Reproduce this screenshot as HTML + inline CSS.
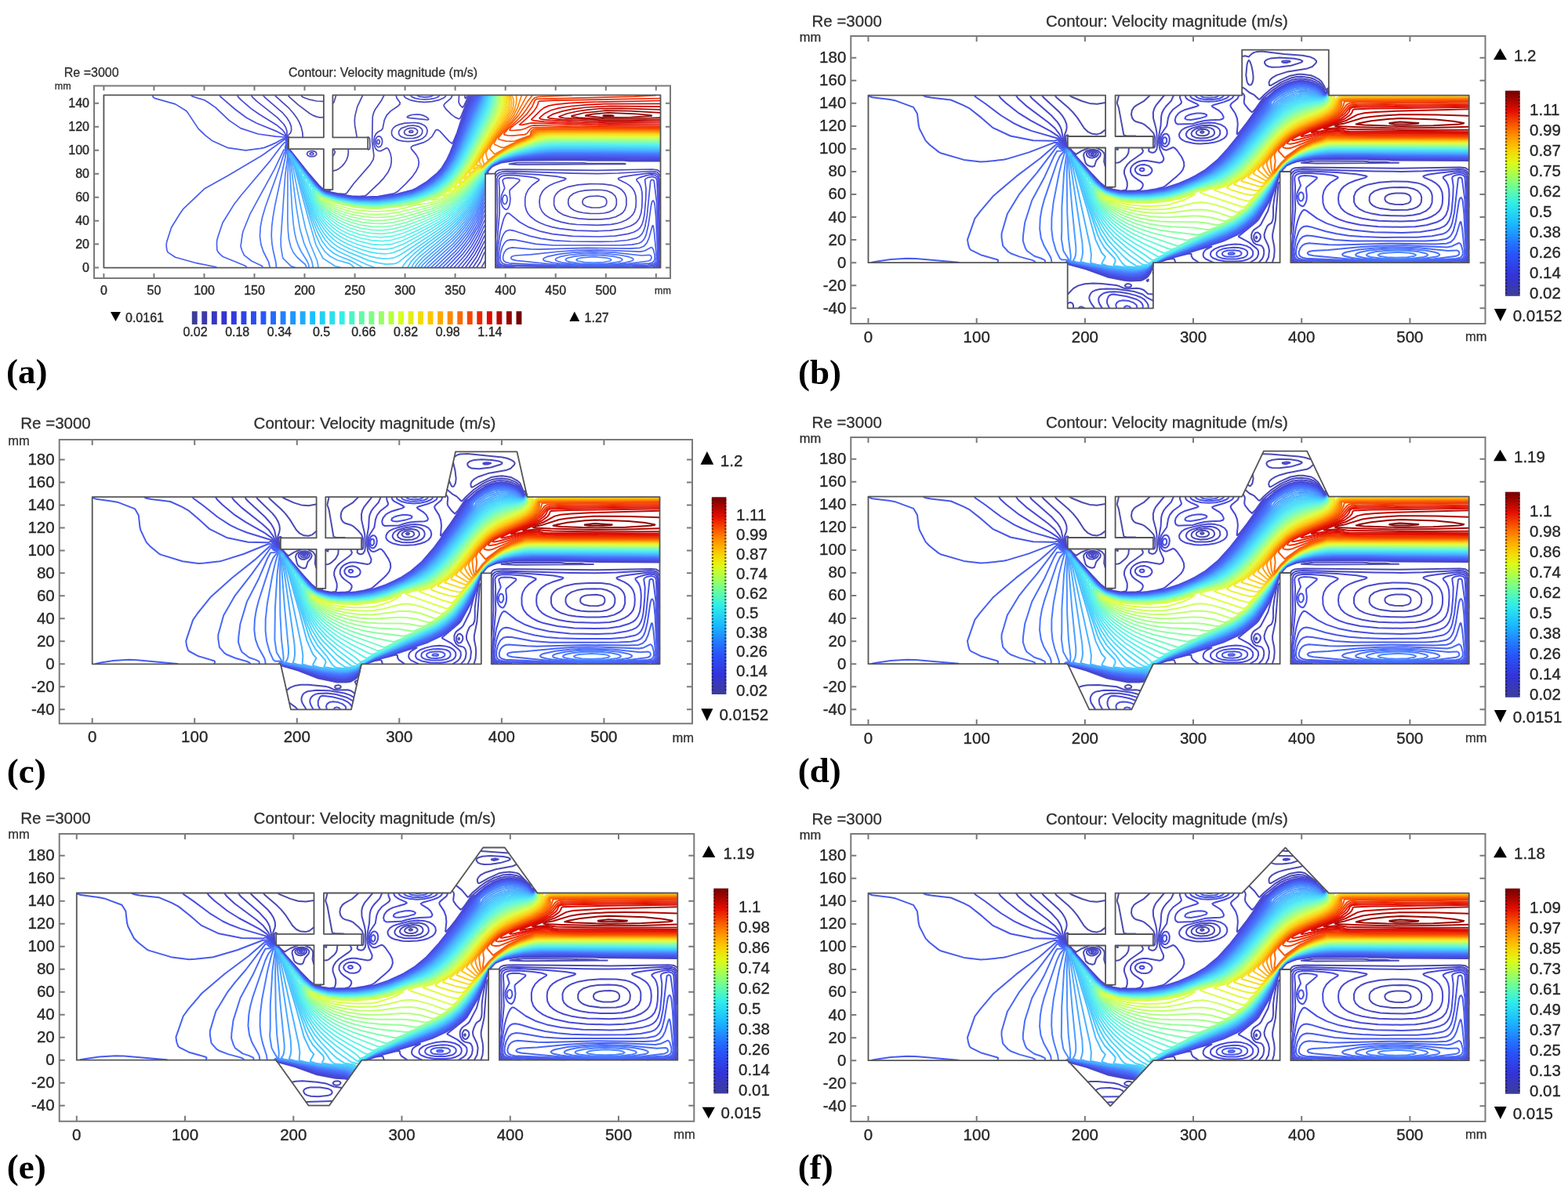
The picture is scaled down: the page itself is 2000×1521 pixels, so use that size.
<!DOCTYPE html>
<html><head><meta charset="utf-8"><title>Contour: Velocity magnitude</title><style>
html,body{margin:0;padding:0;background:#fff;}
svg{display:block;}
text{font-family:'Liberation Sans', Arial, sans-serif;}
.tl{fill:#262626;stroke:#262626;stroke-width:0.35px;}
.tt{fill:#303030;stroke:#303030;stroke-width:0.3px;}
.pl{font-family:'Liberation Serif', 'Times New Roman', serif;font-weight:bold;font-size:45px;fill:#000;}
.frm{fill:none;stroke:#7a7a7a;stroke-width:2;}
.geo polygon{fill:none;stroke:#555;stroke-width:1.8;stroke-linejoin:round;}
.ct path{fill:none;stroke-linecap:round;stroke-linejoin:round;}
</style></head>
<body><svg xmlns="http://www.w3.org/2000/svg" width="2000" height="1521" viewBox="0 0 2000 1521">
<defs><linearGradient id="cb" x1="0" y1="0" x2="0" y2="1"><stop offset="0.00" stop-color="#730000"/><stop offset="0.05" stop-color="#ac0600"/><stop offset="0.10" stop-color="#e60d00"/><stop offset="0.15" stop-color="#f44500"/><stop offset="0.20" stop-color="#ff7d00"/><stop offset="0.25" stop-color="#ffae00"/><stop offset="0.30" stop-color="#f5d906"/><stop offset="0.35" stop-color="#def916"/><stop offset="0.40" stop-color="#b1ff47"/><stop offset="0.45" stop-color="#80ff80"/><stop offset="0.50" stop-color="#55f8b8"/><stop offset="0.55" stop-color="#30ede8"/><stop offset="0.60" stop-color="#24d4f5"/><stop offset="0.65" stop-color="#1ab8ff"/><stop offset="0.70" stop-color="#1f94ff"/><stop offset="0.75" stop-color="#246fff"/><stop offset="0.80" stop-color="#2853f9"/><stop offset="0.85" stop-color="#2e43e9"/><stop offset="0.90" stop-color="#3333d9"/><stop offset="0.95" stop-color="#3838b9"/><stop offset="1.00" stop-color="#3d3d99"/></linearGradient></defs>
<rect width="2000" height="1521" fill="#fff"/>
<g id="pa">
<g class="ct" stroke-width="1.7">
<path d="M425.5 190.6l1.9 3 -0.1 0.8 -1.3 3 -1.3 1.1M522.7 169.2l-0.9 -1.1 1.2 -1.5 2.3 -0.1 1.4 0.9 0.1 0.7 -0.9 1.1 -3.2 0M412.6 129.4l-8.4 -0.4 -10.2 -2.2 -7.1 -2.5 -1.6 -1.1 -1 -1.5M428.6 121.7l-2.5 8.2 -1.4 1.9" stroke="#4b4baa"/>
<path d="M614.2 341.2l4.5 -8.1M754.5 264.8l-6.4 -1.3 -4 -2.4 -0.8 -1.5 -0.3 -2.3 0.6 -2.2 1.1 -1.5 2.8 -1.7 3.8 -1.2 11.5 -0.7 6.9 1.3 2.1 1.3 1.3 1.7 0.7 2.3 -0.1 3 -1.2 2.2 -1.8 1.5 -6 1.7 -10.2 -0.2M421.2 242.3l-0.1 0.8 -1.5 0.2 -3.4 -0.2 -2.1 -0.8M412.6 241.6l-5.8 -5.3 -14.7 -17.1 -22.7 -28.6M662.3 210.1l-13 -0.8 9.8 -1.6 24.3 -0.1 61.5 0.2 4.5 0.7 47.4 0.1 1 0.7 -135.5 0.8M394.9 199.6l3.6 0.4 3.2 -0.9 1.9 -1.7 0 -2.3 -1.4 -1.5 -2.5 -1 -3.2 -0.1 -2.5 0.7 -1.9 1.5 -0.6 1.9 1.2 1.9 2.2 1.1M444.2 190.6l0.1 4.5 -0.7 4.5 -1.6 4.5 -2.6 4.3 -3.2 3.7 -3.8 3.1 -3.8 2 -3.9 0.9M367.7 187.9l0 -4.1M367.7 180.3l0 -4.6M469.1 175.1l1.1 -0.1 1.3 1.8 0.5 9.3 -0.5 3.8 -1.3 1.1 -1.2 -0.5M519.5 172.7l-3 -1.6 -1 -2.2 0.8 -2.3 3.1 -2.2 3.9 -1 4.5 0 3.2 1.3 1.6 1.9 -0.2 3 -2.7 2.4 -4.4 1.1 -5.8 -0.4M412.6 149.6l-4.5 0.2 -3.9 -0.7 -4.5 -1.7 -4.4 -2.4 -14.8 -11.1 -11.3 -10 -1.5 -2.2M462.6 121.7l-6.7 14.2 -3.1 12 -0.5 6 0.3 6 2.7 15M595.9 121.7l-0.8 2.7 -1.3 1.1 -0.7 -0.8 -0.3 -3" stroke="#4a4ab4"/>
<path d="M607.9 341.2l5.1 -7.4 4.3 -10.6 1.4 -1.6M751.9 272.3l-8.1 -0.8 -6.6 -1.3 -5.1 -1.9 -4.2 -2.8 -2.3 -3 -0.9 -3.7 0.3 -4.5 1.9 -3.7 4.5 -3.6 6.5 -2.5 8.9 -1.6 10.9 -0.6 10.2 0.2 7.1 1.2 5.5 2.4 4 3.7 1.8 4.5 0 6.8 -1.5 3.7 -3.4 3.5 -5.1 2.4 -5.8 1.3 -7 0.5 -11.6 -0.2M622.9 221.3l-0.6 -2.2 1.6 -2.3 3.4 -3.7 4.1 -2.3 7.8 -3.2 19.9 -2.8 81.3 -0.6 11.5 0.7 43.6 0.1 7 0.6 39.7 0.1M842.2 219.6l-3.8 -2.8 -6.4 -0.8 -69.8 1.4 -114 -1.3 -7.7 0.3 -4.5 0.7 -3.2 1.9 -1.4 2.3M395.8 197.4l2.7 0.3 1.2 -0.8 0.3 -1 -1.5 -1.2 -2 0.1 -1.4 1.1 0.7 1.5M367.7 189l-0.8 -1.4 0.6 -6 -0.7 -6 0.9 -1.4 1.2 0.7M517.6 176.5l-5.8 -2 -1.9 -1.7 -1.1 -1.7 -0.2 -2.2 0.6 -2.3 2.8 -3 8.1 -2.9 7.1 -0.7 7 1.4 3.7 3 0.9 2.2 -0.3 3 -1.2 2.3 -2.7 2.2 -3.6 1.5 -3.8 0.8 -9.6 0.1M386.3 174.9l-0.5 -6 -1.6 -6.8 -2.4 -6 -3.4 -5.9 -4.4 -6 -5.3 -6 -16.7 -15 -0.9 -1.5M489.9 121.7l-3.1 6 -8.3 12 -2 4.5 -1.2 4.5 -0.7 31.4 2.3 18 -0.7 5.3 -4.1 6.7 -21.3 24.7 -8.8 12 -2.6 0.8 -9.2 -0.8 -14.6 -3 -4.2 -2.2 -6 -6 -14 -16.4 -22.5 -28.6M598 121.7l-6.1 13.2 -2 2.2 -2.9 -2.7 -1.9 -3.7 0.4 -9" stroke="#4848bd"/>
<path d="M603.2 341.2l6.6 -9.7 7 -14.5 1.9 -2.5M841.5 341.2l0.7 -1M632.2 340.3l0.9 0.9M750.7 279.8l-12.8 -1 -10.3 -1.8 -8.3 -2.6 -6.5 -3.6 -4.3 -4.5 -1.9 -5.2 0.1 -7.5 0.8 -3 1.8 -3 2.9 -3 3.2 -2.3 9.6 -4 12.2 -2.5 15.4 -1.1 16.6 0.1 11.1 1.5 4.9 1.5 4.5 2.2 3.3 2.3 2.8 3 1.8 3 1.2 3.8 0.2 9.7 -2 6 -2.2 3 -2.5 2.2 -7.1 3.8 -8.3 2.1 -10.2 1 -16 -0.1M842.2 225.4l-1.9 -3.8 -1.9 -1.8 -3.2 -1 -4.5 -0.3 -42.3 2.5 -25.6 0.6 -32 -0.4 -66.6 -2.3 -18.6 -0.2 -5.1 0.5 -3.8 1 -2.6 1.9 -1.9 3.1M621.9 221.3l-0.3 -1.5 0.3 -1.1 4.8 -5.6 10.1 -5.3 2.4 -0.8 20.5 -2.9 35.9 -0.7 42.9 -0.1 14.1 0.6 42.9 0.2 8.3 0.6 38.4 0M367.7 189.6l-1.2 -2 0.7 -6 -0.8 -6.7 0.7 -1.9 3.5 -3.4 1.1 -3.7 -0.3 -4.5 -1.9 -5.3 -3.6 -5.9 -5.2 -6 -22.5 -19.5 -2.4 -3M514.4 180.2l-5.2 -1.1 -3.8 -1.5 -3.2 -2.2 -2.1 -2.8 -0.7 -3 0.6 -3.7 2 -3 2.8 -2.1 4.4 -1.9 7.1 -1.8 12.8 -0.6 5.1 0.6 4 1.3 3.7 2.2 2.1 2.3 1.1 3.7 -0.6 3.8 -1.7 3 -3.5 3 -4.4 2 -5.8 1.4 -8.3 0.8 -6.4 -0.4M505.3 121.7l0.7 3.2 4.1 5.8 0 2.2 -2.2 2.3 -9.8 6.7 -4.9 5.2 -2.9 6.1 -2.2 10.9 -1.6 1.8 -4.1 2.3 -2.6 2.3 -1.9 3.5 -1 4.6 0 4.5 0.9 3.8 1.3 2.8 2 2 1.9 0.9 2.6 0.1 7.6 -4 1.3 0.6 1.3 1.5 2.2 5.1 1.2 6 0 5.2 -1 5.2 -3.3 7.5 -5.5 7.5 -5.6 6 -16.7 15.8 -1.8 0.7 -6.6 0.8 -10.3 -0.5 -18.3 -2.5 -13.1 -2.9 -4.1 -1.6 -6.7 -6 -6.5 -7.4 -31.2 -39.1M599.7 121.7l-5.6 12 -6.1 15.1 -1.3 2.1 -1.3 0.9 -4.4 -1.9 -5.2 -3.8 -7.3 -7.2 -2.3 -3.7 0.1 -1.5 1.1 -1.5 7.8 -6.8 1.8 -3.7" stroke="#4848c6"/>
<path d="M598.4 341.2l9.5 -13.5 9.6 -18.9 1.2 -1.4M839.7 341.2l2.5 -3.5M632.2 337.6l3.5 3.6M842.2 268l-1.1 -39.2 -1.8 -5.2 -1.6 -1.4 -2.5 -1.1 -7.1 -0.2 -21.4 2.7 -12.5 2 -5.1 1.7 -0.6 0.8 1.3 1.5 8.2 3.8 5.5 3.7 3.5 3.6 2.3 3.9 1.6 5.2 0.5 6.8 -0.4 7.4 -1.7 6 -2.3 3.9 -3.5 3.6 -4.8 3.2 -5.8 2.6 -6.4 1.9 -7 1.2 -17.3 1 -26.3 -0.9 -10.2 -1.2 -9.6 -1.9 -8.3 -2.5 -7.1 -3.1 -5.1 -3.4 -4.1 -4.4 -2.8 -6 -0.7 -6.7 0.8 -6.7 2.9 -6 3.3 -3.8 5.2 -3.7 7.6 -3.6 12.2 -3.9 1.9 -1.5 -0.9 -0.8 -11.1 -2.2 -23.5 -2.3 -30.5 -1.7 -14.1 0.4 -3.2 0.8 -2.6 1.7 -1.3 1.8 -0.8 3 0.5 42 -0.9 18.7 -1.3 14.3M621.4 221.3l-0.1 -2.2 2.9 -3.8 2.9 -3 4.1 -2.2 8 -3.4 19.9 -3 33.9 -1 39.1 -0.2 21.8 0.6 40.3 0.1 10.9 0.6 37.1 0.1M482.1 187.6l1.5 0.1 2 -1.1 1.2 -2 0.8 -3 -0.1 -3 -0.8 -2.2 -1.1 -1.6 -2 -0.9 -1.9 0.4 -1.3 1.1 -1.3 2.5 -0.4 2.2 0.7 4.5 1 1.8 1.7 1.2M540.5 152.4l4.6 0.6 1.6 -0.6 -0.7 -1.5 -3 -2.2 -3.7 -1.6 -4.4 -0.9 -4.5 -0.2 -5.1 0.5 -4.5 1.4 -1.5 1.5 1.1 0.8 2.9 0.5 17.2 1.7M515.1 121.7l0.6 1.5 1.9 1.8 6.4 2.9 8.3 1.8 9 0.6 9.6 -0.7 8.9 -1.9 6.4 -2.9 1.9 -1.6 0.7 -1.5M601.3 121.7l-7.4 15.7 -5.5 15 -5.5 17.2 -4.5 10.7 -1.9 2.9 -3.8 -3.1 -11.6 -12.7 -2.5 -1.7 -2 -0.2 -1.2 1.3 -4.3 7.3 -4.7 4.4 -6.4 3.4 -13.6 4.2 -2.1 1.5 0.3 2.3 6.2 7.5 2.5 4.5 1 5.2 -0.7 5.2 -2.7 6 -4.7 6.8 -8.3 9 -10.9 10.5 -4.3 2.2 -20.3 3.9 -26.9 0.8 -16.1 -2 -15.3 -2.8 -9 -2.2 -4.7 -2.9 -5.3 -5.3 -8.6 -10 -24.3 -30.9 -5.6 -6.3 -0.4 -2.2 0.7 -5.3 -1 -6 0.1 -8.2 -1.4 -4.5 -2.6 -4.4 -8.4 -8.6 -26.2 -20.7 -5.5 -5.3 -1.2 -2.2" stroke="#4848d0"/>
<path d="M593.7 341.2l12.2 -16.8 5.8 -10.4 5.8 -12.2 1.2 -1.5M837.4 341.2l3 -3 1.8 -6.3M842.2 322.8l-2.5 -92.5 -1.3 -4.5 -2.6 -2.1 -4.5 -0.8 -5.7 0.7 -10.1 3 -3.5 2.2 0.1 1.5 3.6 4.5 2 4.5 1.2 6 0.3 6.8 -0.4 11.9 -1.2 8.3 -2.3 6.5 -3.5 4.7 -2.9 2.3 -4.5 2.4 -12.1 4 -14.1 2 -17.3 0.6 -26.3 -0.7 -21.1 -2.4 -9.6 -2.1 -8 -2.3 -7.4 -3 -5.5 -3 -6.6 -5.3 -2.5 -3 -2.2 -3.7 -1.9 -6.8 -0.1 -8.9 1.2 -6 3.1 -6 4.9 -5.4 8.3 -5.9 0.5 -0.7 -0.2 -0.8 -6 -2.2 -9.8 -1.5 -15.8 -1.4 -10.3 0 -4.1 0.6 -2.9 1.4 -1.9 2.4 -0.4 2.2 0.8 12 -0.4 12.8 0.6 14.9 -5 59.2 0.7 5.3 1.2 3 1.8 1.9 3.7 1.8M621.1 221.3l0.2 -2.6 3.9 -4.9 2.6 -2.2 4.3 -2.3 7.1 -3 20.5 -3.1 32.7 -1.2 33.3 -0.3 80.7 1.3 35.8 0.1M482.1 183.9l1.5 -0.5 0.8 -2.5 -0.8 -2.2 -1.2 -0.5 -1.3 1 -0.5 1.7 0.5 2.1 1 0.9M523.5 121.7l2.3 2.2 3.9 1.5 5.8 1.1 6.4 0.3 7 -0.4 5.8 -1.1 3.9 -1.5 2.2 -2.1M603 121.7l-5.1 9.7 -3.6 8.3 -10.5 30.7 -9.9 24.7 -3.8 8 -7.1 11.8 -5.2 5.7 -14.5 12 -12.3 7.5 -4.8 2.2 -22.9 6 -20.9 3.3 -25 0.5 -9 -0.8 -18.6 -2.9 -13.1 -3.1 -3.5 -1.3 -2.4 -1.7 -5.4 -5.2 -6.3 -7.3 -26.9 -34.2 -6 -6.5 -0.3 -2.2 0.7 -5.3 -1.4 -8.1 -2 -3.9 -2.5 -3.4 -8.3 -7 -21.8 -13.4 -10.3 -7.2 -12.7 -10.9 -3.7 -3.8 -1.2 -2.2" stroke="#4848d9"/>
<path d="M588.9 341.2l9.4 -11.5 5.7 -8.3 7.1 -12.4 6.4 -13.8 1.2 -1.5M833 341.2l4.1 -1.5 2.4 -2.2 1.2 -3.8 0.4 -6 -1.6 -64.4 -1.6 -33 -0.7 -2.2 -1.3 -1.5 -3.9 -1.2 -5.9 1.2 -2.4 1.5 -1.1 1.5 1.4 11.2 -0.3 13.5 -1.7 19.5 -1.3 6.7 -1.6 5.3 -2.5 4.5 -3.2 3.2 -5.1 2.7 -7.1 2.2 -16.6 2.8 -21.1 0.8 -33.3 -0.7 -25.6 -2.7 -16.7 -3.8 -13.4 -4.9 -11.4 -6.4 -13 -10.6 -1.9 -0.8 -1.3 0.1 -1.9 2 -2.6 5.2 -4.4 16 -3.2 21.6 -0.8 10 0.3 6 1.7 4.3 3.2 2 7.7 1.4 9.9 0.5M644.5 267l1.8 0.4 1.3 -1 1.7 -3.1 1.1 -3.7 0.5 -6 -1 -9 0.5 -2.3 12.2 -11.2 0.3 -1.5 -1 -0.8 -6 -1.5 -7.7 -0.4 -4.5 0.7 -2.5 2 0 1.6 2.5 8.9 -4.1 9 -0.7 7.5 0.8 3.7 1.3 3 1.4 2.1 2.1 1.6M620.9 221.3l-0.2 -1.5 0.5 -1.5 3.1 -3.7 3.1 -3 4.2 -2.3 7.6 -3.2 21.2 -3.4 30.7 -1.4 29.5 -0.4 121.6 1.3M532.1 121.7l3.4 1.7 6.4 0.7 7 -0.7 3.5 -1.7M604.7 121.7l-5.4 9.7 -4 9 -11.9 33.7 -10.1 24.6 -3.9 7.6 -5.7 9.3 -5.8 6.2 -14 11.5 -11.1 6.8 -6.2 3 -23.8 5.9 -20 3.1 -23.5 0.4 -6.4 -0.2 -23.1 -3.6 -13.4 -3.2 -5.1 -2.4 -10.9 -11.3 -10.3 -12.4 -17.9 -23.5 -6.4 -6.8 -0.2 -1.5 0.8 -6 -1.3 -6 -1.2 -2.1 -10.3 -5.6 -26.2 -10.7 -13 -7 -14.5 -10.7 -18.1 -15.6 -1.6 -2.2" stroke="#484ce0"/>
<path d="M584 341.2l11.1 -12.7 7.6 -10.8 7.1 -12.2 7.7 -16.8 1.2 -1.6M806.2 341.2l27.1 -1.5 4.4 -2.1 1.9 -3.9 0.4 -7.5 -2.3 -67.3 -3.3 -27.1 -0.5 -1.5 -1.3 -0.9 -1.9 0.2 -1 1.5 -4.4 44.2 -2.6 14.2 -1.9 5.3 -2.3 4 -3.2 3.1 -3.8 1.9 -11.5 2.7 -16 1.5 -18 0.4 -37.8 -0.4 -21.1 -1.2 -17.3 -2.5 -14.1 -3.2 -19.2 -6.4 -5.1 -1.1 -2.6 0.1 -2.5 0.8 -1.9 1.5 -2 2.5 -1.9 4 -1.9 5.9 -2.7 15.6 0.2 9 1.2 2.8 1.9 1.7 3.9 1.2 6.4 0.7 37.1 0.8 23.3 1M643.3 260.3l1.1 0.1 1.2 -0.8 1.6 -3.8 -0.5 -4.5 -1.1 -1.7 -1.2 -0.8 -1.3 0.2 -0.9 0.8 -1.4 3.8 0.4 4 1 2 1.1 0.7M620.6 221.3l0.1 -2.2 3.3 -4.5 3.1 -3 4.5 -2.5 7.6 -3.3 21.2 -3.5 30.1 -1.7 26.9 -0.5 124.8 1.3M606.3 121.7l-5.5 9.5 -4.3 9.2 -12.7 35.2 -10.1 24 -3.6 7.1 -5.9 9.4 -5.6 6.1 -10.4 8.9 -4.2 3 -11.3 6.7 -6.5 3 -22.7 5.6 -16 2.5 -7.1 0.8 -19.2 0.2 -7.7 -0.2 -23 -3.5 -13.5 -3.2 -4.4 -1.8 -6.5 -5.6 -4.4 -4.9 -11.6 -14 -18 -23.8 -6.3 -6.2 -0.6 -2.1 0.9 -6 -1.6 -6 -0.6 -0.6 -12.2 -0.9 -22.4 -3.1 -22.4 -7.4 -14.7 -10 -17 -16.2 -9.5 -6.7 -4.9 -3 -14.7 -4.4 -2.2 -1.6" stroke="#4852e5"/>
<path d="M579.2 341.2l13.3 -14.7 9 -12.3 8.1 -14.2 7.9 -17.7 1.2 -1.7M776.6 341.2l52.8 -2.2 5.1 -1 2.7 -2 1.3 -3 0.4 -5.3 -2.2 -50.2 -1.5 -16.5 -0.7 -2.8 -1.2 -2.3 -1.3 0.8 -1.3 4 -3.7 26.6 -2.8 12 -1.8 4.3 -1.9 2.9 -2.6 2.4 -3.2 1.6 -8.3 1.6 -15.4 0.9 -85.2 0 -22.4 -1.7 -26.2 -5.1 -5.8 -0.4 -4.5 1.1 -3.2 2.7 -3.2 5.8 -1.9 6.8 -0.7 6.3 0.7 4.6 2.4 2.9 4.4 1.5 7.9 0.7 32.7 0.7 52.1 2.3M620.5 221.3l0.3 -3 3.6 -4.5 2.7 -2.4 5.1 -2.8 7 -3 22.4 -3.9 28.9 -1.8 26.2 -0.6 125.5 1.3M608 121.7l-5.5 9 -4.7 9.7 -13.9 37.5 -9.7 22.5 -9.2 15.7 -6.1 6.7 -13.8 11.3 -11.2 6.7 -6.7 3.2 -20.5 5.2 -14.1 2.4 -10.9 1.5 -17.3 0.2 -10.9 -0.2 -23 -3.6 -13.5 -3.2 -5.7 -2.6 -10.3 -10.4 -11.5 -14.1 -17.6 -23.3 -4.2 -4.5 -2.3 -1.5 -0.5 -2.3 1 -6 -2 -5.2 -2.8 0.7 -8 4.5 -6.7 3 -9.1 3.8 -4.8 1 -19.2 2.4 -22.4 -3.1 -20.5 -9.3 -9 -7.1 -8.3 -7.9 -14.1 -21.3 -1.8 -1.9 -13.5 -8.3 -26.4 -7.5 -2.1 -1.5 -0.3 -2.2" stroke="#4858e9"/>
<path d="M574.3 341.2l15.5 -16.5 10.4 -13.8 9.3 -16.1 8 -18.8 1.2 -2M727.7 339.7l24.9 0.7 23.7 -0.3 49.9 -2.1 7.2 -1.3 1.8 -1.1 1.3 -1.9 0.9 -6 -2.9 -31.1 -1.2 -8.3 -0.7 -0.6 -0.6 0.8 -4.2 15.3 -2.9 6.4 -3.8 4.1 -5.1 2 -12.8 0.8 -55.1 -0.8 -59.6 1.9 -12.1 -0.4 -23.1 -1.9 -4.5 0.9 -3.2 2 -2.5 3.5 -1.5 4.7 0 3.7 1.2 2.3 2.2 1.6 4.5 1.2 78.2 3.9M620.3 221.3l0.4 -3 4.9 -6 2.8 -1.9 7 -3.6 3.2 -1.3 7 -1.5 16.7 -2.8 28.2 -2 24.9 -0.7 126.8 1.3M609.4 121.7l-5.6 9 -4.9 10.2 -13.1 34.7 -8.6 20.3 -4.8 9.7 -5.6 9 -5.7 7.1 -12.2 10.4 -12.8 8.1 -8.3 4.1 -24.3 6.1 -20.5 2.9 -8.3 0.4 -18.6 -0.1 -7.7 -0.8 -18.6 -3.1 -15.3 -4 -4.3 -2.6 -7.6 -7.5 -13.1 -16 -17.7 -23.7 -4.1 -4.2 -2.9 -1.8 -0.4 -2.3 1.2 -5.2 -1.3 -3.8 -1.1 -0.8 -28.8 20.4 -43.5 25.8 -29.5 16.4 -27.4 25.9 -4.7 6.7 -10.7 17.3 -5.8 18 -0.6 3 0.1 3.7 0.7 4.5 1 2.4 9.6 6.3 26.9 7.5 24.3 4.8 1.4 0.7" stroke="#495eee"/>
<path d="M569.5 341.2l17.4 -18 12.2 -15.7 10.4 -18 4.1 -9.1 3.9 -10.7 1.2 -2.1M731.3 339l22.6 0.5 22.4 -0.3 51.8 -3.1 3.9 -1.1 2.3 -2 0.9 -3 0 -4.5 -1.9 -7.2 -1.3 -2 -1.3 -0.7 -8.3 4.4 -5.8 1.2 -49.9 -2.2 -30.8 0.4 -23 1.6 -36.5 3.9 -18.6 1.1 -4.3 1 -1.1 0.7 -0.8 1.5 1.7 1.9 5.1 1.2 48.7 5.2 24.2 1.5M620.2 221.3l-0.2 -1.5 0.7 -1.8 4.7 -5.7 3 -2.1 7.4 -3.8 9.8 -2.8 18 -3 27.5 -2.2 23.7 -0.6 127.4 1.2M610.6 121.7l-5.8 9.7 -4.7 9.8 -14.2 36.7 -8.5 19.5 -5.5 10.4 -6.9 10.5 -3.9 4.3 -7 6.2 -11.6 8.3 -13.9 7.5 -15.5 4.1 -10.3 2.3 -20.4 2.8 -25.7 0.2 -8.9 -0.9 -18 -3.1 -16 -4.3 -4 -2.6 -7.5 -7.5 -12.8 -15.7 -17.9 -24 -3.9 -4 -2.5 -1 -1.3 -1 -0.2 -1.5 1.2 -6 -0.4 -0.7 -1.3 -0.2 -4.1 4.6 -14.4 19 -37.2 44.2 -9.2 11.8 -14.3 23.2 -5.9 17.5 -1.4 5 -0.2 4.5 0.3 7.5 1.4 2.9 3.7 3.9 2.9 2.1 25.8 10.5 3.1 1.5 0.9 1.5" stroke="#4963f2"/>
<path d="M564.6 341.2l19.6 -19.5 7 -8.3 6.4 -8.6 6 -9.3 5.3 -9.7 4.3 -9.8 4.3 -11.7 1.2 -1.9M735.6 338.2l33.6 0.4 31.2 -1.9 26.8 -3.7 2.9 -1.5 1 -3 -1 -2.3 -2 -0.9 -10.2 0.7 -34.6 -3.9 -16 -0.8 -15.4 -0.1 -20.5 1 -19.2 2.2 -14.9 3.3 -3.3 1.5 -1.3 1.5 1.1 1.5 1.5 0.8 8.9 2.2 13.2 1.7 18.2 1.3M620 221.3l0 -2.2 0.7 -1.4 4.5 -5.4 3.2 -2.4 7 -3.6 3.8 -1.5 7.1 -1.6 19.2 -3.3 26.2 -2.2 23.1 -0.7 127.4 1.1M611.5 121.7l-0.4 1.6 -6.2 10.4 -4.2 9 -13.6 34.4 -7.8 18 -5.7 11.3 -5.6 8.9 -6.9 8.2 -12.2 10.2 -14.3 8.6 -9.3 3.9 -22.5 5.2 -19.8 2.8 -9 0.3 -21.7 -0.5 -22.5 -3.7 -13.4 -3.4 -5.8 -2.9 -8.7 -8.4 -12.4 -15.4 -17.9 -24.2 -3.2 -3.4 -1.3 -0.9 -5.1 -0.5 -11.6 24.1 -31.3 57.5 -8.9 22 -1.1 4.5 -2.1 15 1.8 5.7 2.6 5.7 9.4 7.3 12.7 6 1 0.7 0.5 1.5" stroke="#4969f7"/>
<path d="M559.8 341.2l22.4 -21.9 7.7 -8.8 6.4 -8.5 6.4 -9.8 5.3 -9.4 4.3 -9.6 5.2 -13.8 1.2 -1.9M742.3 337.5l24.4 0.2 21.7 -1.3 8.8 -1.2 6.7 -1.5 3.4 -1.5 0.6 -1.5 -1.9 -1.5 -4.1 -1.5 -11.2 -2.2 -16.3 -1.7 -17.3 -0.6 -17.3 0.6 -15.1 1.7 -10.5 2.2 -3.9 1.5 -1.8 1.5 0.5 1.5 1.1 0.8 8.1 2.2 12.1 1.5 12 0.8M619.9 221.3l-0.1 -2.2 0.7 -1.5 4.6 -5.4 3.3 -2.5 7.6 -3.9 3.9 -1.4 12.1 -2.8 16.7 -2.6 24.3 -2.1 23.1 -0.7 126.1 1.1M612.5 121.7l-0.8 2.2 -5.5 9.8 -4.7 10 -13.4 33.4 -7.1 16.5 -6.1 12 -6.1 9.7 -7 8.5 -12.2 10.3 -14.1 8.3 -10.2 4.3 -22.5 5.2 -19.8 2.7 -9.6 0.4 -16.7 -0.3 -7.6 -0.7 -19.3 -3.4 -13.4 -3.4 -3.2 -1.3 -3.2 -2.1 -8.4 -8.2 -12.1 -15.1 -17.9 -24.3 -3.2 -3.4 -2 -0.9 -2.4 1 -1.4 2.2 -5.8 17.9 -18.3 51 -4 13.5 -2.3 12 -0.7 12 1.4 10.5 3 9 6.9 13.7 1.4 6.5" stroke="#496ffb"/>
<path d="M554.9 341.2l25.4 -24.3 8.3 -9.3 7.1 -9.1 6.4 -9.7 5.8 -10.4 4.4 -9.9 5.2 -13.8 1.2 -2.1M739.3 336l17.8 0.6 18.3 -0.6 13.7 -1.9 3.3 -1.1 1.6 -1.5 -1.1 -1.4 -1.7 -0.9 -9.2 -2.1 -12.1 -1.3 -12.8 -0.5 -12.8 0.5 -11.6 1.3 -8.7 2.1 -2.2 1.3 -0.5 1 1.5 1.5 3.5 1.1 13 1.9M619.7 221.3l0 -2.2 0.6 -1.5 4.8 -5.7 3.9 -2.7 7.7 -4 19.8 -4.9 16.7 -2.3 21.7 -2 22.5 -0.6 124.8 1.1M613.4 121.7l-0.7 2.2 -10.6 21.2 -19.5 47 -6.4 12.8 -6.5 10.4 -7.5 9 -12 10.1 -14.7 8.7 -10.2 4.1 -23.1 5.3 -19.2 2.5 -9.6 0.4 -16.7 -0.3 -7.6 -0.8 -19.3 -3.3 -13.4 -3.5 -5.9 -2.9 -7.9 -7.5 -13.1 -16.2 -18.4 -25 -3.4 -3.4 -1.3 -0.3 -1.2 0.7 -0.7 1.5 -0.8 7.5 -12.9 59.9 -2.6 15 -1.5 12 -0.5 11.2 0.6 9.8 1.4 8.9 3.6 15.8 0.7 6.7" stroke="#4974ff"/>
<path d="M550 341.2l28.4 -26.6 8.3 -9 7.7 -9.6 7.1 -10.4 6.1 -11.1 4.7 -10.3 5.2 -14.1 1.2 -2.4M745 334.5l12.1 0.5 12.6 -0.5 8.3 -1.5 1.8 -1.5 -2.2 -1.5 -5.2 -1.2 -15.3 -1.1 -15.4 1.2 -4.6 1.1 -2.1 1.5 1.8 1.5 8.2 1.5M619.6 221.3l-0.2 -1.5 0.8 -2.2 4.9 -5.9 3.9 -2.7 7.7 -4 8.3 -2.5 12.2 -2.8 21.1 -2.9 19.2 -1.7 22.4 -0.6 122.3 1.2M614.3 121.7l-1 3 -10.6 21.8 -19.2 45.6 -6.8 13.5 -6.7 10.5 -7.6 9.1 -11.6 9.6 -14.7 8.6 -10.8 4.3 -23.7 5.3 -18 2.4 -10.2 0.4 -16.7 -0.3 -7.6 -0.8 -19.3 -3.4 -13.4 -3.5 -6.3 -3.2 -7.8 -7.5 -12.8 -15.9 -17.9 -24.6 -3.9 -3.9 -1.8 0.2 -0.4 1.5 1.1 3 -0.1 5.2 -2.7 21 -5.6 80.9 0.1 9.8 2.1 13.4 0.9 2.2 9.6 9.5 5.3 1.8" stroke="#4a7fff"/>
<path d="M545.2 341.2l31.9 -29.4 9 -9.6 7.7 -9.5 7.3 -10.7 6.4 -11.2 5.4 -12 5.8 -15.7M619.5 221.3l-0.2 -1.5 0.7 -2.2 5 -6 4.6 -3.2 7.7 -3.9 21.1 -5.5 23.1 -3.2 17.9 -1.6 22.4 -0.5 120.4 1.1M615.2 121.7l-0.9 3.1 -10.3 21.6 -18.8 44.2 -7.2 14.3 -7.1 11.2 -7.9 9.4 -11.5 9.6 -14.1 8.3 -11.5 4.7 -24.3 5.4 -18 2.3 -10.2 0.4 -16 -0.3 -8.3 -0.9 -19.3 -3.4 -13.4 -3.6 -6.4 -3.2 -8.8 -8.5 -12.3 -15.6 -17.5 -24.1 -3.7 -3.7 -1.2 0 -0.3 1.5 1 1.5 0.4 2.2 0.2 5.3 -0.8 21.7 -0.1 56.2 0.6 14.2 1 9.8 2.4 9.7 3.5 7.5 4.8 6 9.7 8.5 1.3 2 0.6 2.2" stroke="#4a8aff"/>
<path d="M541.1 341.2l4.6 -5.2 31.4 -28.3 8.3 -8.8 7.7 -9.3 7.7 -11 6.4 -11.2 5.8 -12.6 4.5 -13 1.2 -1.7M619.4 221.4l-0.3 -1.6 0.7 -2.2 5 -6 4.8 -3.4 7.7 -4 21.1 -5.6 25 -3.7 16.7 -1.5 22.4 -0.5 119.7 1.1M616.1 121.7l-1.4 4.5 -10 21.5 -18.2 42.2 -7.6 15 -7.1 11.2 -8.1 9.8 -11.6 9.6 -14.3 8.3 -11.9 4.8 -24.3 5.4 -18 2.3 -10.2 0.3 -16 -0.3 -8.3 -0.9 -19.3 -3.5 -14 -3.8 -6.4 -3.5 -8.5 -8.3 -12 -15.2 -17.7 -24.5 -4.1 -3.5 -0.5 0.5 1.3 3 1.3 11.2 3.4 60 1.5 17.2 1.7 12 2.1 9 2.6 7.5 3.7 7.5 7.9 12.7 1.5 3.8 0.5 3.7" stroke="#4b94ff"/>
<path d="M537.1 341.2l2 -3 5.4 -5.4 32.6 -29 8.3 -8.7 7.1 -8.4 7.7 -10.8 6.4 -10.9 5.4 -11.4 5.4 -14.3 1.3 -1.8M619.3 221.5l-0.4 -1.7 0.7 -2.2 5 -6 5 -3.7 7.7 -3.9 21.1 -5.8 26.3 -4.1 16 -1.5 21.8 -0.5 119.7 1.1M617 121.7l-2.1 6.4 -27.1 61 -7.6 15 -7.4 12 -8.8 10.5 -11.2 9.3 -13.6 7.9 -13.3 5.4 -25 5.3 -17.3 2.2 -10.2 0.4 -16 -0.5 -8.3 -0.8 -19.3 -3.5 -13.4 -3.7 -3.8 -1.6 -3.2 -2.1 -8.9 -8.6 -11.6 -14.9 -17.8 -24.8 -3.5 -3 3.3 15 7.1 56 4.5 27.2 5.1 18 9.8 22.4 1.2 4.5 0.5 4.5" stroke="#4b9eff"/>
<path d="M533 341.2l2.5 -3.7 5.6 -6 33.5 -29.1 8.9 -8.9 8.4 -9.6 7.6 -10.5 6.4 -10.6 5.3 -10.7 6.3 -15.5 1.2 -1.6M619.2 221.6l-0.4 -1.8 0.6 -2.2 5 -6 4.6 -3.5 8.3 -4.4 21.1 -6 26.9 -4.4 16.1 -1.5 21.1 -0.5 119.7 1.1M617.9 121.7l-2.7 8.2 -26 58.5 -8.4 16.5 -7.7 11.9 -8.8 10.4 -10.9 9.1 -13.4 7.8 -13.5 5.4 -24.9 5.4 -17.3 2.2 -10.3 0.4 -16 -0.4 -8.3 -0.9 -19.9 -3.6 -13.4 -3.7 -6.9 -3.6 -9.1 -8.7 -11.5 -14.8 -18 -25.1 -1.9 -1.6 -0.5 0.8 0.2 1.5 0.9 3.7 2.9 6.7 10.8 54.7 6.3 28.5 5.6 18.8 9.4 23.2 1.5 8.2" stroke="#4ca9ff"/>
<path d="M529 341.2l3.4 -5.2 6.2 -6.8 35.3 -30 9 -8.7 8.3 -9.3 7.7 -10.2 6.4 -10.3 5.6 -10.9 6.6 -15.5 1.2 -1.8M619 221.7l-0.4 -1.9 0.6 -2.2 4.7 -5.7 5.1 -4 8.3 -4.4 9 -3 12.1 -3.2 28.2 -4.9 15.4 -1.4 21.1 -0.5 119.1 1.1M618.8 121.7l-0.8 3.7 -2.5 6.3 -24.6 55.2 -8.8 17.2 -8 12.7 -8.8 10.5 -11.2 9.4 -12.8 7.4 -14.1 5.8 -25 5.4 -17.9 2.2 -10.3 0.4 -16 -0.5 -8.3 -0.8 -19.2 -3.5 -14.1 -3.9 -3.8 -1.6 -3.2 -2.1 -9 -8.5 -26.5 -35.1 -3 -4.8 -1.9 -1.2 1 4.5 2.9 3.9 2.5 8.2 17.7 65.8 9.8 34 9 17.2 15.4 10 6.8 1.7" stroke="#4bb2ff"/>
<path d="M525 341.2l3.3 -6 7.2 -7.9 37.1 -30.5 9.6 -9.1 8.4 -9.1 7.7 -9.9 6.4 -10 5.7 -10.8 7.1 -15.8 1.2 -1.6M618.9 221.9l-0.5 -2.1 0.6 -2.2 4.2 -5.3 4.5 -3.8 9 -5 9.6 -3.4 12.1 -3.3 28.9 -5.2 14.7 -1.4 21.1 -0.5 119.1 1M619.9 121.7l-1.1 4.5 -2.9 7.5 -23.7 52.4 -9.1 18 -8.1 12.7 -9.4 11.2 -10.8 9.1 -12.9 7.4 -14.1 5.7 -25 5.5 -17.9 2.2 -10.2 0.5 -16.7 -0.6 -8.3 -0.8 -19.2 -3.6 -13.5 -3.7 -4.4 -1.8 -3.2 -2.1 -9.3 -8.7 -26.2 -34.5 -3 -5 -1.3 -1 1 3.8 3 3.7 3.1 8.7 18.5 64 7.7 23 5.4 12.2 6.2 9.2 6.5 5.8 8.8 4.7 16.1 4.7 2.6 1.8 2.9 3" stroke="#4abbff"/>
<path d="M519.9 341.2l4.5 -7.5 7.7 -8.2 8.8 -7.5 30.5 -23.7 9.6 -8.7 8.3 -8.7 7.7 -9.5 6.4 -9.4 5.7 -10.3 8 -16.6 1.6 -1.7M618.8 222l-0.6 -1.4 0.3 -2.3 4.4 -6 4.8 -4 9 -5.1 8.9 -3.2 12.8 -3.7 29.5 -5.5 14.7 -1.4 20.5 -0.5 119.1 1M620.9 121.7l-1.3 5.2 -3.4 8.8 -21.9 48.2 -9.4 18.7 -8.4 13.5 -9.2 11.2 -10.7 9.3 -11.5 7 -14.7 6.4 -10.3 2.7 -15.3 3.2 -18 2.3 -10.2 0.6 -25 -1.2 -18.6 -3.3 -12.1 -3.1 -6.4 -2.1 -3.9 -2 -9.4 -8.5 -24.5 -32.1 -1.9 -1.8 9.1 27.1 7.4 27 5.2 16.2 8.1 20.5 6.7 12.8 6.4 8.4 7.7 6.3 7 3.8 15.4 6.1 12.1 6.8 1.7 1.5" stroke="#48c4ff"/>
<path d="M513.4 341.2l1.4 -3 3.5 -4.5 9.6 -9.7 10.2 -8.3 31.3 -23.2 9.6 -8.3 8.4 -8.3 7.7 -8.9 6.4 -8.8 6.4 -10.6 8.8 -17.3 2 -1.7M618.7 222.1l-0.7 -1.5 0.3 -2.3 3.7 -5.2 5.7 -5 9 -5.1 9.6 -3.6 11.5 -3.3 30.1 -6 14.1 -1.4 20.5 -0.6 119.7 1M376.6 207.8l0.1 0.6 0 -0.8 -0.1 0.2M622 121.7l-1.6 6 -3.8 9.7 -20.2 44.2 -10.1 20.3 -8.8 14.2 -9.1 11.2 -10.5 9.3 -10.9 6.8 -14.7 6.5 -9.6 2.8 -16 3.3 -15.4 2.1 -12.2 1.1 -25.6 -1 -26.9 -5.1 -12.8 -4 -3.2 -1.7 -3.6 -2.8 -7.6 -7.5 -20.1 -26.7 -2 -2.1 -0.5 0.3 8.6 23.2 7.5 27 4.9 14.4 8.3 18.7 8.4 13.8 7.7 8.5 8.9 6.3 35.9 16.8 10.2 3.9" stroke="#48cdff"/>
<path d="M618.7 222.4l-0.9 -1.8 0.3 -2.3 3.7 -5.2 5.3 -4.8 9.6 -5.6 9.6 -3.6 12.1 -3.7 30.1 -6.1 14.1 -1.5 19.9 -0.5 119.7 1M623.1 121.7l-1.9 6.7 -3.7 9.8 -19 41.2 -10.9 21.7 -9.1 15 -9.1 11.2 -10.2 9.3 -10.9 6.9 -14.2 6.3 -9.8 3 -16.3 3.5 -27.6 3.3 -26.2 -0.9 -25 -4.6 -14.1 -4.2 -3.8 -1.8 -3.2 -2.3 -9 -8.6 -17.9 -23.5 -1.3 -1.4 -0.6 0 8.2 21 6.6 24.8 5 13.5 9.6 19.1 4.5 7 5.1 6.4 5.1 5.1 5.2 4.1 5.7 3.5 7.7 3.8 28.2 11.8 11.5 3 10.3 1.8 10.2 -0.5 3.2 -0.8 3.2 -1.6 20.3 -16.3 33.5 -23.6 14.1 -11.1 10.9 -10.3 9.6 -11.3 8.3 -12.2 11 -19.9 2.4 -1.7" stroke="#4bd3fb"/>
<path d="M618.7 222.7l-1.1 -1.4 0 -2.2 3.3 -5.3 5.5 -5.2 9.6 -5.9 9.6 -3.8 12.2 -3.8 30.7 -6.6 14.1 -1.4 19.9 -0.6 119.7 0.9M624.1 121.7l-4.5 14.2 -10.1 22.5 -17.7 36.7 -11.3 19.5 -9.1 11.7 -10.3 9.7 -10.2 6.9 -13.3 6.2 -10.4 3.5 -15.4 3.4 -11.5 2 -17.3 1.9 -9.6 0.2 -17.3 -0.9 -18.6 -3 -18.5 -4.7 -5.2 -1.8 -3.8 -2.1 -10.7 -9.8 -13 -16.7 -2.6 -2.9 -0.4 0.1 6.5 17.3 5.4 21 4.5 12.2 4.5 9.1 5.2 8.7 5.1 7.3 5.1 6 5.8 5.5 6.4 4.7 7 4 9 4.1 12.8 5.2 10.2 3.4 10.3 2.3 8.9 1 5.8 -0.1 5.1 -0.8 4.5 -1.4 5.1 -2.5 46.8 -30.8 16 -11.6 11.5 -10.2 10.3 -11.2 8.9 -12.4 11.5 -19.5 1.3 -1.6 1.9 -0.8" stroke="#4edaf8"/>
<path d="M618.7 223.1l-1.2 -1.3 -0.3 -2 0.8 -2.2 2 -3 6.4 -6.2 9.6 -5.9 9.6 -3.9 12.2 -3.9 31.4 -7 13.4 -1.4 19.9 -0.6 119.7 0.9M625.2 121.7l-3.9 12.8 -7.4 17.2 -19.9 41.2 -11.5 20.2 -9 12 -9.2 9.2 -9.7 7.3 -11.8 6 -9.2 3.6 -7.7 2.3 -15.4 3.3 -10.9 1.7 -22.4 2 -26.2 -1.5 -22.4 -4.4 -10.9 -3.2 -5.8 -2.3 -4.5 -3.2 -7.9 -7.3 -8.1 -10.2 -3.9 -4.1 4.9 14.3 4.1 17.8 3.9 9.9 4.5 8.6 5.1 8.1 5.8 7.6 5.7 6.2 5.8 5 7 4.9 7.7 4.1 9 3.9 11.5 4.2 9.6 2.7 9 1.6 8.3 0.6 6.4 -0.3 5.8 -1.1 11.5 -4.7 37.8 -22.6 19.8 -13.3 12.2 -10.1 10.2 -10.5 9.6 -12.5 12.5 -19.9 1.6 -1.6 1.9 -0.6" stroke="#51e0f5"/>
<path d="M618.7 223.5l-1.6 -1.4 -0.1 -2.3 0.7 -2.2 2.1 -3 6 -5.9 9.6 -6.2 9.6 -4.1 12.2 -4 32 -7.5 13.4 -1.4 19.2 -0.6 120.4 0.9M626.3 121.7l-3.8 12.7 -6.6 15.8 -20.1 41.2 -10.9 19.4 -8.5 12 -8.9 9.7 -9.6 7.8 -10.2 5.8 -9.6 4 -9 3.1 -25 5.2 -24.3 2.5 -25 -1 -24.3 -4.5 -17.3 -5.4 -6.4 -4.3 -7.8 -7.1 -5.7 -6.8 -1.5 -0.7 2.6 8.2 2.9 15 4.4 11.1 4.4 7.9 5.2 7.3 5.7 7 6.4 6.3 6.4 5.1 7.1 4.5 7.7 3.8 8.9 3.7 9.6 3.1 9.6 2.4 8.4 1.2 8.3 0.4 6.4 -0.5 6.4 -1.3 13.4 -5.2 33.3 -18.4 21.2 -13.5 11.5 -9.1 10.3 -10 9.6 -11.9 13.3 -20.1 2 -1.9 1.9 -0.3" stroke="#55e7f2"/>
<path d="M627.3 121.7l-3.3 12 -5.5 13.5 -18.6 38.2 -10.4 19.5 -7.6 11.9 -7.3 9.5 -8.4 8.4 -8.3 6.5 -6.4 3.8 -8.3 3.8 -9.6 3.6 -8.3 2.3 -24.4 4.6 -17.3 1.9 -9.6 0.2 -23.7 -1.7 -19.2 -3.8 -11.5 -3.3 -6.4 -2.3 -3.2 -1.7 -13.5 -11.6 -0.6 0 1.4 11.3 1.8 7.3 3.2 7.7 4.5 7.5 8.3 10.7 9 8.7 9.6 6.9 10.9 5.7 14.7 5.4 14.7 3.5 12.8 1 12.2 -1.1 13.4 -4.1 18.6 -8.8 27.6 -15 17.9 -12 8.9 -7.6 8.4 -8.5 8.3 -10.4 12.2 -17.7 1.9 -2.1 2.4 -1.1 -1.8 -1.3 -0.2 -3.2 1.8 -3.7 3.2 -3.8 4.8 -4.4 6.4 -4.2 5.8 -3 8.3 -3.3 13.5 -4.4 22.4 -5.5 9.6 -1.8 9.6 -1 29.4 -0.6 110.8 0.9" stroke="#58edee"/>
<path d="M628.3 121.7l-3.2 12 -5.4 13.5 -18.7 38.2 -10.4 19.5 -7.7 11.9 -7.7 10 -8.8 8.8 -8.7 6.7 -6.2 3.5 -8.3 3.7 -9.6 3.5 -7.7 2.1 -24.3 4.6 -17.3 1.9 -9 0.2 -22.4 -1.4 -25.6 -5.2 -15.4 -5.2 -3.8 -2.5 -6.4 -5.7 -2.6 -1.4 -0.7 0.4 -0.2 3 1.2 8.3 2.3 6.7 3.8 7 7.7 10 9.6 9.3 10.2 7.4 11.6 5.9 14.1 5.1 14.7 3.2 13.4 1 12.2 -1.2 14.1 -4 18.6 -8.1 26.2 -13.5 17.3 -10.9 12.8 -10.8 10.9 -11.9 16.7 -23 0.7 -4.5 0.9 -2.2 5.4 -6.5 5.1 -4.3 7.1 -4.4 15.3 -6.6 12.2 -3.8 22.4 -5.7 9 -1.6 9.6 -0.9 28.8 -0.5 110.1 0.9" stroke="#5bf3eb"/>
<path d="M629.3 121.7l-3 12 -5.6 14.2 -19.4 39 -10.1 18.7 -7.8 12 -7.6 9.7 -8.9 8.9 -9 6.9 -5.8 3.2 -8.1 3.5 -17.5 5.7 -24.9 4.7 -17.3 1.8 -8.4 0.3 -22.4 -1.4 -25.6 -5.2 -16 -5.3 -3.8 -2.5 -5.8 -5.1 -1.9 -0.9 -0.7 0.4 -0.2 1.5 1 7.5 1.8 5.7 2.9 5.5 7.4 9.4 9.6 9 10.8 7.6 11.6 5.8 14.1 4.8 14 2.9 13.5 0.9 12.8 -1.2 14.7 -4 18.6 -7.6 25 -11.9 16.6 -9.9 12.8 -10.2 10.9 -11.3 16.4 -21.7 3 -7.5 6.2 -7.4 5.2 -4.1 7 -4.4 17.3 -7.2 10.9 -3.4 22.4 -5.8 8.3 -1.5 9 -0.8 28.8 -0.5 110.1 0.8" stroke="#64f6df"/>
<path d="M630.2 121.7l-2.7 12 -5.6 14.2 -19.5 39 -10.2 18.7 -7.7 12 -8.3 10.5 -9.1 9 -9.2 6.9 -5.8 3.1 -8.2 3.5 -17.4 5.5 -24.9 4.6 -17.3 1.8 -8.4 0.2 -22.4 -1.4 -24.9 -5 -16.7 -5.6 -10.2 -7.4 -0.7 0.2 -0.2 1.1 0.7 6 1.6 5.2 2.4 4.6 7.1 8.7 10.2 9 10.9 7 12.2 5.7 13.4 4.2 14.1 2.6 13.4 0.7 12.8 -1.4 15.4 -4 19.9 -7.6 23 -10.4 16 -9.1 12.2 -9.4 10.2 -10.2 16.7 -21.1 4.7 -9 6.2 -6.7 5.7 -4.4 7.1 -4.2 19.2 -7.8 30.7 -8.6 7.7 -1.4 9.6 -0.8 28.2 -0.5 110.1 0.8" stroke="#6ff8d1"/>
<path d="M631.2 121.7l-2.5 12 -5.5 14.2 -19.8 39 -10.6 19.5 -7.8 11.9 -8.3 10.5 -9.3 9 -9.5 7.2 -14.2 6.3 -17.2 5.3 -24.9 4.6 -17.3 1.7 -7.7 0.3 -23.1 -1.5 -23.7 -4.8 -17.9 -5.9 -8.3 -5.9 -1.3 -0.3 -0.2 2 0.7 4.5 2.7 6.8 6.4 7.8 10.3 8.6 11.5 7 12.8 5.6 13.4 4 14.1 2.3 13.5 0.4 12.8 -1.4 16 -4 22.4 -8.2 20.5 -8.7 14.1 -7.8 11.5 -8.4 10.3 -9.6 17.2 -21.1 5.7 -9.3 6.5 -6.7 7.1 -5.1 6.4 -3.6 10.2 -4.5 10.2 -3.7 28.9 -8.2 7.6 -1.3 9.7 -0.9 28.1 -0.4 109.5 0.8" stroke="#7afac3"/>
<path d="M632.2 121.7l-2.3 12 -5.4 14.2 -19.6 38.2 -11 20.3 -8.4 12.7 -8.4 10.5 -9.3 9 -9.2 6.9 -12.2 5.5 -17.9 5.8 -21.2 4.1 -23.7 2.5 -10.2 0.1 -18.6 -1.2 -17.9 -3.4 -9.6 -2.3 -12.8 -4.2 -3.9 -1.7 -5.7 -4 -1.3 -0.4 -0.3 1.3 0.6 3.7 2.2 5.5 2.6 3.5 3.9 3.9 10.2 7.8 12.2 6.7 12.8 5.1 13.4 3.5 13.5 1.9 13.4 0.3 12.8 -1.5 16.7 -4.1 26.2 -9 16.7 -6.7 12.1 -6.4 11.6 -8.1 10.2 -9.3 16.7 -19.5 7.3 -10.3 6.7 -6.7 7.1 -5.1 7 -3.9 10.9 -4.7 11.5 -4 26.3 -7.6 7.7 -1.3 9 -0.8 27.5 -0.4 110.1 0.8" stroke="#84fcb4"/>
<path d="M633.1 121.7l-2 12 -5.3 14.2 -8.2 16.5 -22.7 42 -8.3 12.7 -8.8 11 -9.6 9.2 -9.6 7.2 -13.1 5.6 -17.7 5.4 -20.5 3.9 -23.7 2.5 -10.2 0.1 -18.6 -1.3 -15.4 -2.9 -10.2 -2.3 -11.5 -3.6 -6.4 -2.5 -6.4 -3.7 -0.4 1.4 0.4 2.2 1.9 4.5 5.8 6.2 10.8 7.6 12.2 6.1 12.8 4.7 13.5 3.2 13.4 1.6 12.8 0.1 13.5 -1.5 16 -3.8 29.4 -9.4 14.1 -5.3 10.9 -5.4 11.5 -7.7 9.6 -8.3 10.9 -11.9 14.7 -18.2 7.7 -7.2 7.7 -5.2 7.1 -3.7 11.5 -4.9 12.2 -4.2 23.6 -6.9 7.7 -1.3 9 -0.7 27.5 -0.4 109.5 0.8" stroke="#8ffda6"/>
<path d="M634.1 121.7l-0.4 5.2 -1.3 6.8 -5.2 14.2 -7.6 15 -23.6 43.5 -8.4 12.7 -8.9 11.2 -9.9 9.5 -9.6 7.3 -10.3 4.5 -18.5 5.9 -23.1 4.4 -24.3 2.5 -10.3 0 -23 -2.1 -23.1 -5.2 -14 -4.7 -6.5 -3.4 -0.4 1.6 1.3 3.7 2.4 3 3.2 2.8 10.8 6.9 12.8 5.8 13.5 4.4 13.4 2.8 13.5 1.3 12.8 -0.1 13.4 -1.6 14.1 -3.2 32.7 -9.5 11.5 -4 9.6 -4.6 10.9 -6.7 9.6 -7.8 9 -9.1 20.4 -23.1 4.5 -4.2 6.5 -4.7 8.3 -4.7 12.1 -5.4 32.7 -10.7 12.2 -2.4 17.9 -0.9 127.4 0.6" stroke="#9aff98"/>
<path d="M635.2 121.7l-0.3 5.2 -1.3 6.8 -5.1 14.2 -6.8 13.5 -25.1 45.7 -8.4 12.7 -9 11.3 -9.4 9 -10 7.6 -10.9 4.6 -17.9 5.7 -23.7 4.4 -24.3 2.5 -10.3 0 -23 -2.2 -22.4 -5 -15.4 -5.2 -4.5 -2.2 -0.5 1 0.7 2.3 1.8 2.2 3.2 2.5 12.1 6.8 12.8 5.1 13.5 3.9 13.4 2.3 13.5 1.1 12.8 -0.4 13.4 -1.6 10.3 -2.3 38.4 -10 9.6 -3.2 8.3 -3.8 10.3 -6.1 8.9 -6.9 8.4 -8 23.6 -25.2 10.9 -8.4 9 -4.9 11.5 -5.1 32.7 -10.9 12.1 -2.2 18 -0.8 126.1 0.7" stroke="#a6ff8a"/>
<path d="M636.3 121.7l-0.3 6 -1.3 6.7 -4.8 13.5 -6.5 12.7 -26.1 47.2 -8.6 12.8 -9 11.2 -9.6 9.1 -10.3 7.9 -10.9 4.3 -17.2 5.4 -24.4 4.5 -24.3 2.5 -10.3 -0.1 -19.2 -1.5 -25.6 -5.5 -19.2 -6.7 -0.6 0.4 0.5 1.5 1.4 1.5 3.8 2.3 12.8 6.1 14.8 4.8 11.5 2.8 14.7 2 11.5 0.6 12.9 -0.6 13.4 -1.7 50 -11.5 7.6 -2.4 7.7 -3.4 10.3 -5.9 8.3 -6.2 33.3 -32.8 10.9 -8.2 9.6 -5.2 10.9 -4.9 32.6 -11.2 11.5 -2 18 -0.8 126.1 0.7" stroke="#b3ff7b"/>
<path d="M637.6 121.7l-0.5 6.7 -1.1 6 -4.7 13.5 -5.7 11.2 -27.3 48.7 -7.9 12 -9.5 12 -9.5 9.1 -10.9 8.6 -5.8 2.5 -23.7 7.9 -23 3.8 -24.4 2.5 -10.9 0 -19.2 -1.6 -24.3 -5.2 -15.6 -5.1 -2.4 0 7.8 3.8 8.9 3.4 16.7 4.5 8.9 1.9 18 1.8 9.6 0.3 12.8 -0.8 12.8 -1.6 24.3 -6 14.1 -2.1 12.8 -2.7 6.4 -1.9 6.4 -2.9 10.3 -5.7 7.6 -5.5 7.7 -6.9 13.4 -13.3 6.5 -5.1 6.8 -6.9 10.5 -7.9 9.6 -5.3 10.9 -4.9 33.3 -11.8 10.8 -1.8 18 -0.8 126.1 0.7" stroke="#bfff6d"/>
<path d="M638.8 121.7l-0.4 6.7 -1.2 6.8 -2 6.7 -2.8 6.8 -29.9 53.9 -6.8 11.2 -11.5 15.5 -8.1 8.5 -15 12.6 -10.9 4.7 3.2 0.2 10.3 -2.3 10.9 -4.9 8.9 -5.2 9.6 -7.6 16.2 -15.5 6.9 -4.6 8.3 -8.2 12.2 -8.5 18.5 -9 32.7 -11.8 10.9 -1.7 17.9 -0.7 125.5 0.7" stroke="#cbff5d"/>
<path d="M640 121.7l-0.4 7.5 -1 6 -4.4 12.7 -5.5 10.5 -27.9 49 -7.7 11.7 -10.9 13.9 -17.9 16.9 1.9 0 5.8 -2.5 13.4 -7.4 8.4 -6.8 14.7 -13.7 7 -4.1 9.6 -9.1 10.9 -7.8 10.3 -5.5 8.9 -4 32.7 -12.1 10.9 -1.8 17.3 -0.6 126.1 0.6" stroke="#d8ff4d"/>
<path d="M641.3 121.7l-0.5 9 -1.7 8.2 -3.1 8.3 -5 9.7 -33.6 57.7 -14.5 19.1 -10.9 11 1.3 0 2.5 -0.9 9.6 -5.4 7.7 -6.2 14.8 -13.3 3.2 -2 4.4 -1.8 9.6 -9.1 11.6 -8.1 9.6 -5.3 8.9 -4.1 33.3 -12.7 10.3 -1.5 17.9 -0.6 125.5 0.6" stroke="#e2fc40"/>
<path d="M642.5 121.7l-0.2 8.2 -1.3 7.5 -2.5 7.5 -3.9 8.3 -34.6 59.1 -12 16.5 -8.3 9.8 -0.5 0.7 0.5 0.5 6.5 -3.5 22 -18.7 2.2 -1.3 5.1 -1.5 9.6 -9 11.6 -8.2 9.6 -5.4 8.9 -4.1 33.3 -13.2 10.3 -1.5 17.3 -0.5 126.1 0.6" stroke="#e7f438"/>
<path d="M643.8 121.7l0 8.2 -1 6.8 -2.1 6.7 -3.4 7.5 -21.8 36.4 -13.8 24.3 -14.7 20.2 -1 1.5 0.1 0.9 4.8 -3.1 16.3 -13.9 3.2 -1.8 5.1 -0.9 11.6 -10.5 5.7 -4.3 6.4 -4 17.3 -8.7 18.6 -7.1 9.6 -4.6 4.5 -1.4 10.2 -1.4 17.3 -0.4 125.5 0.6" stroke="#edeb30"/>
<path d="M645.1 121.7l0.2 8.2 -0.7 6 -2 6.8 -2.9 6.7 -24.2 39.8 -12.8 22.5 -10.3 14.9 -0.5 1.5 3.8 -2.4 12.2 -10.1 2.5 -1.1 3.9 0.2 1.2 -0.6 6.4 -6.1 8.4 -6.7 12.8 -8.1 14.7 -7.3 17.3 -6.7 9.6 -4.9 4.5 -1.4 10.2 -1.2 17.3 -0.5 125.5 0.7" stroke="#f4e228"/>
<path d="M646.4 121.7l0.5 7.5 -0.5 6 -1.5 6 -2.8 6.7 -5 9 -21.6 34.2 -11.1 19.7 -6.1 9.8 0 0.9 1.9 -0.9 8.3 -6.6 1.9 -0.6 3.9 0.9 1.2 -0.5 6.4 -6.1 10.3 -8.2 14.1 -8.5 12.8 -6.1 16.6 -6.6 8.4 -4.6 5.1 -1.7 9.6 -1.1 17.3 -0.5 126.1 0.7" stroke="#fad820"/>
<path d="M647.7 121.7l0.9 6.7 -0.1 5.3 -1.3 6 -2.6 6.7 -5.4 9.7 -12.1 18.2 -11.6 18.7 -12 22.3 0.5 0.2 5.8 -3.3 1.3 0 2.9 1.6 0.9 0 17.3 -14.6 13.4 -8.3 13.5 -6.6 16.6 -6.6 8.4 -5 5.7 -1.8 9.6 -0.9 17.3 -0.4 125.5 0.6" stroke="#ffcd18"/>
<path d="M649 121.7l1.4 6.7 0.1 4.5 -1.1 6 -2.5 6.8 -5.5 9.7 -13 18.9 -12.9 20.6 -7.1 12.9 -0.8 2.3 0.3 0.7 3.2 -0.3 1.2 0.7 1.6 1.9 1.4 0 16.3 -13.8 14 -8.8 14.1 -7 16 -6.5 8.4 -5.4 5.7 -1.6 9.6 -0.9 17.3 -0.3 125.5 0.6" stroke="#ffbe14"/>
<path d="M650.3 121.7l1.9 5.2 0.6 3.8 -0.5 5.2 -1.8 6 -5.4 10.5 -16.7 23.9 -12.2 19.4 -3.9 7.1 -1.2 3.6 2.4 2.9 1.4 3.1 17.3 -13.9 13.4 -8.4 14.1 -7.2 15.4 -6.2 7.7 -5.5 5.7 -2 9.6 -0.9 16.7 -0.3 127.4 0.6" stroke="#ffae10"/>
<path d="M652.4 121.7l2.4 4.5 0.6 3.7 -0.7 6 -1.9 6 -5.7 10.5 -16.5 22.5 -13.7 21.7 -1.4 3 -0.3 2.3 1.8 7.4 1.7 -0.6 13.5 -10.7 13.4 -8.4 14.1 -7.2 15.4 -6.3 2.6 -1.6 5.1 -4.5 5.1 -1.7 9 -0.8 16.6 -0.3 128.7 0.6" stroke="#ff9e0c"/>
<path d="M658.5 121.7l0.4 6 -0.7 5.2 -1.6 6 -2.7 6 -6.2 9.7 -16.3 21 -11.1 18 -0.6 2.3 2.2 8.2 3.2 -1.4 6.5 -4.9 14.7 -9.1 13.4 -6.9 16 -6.7 2.4 -1.7 3.4 -3.9 2.6 -1.3 3.2 -0.8 8.9 -0.8 16.7 -0.3 129.3 0.7" stroke="#ff8d08"/>
<path d="M665.3 121.7l-5.1 15.7 -4.5 9 -5.8 8.2 -16.7 20.3 -7.5 12 -0.8 2.2 0.2 1.3 5.2 5.7 2.5 -0.3 13.5 -7.8 13.4 -6.9 16 -6.6 2 -1.5 3.2 -4.6 2.5 -1.3 3.9 -0.8 25.6 -0.8 129.3 0.7" stroke="#ff7c05"/>
<path d="M672.2 121.7l-13.5 24.7 -5.1 6.8 -19.6 22.4 -3.7 6.8 0 1.1 0.6 0.7 7.1 3.4 3.2 0.7 1.9 -0.1 16.6 -7.8 15.5 -6.3 2 -1.5 1.4 -3.7 1.6 -1.8 2.6 -1.2 4.5 -0.7 24.9 -0.5 130 0.6" stroke="#fd6b03"/>
<path d="M679.1 121.7l-5.9 7.4 -12.2 18.8 -23.3 25.5 -2 3 0.3 1.3 9.6 2.4 5.8 0.3 5.1 -0.4 18.6 -6.6 1.6 -1.5 0.4 -3.8 1.8 -2.2 2.6 -1.4 4.5 -0.4 156.2 0.4" stroke="#f85802"/>
<path d="M729.1 121.7l-42.5 1.8 -4.5 1.2 -3 3 -7.3 11.2 -5.6 7.5 -6.2 6.8 -12.8 11.9 -4.2 5.3 0 1.5 4.6 0.9 6.4 0.3 15.3 -1.5 2.6 -1.1 4.9 -6.1 2.1 -1.3 2.6 -0.6 160.7 1.1" stroke="#f44500"/>
<path d="M836 121.7l-26.8 1.5 -124.5 3.1 -2.2 1.4 -3.6 8.3 -7.2 9.7 -8.3 8.2 -11.6 9 -1.8 3 1.4 0.6 3.2 0 9.6 -0.8 5.1 -1.5 7.7 -3.5 4.5 -0.8 55.1 1.7 105.6 0.9" stroke="#ef3300"/>
<path d="M842.2 125.5l-135.7 2.7 -18.7 1 -1.1 0.7 -0.6 3 -1.7 3.8 -4.2 6 -5.7 6 -11.9 10.4 3.5 0.3 10.3 -2.2 3.8 -0.3 58.9 2.8 36.5 0.8 66.6 0.3" stroke="#eb2100"/>
<path d="M842.2 128.5l-92.8 1.8 -24.4 1.3 -17.2 1.7 -8.4 1.8 -5.7 2.5 -4.5 3.6 -11.3 11.2 0.9 0.8 2.7 0.7 12.8 1.4 41.6 2.4 39.7 1.1 66.6 -0.1" stroke="#e60f00"/>
<path d="M842.2 132.3l-71.7 0.3 -23.7 1.2 -18.6 1.7 -15.3 2.4 -10.3 2.8 -7.7 4 -5.1 4.1 -1.7 2.1 1.1 0.9 5.7 1 43.6 3.1 37.8 1.2 65.9 -0.6" stroke="#d60b00"/>
<path d="M842.2 136.1l-64 -0.7 -30.7 1.6 -16.7 2.2 -13.3 2.7 -12.9 4 -5.9 3.5 0.3 0.8 2.2 0.7 16.8 1.7 49.9 2.6 31.4 0 42.9 -0.8" stroke="#c40900"/>
<path d="M842.2 139.9l-49.3 -1.5 -28.2 0.3 -17.2 1.6 -10.9 1.7 -13.5 3 -10.1 3.7 0.4 0.7 6.5 1.2 51.2 3 32.1 -0.2 39 -1.1" stroke="#b20700"/>
<path d="M842.2 143.8l-38.4 -2.1 -31.4 -0.5 -27.5 2.8 -15.8 3.9 0 0.8 1.7 0.4 7.1 1 34.5 1.9 32 -0.5 37.8 -1.4" stroke="#a00500"/>
<path d="M769.1 150.2l36 -0.5 26.2 -1.8 -0.3 -0.7 -0.9 -0.2 -18.6 -1.7 -35.9 -1.4 -19.6 1.8 -8.8 1.5 -0.4 0.7 22.3 2.3" stroke="#8e0300"/>
<path d="M769.2 147.9l3.9 0.4 9.8 -0.4 -1.5 -0.7 -7.7 -0.4 -3.9 0.4 -0.6 0.7" stroke="#7c0100"/>
</g>
<g class="geo"><polygon points="842.5,121.3 842.5,341.6 631.9,341.6 631.9,221.7 619.1,221.7 619.1,341.6 132.4,341.6 132.4,121.3 412.9,121.3 412.9,175.3 368.0,175.3 368.0,190.2 412.9,190.2 412.9,241.9 424.4,241.9 424.4,190.2 469.2,190.2 469.2,175.3 424.4,175.3 424.4,121.3 842.5,121.3"/></g>
<rect class="frm" x="120.0" y="109.5" width="735.0" height="245.5"/>
<path class="frm" d="M132.4 355.0v-6M132.4 109.5v6M196.4 355.0v-6M196.4 109.5v6M260.5 355.0v-6M260.5 109.5v6M324.5 355.0v-6M324.5 109.5v6M388.5 355.0v-6M388.5 109.5v6M452.6 355.0v-6M452.6 109.5v6M516.6 355.0v-6M516.6 109.5v6M580.6 355.0v-6M580.6 109.5v6M644.7 355.0v-6M644.7 109.5v6M708.7 355.0v-6M708.7 109.5v6M772.8 355.0v-6M772.8 109.5v6M836.8 355.0v-6M836.8 109.5v6M120.0 341.6h6M855.0 341.6h-6M120.0 311.6h6M855.0 311.6h-6M120.0 281.7h6M855.0 281.7h-6M120.0 251.7h6M855.0 251.7h-6M120.0 221.7h6M855.0 221.7h-6M120.0 191.7h6M855.0 191.7h-6M120.0 161.8h6M855.0 161.8h-6M120.0 131.8h6M855.0 131.8h-6"/>
<g class="tl" font-size="16"><text x="132.4" y="375.6" text-anchor="middle">0</text><text x="196.4" y="375.6" text-anchor="middle">50</text><text x="260.5" y="375.6" text-anchor="middle">100</text><text x="324.5" y="375.6" text-anchor="middle">150</text><text x="388.5" y="375.6" text-anchor="middle">200</text><text x="452.6" y="375.6" text-anchor="middle">250</text><text x="516.6" y="375.6" text-anchor="middle">300</text><text x="580.6" y="375.6" text-anchor="middle">350</text><text x="644.7" y="375.6" text-anchor="middle">400</text><text x="708.7" y="375.6" text-anchor="middle">450</text><text x="772.8" y="375.6" text-anchor="middle">500</text><text x="114.0" y="346.6" text-anchor="end">0</text><text x="114.0" y="316.6" text-anchor="end">20</text><text x="114.0" y="286.6" text-anchor="end">40</text><text x="114.0" y="256.6" text-anchor="end">60</text><text x="114.0" y="226.7" text-anchor="end">80</text><text x="114.0" y="196.7" text-anchor="end">100</text><text x="114.0" y="166.7" text-anchor="end">120</text><text x="114.0" y="136.8" text-anchor="end">140</text></g>
<text class="tt" x="81.8" y="98.2" font-size="16">Re =3000</text>
<text class="tt" x="368.0" y="98.2" font-size="16">Contour: Velocity magnitude (m/s)</text>
<text class="tt" x="69.8" y="113.5" font-size="12.5">mm</text>
<text class="tt" x="835.0" y="374.8" font-size="12.5">mm</text>
<text class="pl" x="7.9" y="489.0">(a)</text>
<rect x="244.8" y="397.2" width="6.9" height="16.8" fill="#3d3d99"/>
<rect x="257.3" y="397.2" width="6.9" height="16.8" fill="#3a3aac"/>
<rect x="269.9" y="397.2" width="6.9" height="16.8" fill="#3737c0"/>
<rect x="282.4" y="397.2" width="6.9" height="16.8" fill="#3434d3"/>
<rect x="294.9" y="397.2" width="6.9" height="16.8" fill="#313ae0"/>
<rect x="307.5" y="397.2" width="6.9" height="16.8" fill="#2e43e9"/>
<rect x="320.0" y="397.2" width="6.9" height="16.8" fill="#2a4df3"/>
<rect x="332.5" y="397.2" width="6.9" height="16.8" fill="#2757fc"/>
<rect x="345.1" y="397.2" width="6.9" height="16.8" fill="#246aff"/>
<rect x="357.6" y="397.2" width="6.9" height="16.8" fill="#2180ff"/>
<rect x="370.2" y="397.2" width="6.9" height="16.8" fill="#1f96ff"/>
<rect x="382.7" y="397.2" width="6.9" height="16.8" fill="#1cacff"/>
<rect x="395.2" y="397.2" width="6.9" height="16.8" fill="#1ac1fe"/>
<rect x="407.8" y="397.2" width="6.9" height="16.8" fill="#22d1f6"/>
<rect x="420.3" y="397.2" width="6.9" height="16.8" fill="#2ae0ef"/>
<rect x="432.8" y="397.2" width="6.9" height="16.8" fill="#32efe7"/>
<rect x="445.4" y="397.2" width="6.9" height="16.8" fill="#48f6c9"/>
<rect x="457.9" y="397.2" width="6.9" height="16.8" fill="#62faa7"/>
<rect x="470.4" y="397.2" width="6.9" height="16.8" fill="#7cfe85"/>
<rect x="483.0" y="397.2" width="6.9" height="16.8" fill="#99ff62"/>
<rect x="495.5" y="397.2" width="6.9" height="16.8" fill="#b7ff40"/>
<rect x="508.0" y="397.2" width="6.9" height="16.8" fill="#d5ff1e"/>
<rect x="520.6" y="397.2" width="6.9" height="16.8" fill="#e5ee11"/>
<rect x="533.1" y="397.2" width="6.9" height="16.8" fill="#f4db07"/>
<rect x="545.6" y="397.2" width="6.9" height="16.8" fill="#ffc500"/>
<rect x="558.2" y="397.2" width="6.9" height="16.8" fill="#ffa700"/>
<rect x="570.7" y="397.2" width="6.9" height="16.8" fill="#ff8900"/>
<rect x="583.3" y="397.2" width="6.9" height="16.8" fill="#fd6900"/>
<rect x="595.8" y="397.2" width="6.9" height="16.8" fill="#f44700"/>
<rect x="608.3" y="397.2" width="6.9" height="16.8" fill="#ec2500"/>
<rect x="620.9" y="397.2" width="6.9" height="16.8" fill="#db0c00"/>
<rect x="633.4" y="397.2" width="6.9" height="16.8" fill="#b80800"/>
<rect x="645.9" y="397.2" width="6.9" height="16.8" fill="#960400"/>
<rect x="658.5" y="397.2" width="6.9" height="16.8" fill="#730000"/>
<g class="tl" font-size="16"><text x="249.0" y="429.2" text-anchor="middle">0.02</text><text x="302.7" y="429.2" text-anchor="middle">0.18</text><text x="356.4" y="429.2" text-anchor="middle">0.34</text><text x="410.1" y="429.2" text-anchor="middle">0.5</text><text x="463.8" y="429.2" text-anchor="middle">0.66</text><text x="517.5" y="429.2" text-anchor="middle">0.82</text><text x="571.2" y="429.2" text-anchor="middle">0.98</text><text x="624.9" y="429.2" text-anchor="middle">1.14</text></g>
<polygon points="141,398 154,398 147.5,410" fill="#000"/>
<text class="tl" font-size="16" x="160" y="410.5">0.0161</text>
<polygon points="726.4,410 739.2,410 732.8,397.5" fill="#000"/>
<text class="tl" font-size="16" x="745.6" y="410.8">1.27</text>
</g>
<g id="pb">
<g class="ct" stroke-width="2">
<path d="M1409.8 212.2l-1.6 -5.9 0.7 -8 -0.6 -2.9 -3.1 -3.6 -6.2 -2.9M1389 188.9l-8.9 3.3 -7.6 4.7 -3.5 -2.8 -3.5 -3.8 -0.7 -1.4M1426 188.9l-0.3 2.2 -2.8 -1.2M1532.1 169.6l-1 -1.1 1.6 -1.2 2.1 0.3 0.9 0.9 -1.6 1.2 -2 -0.1M1409.8 131l-10.4 1.7 -9.7 -0.8 -9.6 -2.9 -13.4 -5.5 -2.2 -1.5M1427 122l-2.2 9.5 2.2 6.4 6.3 34 0.7 0.8 2.7 0.6 11.6 0.3" stroke="#4b4bab"/>
<path d="M1438.8 366.8l-3.5 -1.2 -0.4 -1 0.4 -1 1.4 -1 2.8 -0.5 2.1 0.5 1.3 1.1 0.2 0.9 -1.2 1.5 -3.1 0.7M1463.7 359.1l-1 -1 0.2 -0.7 1.9 -0.8 -0.1 1.5 -1 1M1470.6 348.8l0 -1.6M1622.9 334.8l2.1 -6.5 0.7 -8.7 -0.5 -5.8 -2 -9.5 -0.1 -5 3.8 -18.2 3.6 -45.8 0.6 -2.1 1.1 -1M1602.5 304.4l-0.7 -0.5 -0.2 -1 0.9 -1.3 0.9 1.3 -0.9 1.5M1778.7 260.8l-6.9 -1.3 -4.1 -2.3 -1.4 -3 0.3 -2.2 0.8 -1.4 3 -2.1 4.2 -1.2 5.5 -0.8 7.6 -0.1 4.1 0.4 3.5 1 2.3 1.3 1.6 2.2 0.4 2.9 -0.5 2.2 -1 1.6 -2.1 1.4 -6.2 1.5 -11.1 -0.1M1418.5 239l-0.1 0.7 -2.4 0.3 -4.7 -1M1409.9 238.3l-6.4 -5.1 -11.7 -12.2 -28.6 -32.1M1390 212.1l3.2 0.7 2.8 -1.1 2.3 -6.9 5 -5.8 0.6 -2.2 -0.2 -1.4 -2.8 -2.9 -4.9 -1.5 -5.6 0.1 -4.8 1.6 -2.9 2.7 -0.6 2.9 2.4 9.4 1.8 2.4 3.7 2M1679.2 208.5l-19.2 -0.8 16.4 -2.1 15.9 -0.1 47.7 0.2 6.2 0.7 22.1 0.3 4.9 0.9 10.8 0.1 -104.8 0.8M1439.9 188.9l-0.5 5.8 -1.3 2.9 -2.1 2.9 -6.9 5.8 -2.7 1.2 -3.5 0.3M1361.4 186.7l-0.8 -0.7 -0.6 -2.4 -0.7 -8.5 0.3 -1.5 1.1 -1.1 1.4 0.1 0.8 1M1530 172.9l-2.8 -0.9 -1.6 -2 0.6 -2.2 2.4 -1.8 3.5 -1 4.8 -0.1 3.4 1.1 1.8 1.8 0 2.2 -2.4 2.2 -4.2 1 -5.5 -0.3M1409.8 165.6l-5.6 4.3 -4.8 1.5 -6.2 -0.6 -5.5 -2.6 -4.9 -4.7 -8.5 -13.1 -5.9 -7.3 -5.9 -5.8 -15.1 -13.1 -1.5 -2.2M1466.5 122l-7.7 7.2 -9.6 5.4 -2.8 2.2 -2.6 4.1 -0.8 5.1 1 4.4 2.4 3.3 2.8 1.6 6.9 1.9 3.4 1.6 6.9 5.8 4.9 5.3 1.8 5.2 0.3 8.7 -0.4 3.6 -1.1 1.1 -0.8 -0.2M1694.4 112.2l-3.4 2.7 -1.9 -5.2 -3.7 -6 -2.7 -2.3 -6.9 -3.8 -3.5 -1.3 -11 -1.6 -5.6 0.1 -10.3 1.9 -13.2 6 -11 6.2 -1.4 0.2 -0.7 -0.4 -0.6 -3.4 1.6 -3.6 3.2 -2.9 5.2 -2.9 14.1 -4.5 24.9 -4 6.4 -2.4 4.4 -4.4 0.8 -1.4 -0.1 -1.5 -2.5 -2.6 -4.9 -2.3 -10.3 -2.1 -23.5 -1.8 -28.4 -3.3 -5.5 0.3 -4.2 1 -3.4 2 -3.4 3.5 -4.9 -1.1 -3.4 0.6M1593.5 108.5l-1.7 -1.7 -1.3 -2.9 -1.2 -8 1.2 -13.1 1 -3.8 1.4 -2.1 1.3 1.3 2.1 5.8 1.7 8.3 0.6 5.8 -0.3 4.3 -1.1 3.7 -1.6 2.2 -2.1 0.2" stroke="#4a4ab5"/>
<path d="M1376.2 392.9l1.1 -1.1 2.1 -0.5 3.5 1.6M1470.6 375.6l-6.3 -0.5 -5.5 -5.1 -4.8 -1.8 -4.2 -0.4 -12.4 0.7 -4.5 -1 -5.9 -2.6 -3.4 -0.9 -18 -2 -11 -0.6 -11.1 0.8 -8.6 2.4 -5.9 3.5 -6.9 7.1M1362.1 337l23.5 6.6 26.9 9.8 21.5 4.3 6.9 0.8 13.8 -0.4 3.4 -1.3 4.2 -2.4 2 -1.8 2.6 -4 2.5 -5 1.2 -4.7M1477.6 334.8l10.7 -3.6 7.8 -1.2 1.7 0.5 1.5 4.3M1614.6 334.8l3.4 -6.5 1 -8.7 -1.2 -5.8 -4.8 -10.2 -0.5 -4.3 1.4 -5.1 2.4 -5.4 1.4 -1.7 4.2 -2.8 1.6 -3.9 0.6 -5.1 -0.1 -11.6 1.3 -10.2 3.5 -19.5 3.4 -12.7M1601.8 308.2l-1.3 -1.1 -1.1 -2 -0.2 -4.4 1.9 -3.5 2.8 -0.8 2.9 2.1 1 2.2 0.1 2.2 -0.8 2.2 -1.5 2.1 -1.7 1.1 -2.1 -0.1M1775.9 268.1l-15.2 -2 -5.5 -1.7 -4.2 -2.2 -3 -2.9 -1.3 -2.9 0 -5.1 1.6 -3.6 4.8 -3.8 8.3 -2.9 10.4 -1.6 13.8 -0.5 9.7 0.4 7.6 1.6 5.5 2.8 3.6 4 1.3 4.3 -0.5 5.9 -1.9 3.6 -3.6 2.9 -5.3 2.2 -6.7 1.2 -19.4 0.3M1635.5 218.6l0.6 -2.1 4.8 -5.1 6.3 -2.9 7.1 -2.5 21.5 -2.7 63.5 -0.2 7.6 0.6 22.1 0.1 6.3 0.6 98.1 0.7M1873.4 217l-4.2 -2.7 -6.9 -0.8 -75.3 1.3 -123 -1.2 -8.3 0.3 -4.8 0.7 -2.8 1.3 -2.1 2.7M1390.1 201.2l3.8 0.3 4.6 -1.7 2.1 -2.2 0.2 -1.5 -0.6 -1.4 -2.2 -1.6 -3.4 -0.8 -4.2 0.4 -2.9 1.2 -1.3 1.5 -0.3 2.2 1.6 2.2 2.6 1.4M1456.3 188.9l1.7 3.6 -0.7 2.2 -2.3 2.1 -13.5 9.5 -3.6 3.6 -2.8 4.4 -1.1 3.6 0 3.6 3.7 10.9 0.1 5.1 -1.2 4.4 -1 0.7 -5.8 0.8 -14.5 -2.4 -4.1 -1.2 -2.8 -1.6 -6.5 -5.8 -13.5 -14.3 -25.8 -29.2M1361.4 187.5l-1.2 -0.8 -0.9 -2.2 -1.6 -8.7 0.2 -3.6 2.2 -5.9 0.6 -3.6 -0.4 -4.3 -1.9 -5.1 -3 -5.1 -4.8 -5.8 -19.7 -18.2 -1.6 -2.2M1531.4 176.5l-6.3 -0.8 -4.1 -2.1 -1.1 -1.4 -0.3 -1.5 0.2 -1.4 1.4 -2.2 2.6 -1.9 3.4 -1.4 9.7 -1.5 4.1 0.3 3.4 0.8 2.6 1.5 1.3 1.4 0.8 2.2 -0.2 2.2 -1 1.5 -2 1.7 -6.2 2.2 -8.3 0.4M1484.7 122l-10.2 12.4 -2.3 4.3 -1.4 5.1 0.3 7.3 3.3 12.3 1 5.9 0.6 16.7 -0.5 4.3 -2.2 3.4 -2 1 -2.1 0.1 -2.5 -0.9 -1.6 -1.4 0.5 -3.6M1694.4 115l-1.4 0.6 -2 2.8 -0.7 -0.1 -2.8 -7.5 -2.8 -4 -2.7 -2.5 -4.9 -2.8 -4.8 -2 -11.7 -1.7 -6.9 0.3 -7 1.4 -13.1 5.6 -11.7 7.7 -9.7 8.4 -5.5 5.7 -1.4 -0.4 -5.5 -5.3 -6.3 -3.2 -6.2 -5.2 -2.7 -1.4M1622.5 85.7l9.7 -0.1 14.5 -1.9 12.5 -3.8 2.1 -1.4 -0.1 -0.8 -2.7 -1.4 -7.6 -1.6 -18.7 -1.2 -11.7 1.1 -4.2 1.3 -2.6 1.8 -0.7 1.5 0.1 1.4 1.9 2.8 3.3 1.6 4.2 0.7" stroke="#4848be"/>
<path d="M1369.1 392.9l-0.1 -3.6 -1.4 -2.6 -2.7 -0.9 -2.8 1.2M1470.6 383.7l-6.9 -3.5 -6.3 -4.7 -10.3 -3.4 -23.5 -3.3 -12.4 -0.2 -8.3 0.5 -5.6 1.2 -3.6 1.6 -2.3 2.2 -1.8 3.6 -0.3 2.9 0.7 2.9 1.9 3.6 4.1 5.8M1362.1 336.6l23.3 6.2 27.8 9.7 21.4 4.2 7.6 0.7 11.8 -0.5 3.4 -1.1 4.2 -2.3 2.2 -2 2.6 -3.8 2.3 -4.1 1.9 -5.8M1476.7 334.8l11.7 -4.3 25.7 -6.4 4.1 -0.6 1.2 0.4 0.3 2.9 1.7 3 7.3 5M1605.7 334.8l4 -4.3 1.6 -2.9 1 -5.1 -0.4 -4.4 -1.4 -2.9 -1.8 -1.8 -6.9 -1.6 -3 -2.4 -2.5 -5.1 -0.1 -5 1 -3 2 -2.9 6.8 -4.7 2.3 -2.5 9.1 -17.5 4.5 -16.5 4.4 -12.5 5.9 -19.6M1872.6 334.8l0.8 -0.9M1646.7 333.9l1.1 0.9M1774.6 275.3l-13.9 -0.9 -11 -1.8 -9 -2.5 -7 -3.5 -4.6 -4.4 -2 -4.3 -0.1 -7.3 1.9 -5.1 2.4 -2.9 3.9 -2.9 4.3 -2.2 6 -2.1 13.9 -2.7 17.2 -1.2 18.7 0.2 12.4 1.7 5.6 1.7 4.8 2.4 3.9 2.9 2.4 2.9 1.5 2.9 0.9 3.7 -0.2 8.7 -2.5 5.8 -5.3 4.8 -6.9 3.2 -9.7 2.2 -10.4 0.8 -17.2 -0.1M1873.4 222.6l-2.1 -3.7 -2.1 -1.7 -3.4 -1 -4.9 -0.3 -45.6 2.4 -27.6 0.6 -34.6 -0.3 -91.8 -2.5 -5.6 0.5 -4.1 0.9 -2.7 1.9 -2.2 3M1634.7 218.6l0.9 -2.1 5.5 -5.9 6.7 -2.9 6.5 -2.2 22 -2.8 61.6 -0.4 38 1.3 97.5 0.7M1392.2 199l2.4 0 2 -0.7 1.5 -1.5 -0.1 -1.4 -1.4 -1.2 -2 -0.6 -2.8 0.1 -2.1 0.9 -1 1.5 0.3 1.2 1.4 1.2 1.8 0.5M1361.4 188l-1.8 -1.3 -1.4 -2.9 -2.2 -7.3 -2.3 -11.6 -2 -4.5 -2.6 -4.2 -8.4 -9.2 -22.7 -19.9 -2.9 -2.9 -1.1 -2.2M1525.1 179.5l-7.7 -2.3 -3 -2.1 -1.4 -2.2 -0.1 -2.2 1.4 -2.9 2.3 -2.2 3.7 -2 12.4 -3.3 10.4 -0.6 4.8 0.8 3.9 1.5 2.8 2.2 1.4 2.1 0.4 3.7 -1.2 2.9 -2.1 2.2 -3.9 2.1 -4.7 1.5 -5.5 0.9 -13.9 -0.1M1496.8 122l-2.9 6.6 -6.8 7.2 -2.7 3.7 -2.1 4.3 -1.1 4.4 -0.6 11.6 -2.4 13.1 -0.4 8 1.7 9.8 4.7 10.5 0.1 2.2 -0.6 1.6 -2 2 -2.8 0.7 -15.9 -2.6 -4.9 0 -4.1 0.7 -4.2 1.5 -3.4 2.1 -2.7 2.7 -1.5 2.9 -0.2 4.4 2.3 4.3 3.5 3.2 8.2 5.5 1.7 2.2 0.1 2.2 -0.8 2.2 -1.4 2.2 -2.1 1.4 -3.8 0.7 -20.6 0.8 -15.2 -2.9 -4.8 -2 -6.3 -5.3 -11 -11.5 -29.6 -33.5M1694.4 116.3l-1.4 0.6 -2 2.4 -1.2 -0.2 -3 -6.4 -4.1 -5 -4.2 -2.7 -6.2 -2.7 -7.6 -1.4 -4.8 -0.3 -5.6 0.2 -6.9 1.3 -12.4 5.1 -11.7 7.9 -12.5 10.5 -9 12.7 -2.7 3.2 -2.1 1.5 -1.4 -0.7 -3.4 -3.5 -4.7 -5.9 -0.8 -2.9 0.7 -7.2 -0.9 -2.2 -1.9 -1.8M1637 79.9l4.9 0 3.9 -1.4 -1.5 -0.8 -3.8 -0.2 -3.5 0.2 -1.8 0.8 0.1 0.7 1.7 0.7" stroke="#4848c9"/>
<path d="M1464.6 392.9l0 -3.6 -1.5 -2.9 -3.6 -4.2 -4.1 -2.7 -6.9 -2.6 -9.7 -2.5 -9.7 -1.7 -7.6 -0.4 -6.9 0.3 -4.8 0.9 -3.5 1.4 -3.4 2.8 -1.6 2.9 0 3.6 1.2 3.7 3.1 5M1362.1 336.2l25.1 6.6 26 8.8 21.4 4.1 8.3 0.7 11.1 -0.7 6.9 -3 2.8 -2.4 2 -2.7 2.4 -4 1.8 -5.5 0.7 -0.7M1476.2 334.8l11.6 -4.5 18.7 -5 33.4 -10.1 5.3 -0.9 0.3 0.2 -6.7 3.6 -2.5 2.2 -1.5 2.9 -0.2 2.9 1 2.2 2.4 2.2 9.6 4.3M1594.8 334.8l6 -3.6 2.9 -2.9 1.5 -4.4 -0.4 -4.3 -1.7 -2.2 -10.2 -8.3 -11.6 -6.2 -1.2 -0.7 -0.2 -0.8 21.9 -17.6 3.3 -3.4 13.1 -22.5 7.4 -18.2 6.6 -20M1870.6 334.8l2.8 -3.4M1646.7 331.3l3.8 3.5M1873.4 263.9l-1.3 -38 -0.7 -2.9 -1.2 -2.2 -1.7 -1.4 -2.7 -1 -7.6 -0.2 -23.2 2.6 -13.5 2 -5.5 1.6 -0.6 0.8 1.4 1.4 8.9 3.7 5.9 3.6 3.8 3.5 2.4 3.8 1.8 5 0.6 6.6 -0.5 7.2 -1.8 5.8 -2.5 3.8 -3.9 3.5 -5.1 3.1 -6.2 2.5 -6.9 1.8 -7.6 1.2 -18.7 0.9 -28.3 -0.8 -11.1 -1.2 -10.3 -1.8 -9 -2.4 -7.6 -3.1 -5.6 -3.3 -4.4 -4.2 -3 -5.8 -0.7 -6.5 0.8 -6.5 3.1 -5.8 3.7 -3.7 5.6 -3.6 8.1 -3.4 13.2 -3.9 2 -1.4 -1 -0.8 -12.1 -2.1 -25.6 -2.2 -33.2 -1.7 -14.5 0.4 -3.4 0.8 -2.8 1.6 -1.4 1.8 -0.9 2.9 0.5 40.7 -1 18.1 -1.4 13.9M1455.6 223.7l6 0.3 2.7 -0.6 2.8 -1.5 2.3 -3.3 0 -2.1 -1.1 -2.2 -3.3 -2.7 -4.8 -1.5 -5.5 0.2 -4.2 1.8 -2.4 2.9 -0.3 1.5 0.4 2.1 2.4 2.9 5 2.2M1634.1 218.6l1.6 -2.7 5 -5.3 8.1 -3.6 5.5 -1.9 22.2 -2.9 60.1 -0.5 40 1.2 96.8 0.8M1392 196.8l1.9 0.4 1.6 -1.1 -0.3 -0.7 -2 -0.5 -1.3 0.5 -0.4 0.7 0.5 0.7M1523.1 183.1l-10.4 -2.3 -4.5 -2.1 -2.6 -2.2 -1.3 -2.2 -0.3 -2.9 0.9 -2.1 2.1 -3 3.6 -2.5 4.9 -1.9 17.2 -4.3 9.7 -1 7.6 0.5 6.9 1.8 5.3 3.1 2.6 3.6 0.6 4.4 -1.3 3.6 -2.9 2.9 -5.2 2.9 -6.7 2.2 -7.6 1.2 -10.3 0.6 -8.3 -0.3M1505 122l0.1 3 1.9 5 -0.3 1.5 -1.6 1.8 -9 6.5 -4.1 5.3 -2 5.3 -1.7 10.1 -7 10.2 -1.4 4.4 -0.3 5 1.4 6.6 1.3 2.2 2.1 1.9 2.1 0.7 2 -0.1 7.6 -3.4 2.1 0.7 3 3.1 6.1 8.7 2.6 5.8 0.5 5.1 -1.7 5.1 -2.6 3.6 -4.5 4.3 -14.6 12.4 -3.7 2.2 -8.8 2.2 -10.8 1.7 -11.8 1.3 -19.3 0.5 -6.9 -0.7 -13.3 -2.8 -4 -2.1 -5.3 -4.5 -16.8 -17.8 -20.1 -23.3 -4.8 -5 -2.5 -1.8 -7.2 -15.1 -6.2 -8.1 -8.3 -7.3 -28.2 -21.1 -10.3 -9.4 -2.6 -3.7M1694.4 117.1l-3.4 2.7 -1.4 0.1 -3.5 -5.9 -5.5 -5.6 -7.6 -3.5 -4.8 -1.3 -9 -0.8 -8.3 0.8 -5.5 1.5 -8.3 3.5 -11.1 7.2 -9.5 8.4 -2.9 1.3 -2.1 1.6 -20.7 29.1 -9.7 12.3 -2.8 2.7 -0.6 -0.5 1.1 -12.3 -0.8 -7.3 -2.4 -6.3 -5.6 -8.2 -0.7 -2.2 1.2 -2.2 8.1 -6.5 1.6 -3.7" stroke="#4848d3"/>
<path d="M1457.6 392.9l0.2 -2.9 -1.2 -2.9 -2.6 -2.6 -4.3 -2.5 -12.3 -3.8 -17.3 -2.7 -2.7 0.3 -2.3 1.2 -1.3 1.4 -1.3 2.9 -0.5 2.9 0.2 2.9 2.7 5.8M1362.1 335.9l24.3 6.2 27.5 8.8 20.1 3.7 8.9 0.8 10.4 -0.7 6.9 -2.8 2.8 -2.1 2.7 -3.4 2.2 -3.6 1.9 -5.1 0.8 -0.6M1475.8 334.8l2.6 -1.4 9.9 -3.6 17.5 -4.9 54.6 -17.3 17.3 -8 6.2 -3.6 18.6 -15 6.5 -9.3 9.7 -16.8 6.2 -14.5 6.6 -20.1 0.9 -1.1M1868.1 334.8l3.3 -2.9 2 -6.1M1563.6 333.4l14.7 0.2 7 -0.9 5.5 -1.5 4.1 -2 2.4 -2.4 1 -2.9 -0.3 -3.6 -2.9 -3.6 -5 -2.8 -6.9 -1.8 -7.6 -0.5 -9.7 0.9 -9.7 2.3 -6.9 2.8 -4.3 3.4 -0.9 2.2 -0.1 2.2 1.1 2.2 1.6 1.4 6.8 2.7 10.1 1.7M1873.4 316.9l-2.7 -89.5 -1.5 -4.4 -2.7 -2.1 -4.9 -0.7 -6.2 0.7 -10.8 2.8 -3.8 2.2 0.1 1.5 3.8 4.3 2.2 4.4 1.3 5.8 0.3 6.5 -0.5 11.6 -1.3 8 -2.4 6.3 -3.7 4.6 -3.2 2.3 -4.8 2.3 -13.1 3.8 -14.5 1.9 -18.7 0.6 -28.3 -0.6 -22.8 -2.3 -18.7 -4 -7.6 -2.6 -6.9 -3.3 -7.6 -5.3 -4.7 -5.9 -2.2 -6.5 -0.3 -9.4 1.3 -5.8 3.3 -5.9 5.4 -5.2 8.9 -5.6 0.6 -0.8 -0.3 -0.7 -6.5 -2.1 -10.8 -1.5 -17.5 -1.4 -11 0.1 -4.2 0.7 -2.7 1.2 -2 2.3 -0.5 2.2 0.9 11.6 -0.5 12.3 0.7 14.5 -5.4 57.4 0.7 5.1 1.3 2.9 2 1.9 3.9 1.7M1454.6 217.9l1.5 0.5 2 -0.3 1.3 -0.9 0 -1.5 -2 -1.3 -2.7 0.3 -1.2 1.8 1.1 1.4M1633.5 218.6l2 -2.9 5 -5.2 7.6 -3.5 6.2 -2.2 22.2 -3.1 22.1 -0.6 36.6 0 42.1 1.2 96.1 0.7M1484.3 186.7l2.2 0.4 2 -0.9 2 -2.4 1 -2.9 0.3 -3.7 -0.6 -2.9 -1.3 -2.2 -2.1 -1.4 -2 0.1 -2.1 1.4 -2.2 4.3 -0.3 2.9 0.4 3.3 1.2 2.5 1.5 1.5M1511.8 122l0.9 3 2.3 2.1 12.2 5.8 1.6 1.5 -2.6 1.4 -15.6 4.5 -4.1 2 -3.5 2.5 -3.2 4.1 -1.1 4.4 1 3.6 2.6 1.7 19.4 -0.7 6.9 -2.2 7.6 -1.6 7.6 -0.9 12.4 -0.5 3.2 -0.9 1.2 -1.4 0 -1.5 -2.2 -4.3 -3.5 -3.4 -8 -4.6 -1.2 -1.5 2.8 -1.4 11.9 -3.3 6.9 -2.6 4.6 -2.8 1.7 -3M1694.4 117.8l-3.4 2.4 -1.4 0.2 -4.2 -5.9 -5.5 -5.1 -8.3 -3.6 -4.1 -1 -8.3 -0.8 -8.3 0.9 -5.5 1.6 -8.3 3.5 -11.1 7.3 -9 8 -5 3.3 -29.5 40.9 -16.6 20.4 -13 14.2 -15.2 12.4 -13.1 7.9 -9 4.4 -11.6 5.1 -19.8 6.5 -20.5 3.3 -11.8 1.1 -14.5 0.3 -8.3 -0.1 -7.6 -1.4 -9.7 -2.3 -4.1 -2.3 -6.6 -5.8 -11.4 -12.2 -23.9 -27.8 -4.4 -4.3 -3.3 -2.2 -2.1 -2.9 -3.6 -6.7 -2.7 -3.2 -9.7 -6.6 -25.6 -13.6 -14.5 -9 -16.8 -13.2 -7 -6.5 -1.9 -3" stroke="#4848dd"/>
<path d="M1450.1 392.9l0.1 -2.1 -0.6 -1.5 -3.4 -2.9 -6 -2.3 -7.6 -0.9 -4.9 0.8 -3.4 2.4 -1.1 2.9 1 3.6M1362.1 335.7l24.2 5.9 28.3 8.6 18.7 3.3 9.6 0.9 10.4 -0.8 6.9 -2.8 2.8 -2.2 2.7 -3.1 2.1 -3.3 1.7 -4.5 1.1 -0.8M1475.4 334.8l2.5 -1.4 9.4 -3.6 19.2 -5.6 53.2 -17.4 18.6 -8.6 7 -4.4 16.5 -13.4 8.2 -11.7 8.4 -14.5 6.6 -15.2 6.5 -18.9 1.4 -1.5M1863.4 334.8l4.4 -1.5 2.6 -2.1 1.3 -3.6 0.4 -5.8 -1.7 -62.5 -1.8 -31.9 -0.7 -2.2 -1.4 -1.5 -4.2 -1.1 -6.3 1.1 -2.7 1.5 -1.1 1.4 1.5 10.9 -0.4 13.1 -1.7 18.9 -1.4 6.5 -1.8 5.1 -2.7 4.3 -3.4 3.2 -5.6 2.6 -7.6 2.1 -17.9 2.7 -22.8 0.9 -35.9 -0.7 -27.7 -2.7 -17.9 -3.6 -14.6 -4.8 -12.2 -6.2 -14 -10.3 -2.1 -0.8 -1.4 0.2 -2 1.9 -2.8 5 -2.8 7.7 -2 7.8 -3.5 20.9 -0.7 9.7 0.2 5.8 1.9 4.2 3.4 2 8.3 1.4 10.7 0.4M1565.4 330.5l12.3 -0.1 8.2 -1.6 2.8 -1.4 2 -2 0.6 -2.2 -0.3 -2.2 -2 -2.1 -3.7 -1.7 -5.6 -1.1 -6.2 -0.3 -7.6 0.6 -6.2 1.2 -5.1 2 -2.3 2.2 -0.7 2.1 0.2 1.5 1.8 2.2 4.7 1.8 7.1 1.1M1660.1 262.9l1.8 0.3 1.4 -0.9 1.9 -3 1.2 -3.6 0.5 -5.8 -1 -8.7 0.5 -2.2 13.1 -10.9 0.4 -1.5 -1.1 -0.7 -6.6 -1.5 -8.2 -0.4 -4.8 0.7 -2.7 1.9 -0.1 1.6 2.7 8.6 -4.3 8.7 -0.8 3.6 0 3.7 0.8 3.6 1.4 2.9 1.6 2.1 2.3 1.5M1632.9 218.6l8.1 -8.7 8.3 -3.6 5 -1.7 22.8 -3.4 21.5 -0.7 35.2 0 44.2 1.2 95.4 0.7M1484.1 183.1l1 0.5 1.4 -0.2 1.7 -2.5 -0.1 -3.7 -1.6 -2 -2.1 0.4 -1.4 2.2 -0.1 3.1 1.2 2.2M1513.3 152.5l5.6 0.5 11.1 -1.9 7.6 -2.2 1.2 -0.7 0.4 -1.5 -2.3 -1.4 -4.8 -0.9 -5.6 0.1 -6.9 1.2 -4.1 1.3 -3.2 1.9 -0.9 2.2 1.9 1.4M1518.2 122l0.4 1.5 1.4 1.5 5.1 2.5 7.6 1.7 9 0.6 9 -0.6 8.3 -1.8 5.9 -2.4 1.7 -1.5 0.7 -1.5M1694.4 118.3l-3.6 2.3 -1.9 0 -4.1 -5.8 -4.9 -4.4 -6.9 -3.2 -6.2 -1.6 -7.6 -0.7 -7.6 0.8 -5.5 1.5 -8.3 3.5 -11.1 7.1 -13.7 11.5 -29.4 40.7 -17.1 21 -12.7 13.8 -15.4 12.4 -14.5 8.7 -12.6 5.8 -10.8 4.4 -16.1 4.9 -20.1 3.2 -12.4 1 -13.1 0.3 -8.3 -0.1 -4.8 -0.6 -11.8 -2.6 -5.5 -2.4 -6.2 -5.2 -6.9 -7.2 -29.7 -34.2 -4.2 -4 -5.1 -3.2 -4.7 -7.3 -1.9 -1.9 -33.5 -9.7 -12.1 -4.6 -10.4 -4.8 -16.6 -10.2 -20.3 -15.3 -12.7 -8.7 -1 -1.5" stroke="#484fe2"/>
<path d="M1442.1 392.9l-1.2 -1.8 -3.5 -0.8 -2.8 0.9 -0.8 1.7M1362 335.4l25.3 6 27.3 7.9 18.7 3.3 9.6 0.8 9.7 -0.7 4.1 -1.2 3.5 -1.8 5.5 -5.1 2.1 -3.2 1.5 -3.7 1.3 -1M1475.2 334.8l2.3 -1.4 10.3 -4.1 18.7 -5.6 53.9 -18 17.3 -8.1 7.6 -4.8 16.1 -13.2 8.8 -12.3 6.1 -10.2 4.8 -10.1 3.8 -8.8 6.8 -18.8 9 -9.5 11.7 -5.1 23.4 -3.9 24.8 -1 35.3 0 42.1 1.1 95.4 0.8M1834.5 334.8l29.2 -1.5 4.8 -1.9 2 -3.8 0.5 -7.3 -2.5 -65.2 -3.6 -26.3 -0.5 -1.5 -1.4 -0.9 -2.1 0.3 -1 1.4 -4.8 42.8 -2.8 13.8 -2 5.1 -2.5 3.9 -3.5 3 -4.1 1.9 -13.8 2.7 -19.4 1.5 -42.1 0.1 -27.6 -0.8 -16.9 -1.4 -15.6 -2.4 -13.8 -3.1 -19.4 -5.8 -4.8 -0.8 -3.5 0.4 -2.7 1.4 -2.1 2.1 -2.1 3.3 -3.4 9.8 -2.4 14.7 0.6 7.3 1.2 2.2 1.9 1.4 4.2 1.2 6.9 0.7 65.2 1.7M1564.6 327.6l8.2 0.2 6.2 -0.7 3.6 -1.7 0.9 -1.5 0 -1.4 -2.5 -2.2 -6.8 -1.1 -9 0.5 -3.4 1 -2 1.1 -0.9 1.4 0.4 2.2 2.3 1.4 3 0.8M1658.7 256.4l1.2 0.1 1.4 -0.8 1.6 -3.7 -0.5 -4.3 -1.1 -1.7 -1.4 -0.7 -2.4 0.9 -1.5 3.7 0.4 3.9 1.2 1.9 1.1 0.7M1524.6 122l1.8 2.2 3.6 1.5 5.5 1.1 6.9 0.4 6.9 -0.4 5.7 -1.1 3.8 -1.5 2.1 -2.2M1694.4 118.7l-3.4 2.1 -2.1 0.2 -4.8 -6.2 -4.9 -4.1 -6.9 -2.9 -6.2 -1.5 -7.6 -0.6 -6.9 0.8 -5.5 1.5 -8.3 3.5 -11.1 7.1 -12.1 10.7 -24.7 34.1 -22 27.6 -13.5 14.6 -14.7 11.7 -14.4 8.6 -9.1 4.4 -13.8 5.8 -16.4 5.1 -21.7 3.5 -12.4 1 -11.7 0.2 -9.7 -0.1 -5.5 -0.8 -12.5 -2.9 -4.7 -2.4 -6 -5.1 -7.2 -7.5 -26.3 -29.9 -2.7 -3.8 -4.2 -3.9 -4.1 -1.7 -2.1 -1.5 -5.7 -7.6 -1.2 -0.2 -2.4 0.9 -3.1 0.3 -24.9 -0.4 -29 -5.8 -22.8 -10.7 -14.2 -12.4 -14.7 -11.7 -8.3 -4.3 -16 -6.9 -25.6 -3 -6.9 -1.2 -2.3 -1.3" stroke="#4855e7"/>
<path d="M1361.8 335.2l1.7 -0.1 23.5 5.7 28.3 7.9 18 3 9.6 0.7 9.7 -0.7 6.9 -2.5 5.5 -4.6 2.1 -2.7 2.1 -4.3 1.4 -1M1112.1 334.8l6.8 -1.4 17.3 -2.4 20.7 -1.3 11.1 0.4 54.6 4.7M1475 334.8l2 -1.4 10.8 -4.4 18.7 -5.7 53.9 -18.5 17.3 -8.1 7.6 -4.8 15.7 -13 9.1 -12.7 6.2 -10.3 7.3 -15.5 7.9 -21.1 9 -9.4 12.5 -5.5 23.5 -4 24.8 -1.1 33.9 0 43.5 1.1 94.7 0.7M1802.6 334.8l56.9 -2.1 5.6 -1 2.9 -1.9 1.3 -3 0.5 -5 -2.4 -48.7 -1.6 -16.1 -0.7 -2.7 -1.4 -2.2 -1.4 0.8 -1.4 3.9 -4 25.7 -3 11.7 -2 4.1 -2 2.9 -2.8 2.3 -3.4 1.6 -9 1.5 -16.6 0.9 -91.9 0 -23.5 -1.6 -29 -5 -6.9 -0.4 -4.9 1.5 -3.4 3 -3.5 6.6 -1.8 7.3 -0.3 5 1.1 3.7 2.4 2.2 4.9 1.4 99.7 3.6M1567.8 324.7l5 0.1 1.9 -0.9 0.1 -0.7 -2 -0.9 -4.1 0.1 -1.9 0.8 -0.1 0.7 1.1 0.8M1531.4 122l1.8 1.5 2.3 0.7 6.9 0.8 7.6 -0.8 2.2 -0.7 2 -1.5M1694.4 119.1l-4.1 2.3 -1.4 0 -4.8 -6 -5.6 -4.3 -7.6 -3 -6.9 -1.2 -6.2 -0.3 -6.9 0.9 -5.5 1.6 -7.6 3.3 -11.1 7.1 -10.2 9.1 -23.5 32.7 -23.7 29.7 -13.8 14.7 -15.4 12.2 -19.2 10.9 -15.8 6.9 -15.2 4.9 -9.7 2.3 -15.2 2.2 -23.4 1.2 -10.4 -0.2 -5.5 -0.7 -12.5 -2.8 -5.5 -2.7 -6.3 -5.3 -6.1 -6.3 -27 -30.9 -2.7 -3.8 -4.2 -3.9 -6.7 -2.3 -5.7 -5.7 -4.2 0.2 -32.4 12.5 -29.1 8.7 -3.4 0.7 -21.4 2.3 -7.6 0.5 -21.5 -2.7 -29.7 -8.7 -2.4 -1.3 -11.8 -9.4 -4.9 -5.1 -7.8 -15.2 -1.1 -4.4 -1.7 -14.8 -4.8 -8.1 -22.4 -8.3 -7.5 -1.5 -22.6 -2.9 -4.9 -1.9" stroke="#485bec"/>
<path d="M1361.5 335l1.3 -0.3 24.2 5.6 29 7.7 16.6 2.6 10.3 0.9 9.7 -0.8 6.9 -2.5 5.5 -4.3 2.1 -2.7 2.1 -3.9 1.4 -0.9M1474.7 334.8l2.1 -1.5 11 -4.6 18.7 -5.9 53.9 -18.9 16.6 -7.7 8.9 -5.8 14.6 -12 9.6 -13.3 5.8 -9.4 7 -14.5 8.6 -22.1 9 -9.4 12.5 -5.5 23.5 -4.2 24.8 -1.2 33.2 -0.1 44.9 1.1 94 0.7M1749.8 333.4l26.8 0.6 25.6 -0.2 53.9 -2.1 7.7 -1.2 2 -1.2 1.4 -1.7 1 -5.8 -3.1 -30.2 -1.4 -8 -0.7 -0.7 -0.7 0.8 -4.5 14.8 -3.1 6.3 -4.1 4 -5.6 1.9 -13.8 0.7 -59.4 -0.7 -64.3 1.8 -13.1 -0.3 -24.9 -1.9 -4.8 0.9 -3.4 1.9 -2.9 3.6 -1.7 5.1 0.2 2.9 1.6 2.5 2.8 1.5 4.8 1 83.7 3.7M1540.4 122l4.7 0M1694.4 119.4l-4.1 2.3 -1.4 0 -5.5 -6.3 -5.6 -3.9 -7.6 -2.8 -7.6 -1.2 -6.2 -0.1 -6.9 1.2 -7.6 2.7 -6.2 3.1 -9 5.9 -8.7 7.6 -13.2 19.6 -22.6 29.7 -14.7 17.5 -9 9.4 -5.6 5.1 -13.6 10.2 -17.1 9.4 -19.9 8.4 -13.1 4.1 -8.3 1.9 -17.2 2.5 -13.2 0.8 -15.9 0.1 -9.6 -1 -14.4 -3.7 -4.5 -2.9 -8.1 -7.3 -29.7 -34.1 -2.5 -3.7 -3.7 -3.4 -2.1 -1.1 -5.5 -0.6 -4.8 -4.4 -2.1 -0.4 -20.7 18 -30.4 22.9 -29.4 25 -16.9 19.9 -6.8 9.1 -9.4 26.9 1 6.1 1.8 5.5 1.5 1.5 12.6 6.3 21.1 6 1 0.7 0.1 0.8 -0.7 2.1" stroke="#4961f0"/>
<path d="M1361.2 334.8l1.6 -0.5 53.9 13 16.6 2.5 9.6 0.7 9.7 -0.7 6.9 -2.4 5.5 -4.2 4.2 -6.2 1.4 -0.7M1474.6 334.8l2.2 -1.6 11 -4.7 18.7 -6.2 53.9 -19.2 16.6 -7.8 8.9 -5.8 8.9 -7 5.5 -5 9.8 -13.5 5.6 -9.1 6.9 -14 8.9 -22 9 -9.3 12.5 -5.7 23.5 -4.4 24.8 -1.3 32.5 -0.1 45.6 1.1 94 0.6M1753.6 332.7l24.4 0.5 23.5 -0.3 56 -3 4.3 -0.9 2.6 -1.7 1.3 -2.6 0.1 -4.4 -2.1 -7.7 -1.4 -2 -1.4 -0.6 -9 4.2 -6.2 1.2 -53.9 -2.1 -33.1 0.4 -24.9 1.6 -39.4 3.7 -20 1 -4.6 1 -1.3 0.8 -0.8 1.4 1.8 1.8 5.6 1.2 52.5 5 26 1.5M1694.4 119.7l-4.1 2.2 -1.4 0.1 -1.4 -0.9 -4.8 -5.7 -4.9 -3.2 -7.6 -2.7 -7.6 -1.2 -6.9 0 -6.2 1 -7.6 2.8 -6.2 3.1 -8.3 5.4 -8.6 7.3 -5.2 9.1 -5.1 7.6 -23.8 31.2 -15.8 18.9 -14.5 14.5 -13.7 10.2 -17.1 9.4 -19.9 8.5 -20 5.9 -20 2.9 -12.5 0.8 -13.1 0.1 -11.1 -0.7 -15.8 -3.9 -4.7 -2.7 -8.5 -7.6 -29.9 -34.5 -2.5 -3.7 -3.5 -3.2 -2.1 -1 -6.2 0.5 -1.4 -0.6 -2.7 -3 -1.4 0 -25.6 33.7 -13.3 15.8 -9.7 12.3 -14.9 24.7 -7.2 24.7 -0.1 5.1 1.7 10.7 6.6 7.4 3.3 2.2 11.5 4.4 15.7 4.3 3.4 1.5 0.9 1.4" stroke="#4967f5"/>
<path d="M1360.6 334.8l0.8 -0.8 1.4 -0.2 2.8 1.2 22.8 4.7 29.7 7 15.9 2.3 8.9 0.6 9 -0.6 6.9 -2.1 5.5 -3.7 2.1 -2.1 2.6 -4.1 1.6 -0.8M1474.4 334.8l3.1 -2.1 10.3 -4.5 72.6 -25.9 15.9 -7.5 9.6 -6.2 8.6 -6.8 5.3 -4.9 10.3 -14 5.6 -9 6.9 -13.8 8.9 -21.4 9 -9.3 12.5 -5.7 23.5 -4.6 24.8 -1.5 32.5 -0.1 46.3 1.1 93.3 0.6M1758.3 331.9l36.3 0.3 33.7 -1.7 28.9 -3.7 3.1 -1.4 0.9 -1.5 0.2 -1.4 -1.1 -2.2 -2.1 -0.9 -11.1 0.7 -37.3 -3.8 -33.9 -0.9 -22.1 1 -20.7 2.1 -16.1 3.3 -3.6 1.4 -1.4 1.5 1.2 1.4 1.6 0.7 9.7 2.2 14.1 1.7 19.7 1.2M1694.4 120l-4.1 2.2 -1.4 0.1 -1.7 -1 -4.5 -5.2 -5.6 -3.5 -7.6 -2.5 -7.6 -1.1 -6.2 0 -6.2 1.1 -8.3 3.1 -6.9 3.7 -7.6 5 -7.6 6.5 -3 6.7 -4 6.6 -23 30.5 -18.8 22.5 -14.8 14.7 -14.5 10.6 -16.5 9.1 -20.1 8.5 -20 5.9 -20.1 3 -24.1 0.9 -12.5 -0.6 -15.9 -3.8 -5.5 -3.2 -8.3 -7.4 -30.1 -34.8 -2.3 -3.5 -3.5 -3.3 -2.1 -0.8 -6.2 2.5 -5.5 0.3 -4.2 7.3 -11.8 25.8 -16.1 29.8 -9 28.3 -2.2 16.7 -0.2 6.5 2.7 8.6 2.1 4 9.6 7 8.4 2.7 4.8 2.3 0.6 0.9 0 2.1" stroke="#496dfa"/>
<path d="M1359.5 334.8l1 -1.4 1.6 -0.4 3.7 1.8 22.6 4.4 26.9 6.2 17.3 2.5 10.3 0.8 9 -0.6 6.9 -2 5.5 -3.5 4.9 -6 1.4 -0.6M1474.2 334.8l2.6 -2 11 -4.9 73.3 -26.7 15.2 -7.3 9.6 -6.2 8.3 -6.6 5.4 -5.1 10.5 -14.1 4.9 -7.9 6.9 -13.3 9.5 -22.1 9.1 -9.4 12.5 -5.7 9.6 -2.4 13.9 -2.5 24.8 -1.6 31.8 -0.1 47 1 93.3 0.7M1765.6 331.2l26.2 0.2 23.5 -1.3 16.8 -2.5 3.5 -1.5 0.7 -1.4 -2 -1.5 -4.4 -1.4 -12.2 -2.2 -17.6 -1.7 -18.6 -0.5 -18.7 0.6 -16.2 1.6 -11.4 2.2 -4.2 1.4 -1.9 1.5 0.5 1.4 1.2 0.7 8.7 2.2 13.1 1.5 13 0.7M1694.4 120.2l-4.1 2.2 -2.1 0 -6.1 -6.2 -5 -2.9 -8.2 -2.6 -7.6 -1 -6.3 0.1 -6.2 1.3 -9.2 3.7 -6.5 3.6 -6.4 4.3 -7 5.9 -2 6.1 -3.1 5.5 -17.8 24 -23.1 28.3 -9.5 10.2 -7.8 7.2 -14 10.2 -17.5 9.4 -20.5 8.7 -20 5.8 -20.1 2.9 -24.8 0.9 -12.5 -0.8 -15.8 -4 -4.9 -2.8 -7.6 -6.6 -31 -36 -2.1 -3.3 -4.2 -3.8 -2.1 0 -7.3 8.5 -4 8.7 -16.1 47.2 -3.1 11.7 -2 11.6 -0.6 13.8 1.6 11.6 3.6 9.4 8.6 14.9 1 3.3 0.3 3.6" stroke="#4973fe"/>
<path d="M1474.1 334.8l2.7 -2.1 11 -5 74 -27.7 14.5 -7 9.6 -6.2 7.6 -6 5.6 -5.2 10.3 -13.7 5.6 -8.9 6.9 -13.1 9.4 -21.3 9.2 -9.5 12.5 -5.9 9.6 -2.4 13.9 -2.6 24.8 -1.8 31.1 -0.1 48.4 1 92.6 0.6M1762.3 329.8l19.2 0.6 19.8 -0.6 14.7 -1.9 3.6 -1.1 1.7 -1.4 -1.1 -1.3 -1.9 -0.9 -9.9 -2.1 -13.1 -1.3 -13.8 -0.4 -13.8 0.5 -12.5 1.2 -9.4 2.1 -2.3 1.3 -0.6 0.9 1.6 1.4 3.8 1.2 14 1.8M1694.4 120.4l-4.1 2.3 -2.1 0 -1.4 -0.8 -4.8 -5 -4.9 -2.8 -8.2 -2.6 -7.6 -1 -6.3 0.2 -6.1 1.2 -9 3.6 -6.5 3.6 -6.5 4.4 -6.4 5.3 -0.7 1.2 -0.5 4.4 -2.2 4.3 -13.7 18.9 -26.9 33.4 -10.1 10.9 -8.8 8.2 -14.8 10.7 -17.7 9.3 -20.7 8.7 -20 5.7 -20.7 2.9 -24.2 0.8 -12.5 -0.9 -15.8 -4 -5 -2.9 -7.6 -6.5 -31.1 -36.3 -1.9 -3.1 -4.2 -3.8 -1.4 -0.2 -0.8 0.5 -4.9 16 -3.5 14.5 -7.1 36.4 -2.3 20.3 -0.1 14.5 1.6 13.1 4 13.8 4.8 9.9 2.8 2.1 4.8 -0.2 2.8 0.5 2.6 2.2 1.5 0.5 22.8 4.3 28.4 6.1 22.1 2.7 10.3 -0.2 8.3 -1.9 6.2 -3.5 4.9 -5.7 1.4 -0.5" stroke="#4a7dff"/>
<path d="M1473.9 334.8l2.9 -2.3 11.7 -5.4 74 -28.2 13.8 -6.7 9.6 -6.3 12.5 -10.6 4.8 -5.7 6.2 -8.8 4.9 -7.6 6.9 -12.7 10 -21.9 9.3 -9.7 12.5 -5.9 10.3 -2.8 13.2 -2.5 24.8 -1.8 30.4 -0.2 49.1 1 92.6 0.6M1768.4 328.3l13.1 0.5 13.6 -0.5 8.9 -1.5 2 -1.4 -2.4 -1.5 -5.5 -1.1 -16.6 -1 -16.6 1.1 -4.9 1 -2.3 1.5 1.9 1.4 8.8 1.5M1694.4 120.6l-4.1 2.4 -2.1 0 -2 -1 -4.6 -4.3 -5.3 -2.9 -8.1 -2.4 -8.3 -0.8 -9.7 1.1 -10.7 4.3 -6.3 3.6 -5.3 3.6 -6.1 5.1 -1 5.1 -2.1 4.3 -13.8 18.9 -27.6 34.2 -9.5 10.1 -9.3 8.7 -14.2 10.2 -18.1 9.5 -21.8 9 -19.3 5.6 -20.8 2.9 -24.1 0.8 -13.2 -0.9 -15.8 -4.1 -5.4 -3.2 -7.8 -6.7 -30.7 -36.1 -1.7 -2.9 -4.2 -3.8 -1.7 0.1 -0.4 1.5 0.9 2.2 0.1 2.1 -3.2 24 -2.7 43.6 -0.1 31.2 -0.5 8.7 2.6 16 8.2 13.1 1.6 0.8 51.2 9.9 15.9 2.2 8.9 0.6 9 -0.4 7.6 -1.9 5.5 -3 4.8 -5.3 1.5 -0.5" stroke="#4a88ff"/>
<path d="M1473.7 334.8l1 -1.2 2.1 -1.2 11.7 -5.6 74.6 -29 13.2 -6.5 9.6 -6.3 7 -5.5 5.5 -5.2 11 -14.5 11.8 -20.1 9.8 -21.1 9.5 -9.8 12.5 -6.1 10.3 -2.8 13.2 -2.6 11.7 -1.3 13.1 -0.7 29.7 -0.2 49.8 1 92.6 0.6M1694.4 120.7l-3.4 2.3 -2.8 0.4 -2.1 -0.8 -5.5 -4.2 -5.5 -2.5 -6.9 -1.7 -8.3 -0.7 -4.2 0.3 -6.2 1.4 -7.6 3 -6.9 3.8 -5.5 3.8 -4.2 3.8 -4.9 9.1 -4.5 6.6 -25.6 32.7 -16.8 19.6 -14.4 13.8 -14.4 10.1 -17.5 9 -22.1 9.2 -20 5.7 -20.8 2.9 -24.8 0.7 -13.1 -1.1 -9.7 -2.3 -6.2 -2.1 -5.2 -3.1 -8 -7 -30.3 -35.8 -1.6 -2.9 -4 -3.5 -1 -0.2 -0.6 0.8 1.3 2.9 0.4 6.5 -0.8 20.3 0.6 50.2 1.6 31.9 2.8 22.5 -0.2 7.3 53.3 10.2 24.1 2.4 8.3 -0.3 7.6 -1.8 5.5 -2.8 4.6 -4.8 1.7 -0.6" stroke="#4b93ff"/>
<path d="M1473.6 334.8l1.8 -1.8 13.1 -6.5 75.3 -29.8 12.5 -6.2 9.6 -6.4 11.9 -10.3 10.9 -14 5.6 -8.5 6.9 -12.3 9.7 -20.4 9.6 -10 13.2 -6.4 11 -3 11.8 -2.4 12.4 -1.4 13.1 -0.7 28.3 -0.2 51.2 1 91.9 0.5M1694.4 120.9l-3.4 2.3 -2.8 0.6 -2.9 -1 -6.1 -3.6 -4.8 -1.8 -6.9 -1.4 -7.6 -0.3 -5.6 0.7 -5.5 1.5 -6.2 2.5 -5.5 3 -6.2 4.3 -4 3.8 -11.5 16.7 -28.9 36.3 -14.4 16.1 -13.1 12.1 -13.9 9.6 -17.5 8.7 -22.5 9.2 -20 5.7 -20.8 2.8 -24.8 0.7 -13.1 -1.2 -9.7 -2.2 -6.2 -2.2 -5.6 -3.4 -8.2 -7.2 -29.3 -34.9 -2.2 -3.6 -4.5 -3.2 -0.3 0.3 1 1.4 1.6 10.9 0.8 16.7 3.6 45 4.9 49.4 0.1 5.8 -0.6 5.1 -1.3 3.7 -1.9 2.9 3.2 1.5 47 8.6 23.4 2.4 9 -0.3 7.6 -1.7 5.5 -2.6 4.4 -4.3 1.9 -0.7" stroke="#4b9eff"/>
<path d="M1473.4 334.8l2 -2 13.1 -6.6 76 -30.6 11.4 -5.8 9.4 -6.1 6.9 -5.4 5.4 -5.2 10.5 -13.3 12.4 -20.3 10.4 -21 9.6 -10 6.2 -3.5 7 -3 11 -3.2 11.8 -2.4 12.4 -1.6 13.1 -0.7 27.7 -0.2 51.8 0.9 91.9 0.6M1694.4 121.1l-4.1 2.8 -2.8 0.2 -13.8 -5.2 -6.9 -1.1 -6.9 0 -5.6 0.8 -5.5 1.6 -11 5.3 -5.6 3.9 -4.1 3.9 -13.8 18.5 -29.4 36.3 -12.5 13.8 -12 11 -13.7 9.4 -15.9 8 -25 10.3 -19.3 5.5 -21.5 3 -23.4 0.7 -14.6 -1.1 -15.8 -4.3 -5.8 -3.2 -8.4 -7.3 -30.1 -35.8 -1.9 -3.4 -2.2 -1.6 -0.7 0.1 0.5 4.4 2.2 8 15.7 104.5 0.6 12.4 -0.9 5.8 -1.7 5.1 0.4 0.7 6.7 1.9 33.8 6.1 15.9 1.8 9.7 0.5 6.9 -0.4 7.6 -1.7 4.8 -2.1 4.9 -4.4 1.5 -0.4" stroke="#4ca9ff"/>
<path d="M1473.2 334.8l1.5 -1.8 13.8 -7.1 76.7 -31.4 11.1 -5.7 9 -6 11.7 -10 11.1 -13.9 11.7 -18.9 11.5 -22.1 9.2 -9.6 6.9 -3.9 6.9 -2.9 11.1 -3.2 11.7 -2.5 12.5 -1.6 12.4 -0.7 171.4 1.3M1694.4 121.2l-3.4 2.7 -3.5 0.7 -14.5 -4.3 -6.2 -0.7 -6.9 0.2 -10.4 2.4 -10.4 4.9 -5.5 3.8 -4.8 4.6 -44.9 55.5 -12.2 13.1 -11.3 10.1 -13.2 8.8 -16.5 8 -24.9 10.2 -19.3 5.4 -21.5 3 -24.1 0.6 -14.5 -1.3 -9.7 -2.3 -6.2 -2.2 -6.3 -3.8 -7.6 -6.7 -26.9 -32.6 -3.1 -3 -1.7 -3.5 -2.1 -1.2 -0.4 1.1 0.7 2.9 2.2 3.6 1.2 3.6 24 109.7 1.4 10.2 -0.7 10.1 0.4 0.8 7.7 2.1 20.1 3.7 15.9 1.7 11.8 0.4 6.9 -0.5 6.9 -1.7 4.1 -1.9 4.2 -3.8 1.6 -0.3" stroke="#4bb3ff"/>
<path d="M1473 334.8l1.7 -1.9 13.8 -7.3 76.7 -31.9 11.1 -5.8 9 -5.9 11.7 -10.2 10.4 -12.9 12.4 -19.6 11.3 -21.4 9.4 -9.7 7.6 -4.3 6.9 -3 11.1 -3.2 11 -2.4 12.5 -1.6 12.4 -0.8 171.4 1.2M1694.5 121.4l-3.5 2.8 -3.5 0.8 -15.2 -3.3 -6.2 -0.4 -6.2 0.4 -10.4 2.7 -9.7 4.6 -5.5 3.9 -4.8 4.5 -46 55.8 -11.7 12.4 -10.7 9.3 -12.2 8.1 -14.8 7.3 -27.6 11.2 -19.2 5.5 -21.6 3 -23.5 0.6 -15.2 -1.2 -15.8 -4.4 -6.3 -3.5 -8.3 -7.1 -26.9 -32.7 -3.4 -2.7 -1.4 -3.8 -1.4 -1 -0.7 0.4 1.4 3.8 2 1.4 3.5 10.3 17.3 57.6 10.4 38.1 7.8 16.7 4.7 5.1 -4.3 8 -0.1 1.4 6.9 2.2 7.7 1.4 15.2 1.6 13.9 0.5 8.2 -1.1 5.6 -1.5 2.7 -1.6 3.5 -3.1 1.7 -0.2" stroke="#49bcff"/>
<path d="M1472.8 334.8l0.9 -1.4 1.7 -1.1 16.6 -8.6 73.9 -31.1 9.7 -5.1 9 -5.9 11.6 -9.9 10.5 -12.8 13.1 -20.3 11.2 -20.7 9.5 -9.9 7.6 -4.3 6.9 -3 11.1 -3.4 11 -2.5 12.5 -1.7 12.4 -0.8 171.4 1.2M1364.5 197.6l0.8 0 -0.3 -1.5 -1.5 -1.3 1 2.8M1694.5 121.4l-3.5 3.2 -3.5 0.9 -16.6 -2.5 -11.7 0.7 -9.7 2.7 -9 4.5 -5.5 3.9 -5.5 5.2 -45.7 54.7 -11 11.4 -10.2 8.9 -11.2 7.6 -13.1 6.6 -29.7 12.1 -18 5.4 -9.7 1.9 -12.4 1.6 -23.5 0.9 -16.6 -1.1 -15.9 -4.1 -6.4 -3.3 -9 -7.3 -27.4 -33.2 -1.4 -1.2 -0.6 0.3 9.6 27.6 8.6 28.3 14.2 42.5 3.5 7.7 5.2 8.7 13 13.8 0.8 2.1 -0.1 2.2 -2.1 4.4 1 0.7 12.6 1.9 15.8 0.8 9 -1.2 4.2 -1.1 2.7 -1.4 3.5 -3 1.9 -0.2" stroke="#48c6ff"/>
<path d="M1472.5 334.8l2.2 -2.3 12.4 -6.8 42.9 -18.8 33.1 -13.8 11.8 -6 9.7 -6.3 11 -9.5 9.7 -11.5 13.8 -20.7 11.2 -20.5 5.4 -6.2 3.4 -3.4 3.5 -2.5 7.6 -4.1 6.2 -2.5 10.4 -3.2 11 -2.5 11.8 -1.6 12.4 -0.9 171.4 1.2M1694.6 121.5l-3.6 3.5 -3.5 1 -17.3 -1.5 -11.7 1.2 -9 2.8 -8.3 4.2 -6.2 4.4 -6.2 6 -44.8 53 -10.5 10.9 -10.2 8.7 -11.2 7.5 -12.7 6.3 -30.8 12.4 -16.6 5 -9.7 2 -12.4 1.6 -24.2 1 -17.3 -1.2 -15.9 -4.1 -6.9 -3.6 -8.9 -7.3 -27.7 -33.1 0 1.2 10.1 26.1 8.4 27.6 9.1 25.1 7.6 17.2 7.6 12.2 11.9 13.1 7.5 10.8 3.7 3.7 2.5 0.7 10.4 1.1 6.9 -0.3 8.3 -1.5 2.7 -1.4 3.5 -2.7 2 -0.2" stroke="#49cffe"/>
<path d="M1472 334.8l2.7 -2.6 13.1 -7.2 42.2 -18.8 33.8 -14.2 11.1 -5.7 9.7 -6.4 10.5 -9 10.2 -12.1 13.8 -20.4 11.1 -19.8 5.5 -6.3 3.9 -3.8 3.7 -2.6 6.9 -3.7 6.9 -2.9 10.4 -3.2 11 -2.5 12.5 -1.7 11.7 -0.8 170.7 1.1M1370.9 205.6l0.2 0.5 0.1 -0.5 -0.3 0M1694.7 121.6l-3 3.3 -3.5 1.6 -4.1 0.2 -13.2 -0.7 -9.6 0.9 -10.4 3 -9.7 4.9 -6.3 4.7 -6.8 6.6 -43.5 51.1 -10.3 10.5 -9.8 8.4 -10.3 7 -11.8 6 -32.5 12.9 -14.5 4.6 -10.3 2.4 -11.1 1.5 -11 1 -13.8 0.4 -19.4 -1 -15.2 -3.7 -7.6 -3.3 -10 -7.8 -23.2 -28.1 -2 -2 -0.6 0.3 9.8 24 7.6 25.4 6.7 17.2 9.6 20.2 8.8 13.4 5.7 6.6 15.9 16.3 5.6 4.5 8.2 5.3 4.9 0.5 9 -1 6.9 -4.1 2 0.2" stroke="#4cd6fa"/>
<path d="M1694.8 121.7l-3.1 3.7 -3.5 1.6 -4.1 0.5 -13.9 -0.1 -8.9 1.2 -9.7 2.9 -9.7 4.9 -6.9 5.2 -6.9 6.6 -12.4 13.9 -30.5 36.2 -10 10.2 -9.4 8 -10.3 6.9 -10.5 5.4 -34.4 13.6 -12.4 4 -17.3 3.8 -22.1 1.9 -13.8 0.2 -11.7 -0.6 -6.9 -1 -9.7 -2.5 -9 -3.6 -10.4 -7.8 -23.5 -27.6 9.9 24 5.1 18.1 3 8.6 4.8 11.2 5.6 10.9 6.2 10.3 6.2 8.6 6.9 7.7 9.7 9.2 10.4 8.7 14.9 10.5 2.3 0.9 4.9 -0.1 5.5 -3.3 2.7 -0.3 2.1 -1.9 18.7 -10 38 -17.1 35.2 -15 9 -4.7 8.3 -5.4 11 -9.2 9.7 -11.2 14.5 -20.8 11.7 -20.3 6.2 -7.2 3.5 -3.3 5.6 -3.6 6.2 -3.2 6.9 -2.8 10.4 -3.2 11 -2.4 11.8 -1.7 11 -0.7 170.7 1.1" stroke="#50dcf7"/>
<path d="M1694.9 121.8l-3.2 4.1 -3.5 1.7 -4.1 0.7 -14.6 0.6 -8.2 1.3 -9.7 3.1 -9.7 5.2 -6.9 5.2 -7.6 7.3 -11.7 13 -29.6 35 -9.3 9.5 -9.5 8.1 -9.7 6.7 -10.6 5.5 -44.7 17 -17.9 4.3 -20.7 2.3 -22.8 0.2 -10.4 -0.9 -6.9 -1.3 -13.1 -4.1 -7.6 -4.7 -6.9 -5.7 -15.2 -18.1 -2.1 -2.2 -0.6 0.1 7.3 17.5 5.4 19.6 5.2 12.6 5.5 10.4 6.2 9.9 6.2 8.3 6.9 7.7 16.6 14.6 27.6 19.9 4.9 -2.4 2 -0.3 10.4 -6.3 11.1 -5.6 37.3 -17 34.5 -14.8 9 -4.7 8.3 -5.4 11 -9 9.7 -11 14.5 -20.4 12.3 -20.7 6.4 -7.4 4.1 -3.8 4.9 -3.1 6.9 -3.6 6.9 -2.8 10.3 -3.2 10.4 -2.3 11.8 -1.8 11 -0.7 170.7 1" stroke="#53e3f3"/>
<path d="M1695 121.9l-2.7 3.9 -4.1 2.4 -4.8 1 -14.5 1.2 -7.6 1.4 -9.7 3.4 -9 4.8 -7.6 5.7 -8.3 8 -11.7 13 -28 33.1 -9.3 9.4 -9.4 8 -9.5 6.5 -9.7 5.1 -43.3 16.5 -19.3 5 -18.7 2.3 -22.8 0.5 -17.3 -1.4 -14.5 -4 -7.6 -3.7 -9.6 -7.6 -13.2 -14.6 5.1 13.5 3.7 15.3 3.7 9.5 5.5 10.4 6.9 10.4 7.6 9.4 7.6 7.8 9 7.7 10.3 7.6 18.7 12.2 7.6 5.8 3.4 0.6 20.8 -10.5 29.7 -13.8 42.8 -18.7 9 -4.7 8.3 -5.4 10.6 -8.7 10.1 -11.5 15.2 -21.1 11.5 -19 6.5 -7.6 4.1 -3.8 5.6 -3.5 6.9 -3.6 7.6 -3 10.3 -3.2 10.4 -2.3 11 -1.6 10.4 -0.7 170.7 1" stroke="#56eaf0"/>
<path d="M1695 122l-2.7 4.3 -4.1 2.6 -4.8 1.2 -15.2 1.8 -9 2.1 -10.4 4.3 -9.7 6 -7.6 6.5 -8.9 9.2 -30.4 35.7 -12.1 12.8 -7.3 6.5 -7.6 5.8 -6.9 4.4 -7.6 3.9 -42.1 15.9 -15.9 4.4 -9.7 2 -12.4 1.4 -23.5 0.7 -18.7 -1.3 -9 -2.2 -8.9 -3 -4.9 -2.7 -9 -6.8 -9.2 -9.4 2.7 8.7 2.8 13.1 3 8 4.9 9 7.6 10.7 8.3 9.4 9 8.3 10.3 7.9 11.8 7.7 27.6 15.8 1.7 0.9 1.7 0 51.2 -24.1 34.5 -14.9 9.7 -5.1 8.3 -5.4 10.4 -8.5 9.6 -10.9 15.9 -21.7 11.4 -18.4 6.7 -8 4 -3.5 6.2 -4.1 7 -3.5 8.2 -3.3 10.4 -3.1 10.4 -2.3 10.3 -1.5 10.4 -0.6 170 1" stroke="#5af1ed"/>
<path d="M1695.1 122l-2.8 5 -4.1 2.6 -4.8 1.4 -15.9 2.4 -9 2.5 -10.4 4.5 -9 5.9 -7.6 6.4 -8.9 9.2 -29.7 34.9 -11.8 12.4 -7.4 6.5 -7.1 5.4 -7.5 4.8 -7.1 3.6 -42.1 15.6 -8.9 2.8 -17.3 3.9 -21.4 2.1 -25.6 -0.4 -8.3 -1 -7.6 -1.8 -8.3 -2.6 -4.8 -2.1 -15.9 -11.9 1.6 12.1 3 9.5 5.1 9 8.3 10.7 9 9.2 10.3 8.5 12.5 8.3 15.1 8.4 22.2 10.7 5.5 2.2 2.1 0 16.4 -6.7 27.1 -13.1 33.8 -14.8 10.4 -5.4 8.3 -5.4 10.3 -8.6 9.7 -10.9 15.9 -21.4 11.8 -18.5 6.2 -7.3 4.1 -3.7 6.9 -4.5 6.9 -3.5 8.3 -3.3 9.7 -3 10.4 -2.3 10.3 -1.6 10.4 -0.6 170 0.9" stroke="#60f6e5"/>
<path d="M1695.3 122l-2.3 4.9 -4.1 3.2 -4.8 1.6 -15.9 3 -9.7 2.8 -10.4 4.7 -9 5.9 -7.6 6.5 -8.9 9.1 -28.9 33.9 -11.7 12.3 -7.4 6.6 -7.3 5.5 -6.9 4.4 -6.9 3.5 -51.8 18.4 -17.3 3.9 -20.7 2.1 -20.8 0 -11 -0.9 -6.2 -1.1 -9.7 -2.7 -6.9 -2.6 -11.8 -8 -2.7 -1.2 -0.6 1.9 0.5 5.1 2.8 9.4 4.9 8.5 8.3 10 10.3 9.6 11.1 8.1 13.1 7.7 15.2 7.3 30.4 12.1 4.1 0.7 8.4 -3 26.9 -13 34.5 -15.2 9.7 -5 9 -6.1 9.5 -7.9 9.8 -11.1 16.6 -22.1 11 -16.9 6.8 -8 5 -4.2 6.9 -4.3 6.9 -3.4 8.3 -3.3 10.4 -3.1 9.7 -2.1 9.6 -1.4 9.7 -0.6 170 0.9" stroke="#6cf7d5"/>
<path d="M1695.4 122l-1 3.3 -1.4 2.4 -4.1 3.2 -4.8 1.8 -16.6 3.6 -9 2.8 -9.7 4.5 -9.7 6.4 -7.6 6.5 -8.9 9.1 -27.9 32.7 -11.8 12.3 -14.1 11.7 -7 4.5 -6.9 3.5 -53.2 18.5 -17.3 3.9 -20.1 2 -20.7 0 -16.6 -1.7 -17.2 -5.3 -11.1 -7.2 -2.7 -1.1 -0.6 1.8 0.5 4.3 2.5 8 5.2 8.3 8.9 9.7 10.4 8.6 11.7 7.6 12.5 6.4 13.8 5.8 40.5 13.9 1.6 0 62.9 -28.2 9 -4.8 9 -6.2 9 -7.6 9.6 -11 16.6 -21.7 10.8 -16.4 6.8 -8 5.2 -4.4 6.9 -4.4 8.3 -4.1 8.3 -3.2 9.7 -2.8 9.6 -2.2 9 -1.3 9.7 -0.6 170 0.9" stroke="#77f9c6"/>
<path d="M1695.5 122l-1.8 5.6 -2 2.3 -2.8 1.8 -5.5 2.1 -15.9 3.9 -9.7 3.2 -9.7 4.8 -9 6 -7.6 6.6 -8.9 9.1 -27 31.6 -11.7 12.4 -6.9 6.1 -7.3 5.5 -7.2 4.6 -6.7 3.4 -9.7 3.6 -18.9 5.7 -20.7 7.8 -13.1 3.4 -10.4 2 -21.4 1.8 -18 -0.2 -13.8 -1.2 -9 -2.1 -10.3 -3.5 -3.5 -1.7 -8.3 -5.5 -1.4 -0.4 -0.5 1.2 0.2 2.9 2.1 7.2 5.1 8.2 9.7 9.5 12.5 9.1 13.8 7.5 14.5 6 16.6 5.3 17.9 4.3 25.6 4.9 10.3 -3.9 40.1 -17.7 9 -4.8 10.4 -7.1 8.3 -7.1 10.3 -11.9 15.9 -20.5 10.7 -15.9 6.8 -8 5.3 -4.5 7.6 -4.9 8.3 -4.1 9 -3.5 9.7 -2.8 9.6 -2.1 8.3 -1.2 9 -0.5 170 0.8" stroke="#82fbb7"/>
<path d="M1695.7 122l-1.5 5.9 -1.9 2.2 -3.4 2.5 -5.5 2.2 -16.6 4.5 -9.7 3.5 -9.7 5 -8.9 6.2 -7.6 6.7 -8.3 8.4 -26 30.7 -11.7 12.3 -6.6 5.8 -7.6 5.7 -7.6 4.9 -6.2 3.1 -10.3 3.7 -18.7 5.4 -21.4 8 -13.1 3.3 -10.4 2 -20.7 1.8 -18.7 -0.2 -13.8 -1.3 -9 -2.2 -10.3 -3.5 -11.8 -6.6 -0.6 0.6 0.1 2.2 1.9 6.5 2.1 3.9 3.4 4.3 11.1 9.5 13.8 8.5 15.9 7.1 15.9 5.1 16.6 3.8 13.8 2.1 35.2 4 4.3 -1.1 11.1 -4.3 22.6 -10.1 8.4 -4.5 11.6 -8.1 7.6 -6.9 12.5 -14.5 13.8 -17.8 9.9 -14.4 7.4 -8.6 6.2 -5.1 7.6 -4.7 8.3 -4.1 9 -3.3 18.6 -4.8 8.3 -1.2 8.3 -0.4 170 0.8" stroke="#8efda8"/>
<path d="M1695.8 122l-0.5 4.4 -0.9 2.2 -2.1 2.5 -2.7 2 -5.5 2.5 -17.3 5.1 -9.7 3.7 -9.7 5 -8.9 6.4 -7.6 6.6 -8.1 8.3 -25.2 29.8 -11.7 12.3 -13.8 11.2 -7.6 4.9 -6.2 3.3 -10.4 3.6 -20 5.5 -21.4 8 -15.9 3.9 -8.3 1.4 -20 1.6 -18.7 -0.2 -13.8 -1.3 -9 -2.2 -9.6 -3.3 -11.1 -5.9 -0.7 0.6 0 0.9 1.6 5.8 2.5 4.3 3.5 3.8 11.8 9 14.5 7.7 17.2 6.3 14.5 3.7 15.2 2.6 13.9 1.2 27.9 1.3 17 2.6 2.7 0 13.3 -4.7 16.4 -7.9 15.9 -10.9 6.3 -5.9 13.1 -15.2 13.1 -16.6 9.8 -14 7.4 -8.7 6.3 -5.2 8.3 -5.2 8.3 -4.1 9.6 -3.5 18.7 -4.7 15.2 -1.4 170 0.8" stroke="#99ff99"/>
<path d="M1696 122l-0.2 4.4 -0.7 2.2 -2.1 2.8 -3.4 2.7 -6.2 2.9 -17.3 5.4 -9.7 3.8 -9.7 5.3 -8.9 6.5 -6.9 6.1 -7.9 8.1 -24.4 29 -12 12.6 -6.3 5.6 -7.5 5.6 -7.6 4.8 -6.2 3.2 -10.4 3.6 -20.7 5.3 -20.7 7.8 -16.6 4 -8.3 1.4 -20 1.6 -18.7 -0.3 -13.8 -1.3 -8.3 -2.1 -10.3 -3.4 -9.7 -5 -0.7 0.2 -0.1 0.7 1.1 4.4 2.4 4 3.5 3.5 6.2 4.7 6.9 4.1 14.5 6.6 18 5.4 12.4 2.5 13.2 1.7 13.8 0.7 33.1 0.1 11.1 1.1 14.5 2.7 3.5 -0.1 9.3 -3.6 8.6 -4.3 11.8 -8.1 5.5 -4.5 18.6 -21.2 11.1 -13.8 11.1 -15.2 4.8 -5.9 4.1 -3.9 6.3 -4.6 8.9 -5.1 6.9 -3.2 9.7 -3.5 18 -4.3 14.5 -1.3 169.3 0.8" stroke="#a6ff8a"/>
<path d="M1696.1 122l0.2 4.4 -0.8 2.9 -2.2 2.9 -3 2.5 -6.2 3.1 -18.1 6 -9.6 4 -9.7 5.3 -8.9 6.6 -6.9 6.1 -7.6 7.9 -23.5 28 -11.9 12.6 -13 10.6 -8.3 5.4 -6.2 3.3 -10.4 3.5 -22.1 5.4 -20.7 7.8 -24.2 5.3 -20 1.6 -20.1 -0.4 -16.5 -2 -15.9 -5.1 -7.6 -3.8 -0.7 0.1 -0.2 1 0.9 2.9 2 3.2 3.5 3.1 6.2 4.1 6.9 3.8 14.5 5.6 17.3 4.4 14.5 2.2 14.5 1 12.4 -0.2 25.6 -1.6 11.8 0.2 13.8 2 15.2 4.3 2 0.1 9.6 -3.9 11.9 -8.1 6.2 -5.2 19.3 -22 24.2 -31.2 5.5 -5.4 6.3 -4.7 9.6 -5.6 7.6 -3.5 9.7 -3.4 17.3 -4.1 13.8 -1.2 169.3 0.8" stroke="#b3ff7b"/>
<path d="M1696.3 122l0.6 4.4 -0.6 2.9 -2.5 3.6 -3.5 2.9 -6.9 3.4 -17.3 6 -9.7 4.1 -9.7 5.4 -8.9 6.6 -14.2 13.8 -23.1 27.7 -12.3 12.9 -12.6 10.2 -14.5 8.7 -10.4 3.3 -22.8 5.3 -20.7 7.8 -24.2 5.2 -20 1.6 -20.1 -0.5 -15.9 -1.9 -14.5 -4.5 -8.9 -3.7 0.3 2.7 1.7 2.4 4.2 3.2 13.1 6.7 13.1 4.4 15.2 3.1 15.9 2 16.6 0.4 13.1 -1 24.9 -3.4 11.7 -0.3 8.3 1 9.7 2.2 19.3 6.7 3.5 -1.3 6.9 -4.3 6.2 -4.4 4.2 -3.9 26.9 -31.2 15.9 -20.7 5.5 -5.4 6.9 -5.2 9.7 -5.6 7.6 -3.5 10.4 -3.6 16.6 -4 12.4 -1 170 0.8" stroke="#c1ff6c"/>
<path d="M1696.5 122l1.1 4.4 -0.3 2.2 -1.5 3.2 -3 3.3 -8.1 4.7 -18.9 6.9 -9.4 4.1 -8.3 4.6 -7.6 5.3 -7.6 6.5 -8.3 8.4 -23.1 27.8 -12.8 13.6 -12.1 9.6 -14.8 8.9 -11.1 3.3 -20.8 4.5 -22.7 8.4 -24.2 5.1 -20 1.5 -20.8 -0.6 -14.5 -1.6 -12.4 -3.8 -9.7 -3.7 -0.7 -0.1 0 1.4 1.4 1.7 3.5 2.3 14.5 6.5 12.4 3.3 13.8 2.2 16.6 1.5 18.7 -0.5 14.5 -2.3 23.5 -5.8 8.9 -0.6 7.6 0.9 9.7 2.3 12.5 3.9 14.5 5.4 2 0.3 7 -3.7 5.5 -4.9 26.9 -30.6 16.6 -21.3 4.8 -4.6 6.9 -5.2 10.4 -6.2 8.3 -3.7 10.4 -3.6 15.9 -3.7 11.7 -0.9 170 0.7" stroke="#cdff5b"/>
<path d="M1459.4 262.9l17.4 -0.1 9 -0.7 6.2 -1.2 17.9 -5.6 8.3 -4 5.8 -3.6 -4.3 0.7 -11.8 4.2 -19.4 4.1 -25.5 2.4 -5.6 -0.6 -15.2 0 -13.8 -1.5 -20 -6.4 -1.4 0 10.4 5.1 10.3 3.4 13.9 2.4 17.8 1.4M1696.8 122l1.5 4.4 -0.1 2.2 -1.6 3.6 -2.9 3.3 -3.4 2.6 -4.9 2.6 -20 7.6 -9.7 4.4 -8.3 4.7 -7.6 5.4 -7.6 6.7 -8.1 8.5 -19.5 23.7 -9 10.1 -7.6 7.6 -6.2 5 -11.1 7.4 -8.9 5.1 -24.9 6 -4.2 1.2 -1.6 0.7 -0.4 0.7 5.1 2.2 48.8 16.3 2.7 0.2 3.5 -2.4 13.1 -13.9 20 -23.2 11.1 -14.4 8.3 -7.4 11 -7.2 9 -4.5 13.2 -4.7 14.5 -3.5 6.9 -0.8 12.4 -0.3 163.1 0.8" stroke="#daff49"/>
<path d="M1697.1 122l1.9 3.7 -0.1 3.6 -2.2 4.4 -3.7 3.7 -8.3 4.8 -26.9 10.9 -7.6 4.1 -6.9 4.6 -8.3 6.7 -8.3 8.3 -24.2 29.2 -15 15.5 -9.8 7.3 -13.9 8.6 -10.2 3 -4.1 1.5 -0.4 0.7 30.6 10.9 11.1 2.9 2.1 0.3 1.3 -0.4 9.7 -9.3 13.8 -15.3 17.5 -21.8 8.8 -7.8 11 -7.1 9 -4.5 13.1 -4.7 14.6 -3.6 6.2 -0.7 12.4 -0.2 163.1 0.8" stroke="#e3fa3e"/>
<path d="M1697.7 122l2.6 3.7 -0.1 2.9 -1.8 4.3 -4 4.7 -4.1 3 -4.9 2.6 -20 7.9 -9 4.2 -8.3 4.7 -7.6 5.4 -6.9 6 -7.8 8 -20.6 25.4 -13.7 14.9 -7.6 6.3 -16.4 10.8 -2.7 2.9 5.9 2.7 15.2 4.6 9 1.9 4.9 -0.2 3.4 -2.2 4.9 -4.8 16.5 -18.4 10.4 -13.4 9.7 -8.6 11.7 -7.5 8.3 -4 11.8 -4.3 15.2 -3.9 5.5 -0.7 11.7 -0.2 164.5 0.7" stroke="#e9f135"/>
<path d="M1700.9 122l1 1.5 0.1 1.5 -1 5 -2.3 4.4 -3.6 4 -4.1 3.1 -4.9 2.6 -20.7 8.4 -9.7 4.6 -8.3 4.8 -6.9 5 -6.9 6.1 -7.6 7.9 -19.3 24.2 -12.5 13.6 -6 5.7 -13.3 9.5 -0.7 1.6 16.6 5.2 11.7 2.6 2.1 -0.1 2.8 -1.8 10.3 -10.7 7.6 -8.5 9.7 -12.5 9.7 -8.6 11.7 -7.7 8.3 -4.1 11.8 -4.4 15.8 -4.1 16.6 -0.7 164.5 0.7" stroke="#f0e72d"/>
<path d="M1764.1 122l-51 1 -4.9 0.6 -2.7 1 -1.7 1.8 -2.5 5.8 -2.2 3.6 -6.3 5.9 -8.1 4.3 -18.6 7.6 -9.7 4.5 -9.7 5.7 -8.2 6.3 -13.5 13.7 -22.2 27.6 -11.3 12 -7.3 6.1 -0.8 1.5 21.9 6.8 3.4 0.3 2.1 -1.3 6.2 -5.8 6.9 -7.5 11.4 -14.3 7.3 -6.7 4.8 -3.6 10.4 -6.7 9 -4.2 10.3 -3.8 15.9 -4.2 15.2 -0.5 165.2 0.6" stroke="#f7dd24"/>
<path d="M1853.7 122l-137.9 1.9 -7.6 0.9 -3 2.3 -3.3 6.6 -2.5 3.6 -6.4 5.6 -7.6 4.1 -19.3 8 -9.7 4.6 -9.7 5.7 -8.2 6.3 -13.3 13.6 -16.2 21.1 -16.2 18.1 -0.7 2.2 16.6 6.4 2.8 0.6 1.4 -0.4 4.1 -2.9 7.6 -7.9 10.5 -13.2 8.2 -7.6 6.9 -4.9 8.3 -5.3 9 -4.1 9.6 -3.7 15.9 -4.3 14.5 -0.4 165.9 0.6" stroke="#fed31b"/>
<path d="M1873.4 123.3l-156.2 1.3 -7.6 0.7 -3.4 2.6 -3.3 6.5 -2.5 3.6 -6.7 5.9 -8.3 4.5 -19.3 7.9 -9.7 4.7 -9 5.2 -7.8 6 -7.4 7 -6.8 7.5 -14.6 19.4 -10.4 11.8 -2 3.6 15.6 8.8 1.7 0 8.9 -8.2 10.4 -13.1 9 -8.2 9 -6.3 6.2 -3.9 13.8 -6.1 20 -5.9 180.4 0.3" stroke="#ffc416"/>
<path d="M1873.4 124.2l-155.5 1.1 -7.6 0.6 -2.7 2 -3.5 7.1 -2.6 3.7 -6.5 5.9 -8.9 4.8 -29 12.6 -9.7 5.6 -6.9 5.2 -7 6.6 -7.3 8 -14 19.1 -6 7.1 -1.7 2.9 0.8 1.3 10.3 8.8 2.1 0.8 6.9 -5.7 10 -12.5 6.6 -6.3 14.5 -10.7 8.3 -4.4 10.4 -4.4 18.6 -5.6 180.4 0.4" stroke="#ffb412"/>
<path d="M1873.4 125l-155.5 0.9 -7.6 0.7 -2.1 2 -2.2 5.8 -2.6 4.2 -3.5 3.7 -3.7 3 -9.2 5.1 -19.5 8.1 -10.4 4.9 -9 5.1 -6.8 5.1 -7.7 7.3 -7.1 8 -14.5 20.3 -1.5 2.9 1.7 3.6 4.1 5.8 2.7 2.9 1.5 0.1 4.1 -3.2 9.7 -12.1 7.6 -7.2 14.5 -10.7 8.3 -4.3 9.7 -4.1 18.6 -5.9 180.4 0.6" stroke="#ffa30e"/>
<path d="M1873.4 125.7l-154.8 0.9 -7.6 0.4 -1.9 1.6 -1.5 5.8 -2.4 4.3 -3.2 3.7 -4.5 3.6 -9.3 5.2 -20.7 8.6 -10.4 4.9 -9 5.1 -6 4.5 -8.5 8.2 -6.9 7.8 -9.1 13.1 -1.5 2.9 -0.4 2.2 1.3 5.1 2.1 5 2.1 3.3 1.4 0.3 2 -1.4 2.8 -3.1 6.9 -8.9 7.6 -7.2 15.9 -11.6 16.6 -7.7 18.6 -6.1 51.9 0.6 128.5 0.2" stroke="#ff9109"/>
<path d="M1873.4 126.4l-154.1 0.9 -8.3 0.4 -1 0.9 -0.5 5.1 -1.9 4.3 -3.5 4.4 -4.8 4.1 -9.7 5.4 -22.8 9.6 -12.5 6 -8.2 5 -7.6 6.6 -9.9 10.5 -7.3 10.9 -0.8 2.9 1.3 11.6 1.5 5 1.3 0 4.2 -4.3 5.5 -7.2 8.3 -7.9 14.5 -10.8 16.6 -7.9 13.8 -4.3 5.5 -2.3 50.5 0.9 129.9 0.1" stroke="#ff7f05"/>
<path d="M1873.4 127.1l-147.9 0.9 -13.8 0.4 -0.8 0.9 0.5 4.4 -1.8 4.3 -3.2 4.4 -5 4.3 -10.4 6 -24.2 10.1 -15.2 7.5 -7.1 4.8 -9.1 8.7 -6 6.5 -3.9 6.5 1.2 8.8 -1.5 11.6 0.8 0.5 1.4 -1.1 6.3 -8.1 8.9 -8.5 14.5 -10.9 16.6 -7.9 13.8 -4.4 4.8 -2.4 51.2 1.1 129.9 0.1" stroke="#fd6d03"/>
<path d="M1873.4 127.9l-142.4 1 -15.2 0.7 -1 0.4 -1.4 5.1 -2.9 5.1 -3.1 3.6 -4 3.4 -10.5 6.1 -26.8 11.1 -17.3 8.8 -4.8 3.6 -8.5 8.4 -3.8 4.4 -1.1 2.9 7.9 8.7 19.3 -13.6 15.2 -7.2 13.8 -4.4 4.2 -2.4 2.7 -0.5 49.1 1.6 130.6 0.1" stroke="#f85902"/>
<path d="M1873.4 129l-137.5 1.3 -13.8 1 -4.2 2.1 -7.1 9.7 -7 5.8 -10.8 5.8 -24.8 10.1 -18.7 9.1 -3.7 2.6 -5.2 5.1 -3.8 4.4 -0.6 1.4 0.9 1 3.4 0.9 3.5 0 3.4 -0.7 24.2 -9.6 13.1 -4.1 5.6 -2.4 3.4 -0.7 49.8 1.8 129.9 0.1" stroke="#f44500"/>
<path d="M1873.4 130.6l-136.8 1.8 -12.5 0.8 -4.1 2 -7.6 9.4 -6.9 5.3 -10.9 5.6 -24.4 9.7 -19.3 9.1 -5.1 3.7 -3.2 3.6 -0.6 1.5 3.4 0.6 6.2 -1 38 -11.5 5.5 -0.9 11.8 0.1 13.1 1.3 22.8 0.5 130.6 0.2" stroke="#ef3300"/>
<path d="M1873.4 132.7l-136.1 1.7 -12.5 0.8 -3.4 1.6 -6.4 8.5 -7.5 5.5 -12.8 6.1 -21.7 8.5 -11.9 5.3 -11.6 5.8 -1.6 2.2 2.3 0.2 6.9 -1.1 33.2 -8.2 8.3 -0.9 9.6 0.1 10.4 1.6 18.7 0.3 136.1 0.4" stroke="#ea2000"/>
<path d="M1873.4 134.7l-136.1 1.8 -12.5 0.6 -2.7 1.5 -1.4 3.9 -2.7 3.5 -6.9 5.1 -16.3 7.3 -22.8 8.7 -9.2 4.3 -3.4 2.2 1.2 0.4 3.4 -0.4 28.3 -5.9 11.1 -0.8 6.2 0.2 6.9 1.8 4.9 0.2 152 0.7" stroke="#e50d00"/>
<path d="M1873.4 136.7l-124.4 1.9 -22.1 0.9 -1.2 0.7 -1.4 3.6 -2.3 2.9 -7.2 5.1 -41.9 16.7 0.1 0.7 0.7 0 20.7 -3.4 11.1 -0.8 5.5 0.4 5.5 1.8 4.2 0.3 152.7 0.8" stroke="#d20b00"/>
<path d="M1873.4 139.3l-93.3 2.4 -25.6 1.2 -14.5 1.3 -8.3 1.9 -15.1 7.9 -13.9 4.3 -14.2 5.9 1.8 0.4 17.2 -1.5 11.1 1.6 9 0.3 59.4 0.9 86.4 -0.1" stroke="#bf0800"/>
<path d="M1873.4 147.8l-40.1 -1.3 -26.3 -0.3 -22.8 0.1 -20 1.2 -15.9 1.4 -10.4 1.6 -22.8 6.9 -8.9 1.7 -3.6 1.4 1.5 0.6 22.1 1 58.7 1.4 42.9 -0.4 45.6 -1.3" stroke="#ac0600"/>
<path d="M1769 160.5l18 0.6 40.8 -0.8 33.7 -1.9 5.1 -0.8 0.6 -0.7 -13.2 -2.2 -22.8 -2.3 -44.2 -1.4 -14.5 0.8 -23.5 2.4 -14.5 2.7 -4.8 1.5 10.3 1 29 1.1" stroke="#990400"/>
<path d="M1778.6 158.4l17.7 0 12.6 -0.8 0.4 -0.7 -23.7 -1.4 -13.3 1.4 0 0.7 6.3 0.8" stroke="#860200"/>
</g>
<g class="geo"><polygon points="1470.9,393.3 1470.9,393.3 1470.9,393.3 1470.9,393.3 1470.9,393.3 1470.9,393.3 1470.9,393.3 1470.9,393.3 1470.9,393.3 1470.9,393.3 1470.9,393.3 1470.9,393.3 1470.9,393.3 1470.9,393.3 1470.9,393.3 1470.9,393.3 1361.8,393.3 1361.8,393.3 1361.8,393.3 1361.8,393.3 1361.8,393.3 1361.8,393.3 1361.8,393.3 1361.8,393.3 1361.8,393.3 1361.8,393.3 1361.8,393.3 1361.7,393.3 1361.7,393.3 1361.7,393.3 1361.7,393.3 1361.7,393.3 1361.7,393.3 1361.7,335.2 1107.5,335.2 1107.5,121.7 1410.1,121.7 1410.1,174.0 1361.8,174.0 1361.8,188.5 1410.1,188.5 1410.1,238.6 1422.6,238.6 1422.6,188.5 1470.9,188.5 1470.9,174.0 1422.6,174.0 1422.6,121.7 1584.2,121.7 1584.2,63.6 1584.2,63.6 1584.2,63.6 1584.2,63.6 1584.2,63.6 1584.2,63.6 1584.2,63.6 1584.2,63.6 1584.2,63.6 1584.2,63.6 1584.2,63.6 1584.2,63.6 1584.2,63.6 1584.2,63.6 1584.2,63.6 1584.2,63.6 1584.2,63.6 1694.8,63.6 1694.8,63.6 1694.8,63.6 1694.8,63.6 1694.8,63.6 1694.8,63.6 1694.8,63.6 1694.8,63.6 1694.8,63.6 1694.8,63.6 1694.8,63.6 1694.8,63.6 1694.8,63.6 1694.8,63.6 1694.8,63.6 1694.8,63.6 1694.8,63.6 1694.8,121.7 1873.7,121.7 1873.7,335.2 1646.4,335.2 1646.4,219.0 1632.6,219.0 1632.6,335.2 1470.9,335.2 1470.9,393.3 1470.9,393.3"/></g>
<rect class="frm" x="1085.3" y="46.0" width="809.2" height="367.0"/>
<path class="frm" d="M1107.5 413.0v-7M1107.5 46.0v7M1245.7 413.0v-7M1245.7 46.0v7M1383.9 413.0v-7M1383.9 46.0v7M1522.0 413.0v-7M1522.0 46.0v7M1660.2 413.0v-7M1660.2 46.0v7M1798.4 413.0v-7M1798.4 46.0v7M1085.3 393.3h7M1894.5 393.3h-7M1085.3 364.2h7M1894.5 364.2h-7M1085.3 335.2h7M1894.5 335.2h-7M1085.3 306.1h7M1894.5 306.1h-7M1085.3 277.1h7M1894.5 277.1h-7M1085.3 248.1h7M1894.5 248.1h-7M1085.3 219.0h7M1894.5 219.0h-7M1085.3 189.9h7M1894.5 189.9h-7M1085.3 160.9h7M1894.5 160.9h-7M1085.3 131.8h7M1894.5 131.8h-7M1085.3 102.8h7M1894.5 102.8h-7M1085.3 73.8h7M1894.5 73.8h-7"/>
<g class="tl" font-size="20.5"><text x="1107.5" y="436.8" text-anchor="middle">0</text><text x="1245.7" y="436.8" text-anchor="middle">100</text><text x="1383.9" y="436.8" text-anchor="middle">200</text><text x="1522.0" y="436.8" text-anchor="middle">300</text><text x="1660.2" y="436.8" text-anchor="middle">400</text><text x="1798.4" y="436.8" text-anchor="middle">500</text><text x="1079.3" y="399.7" text-anchor="end">-40</text><text x="1079.3" y="370.6" text-anchor="end">-20</text><text x="1079.3" y="341.6" text-anchor="end">0</text><text x="1079.3" y="312.5" text-anchor="end">20</text><text x="1079.3" y="283.5" text-anchor="end">40</text><text x="1079.3" y="254.4" text-anchor="end">60</text><text x="1079.3" y="225.4" text-anchor="end">80</text><text x="1079.3" y="196.3" text-anchor="end">100</text><text x="1079.3" y="167.3" text-anchor="end">120</text><text x="1079.3" y="138.2" text-anchor="end">140</text><text x="1079.3" y="109.2" text-anchor="end">160</text><text x="1079.3" y="80.1" text-anchor="end">180</text></g>
<text class="tt" x="1035.5" y="33.5" font-size="20.5">Re =3000</text>
<text class="tt" x="1334.0" y="33.5" font-size="20.5">Contour: Velocity magnitude (m/s)</text>
<text class="tt" x="1019.7" y="53.3" font-size="16.5">mm</text>
<text class="tt" x="1869.0" y="435.4" font-size="16.5">mm</text>
<text class="pl" x="1018.0" y="490.0">(b)</text>
<rect x="1920.0" y="115.7" width="18.7" height="262.1" fill="url(#cb)"/>
<path d="M1921.1 118.7V374.8M1937.6 118.7V374.8" stroke="#1a1a1a" stroke-width="2.2" stroke-dasharray="1.6 2.5" opacity="0.75" fill="none"/>
<g class="tl" font-size="20.5"><text x="1951.0" y="380.7">0.02</text><text x="1951.0" y="354.7">0.14</text><text x="1951.0" y="328.8">0.26</text><text x="1951.0" y="302.8">0.38</text><text x="1951.0" y="276.9">0.5</text><text x="1951.0" y="250.9">0.62</text><text x="1951.0" y="225.0">0.75</text><text x="1951.0" y="199.0">0.87</text><text x="1951.0" y="173.1">0.99</text><text x="1951.0" y="147.1">1.11</text></g>
<polygon points="1905.0,76.2 1922.0,76.2 1913.5,61.7" fill="#000"/>
<text class="tl" font-size="20.5" x="1931.0" y="78.0">1.2</text>
<polygon points="1905.8,394.0 1921.7,394.0 1913.8,410.0" fill="#000"/>
<text class="tl" font-size="20.5" x="1929.7" y="410.0">0.0152</text>
</g>
<g id="pc">
<g class="ct" stroke-width="2">
<path d="M403.3 724.4l-1.5 -5.7 0.6 -8 -0.5 -2.9 -2.9 -3.6 -5.9 -2.9M383.6 701.3l-8.4 3.3 -7.2 4.6 -3.3 -2.7 -3.3 -3.8 -0.6 -1.4M418.6 701.3l-0.3 2.3 -2.6 -1.3M518.8 682l-0.9 -1 1.5 -1.2 2 0.2 0.8 1 -1.5 1.2 -1.9 -0.2M403.3 643.6l-9.8 1.6 -9.2 -0.8 -9.1 -2.8 -12.6 -5.6 -2.1 -1.4M419.6 634.6l-2.2 9.4 2.2 6.4 5.8 34 0.7 0.7 2.6 0.6 10.9 0.4" stroke="#4b4bab"/>
<path d="M430 878.8l-2.8 -1.4 0 -1.5 0.9 -0.9 3.2 -0.9 2 0.5 1.3 1.1 0.3 1 -1.2 1.4 -3.7 0.7M454.8 874.2l-2.1 -4.1 1.5 -1.4 1.9 -0.2M604.6 846.9l2 -6.5 0.6 -8.7 -0.4 -5.8 -1.9 -9.4 -0.1 -5.1 3.6 -18.1 3.4 -45.6 0.5 -2.2 1.1 -1M585.4 816.5l-0.9 -1.4 0.9 -1.3 0.7 1.3 -0.7 1.4M751.8 773.1l-6.5 -1.3 -4.1 -2.4 -0.8 -1.5 -0.3 -2.1 0.5 -2.2 1.2 -1.5 2.8 -1.6 3.9 -1.1 11.8 -0.7 7 1.3 2.1 1.2 1.4 1.7 0.7 2.1 -0.2 2.9 -1.1 2.2 -1.9 1.5 -6.1 1.6 -10.4 -0.1M411.5 751.3l-0.1 0.7 -2.3 0.3 -4.4 -1M403.3 750.6l-6 -5.1 -10.4 -11.4 -27.7 -32.8M387.5 725.2l2 -0.5 1 -1 2 -6.5 4.2 -5.1 1 -2.9 -0.5 -2.1 -1.8 -1.9 -2.6 -1.2 -3.3 -0.7 -4.5 0.2 -4.2 1.4 -2.7 2.2 -1.1 2.9 1.8 8.7 1.4 2.9 3.5 2.5 3.8 1.1M657.8 720.8l-18.1 -0.7 15.4 -2.2 15.1 0 45 0.2 5.9 0.7 20.9 0.2 4.6 0.9 10.2 0.2 -99 0.7M431.7 701.3l-0.4 5.8 -3.3 5.8 -6.5 5.8 -2.6 1.2 -3.2 0.3M357.6 699.1l-0.7 -0.7 -0.6 -2.3 -0.7 -8.6 0.3 -1.4 1 -1.2 1.3 0.2 0.8 1M516.8 685.4l-2.6 -1 -1.6 -2 0.6 -2.1 2.3 -1.9 3.3 -0.9 4.6 -0.1 3.2 1.1 1.6 1.8 0.1 2.1 -2.3 2.2 -4 1 -5.2 -0.2M403.3 678l-5.3 4.4 -4.5 1.4 -5.9 -0.5 -5.2 -2.6 -4.6 -4.7 -8.1 -13.1 -5.5 -7.3 -5.6 -5.8 -14.3 -13 -1.4 -2.2M456.8 634.6l-7.2 7.1 -9.1 5.4 -2.7 2.2 -2.4 4.1 -0.8 5.1 1 4.4 2.2 3.3 2.7 1.6 6.5 1.9 3.3 1.6 6.5 5.7 4.5 5.4 1.8 5.1 0.2 8.7 -0.3 3.6 -1 1.1 -0.8 -0.2M670.2 626.1l-1.9 2 -5 -11.6 -3.5 -3.2 -7.9 -4.2 -11.1 -1.8 -4.5 0.1 -9.8 1.7 -13.1 6.2 -10.4 6.2 -1.3 0.2 -0.9 -0.9 -0.4 -3.6 1.4 -2.9 3 -2.9 4.9 -2.9 12.9 -4.4 22.8 -4 5.9 -2.4 4.5 -4.4 0.9 -2.2 -1.3 -2.2 -3.5 -2.1 -5.2 -2 -5.9 -1.3 -44.3 -4.5 -9.8 0.5 -3.3 1 -3.3 2.1M578.2 590.4l2.3 10.1 1.2 10.2 -0.7 5.8 -2.2 4.1 -1.3 0.5 -1.6 -1 -2.9 -6.5" stroke="#4a4ab5"/>
<path d="M369.3 896.8l7.8 5.8 2.3 2.3M452.2 884.8l-3.9 -3.1 -4.6 -1.4 -14.3 0.3 -4 -0.9 -5.8 -2.7 -3.3 -0.9 -22.8 -2.4 -9.8 0.1 -7.9 1.3 -5.7 2.3 -4.2 3.4M358.9 849.3l21.5 6.3 25.5 9.9 24.1 5 11.8 0 5.2 -0.7 6.9 -4 3.5 -4.2M467.3 846.9l10.1 -3.6 7.4 -1.2 1.7 0.5 1.4 4.3M596.8 846.9l3.2 -6.5 1 -8.7 -1.2 -5.8 -4.6 -10.1 -0.4 -4.4 1.3 -5 2.3 -5.4 1.3 -1.7 3.9 -2.8 1.6 -3.9 0.6 -5.1 -0.1 -11.6 1.2 -10.1 3.3 -19.5 3.2 -12.7M584.7 820.4l-1.3 -1.1 -1 -2.1 -0.2 -4.3 1.9 -3.5 2.6 -0.8 2.7 2.1 0.9 2.2 0.1 2.2 -0.7 2.1 -1.4 2.2 -1.6 1.1 -2 -0.1M749.2 780.3l-8.3 -0.8 -6.7 -1.3 -5.2 -1.8 -4.3 -2.7 -2.3 -2.9 -1 -3.6 0.3 -4.3 2 -3.7 5 -3.6 7.4 -2.5 9.8 -1.5 12.4 -0.4 9.2 0.4 6.5 1.4 5.4 2.6 3.5 3.6 1.5 4.4 -0.2 5.8 -1.7 4 -3.7 3.2 -5 2.2 -6.3 1.3 -18.3 0.2M616.5 731l0.6 -2.2 4.5 -5.1 6 -2.9 6.7 -2.4 20.2 -2.7 60.1 -0.3 7.2 0.7 20.9 0.1 5.8 0.6 92.7 0.7M841.2 729.3l-3.9 -2.7 -6.5 -0.7 -71.2 1.3 -116.2 -1.3 -7.8 0.3 -4.6 0.8 -2.6 1.2 -2 2.8M384.7 713.6l3.5 0.3 4.4 -1.8 2 -2.1 0.2 -1.5 -0.6 -1.4 -2 -1.6 -3.3 -0.8 -3.9 0.4 -2.8 1.2 -1.3 1.5 -0.2 2.2 1.5 2.1 2.5 1.5M447.2 701.3l1.7 3.6 -0.7 2.2 -2.2 2.1 -12.7 9.5 -3.4 3.6 -2.7 4.3 -1 3.7 0 3.6 3.5 10.9 0 5 -1.1 4.4 -0.9 0.7 -5.5 0.8 -13.7 -2.4 -3.9 -1.2 -2.6 -1.5 -6.2 -5.8 -12.8 -14.3 -24.3 -29.2M357.6 699.9l-1.1 -0.8 -0.9 -2.2 -1.6 -8.7 0.3 -3.6 2 -5.8 0.6 -3.6 -0.4 -4.4 -1.7 -5 -2.9 -5.1 -4.6 -5.8 -18.6 -18.1 -1.4 -2.2M518.1 689l-6.5 -1.1 -3.9 -2.6 -0.7 -2.9 2.3 -3.6 2.3 -1.5 3.9 -1.4 8.5 -1.1 6.4 1.1 2.5 1.5 1.3 1.4 0.7 2.2 -0.2 2.2 -2.9 3.2 -5.8 2.1 -7.9 0.5M474.1 634.6l-9.7 12.3 -2.2 4.4 -1.2 5 0.2 7.3 4.1 18.1 0.5 16.7 -0.5 4.3 -2 3.4 -2 1 -1.9 0.1 -2.4 -0.9 -1.4 -1.4 0.4 -3.6M670.9 628.3l-2 2.5 -0.8 0.2 -5.7 -11.7 -2 -2.2 -3.2 -2.3 -7.2 -3 -9.8 -1.4 -5.9 0.3 -6.5 1.2 -5.9 2.2 -7.2 3.6 -11.1 7.7 -9.3 8.5 -5 5.5 -1.3 -0.4 -5.3 -5.4 -5.8 -3.3 -6.6 -5.5M601.7 597.6l9.1 0.7 15 -1.8 12.4 -3.7 1.8 -1 0.6 -1.4 -4.3 -2 -9.2 -1.5 -13 -0.7 -9.2 0.7 -5.8 1.8 -2.7 2.4 -0.1 2.2 1.3 2.2 4.1 2.1" stroke="#4848be"/>
<path d="M451 889.6l-4.7 -2.7 -7.1 -2.4 -19.6 -3.2 -15.7 -0.6 -10.4 1.2 -3.6 1.3 -2.9 2.1 -1.7 2.9 -0.8 2.9 0.1 2.9 1 2.9 4.9 8M358.6 848.8l21.7 6.1 25.6 9.5 24.1 4.9 11.1 0.1 5.9 -0.9 6.1 -3.4 5 -5.4M466.5 846.9l11.1 -4.3 24.2 -6.4 3.9 -0.6 1.1 0.5 0.3 2.9 1.6 2.9 6.9 5M588.3 846.9l3.8 -4.3 1.5 -2.9 1 -5.1 -0.4 -4.3 -1.3 -2.9 -1.7 -1.8 -6.5 -1.6 -2.9 -2.4 -2.3 -5.1 -0.1 -5.1 0.9 -2.9 1.9 -2.9 6.4 -4.7 2.2 -2.5 8.6 -17.4 4.2 -16.6 4.2 -12.4 5.6 -19.6M840.5 846.9l0.7 -0.9M627.1 846l1 0.9M747.9 787.5l-13.1 -0.9 -10.4 -1.7 -8.5 -2.6 -6.6 -3.5 -4.4 -4.3 -1.8 -4.4 -0.2 -7.2 0.7 -2.9 1.6 -2.9 2.6 -2.9 3.5 -2.6 9.4 -3.9 12.8 -2.7 16.3 -1.1 17 0.1 11.8 1.6 9.3 3.5 3.7 2.6 2.9 3.2 1.6 2.9 1 3.6 0.1 8.7 -2 5.8 -2.3 2.9 -2.6 2.2 -7.2 3.6 -8.5 2.1 -10.4 0.9 -16.3 -0.1M841.2 734.9l-1.9 -3.7 -2 -1.7 -3.3 -1 -4.5 -0.2 -43.1 2.3 -26.1 0.6 -32.7 -0.3 -86.8 -2.4 -5.2 0.4 -3.9 1 -2.6 1.8 -2 3.1M615.7 731l0.9 -2.2 5.2 -5.8 6.4 -2.9 6.1 -2.2 20.8 -2.9 58.2 -0.3 35.9 1.3 92 0.7M386.6 711.4l2.3 0 2 -0.7 1.3 -1.5 -0.1 -1.4 -1.2 -1.2 -2 -0.6 -2.6 0.1 -2 0.9 -0.9 1.5 0.3 1.2 1.3 1.2 1.6 0.5M357.6 700.4l-1.8 -1.3 -1.3 -2.9 -2 -7.2 -2.2 -11.6 -1.9 -4.5 -2.5 -4.2 -7.9 -9.2 -21.4 -19.8 -2.8 -3 -1 -2.1M512.3 691.9l-7.4 -2.2 -2.8 -2.2 -1.3 -2.2 -0.1 -2.1 1.3 -2.9 2.2 -2.2 2.8 -1.8 11.1 -3.3 9.8 -0.9 4.6 0.5 3.5 1.1 3 1.9 2.1 2.5 0.7 3.6 -0.7 2.9 -2.1 2.6 -3.2 2.1 -4.6 1.7 -5.2 0.9 -7.2 0.4 -6.5 -0.4M485.5 634.6l-2.7 6.5 -6.5 7.3 -2.6 3.6 -2 4.3 -0.9 4.4 -0.6 11.6 -2.3 13 -0.3 8 1.6 9.8 4.4 10.5 -0.5 3.8 -1.9 2 -2.7 0.7 -15 -2.6 -4.6 -0.1 -3.9 0.7 -3.9 1.6 -3.3 2.1 -2.5 2.7 -1.4 2.9 -0.2 4.3 2.2 4.3 3.3 3.3 7.7 5.5 1.6 2.1 0.2 2.2 -0.8 2.2 -1.3 2.2 -2 1.4 -3.6 0.7 -19.5 0.8 -14.3 -2.9 -4.6 -2 -5.9 -5.3 -10.4 -11.5 -28 -33.4M670.9 629.4l-2 2.4 -1.3 -0.1 -2.6 -5.6 -3.9 -5.5 -3.9 -3 -5.3 -2.4 -4.5 -1.2 -7.2 -0.8 -5.2 0.1 -7.2 1.4 -11.8 5.1 -11.1 7.9 -11.7 10.4 -9.1 13.5 -4 3.9 -4.5 -4.3 -4.2 -5.7 -0.8 -2.9 0.7 -7.3 -0.8 -2.1 -1.5 -1.6M618.1 592.6l4.2 0 3.9 -1.5 -1.5 -0.7 -3.4 -0.2 -3.1 0.2 -1.8 0.7 0.1 0.7 1.6 0.8" stroke="#4848c9"/>
<path d="M450.3 894.3l-8.7 -4.6 -12.9 -3.7 -11.7 -1.6 -11.8 0.7 -3.4 1 -2.5 1.4 -2.3 2.2 -1.5 2.9 -0.2 2.9 0.7 2.9 3.4 6.5M358.3 848.5l21.3 5.7 26.9 9.5 23.5 4.5 9.8 0.2 6.5 -0.9 5.9 -3 5.9 -5.4M466 846.9l11 -4.5 17.6 -5 31.6 -10 5 -1 0.3 0.2 -6.4 3.7 -2.3 2.1 -1.4 2.9 -0.2 2.9 0.9 2.2 2.3 2.2 9 4.3M578.1 846.9l5.6 -3.6 2.8 -2.9 1.4 -4.3 -0.4 -4.4 -1.6 -2.2 -9.7 -8.3 -10.9 -6.1 -1.2 -0.8 -0.2 -0.7 20.8 -17.6 3.1 -3.4 12.4 -22.5 7 -18.1 6.2 -20M838.6 846.9l2.6 -3.4M627.1 843.4l3.6 3.5M841.2 776.2l-1.2 -38 -1.8 -5 -1.6 -1.4 -2.6 -1 -7.1 -0.3 -21.9 2.7 -12.7 1.9 -5.2 1.7 -0.7 0.7 1.4 1.5 8.4 3.6 5.5 3.6 3.6 3.6 2.3 3.7 1.7 5 0.5 6.5 -0.4 7.3 -1.7 5.8 -2.4 3.7 -3.6 3.5 -4.9 3.1 -5.8 2.5 -6.6 1.8 -7.1 1.2 -17.7 0.9 -26.7 -0.8 -10.5 -1.2 -9.8 -1.8 -8.4 -2.4 -7.2 -3 -5.3 -3.3 -4.2 -4.2 -2.8 -5.8 -0.6 -6.5 0.7 -6.6 2.9 -5.7 3.5 -3.7 5.3 -3.6 7.7 -3.4 12.5 -3.8 1.8 -1.5 -0.9 -0.7 -11.5 -2.2 -24.1 -2.2 -31.4 -1.6 -13.7 0.4 -3.2 0.8 -2.7 1.6 -1.3 1.7 -0.8 2.9 0.4 40.6 -0.9 18.1 -1.3 13.9M446.5 736.1l6.4 0.2 2.8 -1 2.2 -1.4 1.2 -1.5 0.6 -2.1 -0.3 -2.2 -1.4 -2.2 -3.8 -2.5 -4.6 -1.1 -4.6 0.6 -3.9 2.1 -1.8 3.1 0.5 3.4 2.6 2.8 4.1 1.8M615.2 731l1.5 -2.8 4.7 -5.2 7.7 -3.6 5.2 -1.9 20.9 -2.9 56.8 -0.6 37.8 1.3 91.4 0.7M386.5 709.2l1.7 0.4 1.6 -1.1 -0.3 -0.7 -1.9 -0.5 -1.3 0.5 -0.3 0.7 0.5 0.7M510.3 695.5l-9.8 -2.3 -4.2 -2.1 -2.5 -2.1 -1.5 -2.9 0.2 -2.9 1.5 -2.9 2.8 -2.9 5.7 -2.8 14.3 -3.9 6.6 -1.2 5.8 -0.5 7.2 0.7 5.9 1.7 4.1 2.3 3 3.7 0.9 4.3 -0.9 3.6 -3.1 3.7 -4.7 2.8 -5.8 2 -7.2 1.4 -9.8 0.6 -8.5 -0.3M493.2 634.6l0.1 2.9 1.8 5.1 -0.3 1.4 -1.5 1.8 -8.5 6.5 -3.9 5.2 -1.9 5.4 -1.6 10.1 -6.5 10.2 -1.3 4.3 -0.4 5.1 1.3 6.5 1.3 2.3 1.9 1.8 2 0.7 2 -0.1 7.1 -3.4 2 0.7 2.9 3.1 5.6 8.7 2.6 5.8 0.4 5 -1.6 5.1 -2.5 3.6 -4.2 4.4 -13.8 12.3 -3.5 2.2 -8.3 2.2 -10.2 1.7 -11.1 1.3 -18.3 0.5 -6.5 -0.7 -12.5 -2.8 -3.8 -2.1 -5.1 -4.5 -15.8 -17.8 -19 -23.2 -4.5 -5 -2.4 -1.8 -6.8 -15.1 -5.8 -8.1 -7.9 -7.2 -26.7 -21.1 -9.7 -9.4 -2.4 -3.6M671.2 629.9l-2.3 2.4 -1.3 0.2 -3.3 -5.7 -5.2 -5.8 -7.2 -3.5 -4.5 -1.3 -8.5 -0.9 -7.9 0.9 -5.2 1.5 -7.8 3.5 -10.4 7.2 -9 8.4 -2.8 1.3 -2 1.6 -19.5 28.9 -9.2 12.4 -2.6 2.6 -0.5 -0.4 1 -12.4 -0.8 -7.2 -2.3 -6.5 -5.1 -8 -0.7 -2.2 1.1 -2.2 7.7 -6.5 1.4 -3.6" stroke="#4848d3"/>
<path d="M448.5 901.1l-1.9 -2.7 -2.4 -2.2 -7 -3.6 -13.1 -3.4 -12.4 -1.5 -2.2 0.5 -1.7 1.5 -2.1 5.1 0.1 5 2.3 5.1M358.2 848.2l2 0.1 21 5.9 25.3 8.6 23.5 4.4 9.8 0.2 6.5 -1.1 5.3 -2.4 6.5 -5.3M465.6 846.9l2.5 -1.4 9.3 -3.6 16.6 -4.9 51.5 -17.3 16.4 -7.9 5.8 -3.6 17.7 -15 6.1 -9.3 9.1 -16.7 5.8 -14.5 6.4 -20 0.8 -1.1M836.3 846.9l3.1 -2.9 1.8 -6.1M548.6 845.5l13.9 0.2 6.5 -0.9 5.3 -1.5 3.9 -2 2.2 -2.3 1 -2.9 -0.3 -3.7 -2.8 -3.6 -4 -2.5 -6.6 -1.9 -7.1 -0.7 -8.5 0.7 -9.2 2.2 -7.1 2.7 -4.2 3.1 -1.2 2.2 -0.3 2.9 1 2.2 1.4 1.3 6.5 2.8 9.6 1.7M841.2 829.1l-2.5 -89.4 -1.4 -4.4 -2.6 -2 -4.6 -0.8 -5.9 0.7 -10.2 2.9 -3.6 2.1 0.2 1.5 3.6 4.3 2 4.4 1.2 5.8 0.4 6.5 -0.5 11.6 -1.2 8 -2.3 6.2 -3.5 4.6 -3 2.3 -4.6 2.3 -12.4 3.8 -13.7 1.9 -17.6 0.6 -26.8 -0.6 -21.5 -2.3 -17.6 -4 -7.2 -2.6 -6.6 -3.3 -7.1 -5.3 -4.4 -5.8 -2.2 -6.5 -0.2 -9.5 1.2 -5.7 3.1 -5.8 5.1 -5.3 8.4 -5.6 0.5 -0.7 -0.2 -0.8 -6.1 -2.1 -10.2 -1.5 -16.6 -1.3 -10.4 0 -3.9 0.7 -2.6 1.2 -1.9 2.3 -0.4 2.2 0.8 11.6 -0.5 12.3 0.7 14.5 -5.1 57.2 0.7 5.1 1.2 2.9 1.8 1.9 3.8 1.7M445.6 730.3l1.4 0.4 1.9 -0.2 1.2 -1 0 -1.4 -1.8 -1.3 -2.6 0.2 -1.1 1.8 1 1.5M614.6 731l1.9 -2.9 4.8 -5.2 7.1 -3.5 5.9 -2.2 20.9 -3.1 20.9 -0.6 34.6 -0.1 39.8 1.3 90.7 0.7M473.7 699.1l2 0.4 2 -0.9 1.8 -2.4 1 -2.9 0.3 -3.6 -0.6 -2.9 -1.2 -2.3 -2 -1.3 -1.9 0.1 -2 1.3 -2.1 4.4 -0.3 2.9 0.4 3.2 1.2 2.5 1.4 1.5M499.6 634.6l0.9 2.9 2.2 2.2 11.4 5.8 1.5 1.4 -2.5 1.5 -14.5 4.4 -4 2 -3.2 2.5 -3.1 4.1 -1.1 4.4 1 3.6 2.5 1.7 18.3 -0.7 6.5 -2.2 7.2 -1.6 7.2 -0.9 11.7 -0.5 3.2 -0.9 1 -1.4 0.1 -1.5 -2.1 -4.3 -3.5 -3.4 -7.3 -4.6 -1.1 -1.5 2.6 -1.4 11 -3.2 6.6 -2.6 4.4 -2.9 1.6 -2.9M671.5 630.4l-2.6 2.3 -1.3 0.3 -3.9 -5.9 -5.2 -5.2 -7.9 -3.6 -3.9 -0.9 -7.8 -0.8 -7.9 0.8 -5.2 1.6 -7.8 3.6 -10.4 7.2 -8.5 8.1 -4.8 3.2 -22.1 32.6 -18.2 24.6 -15.5 18.2 -14.4 12.3 -12.3 8 -8.6 4.3 -10.9 5.1 -18.7 6.5 -19.4 3.3 -11.1 1.1 -13.7 0.3 -7.9 -0.1 -7.1 -1.4 -9.2 -2.3 -3.9 -2.3 -6.2 -5.8 -10.8 -12.2 -22.6 -27.7 -4.1 -4.3 -3.2 -2.2 -5.3 -9.6 -2.6 -3.1 -9.2 -6.6 -24.1 -13.6 -13.7 -9 -15.9 -13.2 -6.6 -6.5 -1.8 -2.9" stroke="#4848dd"/>
<path d="M441.1 904.9l0.1 -2.2 -0.6 -1.4 -3.3 -2.9 -6 -2.3 -6.5 -0.8 -4.6 0.8 -3.1 2.3 -1.1 2.9 0.9 3.6M460 851.2l0 -1.3M358.2 847.8l22.2 5.7 26.8 8.6 22.8 4.1 9.2 0.2 6.5 -1 5.2 -2.2 5.9 -4.6 1.3 -0.4M465.3 846.9l2.3 -1.4 8.9 -3.6 18.1 -5.6 50.3 -17.3 17.6 -8.6 6.5 -4.4 15.7 -13.4 7.7 -11.6 7.9 -14.5 6.3 -15.2 6.1 -18.9 1.4 -1.4M831.8 846.9l4.2 -1.5 2.5 -2.1 1.2 -3.6 0.3 -5.8 -1.6 -62.3 -1.6 -31.9 -0.7 -2.2 -1.4 -1.4 -3.9 -1.2 -6 1.2 -2.5 1.4 -1.1 1.5 1.5 10.8 -0.4 13.1 -1.7 18.8 -1.3 6.5 -1.7 5.1 -2.5 4.3 -3.3 3.2 -5.2 2.6 -7.2 2.1 -16.9 2.7 -21.6 0.8 -33.9 -0.6 -26.1 -2.7 -17 -3.6 -13.7 -4.8 -11.6 -6.2 -13.2 -10.3 -2 -0.8 -1.3 0.2 -1.9 1.9 -2.6 5.1 -4.6 15.4 -3.3 20.9 -0.7 9.7 0.3 5.8 1.7 4.1 3.3 2 7.8 1.4 10.1 0.4M550.3 842.6l11.6 -0.1 7.8 -1.6 2.6 -1.4 1.9 -2 0.5 -2.2 -0.3 -2.1 -1.8 -2.2 -2.9 -1.5 -4.6 -1.1 -5.8 -0.5 -7.2 0.4 -5.9 1.1 -4.8 1.6 -3 2.2 -0.8 1.4 -0.3 2.2 0.5 1.4 1.4 1.5 4.4 1.9 6.7 1M639.7 775.2l1.8 0.3 1.3 -1 1.7 -2.9 1.2 -3.7 0.5 -5.8 -1 -8.6 0.5 -2.2 12.4 -10.9 0.3 -1.4 -1 -0.8 -6.2 -1.4 -7.8 -0.4 -4.5 0.7 -2.6 1.9 0 1.5 2.5 8.6 -4.1 8.7 -0.7 3.6 0 3.6 0.8 3.7 1.3 2.9 1.5 2 2.1 1.6M614.1 731l7.6 -8.7 7.8 -3.6 4.8 -1.8 21.6 -3.3 20.2 -0.7 33.3 -0.1 41.7 1.3 90.1 0.7M473.4 695.5l1 0.6 1.3 -0.3 1.6 -2.5 -0.1 -3.6 -1.5 -2 -2 0.3 -1.3 2.2 -0.1 3.1 1.1 2.2M501.1 665l5.3 0.5 10.5 -1.9 7.2 -2.2 1.1 -0.7 0.4 -1.5 -2.2 -1.5 -4.6 -0.8 -5.2 0.1 -6.6 1.2 -3.9 1.3 -3 1.9 -0.8 2.2 1.8 1.4M505.7 634.6l0.4 1.4 1.3 1.5 4.9 2.5 7.1 1.8 8.5 0.6 8.5 -0.7 7.8 -1.7 5.6 -2.5 1.7 -1.5 0.6 -1.4M671.5 630.9l-2.8 2.3 -1.8 0 -3.8 -5.8 -4.6 -4.5 -5.3 -2.6 -6.5 -2 -7.8 -0.8 -7.2 0.8 -5.2 1.4 -7.9 3.5 -10.4 7.1 -12.9 11.5 -27.9 40.6 -16 21 -12.1 13.8 -14.5 12.3 -13.7 8.7 -11.9 5.8 -10.2 4.4 -15.3 4.9 -18.9 3.2 -11.7 1 -12.4 0.3 -7.9 -0.1 -4.5 -0.6 -11.1 -2.6 -5.2 -2.4 -5.9 -5.2 -6.6 -7.1 -28 -34.2 -3.9 -4 -4.8 -3.2 -4.5 -7.3 -1.8 -1.8 -31.7 -9.8 -11.4 -4.6 -9.8 -4.8 -15.7 -10.1 -19.1 -15.3 -12 -8.7 -1 -1.4" stroke="#484fe2"/>
<path d="M433.7 904.9l-1.1 -1.7 -3.2 -0.8 -2.6 0.8 -0.8 1.7M459.9 851.5l0.1 -2M358.1 847.6l1.4 -0.1 22.5 6 25.2 7.8 22.2 3.9 8.4 0.3 7.2 -0.9 5.3 -2 5.8 -4.1 2 -0.7M465.1 846.9l2.1 -1.4 9.8 -4.1 17.6 -5.6 50.9 -18 16.4 -8 7.1 -4.8 15.3 -13.1 8.3 -12.4 5.8 -10.1 4.5 -10.2 3.6 -8.6 6.4 -18.9 8.6 -9.4 11 -5.1 22 -3.9 23.5 -1 33.3 0 39.8 1.1 90.1 0.7M804.5 846.9l27.6 -1.5 4.5 -1.9 2 -3.8 0.4 -7.3 -2.4 -65.1 -3.4 -26.2 -0.5 -1.5 -1.3 -0.8 -1.9 0.2 -1 1.4 -4.5 42.8 -2.7 13.7 -1.9 5.1 -2.3 3.9 -3.3 3 -3.9 1.9 -13.1 2.7 -18.2 1.5 -39.9 0.1 -26.1 -0.8 -15.9 -1.4 -14.7 -2.4 -13.1 -3.1 -18.3 -5.8 -4.5 -0.8 -2.7 0.3 -2.6 1.1 -1.9 1.7 -2 2.8 -1.9 4.4 -2 6.6 -2.2 14 -0.1 4.4 0.6 3.6 1.2 2.2 1.8 1.4 3.9 1.2 6.6 0.7 61.6 1.7M549.6 839.7l7.7 0.3 5.9 -0.8 3.4 -1.7 0.8 -1.4 0 -1.5 -2.3 -2.1 -3.9 -1 -7.2 -0.1 -5.8 0.9 -3.2 1.6 -0.9 1.4 0.1 1.5 2 1.9 3.4 1M638.5 768.7l1 0.1 1.3 -0.8 1.6 -3.7 -0.5 -4.3 -1.1 -1.7 -1.3 -0.7 -2.2 0.9 -1.4 3.6 0.4 3.9 1.1 1.9 1.1 0.8M511.7 634.6l1.8 2.2 3.3 1.5 5.2 1.1 6.6 0.4 6.5 -0.5 5.4 -1.1 3.6 -1.4 2 -2.2M671.5 631.3l-2.6 2 -2 0.2 -4.5 -6.1 -4.6 -4.1 -6.5 -2.9 -5.9 -1.5 -7.2 -0.6 -6.5 0.8 -5.2 1.5 -7.9 3.5 -10.4 7.1 -11.5 10.6 -22.2 32.7 -19.2 25.6 -15 17.4 -14.3 12.2 -13.6 8.5 -8.6 4.4 -13.1 5.8 -15.4 5.1 -20.5 3.5 -11.7 1 -11.1 0.2 -9.2 -0.1 -5.2 -0.8 -11.7 -2.9 -4.5 -2.4 -5.7 -5.1 -6.8 -7.5 -24.8 -29.8 -2.6 -3.8 -3.9 -3.9 -3.9 -1.7 -2 -1.5 -5.4 -7.6 -1.1 -0.2 -2.3 1 -3 0.3 -23.5 -0.5 -27.4 -5.8 -21.5 -10.7 -13.4 -12.3 -13.8 -11.6 -7.9 -4.4 -15.2 -6.9 -24.1 -2.9 -6.5 -1.3 -2.2 -1.2" stroke="#4855e7"/>
<path d="M459.7 851.7l-0.3 -1.1 0.6 -1.5M357.9 847.3l1.6 0 22.2 5.6 26.1 7.7 21.6 3.6 8.4 0.3 7.2 -0.9 5.3 -1.9 6.5 -4.2 1.7 -0.2M122.1 846.9l6.4 -1.4 16.3 -2.4 19.6 -1.3 10.4 0.4 51.6 4.7M464.8 846.9l2 -1.4 10.2 -4.4 17.6 -5.7 50.9 -18.4 16.4 -8.1 7.1 -4.8 14.9 -13 8.6 -12.6 5.9 -10.3 6.9 -15.5 7.5 -21.1 8.5 -9.3 11.7 -5.5 22.2 -4 23.5 -1.1 32 0 41.1 1.1 89.4 0.7M774.3 846.9l53.9 -2.1 5.2 -1 2.7 -1.9 1.3 -2.9 0.4 -5.1 -2.2 -48.6 -1.6 -16 -0.6 -2.7 -1.3 -2.2 -1.3 0.8 -1.3 3.9 -3.8 25.7 -2.9 11.6 -1.8 4.1 -2 2.9 -2.6 2.3 -3.2 1.5 -8.5 1.6 -15.7 0.8 -86.8 0.1 -22.9 -1.7 -26.7 -4.9 -5.9 -0.4 -4.6 1.1 -3.9 3.4 -3 5.8 -1.9 7.3 -0.3 5.8 1 3.6 2.3 2.2 4.3 1.4 8.1 0.7 33.3 0.7 53.1 2.2M552.6 836.8l4.7 0.2 1.8 -0.9 0 -0.8 -1.8 -0.9 -3.9 0.1 -1.8 0.8 -0.1 0.8 1.1 0.7M518.1 634.6l1.8 1.4 2.1 0.8 6.6 0.7 7.2 -0.8 2 -0.7 1.9 -1.4M671.5 631.7l-3.2 2.2 -1.4 0 -4.5 -5.9 -5.2 -4.3 -7.2 -3 -6.6 -1.3 -5.8 -0.2 -6.6 0.8 -5.2 1.7 -7.2 3.3 -10.4 7.1 -9.7 9 -20.6 30.5 -22.2 29.7 -14.7 16.7 -14.6 12.3 -18.2 10.8 -14.9 6.9 -14.3 4.9 -9.2 2.3 -14.3 2.2 -22.2 1.2 -9.8 -0.2 -5.2 -0.7 -11.8 -2.8 -5.2 -2.7 -6 -5.3 -5.8 -6.3 -25.4 -30.8 -2.6 -3.8 -3.9 -3.9 -6.3 -2.3 -5.5 -5.7 -3.9 0.2 -30.7 12.5 -27.4 8.6 -3.3 0.8 -20.2 2.3 -7.2 0.5 -20.2 -2.7 -28.1 -8.7 -2.2 -1.3 -11.3 -9.4 -4.6 -5 -7.3 -15.3 -1 -4.3 -1.6 -14.8 -4.6 -8.1 -21.2 -8.3 -7.1 -1.4 -21.3 -2.9 -4.6 -2" stroke="#485bec"/>
<path d="M459.5 851.9l-0.2 -2.1 0.9 -0.9M357.7 847.1l1.2 -0.3 23.5 5.8 25.4 7.1 21.6 3.6 8.4 0.2 6.6 -0.7 5.2 -1.7 7.2 -4.1 1.9 -0.2M464.6 846.9l2 -1.5 10.4 -4.5 17.6 -6 50.9 -18.8 15.7 -7.8 8.5 -5.7 13.7 -12 9.1 -13.3 5.5 -9.4 6.6 -14.4 8.2 -22.1 8.5 -9.3 11.7 -5.5 22.2 -4.2 23.5 -1.3 31.3 0 42.5 1.1 88.7 0.7M724.5 845.5l25.3 0.6 24.2 -0.2 50.9 -2.1 7.3 -1.2 1.8 -1.1 1.4 -1.8 0.9 -5.8 -2.9 -30.1 -1.3 -8 -0.7 -0.7 -0.6 0.8 -4.3 14.8 -2.9 6.3 -3.9 3.9 -5.2 2 -13.1 0.7 -56.1 -0.7 -60.7 1.8 -12.4 -0.4 -23.5 -1.9 -4.6 0.9 -3.3 2 -2.6 3.3 -1.5 4.6 0.1 3.6 1.1 2.2 2.3 1.5 4.6 1.2 79.7 3.8M526.7 634.6l4.4 0M671.5 632l-2.6 1.9 -2 0.3 -5.2 -6.2 -5.2 -3.9 -7.2 -2.8 -7.2 -1.2 -5.8 -0.1 -6.6 1.2 -7.1 2.7 -5.9 3.1 -8.5 5.9 -8.2 7.5 -13 20.3 -20.9 29 -13.9 17.4 -13.7 14.5 -12.9 10.1 -16.1 9.4 -18.8 8.4 -12.4 4.1 -7.8 1.9 -16.3 2.4 -12.4 0.9 -15 0.1 -9.2 -1 -13.6 -3.7 -4.3 -2.9 -7.5 -7.3 -28.2 -34 -2.3 -3.7 -3.5 -3.4 -1.9 -1.1 -5.3 -0.6 -4.5 -4.4 -2 -0.4 -19.6 18 -28.7 22.8 -27.7 24.9 -16 19.9 -6.4 9.1 -8.9 26.8 0.9 6.2 1.8 5.4 1.4 1.5 11.8 6.3 20 6 1 0.7 0 0.8 -0.7 2.1" stroke="#4961f0"/>
<path d="M459.4 852.3l-0.2 -2.5 1.2 -1.1M357.4 846.9l1.5 -0.5 49.6 12.7 20.9 3.2 8.4 0.3 6.6 -0.7 4.5 -1.4 7.2 -3.8 2.6 -0.6M464.5 846.9l2.1 -1.6 10.4 -4.7 17.6 -6.1 50.9 -19.2 15.7 -7.9 8.5 -5.7 13.5 -12 9.3 -13.5 5.3 -9 6.5 -14 8.5 -22 8.5 -9.3 11.7 -5.6 22.2 -4.4 23.5 -1.3 30.7 -0.1 43.1 1.1 88.7 0.6M728.1 844.8l23 0.5 22.9 -0.3 52.9 -3.1 3.9 -1 2.3 -1.9 1 -2.9 -0.1 -4.2 -1.9 -7.1 -1.3 -2 -1.3 -0.6 -8.5 4.2 -5.9 1.1 -50.9 -2.1 -31.3 0.4 -23.5 1.6 -37.2 3.7 -19 1.1 -4.3 1 -1.2 0.7 -0.8 1.4 1.8 1.8 5.2 1.2 49.6 5 24.6 1.5M671.5 632.3l-2.6 1.8 -2 0.4 -1.3 -0.8 -4.5 -5.7 -4.6 -3.2 -7.2 -2.7 -7.8 -1.3 -5.9 0.1 -5.9 1 -7.8 3.1 -5.9 3.2 -7.1 5 -8.2 7.2 -9.8 16.7 -22.3 31.1 -15 18.9 -13.8 14.5 -12.9 10.1 -16.1 9.4 -18.8 8.5 -18.9 5.9 -18.9 2.9 -11.8 0.8 -12.4 0.1 -10.4 -0.7 -15 -3.9 -4.4 -2.7 -8 -7.6 -28.3 -34.4 -2.4 -3.7 -3.3 -3.2 -1.9 -1 -5.9 0.5 -1.4 -0.6 -2.5 -3 -1.3 0 -24.2 33.6 -21.7 28.1 -14.1 24.6 -6.9 24.7 0 5.1 1.6 10.7 6.2 7.4 3.2 2.1 10.8 4.4 14.9 4.3 3.1 1.5 1 1.4" stroke="#4967f5"/>
<path d="M459.4 853l-0.6 -2.4 0.6 -1.5 1.2 -0.6M356.8 846.9l0.8 -0.8 1.3 -0.2 2.6 1.2 21.5 4.7 24.8 6.3 22.2 3.4 8.5 0.2 6.5 -0.9 4.6 -1.4 9.1 -4.3M464.3 846.9l2.9 -2.1 9.8 -4.5 68.5 -25.9 15.1 -7.5 9.1 -6.1 13 -11.7 9.8 -13.9 5.3 -9.1 6.5 -13.7 8.5 -21.4 8.5 -9.2 11.7 -5.7 22.2 -4.6 23.5 -1.5 30.7 -0.1 43.7 1 88.1 0.7M732.5 844l34.3 0.4 31.8 -1.8 27.3 -3.6 3 -1.5 0.9 -1.4 0.1 -1.5 -1 -2.2 -2 -0.8 -10.5 0.7 -35.2 -3.8 -32 -1 -20.9 1 -19.6 2.2 -15.2 3.2 -3.4 1.4 -1.3 1.5 1.1 1.4 1.6 0.8 9 2.1 13.4 1.7 18.6 1.2M671.6 632.5l-3.3 2.2 -1.9 -0.1 -5.3 -6 -4.6 -3.1 -7.8 -2.8 -7.2 -1.2 -5.9 0.1 -5.9 1.1 -7.8 3.1 -6.5 3.6 -7.2 5.1 -7.2 6.4 -2.8 6.7 -3.9 6.6 -21.7 30.4 -17 21.7 -14.6 15.4 -13.7 10.7 -15.7 9 -18.9 8.5 -19 5.9 -18.9 3 -22.8 0.9 -11.8 -0.6 -15 -3.8 -5.2 -3.1 -7.9 -7.4 -28.4 -34.8 -2.2 -3.5 -3.3 -3.2 -1.9 -0.9 -5.9 2.5 -5.2 0.3 -4 7.3 -11.1 25.7 -15.2 29.7 -8.5 28.3 -2.1 16.7 -0.3 6.5 2.7 8.6 1.9 4 9.1 7 7.9 2.6 4.6 2.3 0.5 0.9 0 2.1" stroke="#496dfa"/>
<path d="M355.7 846.9l1 -1.4 1.5 -0.4 3.5 1.8 21.3 4.4 25.5 6.1 16.9 2.7 9.8 0.7 9.2 -0.7 7.8 -2.7 5.8 -3.2 0.8 -4.4 0.6 -0.9 1.3 -0.6M464.2 846.9l2.4 -1.9 10.4 -4.9 69.2 -26.8 14.4 -7.2 9.1 -6.2 7.8 -6.6 5.1 -5.1 9.9 -14.1 4.6 -7.8 6.5 -13.3 9.1 -22 8.6 -9.4 11.7 -5.8 9.1 -2.3 13.1 -2.5 23.5 -1.6 30 -0.1 44.4 1 88.1 0.7M739.4 843.3l24.8 0.2 22.2 -1.3 15.8 -2.5 3.4 -1.5 0.6 -1.4 -1.9 -1.5 -4.2 -1.4 -11.5 -2.2 -16.6 -1.6 -17.6 -0.6 -17.6 0.6 -15.4 1.6 -10.7 2.2 -3.9 1.4 -1.8 1.5 0.4 1.4 1.1 0.8 8.3 2.1 12.3 1.5 12.3 0.7M671.7 632.6l-3.4 2.3 -2 0 -5.8 -6.1 -4.6 -2.9 -7.9 -2.6 -7.2 -1 -5.8 0.1 -5.9 1.3 -8.8 3.7 -6.1 3.6 -6 4.3 -6.6 5.8 -1.9 6.1 -3 5.5 -17.3 24.7 -21.2 27.5 -8.4 9.4 -8.1 8 -13.1 10.1 -16.6 9.5 -19.3 8.6 -19 5.8 -18.9 2.9 -23.5 0.9 -11.7 -0.8 -15 -4 -4.6 -2.8 -7.2 -6.6 -29.3 -35.9 -2 -3.3 -3.9 -3.8 -2 0 -6.9 8.5 -3.8 8.7 -15.2 47.1 -2.9 11.6 -1.9 11.6 -0.6 13.8 1.6 11.6 3.3 9.4 8.1 14.9 1 3.2 0.3 3.6" stroke="#4973fe"/>
<path d="M464 846.9l2.6 -2.1 10.4 -5 69.9 -27.6 13.7 -7 9.1 -6.2 7.2 -6 5.2 -5.2 9.8 -13.7 5.2 -8.8 6.5 -13.1 8.9 -21.2 8.8 -9.6 11.7 -5.8 9.1 -2.5 13.1 -2.5 23.5 -1.8 29.4 -0.1 45.7 1 87.4 0.6M736.3 841.9l18.1 0.6 18.7 -0.6 13.9 -1.9 3.4 -1 1.6 -1.5 -1 -1.3 -1.8 -0.9 -9.3 -2 -12.4 -1.3 -13.1 -0.4 -13 0.4 -11.8 1.3 -8.9 2 -2.2 1.3 -0.6 0.9 1.5 1.5 3.7 1.1 13.2 1.8M671.8 632.7l-3.5 2.5 -2 0 -1.3 -0.7 -4.6 -5 -4.6 -2.9 -7.8 -2.5 -7.8 -1 -5.2 0.1 -5.8 1.3 -8.5 3.6 -6.2 3.6 -6.1 4.3 -6.1 5.3 -0.7 1.3 -0.4 4.3 -2.1 4.4 -14.5 21 -24.5 31.9 -8.9 10.1 -8.9 8.7 -13.4 10.2 -17 9.4 -19.2 8.5 -19 5.7 -19.5 2.9 -22.9 0.8 -11.7 -0.9 -15 -4 -4.7 -2.9 -7.2 -6.5 -29.4 -36.2 -1.8 -3.1 -3.9 -3.8 -1.3 -0.2 -0.8 0.5 -4.7 16 -3.3 14.5 -6.6 36.2 -2.2 20.3 -0.1 14.5 1.5 13 3.8 13.8 4.5 9.9 2.6 2.1 4.6 -0.2 2.6 0.5 2.5 2.2 1.4 0.5 48.3 10.3 20.9 2.8 10.5 -0.2 8.5 -2.1 6.6 -3.3 1 -1.5 1.1 -3.6 1.7 -0.9" stroke="#4a7dff"/>
<path d="M463.8 846.9l2.8 -2.3 11.1 -5.4 69.8 -28.1 13.1 -6.8 9.1 -6.2 11.7 -10.6 4.6 -5.7 5.9 -8.7 4.6 -7.6 6.5 -12.7 9.4 -21.8 8.9 -9.7 11.7 -5.9 9.8 -2.8 12.4 -2.5 23.5 -1.9 28.7 -0.1 46.4 1 87.4 0.6M742.1 840.4l12.3 0.5 12.9 -0.5 8.4 -1.4 1.9 -1.5 -2.3 -1.4 -5.2 -1.2 -15.7 -1 -15.7 1.1 -4.6 1.1 -2.2 1.4 1.8 1.5 8.4 1.4M671.9 632.9l-3 2.3 -2.6 0.4 -1.8 -1 -4.4 -4.3 -5 -2.9 -7.7 -2.4 -8.5 -0.8 -8.5 1 -10.1 4.3 -5.9 3.7 -5.1 3.6 -5.7 5 -1 5.1 -2 4.4 -13.5 19.5 -25.6 33.4 -8.9 10.1 -8.9 8.7 -13.4 10.2 -17.1 9.4 -20.5 9 -18.3 5.6 -19.6 2.9 -22.8 0.8 -12.4 -0.9 -15 -4.1 -5.1 -3.2 -7.3 -6.7 -29.1 -36 -1.6 -2.9 -3.9 -3.8 -1.6 0.1 -0.4 1.5 0.8 2.2 0.1 2.1 -3 24 -2.6 43.4 -0.5 39.9 2.4 15.9 7.8 13.1 1.5 0.9 49 9.9 15 2.1 8.5 0.6 9.1 -0.5 8.5 -2.5 4.6 -2.5 2 -4.4 1.9 -1" stroke="#4a88ff"/>
<path d="M463.7 846.9l0.9 -1.2 2 -1.2 11.1 -5.6 70.5 -28.9 12.4 -6.5 9.1 -6.3 6.5 -5.5 5.2 -5.2 10.5 -14.4 11.1 -20.1 9.3 -21 9 -9.9 11.7 -6 9.8 -2.8 12.4 -2.6 11.1 -1.3 12.4 -0.7 28.1 -0.2 47 1 87.4 0.6M672 633l-3.1 2.4 -2.6 0.5 -2 -0.8 -5.2 -4.1 -5.2 -2.5 -7.2 -1.9 -7.8 -0.5 -5.9 0.8 -3.9 1.1 -7.2 3.1 -5.9 3.5 -5.2 3.8 -3.9 3.7 -4.7 9.2 -4.2 6.5 -24.2 32.6 -15.8 19.6 -13.8 13.8 -13.5 10.1 -16.5 8.9 -20.9 9.2 -18.9 5.7 -19.6 2.8 -23.5 0.8 -12.4 -1.1 -9.1 -2.3 -5.9 -2.1 -4.8 -3.1 -7.6 -6.9 -28.6 -35.8 -1.6 -2.9 -3.7 -3.5 -1 -0.2 -0.5 0.8 1.2 2.9 0.4 6.5 -0.8 20.3 0.5 50 1.6 31.9 2.6 22.4 -0.2 7.3 50.3 10.2 22.9 2.4 9.1 -0.4 8.5 -2.3 3.9 -2.1 2.6 -4.3 2 -1.1" stroke="#4b93ff"/>
<path d="M463.5 846.9l1.8 -1.8 12.4 -6.5 71.1 -29.7 11.8 -6.2 9.1 -6.4 11.2 -10.2 10.3 -14 11.8 -20.8 9.2 -20.3 9.1 -10 12.4 -6.4 10.4 -3 11.1 -2.4 11.7 -1.4 12.4 -0.7 26.8 -0.2 48.3 1 86.8 0.5M672.1 633.1l-3.2 2.6 -2.6 0.6 -2.7 -1 -5.8 -3.5 -4.6 -1.8 -6.5 -1.4 -7.2 -0.3 -5.2 0.7 -5.2 1.5 -5.9 2.5 -5.4 3 -5.7 4.2 -3.8 3.8 -11.3 17.4 -27.4 36.2 -13 15.4 -12.4 12.1 -13.1 9.5 -16.5 8.7 -21.3 9.2 -18.2 5.5 -20.3 3 -22.8 0.7 -13.1 -1.2 -9.1 -2.2 -5.9 -2.2 -5.3 -3.4 -7.7 -7.2 -27.7 -34.8 -2.1 -3.6 -4.2 -3.2 -0.3 0.3 1 1.4 1.5 10.9 0.7 16.7 3.5 44.9 4.6 49.3 0.1 5.8 -0.6 5 -1.2 3.7 -1.9 2.9 3.1 1.5 44.3 8.6 22.9 2.4 9.1 -0.4 8.5 -2.1 3.9 -2.1 3 -4.3 1.6 -0.6" stroke="#4b9eff"/>
<path d="M463.4 846.9l1.9 -2 12.4 -6.5 71.8 -30.6 10.7 -5.8 8.8 -6.1 6.6 -5.4 5.1 -5.2 9.9 -13.2 11.7 -20.3 9.8 -20.9 9.2 -10.1 12.4 -6.4 10.4 -3.2 11.1 -2.5 11.7 -1.5 12.4 -0.7 26.2 -0.2 48.9 0.9 86.8 0.6M672.2 633.3l-3.3 2.7 -2.6 0.7 -14.4 -5.4 -5.8 -0.9 -6.6 0 -5.2 0.8 -5.2 1.6 -10.5 5.3 -5.2 3.8 -4.2 4.3 -15.5 21.7 -29.2 37.7 -9.8 11 -9.8 9.2 -13.1 9.3 -15.8 8.2 -22 9.6 -18.3 5.5 -20.2 3 -22.2 0.7 -13.7 -1.1 -15 -4.3 -5.5 -3.2 -7.9 -7.3 -28.4 -35.7 -1.8 -3.4 -2.1 -1.6 -0.7 0.1 0.5 4.4 2.1 7.9 14.8 104.4 0.5 12.3 -0.7 5.8 -1.7 5.1 0.4 0.7 6.3 1.9 32 6.1 15 1.8 9.1 0.5 8.5 -0.6 7.9 -2 3.2 -1.8 2.8 -3.7 1.8 -0.7" stroke="#4ca9ff"/>
<path d="M463.2 846.9l1.4 -1.8 13.1 -7 72.4 -31.4 10.5 -5.7 8.4 -5.9 11.1 -10.1 10.5 -13.9 11.1 -18.8 10.8 -22 8.8 -9.6 6.5 -3.9 6.5 -3 10.5 -3.2 11.1 -2.4 11.7 -1.6 11.7 -0.7 161.9 1.3M672.2 633.5l-3.3 2.8 -3.3 0.8 -13.7 -4.3 -5.8 -0.6 -6.6 0.2 -9.8 2.4 -9.7 4.9 -5.3 3.8 -4.5 4.5 -42.4 55.4 -11.5 13.1 -10.8 10 -11.7 8.4 -14.7 7.7 -24.5 10.6 -18.2 5.6 -20.3 3 -22.2 0.7 -14.3 -1.2 -15 -4.3 -5.9 -3.5 -7.8 -7.2 -25.5 -32.6 -2.9 -3 -1.7 -3.5 -1.9 -1.2 -0.4 1.1 0.7 2.9 2 3.6 1.1 3.6 22.8 109.4 1.3 10.2 -0.7 10.1 0.4 0.8 7.2 2.1 19.1 3.6 15 1.7 11.8 0.6 7.1 -0.8 7.2 -1.8 2.6 -1.5 3.3 -3.8 1.4 -0.3" stroke="#4bb3ff"/>
<path d="M463 846.9l1.6 -1.9 13.1 -7.2 72.4 -31.9 10.5 -5.8 8.4 -5.9 11.1 -10.2 9.8 -12.9 11.8 -19.5 10.7 -21.3 8.9 -9.8 7.1 -4.2 6.6 -3 10.4 -3.2 10.5 -2.4 11.7 -1.6 11.7 -0.8 161.9 1.2M672.2 633.7l-3.3 3 -3.3 0.8 -15 -3.4 -5.8 -0.2 -5.9 0.5 -9.2 2.5 -9.1 4.7 -5.2 3.8 -4.6 4.5 -43.4 55.7 -11.1 12.3 -10.1 9.3 -11.5 8.1 -14 7.3 -25.4 11 -18.3 5.5 -8.5 1.6 -12.4 1.5 -22.2 0.7 -14.3 -1.2 -15 -4.4 -5.9 -3.5 -7.8 -7.1 -25.5 -32.7 -3.2 -2.6 -1.4 -3.8 -1.3 -1 -0.6 0.4 1.3 3.8 1.9 1.4 3.3 10.2 16.3 57.6 9.9 37.9 7.4 16.7 4.4 5.1 -4.1 8 -0.1 1.4 6.5 2.2 7.3 1.4 14.4 1.6 13.1 0.5 7.8 -0.9 5.2 -1.3 2.6 -1.5 3.3 -3.5 1.6 -0.2" stroke="#49bcff"/>
<path d="M462.8 846.9l0.9 -1.4 1.6 -1.1 15.6 -8.5 69.9 -31.1 9.1 -5.1 8.5 -5.9 11 -9.9 9.9 -12.8 12.4 -20.2 10.6 -20.6 9 -9.9 7.1 -4.4 6.6 -2.9 10.4 -3.4 10.5 -2.5 11.7 -1.7 11.7 -0.8 161.9 1.2M360.5 710l0.8 0 -0.3 -1.5 -1.5 -1.3 1 2.8M672.2 633.9l-3.3 3.2 -3.3 0.9 -15.6 -2.4 -11.1 0.6 -9.2 2.8 -8.4 4.4 -5.3 3.9 -5.2 5.2 -43.2 54.6 -10.3 11.4 -9.8 8.9 -11.1 7.9 -12.4 6.6 -27.4 11.7 -17 5.4 -9.1 1.9 -11.8 1.6 -22.2 0.8 -15.6 -1 -15 -4.1 -6.1 -3.3 -8.5 -7.2 -25.9 -33.2 -1.3 -1.2 -0.5 0.3 9 27.5 8.1 28.3 13.4 42.4 3.3 7.7 4.9 8.6 12.3 13.8 0.8 2.1 -0.1 2.2 -2 4.4 1 0.7 11.8 1.9 15 0.8 12.4 -2 2.6 -1.3 3.3 -3.3 1.7 -0.2" stroke="#48c6ff"/>
<path d="M462.5 846.9l2.1 -2.3 11.8 -6.8 40.4 -18.8 31.4 -13.7 11.1 -6 9.1 -6.3 10.4 -9.4 9.2 -11.6 13 -20.6 10.6 -20.4 5.1 -6.2 3.3 -3.5 3.2 -2.4 7.2 -4.1 5.9 -2.5 9.8 -3.2 10.4 -2.5 11.1 -1.6 11.7 -0.9 161.9 1.2M672.3 634l-3.4 3.4 -3.3 1.1 -16.3 -1.5 -11.1 1.2 -8.5 2.8 -7.8 4.2 -5.9 4.4 -5.8 6 -42.3 52.9 -10 10.9 -9.6 8.7 -10.6 7.5 -12 6.3 -29.1 12.3 -15.7 5 -9.1 2 -11.8 1.6 -22.8 1 -16.3 -1.2 -15 -4.1 -6.6 -3.6 -8.4 -7.2 -26.2 -33.1 0 1.2 9.6 26.1 7.9 27.5 8.7 25 7.1 17.2 7.2 12.1 11.2 13.1 7.1 10.8 3.5 3.7 2.4 0.7 9.8 1.1 6.5 -0.3 8.5 -1.5 5.2 -4.1 1.8 -0.1" stroke="#49cffe"/>
<path d="M462.1 846.9l2.5 -2.6 12.4 -7.2 39.8 -18.7 32 -14.2 10.5 -5.7 9.1 -6.4 10 -8.9 9.6 -12.1 13 -20.4 10.5 -19.7 5.2 -6.4 3.6 -3.8 3.6 -2.5 6.5 -3.8 6.5 -2.8 9.8 -3.2 10.5 -2.5 11.7 -1.7 11.1 -0.8 161.2 1.1M366.6 717.9l0.1 0.6 0.2 -0.6 -0.3 0M672.3 634.1l-2.7 3.3 -2.7 1.4 -3.9 0.5 -13.7 -0.8 -8.5 0.9 -9.8 3 -9.1 4.9 -6 4.7 -6.4 6.5 -41.1 51.1 -9.7 10.5 -9.2 8.3 -9.8 7 -11.1 6 -30.7 12.9 -13.7 4.6 -9.8 2.3 -10.4 1.6 -10.5 1 -13 0.4 -18.3 -1 -14.4 -3.7 -7.2 -3.3 -9.4 -7.8 -21.9 -28 -1.9 -2 -0.6 0.3 9.3 23.9 7.2 25.3 6.2 17.2 8.5 18.9 8.5 14 5.9 7.2 15 16.3 5.2 4.5 7.8 5.3 4.6 0.5 8.5 -0.9 2.6 -1.2 3.3 -2.7 2.2 -0.1" stroke="#4cd6fa"/>
<path d="M672.4 634.2l-2.8 3.6 -3.3 1.7 -3.9 0.5 -13.1 -0.1 -8.5 1.2 -9.1 2.9 -9.1 5 -6.6 5.1 -6.5 6.6 -11.7 13.9 -28.8 36.1 -9.5 10.1 -8.9 8 -9.6 6.9 -10 5.4 -32.4 13.6 -11.8 4 -16.3 3.7 -20.9 2 -13.1 0.2 -11.1 -0.7 -6.5 -0.9 -9.1 -2.5 -8.5 -3.6 -9.8 -7.8 -22.2 -27.5 9.1 23.2 5.5 20.2 3.7 10.6 7.2 16 7.8 14 5.2 7.4 5.2 6.3 17 16.6 18.3 13.7 2 0.5 3.9 -0.1 5.2 -3.3 2.6 -0.3 2 -2 17.6 -9.9 35.9 -17.1 33.3 -15 8.5 -4.7 7.8 -5.4 10.4 -9.1 9.2 -11.2 13.7 -20.8 11 -20.2 5.9 -7.3 3.3 -3.3 5.2 -3.5 5.9 -3.3 6.5 -2.7 9.8 -3.2 10.5 -2.4 11.1 -1.7 10.4 -0.7 161.2 1.1" stroke="#50dcf7"/>
<path d="M672.5 634.3l-2.9 4 -3.3 1.8 -3.9 0.7 -13.7 0.6 -7.9 1.3 -9.1 3.2 -9.1 5.1 -6.6 5.2 -7.1 7.2 -11.1 13.1 -28 34.9 -8.7 9.4 -9 8.2 -9.2 6.6 -10 5.5 -42.2 17 -17 4.3 -19.5 2.3 -21.6 0.1 -9.8 -0.8 -6.5 -1.3 -12.4 -4.1 -7.2 -4.7 -6.5 -5.6 -14.4 -18.2 -1.9 -2.2 -0.6 0.2 7.2 18.1 4.2 16.7 2.4 7.2 3.8 9 5.2 10.1 9.8 15.3 11.1 12.7 13.7 12.3 24.8 18.8 4.5 -2.3 2 -0.4 9.8 -6.3 9.8 -5.2 35.9 -17.4 33.3 -15.1 8.5 -4.7 7.1 -4.9 10.5 -9.1 9.1 -11 13.7 -20.3 11.6 -20.6 6 -7.5 4 -3.7 4.5 -3.1 6.6 -3.6 6.5 -2.8 9.8 -3.2 9.8 -2.3 11.1 -1.8 10.4 -0.7 161.2 1.1" stroke="#53e3f3"/>
<path d="M672.6 634.3l-2.4 3.9 -3.9 2.5 -4.6 1 -13.7 1.2 -7.2 1.4 -9.1 3.4 -8.5 4.8 -7.2 5.7 -7.8 8 -10.4 12.2 -27.1 33.7 -8.8 9.5 -8.9 7.9 -8.9 6.6 -9.2 5 -40.9 16.5 -18.3 4.9 -17.6 2.4 -21.6 0.5 -16.3 -1.5 -13.7 -3.9 -7.2 -3.7 -9.1 -7.5 -12.4 -14.7 5 14.3 4.2 17.4 5.2 12.1 5.2 9.2 6.5 9.6 6.5 8.1 7.2 7.4 12.4 10.5 22.2 15.5 6.5 5.5 3.3 0.5 19.6 -10.6 28 -13.8 40.5 -18.6 8.5 -4.7 7.8 -5.4 10.1 -8.7 9.5 -11.4 14.4 -21.1 10.8 -18.9 6.1 -7.7 4 -3.7 5.2 -3.6 6.5 -3.5 7.2 -3 9.8 -3.2 9.8 -2.3 10.4 -1.6 9.8 -0.7 161.2 1" stroke="#56eaf0"/>
<path d="M672.7 634.4l-2.5 4.4 -3.9 2.6 -4.6 1.2 -14.3 1.8 -8.5 2.1 -9.8 4.3 -9.1 6 -7.2 6.5 -8.5 9.2 -28.4 35.3 -11.4 12.8 -13.4 11.8 -6.9 4.7 -6.5 3.7 -40.5 16.2 -15 4.6 -9.1 1.9 -11.8 1.5 -22.1 0.8 -18.3 -1.4 -8.5 -2.1 -8.5 -3 -4.6 -2.7 -8.5 -6.8 -8.7 -9.4 2.6 8.7 2.8 13.8 4 10.2 5.2 9.2 7.2 10 7.2 8.3 8.5 8 9.1 7.3 11.1 7.6 25.5 15.4 1.6 0.8 1.6 0 48.3 -24 32.7 -14.9 9.1 -5.1 7.8 -5.4 9.8 -8.5 9.2 -10.8 15 -21.7 10.7 -18.3 6.4 -8 3.8 -3.6 5.8 -4 6.6 -3.5 7.8 -3.3 9.8 -3.1 9.8 -2.3 9.8 -1.5 9.8 -0.6 160.5 1" stroke="#5af1ed"/>
<path d="M672.8 634.5l-2.6 4.9 -3.9 2.7 -4.6 1.3 -15 2.5 -8.5 2.5 -9.8 4.5 -8.4 5.8 -7.2 6.5 -8.5 9.1 -28.1 34.9 -11.1 12.3 -13.3 11.7 -6.9 4.7 -6.5 3.6 -40.5 15.9 -8.5 2.8 -16.3 3.9 -20.2 2 -24.2 -0.3 -7.8 -1 -7.2 -1.8 -7.8 -2.6 -4.6 -2.2 -15 -11.8 1.8 13.6 3.5 10.1 5.1 8.8 7.9 10.3 8.4 8.9 9.2 7.7 11.7 8.2 14.4 8.3 20.2 10.3 5.2 2.2 2 0 15.6 -6.7 25.5 -13.1 32 -14.7 9.8 -5.3 7.8 -5.5 9.8 -8.5 9.2 -10.9 15 -21.4 11.1 -18.4 5.8 -7.3 4 -3.7 6.5 -4.5 6.5 -3.5 7.8 -3.3 9.2 -3 9.8 -2.3 9.8 -1.5 9.8 -0.7 160.5 1" stroke="#60f6e5"/>
<path d="M672.9 634.6l-2 4.7 -2 2 -2.6 1.6 -5.2 1.6 -15 3 -7.9 2.5 -9.8 4.7 -8.4 5.9 -7.2 6.5 -8.5 9.1 -27.3 33.8 -11 12.3 -7 6.5 -6.9 5.5 -6.6 4.4 -6.5 3.5 -48.9 18.4 -16.4 3.9 -19.5 2.1 -19.6 -0.1 -10.5 -0.8 -5.8 -1.1 -9.2 -2.7 -6.5 -2.6 -11.1 -7.9 -2.6 -1.3 -0.6 1.9 0.8 6.5 3.3 10.2 5.6 9 7.9 9.3 9.1 8.6 10.4 7.9 12.4 7.5 14.4 7.2 28.1 11.7 3.2 0.4 7.9 -2.9 25.4 -13 32.7 -15.2 9.1 -5 8.5 -6 9 -7.9 9.3 -11.1 15.6 -22.1 10.4 -16.8 6.4 -8 4.8 -4.2 6.5 -4.3 6.5 -3.4 7.8 -3.3 9.8 -3.1 9.2 -2.1 9.1 -1.4 9.2 -0.6 160.5 0.9" stroke="#6cf7d5"/>
<path d="M673 634.6l-2.1 5.5 -4 3.2 -4.5 1.8 -15.7 3.7 -9.1 3.1 -9.2 4.6 -8.4 5.9 -7.2 6.5 -8.5 9.1 -26.4 32.7 -11 12.3 -13.4 11.6 -6.6 4.5 -6.4 3.5 -50.4 18.5 -16.4 3.9 -18.9 2 -19.6 0 -15.6 -1.7 -16.3 -5.3 -10.5 -7.2 -2.6 -1.1 -0.5 1.8 0.6 5 2.9 8.7 5.5 8.6 7.8 8.6 9.8 8.4 11.1 7.5 11.8 6.3 13 5.8 37.6 13.5 1.6 0 59.4 -28.1 8.5 -4.8 8.4 -6.2 8.5 -7.5 9.2 -11 15.6 -21.7 10.3 -16.3 6.4 -8 4.9 -4.4 6.5 -4.4 7.8 -4.1 7.9 -3.2 9.1 -2.8 9.1 -2.2 8.5 -1.3 9.2 -0.6 160.5 0.9" stroke="#77f9c6"/>
<path d="M673.1 634.6l-1.6 5.4 -1.9 2.3 -2.7 1.9 -5.2 2.1 -15 3.9 -9.1 3.2 -9.2 4.8 -8.4 6 -7.2 6.5 -8.5 9.1 -25.4 31.6 -11.1 12.3 -13.1 11.4 -6.8 4.6 -6.3 3.4 -9.5 3.8 -17.2 5.5 -17 6.8 -7.2 2.3 -17 4 -18.9 2 -19.6 -0.1 -15 -1.6 -16.9 -5.5 -9.8 -6.5 -2 -0.8 -0.5 1.2 0.3 3.6 2.5 8 5.5 8.3 9.8 9.6 11.1 8.1 13.1 7.3 14.3 6.2 15.1 4.9 18.2 4.5 21.6 4.3 9.8 -3.9 37.8 -17.7 8.5 -4.7 9.8 -7.2 7.8 -7.1 9.8 -11.8 15 -20.5 10.1 -15.8 6.4 -8 5.1 -4.6 7.1 -4.8 7.9 -4.1 8.5 -3.4 9.1 -2.9 9.1 -2.1 7.9 -1.2 8.5 -0.5 160.5 0.8" stroke="#82fbb7"/>
<path d="M673.3 634.6l-0.6 3.6 -1.2 2.7 -1.9 2.3 -2.7 1.8 -5.2 2.3 -15.6 4.5 -9.2 3.5 -9.1 5 -8.5 6.2 -7.2 6.6 -7.8 8.5 -24.5 30.5 -11.1 12.4 -13.4 11.5 -7.1 4.8 -5.9 3.1 -9.7 3.8 -17.7 5.3 -20.3 8 -12.4 3.3 -9.8 2 -19.5 1.7 -17.7 -0.2 -13 -1.2 -8.5 -2.2 -9.8 -3.5 -11.1 -6.6 -0.6 0.6 0.3 2.9 1.9 6.5 2.3 4.1 3.3 4.1 11.1 9.8 12.4 7.8 15 7 14.4 4.8 15.6 3.8 13.1 2.1 33.3 3.9 4 -1 10.5 -4.3 21.4 -10.1 7.8 -4.4 11.1 -8.2 7.2 -6.9 11.7 -14.4 13.1 -17.8 9.3 -14.3 7 -8.7 5.9 -5.1 7.1 -4.6 7.9 -4.1 8.5 -3.3 17.6 -4.7 7.8 -1.2 7.9 -0.5 160.5 0.8" stroke="#8efda8"/>
<path d="M673.4 634.6l-0.3 3.6 -0.9 2.7 -2 2.6 -2.6 2.1 -5.2 2.5 -16.3 5.1 -9.2 3.7 -9.1 5 -8.5 6.3 -7.2 6.7 -7.6 8.3 -23.8 29.7 -11.1 12.3 -13 11.2 -7.1 4.9 -5.9 3.2 -9.8 3.7 -18.9 5.4 -20.3 8 -22.2 5.2 -19.5 1.7 -17.7 -0.3 -13 -1.2 -8.5 -2.3 -9.1 -3.2 -10.5 -5.9 -0.6 0.6 0.1 1.6 1.7 5.8 2.1 3.6 3.9 4.5 5.2 4.5 6.5 4.6 13.8 7.4 15.6 5.9 13.7 3.7 14.4 2.5 12.4 1.1 26.1 1.3 16.3 2.6 2.6 0 12.5 -4.7 15.6 -7.9 15 -10.9 5.9 -5.9 12.4 -15.1 12.4 -16.6 9.2 -13.9 7 -8.7 6 -5.3 7.8 -5.1 7.8 -4.1 9.2 -3.5 17.6 -4.7 14.4 -1.4 160.5 0.8" stroke="#99ff99"/>
<path d="M673.6 634.6l-0.2 4.3 -0.7 2.2 -1.8 2.8 -3.3 2.7 -5.9 2.8 -16.3 5.5 -9.1 3.8 -9.2 5.3 -8.5 6.5 -6.5 6.1 -7.4 8 -23.1 29 -11.3 12.6 -13 11.1 -7.2 4.9 -5.9 3.1 -9.8 3.6 -19.5 5.3 -19.6 7.8 -22.9 5.3 -19.5 1.7 -17.7 -0.3 -13 -1.3 -7.8 -2.1 -9.8 -3.4 -9.2 -5 -0.6 0.2 -0.1 1.4 1.3 4.4 2 3.3 4 4.1 5.8 4.5 6.6 4.1 14.3 6.6 16.3 5.1 11.8 2.5 12.4 1.5 12.4 0.7 31.3 0.1 10.5 1.1 13.7 2.7 3.2 -0.1 8.9 -3.6 8.1 -4.3 11.1 -8 5.2 -4.6 17.6 -21.1 10.5 -13.8 10.4 -15.2 4.6 -5.8 3.9 -3.9 5.9 -4.6 8.5 -5.1 6.5 -3.2 9.1 -3.5 17 -4.3 13.7 -1.2 159.9 0.7" stroke="#a6ff8a"/>
<path d="M673.7 634.6l0.2 4.3 -0.5 2.2 -1.9 3.1 -3.2 3 -5.9 3.1 -17.2 6 -8.9 4 -9.2 5.3 -8.5 6.6 -13.7 13.9 -22.2 28 -11.1 12.5 -12.3 10.7 -7.9 5.3 -5.9 3.3 -9.7 3.5 -20.9 5.4 -19.6 7.8 -22.9 5.3 -19.5 1.6 -18.3 -0.4 -12.4 -1.3 -15 -4.6 -5.2 -2.1 -4.6 -2.7 -1.3 -0.1 -0.1 1.7 1.1 2.9 2.2 3.2 3.3 2.9 6.5 4.4 6.6 3.6 13 5.2 16.3 4.2 13.7 2.2 13.7 0.9 11.8 -0.2 22.8 -1.6 11.1 0.2 13.7 2 14.4 4.3 2 0.1 9 -3.9 11.2 -8 5.9 -5.3 18.2 -21.9 22.9 -31.1 5.2 -5.4 5.9 -4.7 9.1 -5.6 7.2 -3.5 9.1 -3.4 16.4 -4.1 13 -1.2 159.9 0.8" stroke="#b3ff7b"/>
<path d="M673.9 634.6l0.6 4.3 -0.7 2.9 -2.3 3.6 -3.2 2.9 -6.6 3.4 -16.6 6.1 -8.8 4 -9.2 5.4 -8.5 6.6 -13.4 13.7 -21.8 27.6 -11.6 13 -11.9 10.1 -13.7 8.7 -9.8 3.3 -21.5 5.2 -19.6 7.9 -22.9 5.1 -18.9 1.6 -18.9 -0.5 -15 -1.8 -13.7 -4.6 -8.5 -3.6 0.3 2.6 1.6 2.5 4 3.1 12.4 6.8 12.4 4.3 14.3 3.2 15 2 15.7 0.4 12.4 -1.1 23.5 -3.4 11.1 -0.2 7.8 1 9.2 2.1 18.2 6.7 3.3 -1.3 6.5 -4.3 5.8 -4.4 4 -3.9 25.5 -31 15 -20.7 5.2 -5.4 6.5 -5.2 9.2 -5.6 7.1 -3.5 9.8 -3.6 15.7 -3.9 11.8 -1.1 160.5 0.8" stroke="#c1ff6c"/>
<path d="M674.1 634.6l1 4.3 -0.3 2.2 -1.7 3.6 -2.6 2.9 -7.5 4.7 -18.2 7.1 -8.5 3.9 -7.9 4.6 -7.1 5.3 -7.2 6.5 -7.9 8.4 -21.8 27.7 -12.1 13.5 -11.5 9.7 -13.9 8.9 -10.5 3.2 -19.7 4.5 -21.4 8.4 -22.9 5 -18.9 1.6 -19.6 -0.6 -13.7 -1.6 -11.7 -3.8 -9.2 -3.8 -0.6 0 0 1.3 1.3 1.8 3.3 2.3 13.7 6.5 11.7 3.3 13.1 2.1 15.6 1.5 17.7 -0.4 13.7 -2.3 22.2 -5.8 8.4 -0.7 7.2 1 9.2 2.3 11.7 3.9 13.7 5.3 2 0.3 6.5 -3.7 5.2 -4.8 25.5 -30.6 15.6 -21.2 4.6 -4.6 6.5 -5.3 9.8 -6.1 7.9 -3.7 9.7 -3.5 15.1 -3.8 11.1 -0.9 160.5 0.7" stroke="#cdff5b"/>
<path d="M450.1 775.2l16.5 -0.2 8.5 -0.7 5.8 -1.1 17 -5.6 7.8 -4 5.5 -3.6 -4.1 0.7 -11.2 4.2 -18.2 4.1 -24.2 2.4 -5.2 -0.6 -14.4 -0.1 -13 -1.4 -18.9 -6.4 -1.4 0 9.9 5 9.7 3.5 13.1 2.4 16.8 1.4M674.3 634.6l1.5 4.3 -0.2 2.2 -1.5 3.6 -2.6 3.3 -3.2 2.6 -4.6 2.6 -18.9 7.6 -9.2 4.3 -7.8 4.8 -7.2 5.4 -7.2 6.7 -7.7 8.4 -18.4 23.7 -8.5 10 -7.1 7.6 -5.9 5 -10.5 7.4 -8.4 5.1 -23.5 6 -4 1.2 -1.5 0.7 -0.4 0.7 4.8 2.2 46.1 16.3 2.6 0.2 3.3 -2.5 12.4 -13.9 18.9 -23.1 10.4 -14.3 7.9 -7.5 10.4 -7.1 8.5 -4.4 12.4 -4.8 13.7 -3.5 6.5 -0.8 11.8 -0.2 154 0.7" stroke="#daff49"/>
<path d="M674.7 634.6l1.8 3.6 -0.1 3.6 -2.1 4.4 -3.4 3.7 -7.9 4.8 -25.4 10.9 -7.2 4.1 -6.5 4.5 -7.9 6.8 -7.8 8.2 -22.8 29.2 -14.2 15.5 -9.3 7.2 -13.1 8.6 -9.7 3 -3.8 1.5 -0.4 0.7 28.9 10.9 10.5 2.9 1.9 0.3 1.3 -0.4 9.2 -9.3 13 -15.3 16.5 -21.7 8.3 -7.8 10.5 -7.1 8.4 -4.5 12.5 -4.7 13.7 -3.5 5.8 -0.7 11.8 -0.2 154 0.7" stroke="#e3fa3e"/>
<path d="M675.2 634.6l2.4 3.6 0 2.9 -1.7 4.4 -3.7 4.6 -3.9 3 -4.6 2.5 -18.9 8 -8.5 4.1 -7.9 4.8 -7.1 5.3 -6.6 6.1 -7.3 8 -19.5 25.3 -12.3 14.1 -7.7 6.9 -16.6 11.6 -1.4 1.5 -0.2 0.7 0.4 0.5 10.5 4 11.1 3.3 8.4 1.5 3.3 -0.6 2.6 -1.9 3.9 -4 9.8 -11.3 7.2 -8.7 9.1 -12.5 9.2 -8.6 11.1 -7.5 7.8 -4 11.1 -4.3 14.4 -3.9 5.2 -0.6 11.1 -0.3 155.3 0.7" stroke="#e9f135"/>
<path d="M678.2 634.6l1 1.4 0.1 1.5 -1 5.1 -2.1 4.3 -3.4 4 -3.9 3.1 -4.6 2.6 -19.5 8.4 -9.2 4.5 -7.8 4.9 -6.5 5 -6.6 6.1 -7.1 7.8 -18.3 24.1 -11.8 13.7 -5.7 5.7 -12.6 9.4 -0.6 1.6 15.7 5.2 11.1 2.6 1.9 -0.1 2.6 -1.8 9.8 -10.6 7.2 -8.6 9.1 -12.4 9.2 -8.6 11.1 -7.7 7.8 -4 11.1 -4.5 15 -4.1 15.7 -0.7 155.3 0.7" stroke="#f0e72d"/>
<path d="M738 634.6l-48.2 1 -4.6 0.6 -2.6 0.9 -1.6 1.8 -2.4 5.8 -2.1 3.7 -3 3.4 -3.3 2.6 -7.2 4.1 -17.6 7.6 -9.1 4.5 -9.2 5.7 -7.8 6.3 -12.7 13.6 -21 27.5 -10.7 12.1 -6.9 6.1 -0.8 1.4 20.8 6.8 3.2 0.3 2 -1.3 5.9 -5.8 6.5 -7.5 10.7 -14.2 6.9 -6.7 4.6 -3.6 9.8 -6.7 8.5 -4.2 9.8 -3.8 15 -4.2 14.3 -0.5 156 0.7" stroke="#f7dd24"/>
<path d="M822.6 634.6l-130.2 1.8 -7.2 1 -2.9 2.3 -3.1 6.5 -2.4 3.6 -5.9 5.6 -7.2 4.1 -18.3 7.9 -9.8 5 -9.1 5.8 -7.2 5.9 -12.5 13.5 -15.4 21.1 -15.2 18.1 -0.7 2.2 15.7 6.3 2.6 0.7 1.4 -0.4 3.9 -2.9 7.1 -7.9 9.9 -13.2 7.8 -7.6 6.5 -4.9 7.8 -5.3 8.5 -4.1 9.2 -3.7 15 -4.3 13.7 -0.4 156.6 0.6" stroke="#fed31b"/>
<path d="M841.2 635.9l-147.5 1.2 -7.2 0.7 -3.2 2.6 -3.1 6.5 -2.4 3.6 -6.3 5.9 -7.8 4.4 -18.3 8 -9.1 4.6 -8.5 5.3 -7.4 5.9 -7 7 -6.4 7.5 -13.8 19.3 -9.8 11.9 -2 3.6 14.8 8.7 1.6 0.1 8.4 -8.3 9.8 -13 8.5 -8.2 8.5 -6.3 5.9 -3.9 13 -6.1 19 -5.9 170.3 0.3" stroke="#ffc416"/>
<path d="M841.2 636.8l-146.8 1 -7.2 0.6 -2.6 2 -3.4 7.2 -2.4 3.7 -6.2 5.8 -8.3 4.8 -18.2 8 -9.8 4.9 -8.5 5.2 -6.5 5.2 -6.7 6.7 -6.8 7.9 -13.3 19 -5.6 7.1 -1.7 2.9 0.8 1.3 9.7 8.9 2 0.8 6.5 -5.7 9.4 -12.5 6.3 -6.3 13.7 -10.7 7.8 -4.4 9.8 -4.3 17.7 -5.6 170.3 0.4" stroke="#ffb412"/>
<path d="M841.2 637.5l-146.8 1 -7.2 0.6 -2 2 -2.1 5.8 -2.4 4.2 -3.3 3.7 -3.6 3 -8.7 5.1 -28.2 12.9 -8.5 5.1 -6.4 5.2 -7.3 7.2 -6.7 8 -13.7 20.3 -1.4 2.9 1.6 3.6 3.9 5.8 2.5 2.9 1.4 0.1 3.9 -3.2 9.2 -12.1 7.2 -7.2 13.7 -10.6 7.8 -4.3 9.1 -4.2 17.7 -5.8 170.3 0.5" stroke="#ffa30e"/>
<path d="M841.2 638.2l-146.2 0.9 -7.2 0.5 -1.8 1.5 -1.4 5.8 -2.3 4.4 -3.1 3.6 -4.2 3.6 -8.7 5.1 -29.4 13.6 -8.5 5.1 -5.7 4.5 -8 8.1 -6.5 7.8 -8.6 13.1 -1.4 2.9 -0.4 2.1 1.2 5.1 2 5.1 2 3.3 1.3 0.3 1.9 -1.4 2.7 -3.1 6.5 -8.9 7.2 -7.2 15 -11.6 15.6 -7.7 17.7 -6.1 48.9 0.7 121.4 0.1" stroke="#ff9109"/>
<path d="M841.2 639l-145.5 0.8 -7.9 0.5 -0.9 0.8 -0.5 5.1 -1.8 4.3 -3.3 4.4 -4.6 4 -9.1 5.5 -21.5 9.5 -12.4 6.4 -7.9 5.2 -6.8 6.4 -9 10.1 -6.9 10.9 -0.8 2.9 1.4 12.3 1.2 4.3 1.3 -0.1 4 -4.2 5.1 -7.3 7.9 -7.8 14.4 -11.2 15 -7.4 13 -4.4 5.3 -2.3 47.6 1 122.7 0" stroke="#ff7f05"/>
<path d="M841.2 639.7l-139.7 0.8 -13 0.5 -0.8 0.8 0.5 4.4 -1.7 4.3 -3.1 4.4 -4.7 4.3 -9.8 6 -22.8 10.1 -14.4 7.5 -6.7 4.7 -8.6 8.7 -5.7 6.5 -3.6 6.5 1.1 8.7 -1.4 11.6 0.8 0.5 1.3 -1 5.9 -8.2 8.4 -8.5 13.7 -10.8 15.7 -7.9 13 -4.3 4.6 -2.5 48.3 1.2 122.7 0.1" stroke="#fd6d03"/>
<path d="M841.2 640.5l-134.4 0.9 -14.4 0.7 -1 0.5 -1.3 5 -2.7 5.1 -3 3.6 -3.7 3.4 -10 6.1 -25.3 11.1 -16.3 8.7 -4.6 3.7 -8 8.3 -3.6 4.4 -1 2.9 7.4 8.7 18.3 -13.6 14.3 -7.1 13.1 -4.5 3.9 -2.4 2.6 -0.5 46.4 1.7 123.3 0" stroke="#f85902"/>
<path d="M841.2 641.5l-129.9 1.4 -13 0.9 -3.9 2.1 -6.8 9.7 -6.6 5.8 -10.1 5.7 -23.5 10.2 -17.7 9.1 -3.4 2.6 -5 5 -3.5 4.4 -0.6 1.4 0.8 1 3.3 0.9 3.2 0.1 3.3 -0.7 22.8 -9.7 12.4 -4.1 5.3 -2.4 3.2 -0.7 47 1.8 122.7 0.2" stroke="#f44500"/>
<path d="M841.2 643.2l-129.2 1.7 -11.8 0.9 -3.9 1.9 -7.2 9.4 -6.5 5.2 -10.3 5.6 -23 9.8 -18.3 9.1 -4.8 3.6 -3 3.6 -0.6 1.5 3.2 0.6 5.9 -1 35.9 -11.4 5.2 -0.9 11.1 0.1 12.4 1.3 21.6 0.4 123.3 0.3" stroke="#ef3300"/>
<path d="M841.2 645.2l-128.6 1.8 -11.7 0.7 -3.3 1.6 -6.1 8.5 -6.9 5.4 -12.2 6.2 -20.5 8.4 -11.2 5.4 -11 5.8 -1.5 2.1 2.2 0.3 6.5 -1.1 31.4 -8.3 7.8 -0.9 9.1 0.1 9.8 1.6 17.6 0.3 128.6 0.4" stroke="#ea2000"/>
<path d="M841.2 647.2l-128.6 1.8 -11.7 0.6 -2.6 1.5 -1.3 3.9 -2.5 3.5 -6.6 5.1 -15.4 7.2 -21.5 8.7 -8.7 4.4 -3.2 2.2 1.1 0.3 3.2 -0.4 26.8 -5.9 10.5 -0.8 5.8 0.3 6.6 1.7 4.5 0.3 143.6 0.6" stroke="#e50d00"/>
<path d="M841.2 649.3l-117.5 1.8 -20.9 0.9 -1 0.7 -1.4 3.6 -2.2 2.9 -6.8 5.1 -39.6 16.7 0.1 0.6 0.7 0.1 19.6 -3.4 10.4 -0.8 5.2 0.4 5.3 1.8 3.9 0.3 144.2 0.8" stroke="#d20b00"/>
<path d="M841.2 651.8l-88.1 2.4 -24.1 1.3 -13.8 1.2 -7.8 1.9 -14.3 7.9 -13.1 4.3 -13.4 5.8 1.7 0.5 16.3 -1.5 10.4 1.5 8.5 0.4 56.1 0.9 81.6 -0.1" stroke="#bf0800"/>
<path d="M841.2 660.3l-37.8 -1.3 -24.8 -0.3 -21.6 0.1 -18.9 1.2 -15 1.4 -9.8 1.6 -21.6 6.9 -8.4 1.7 -3.4 1.4 1.4 0.6 20.9 1 55.5 1.4 40.4 -0.4 43.1 -1.3" stroke="#ac0600"/>
<path d="M742.6 673l17 0.6 38.5 -0.8 31.9 -2 4.8 -0.7 0.6 -0.7 -12.5 -2.3 -21.5 -2.2 -41.8 -1.4 -13.7 0.7 -22.2 2.5 -13.7 2.7 -4.5 1.4 9.7 1.1 27.4 1.1" stroke="#990400"/>
<path d="M751.7 670.8l16.7 0 11.9 -0.7 0.4 -0.7 -22.4 -1.4 -12.5 1.4 0 0.7 5.9 0.7" stroke="#860200"/>
</g>
<g class="geo"><polygon points="448.0,905.3 448.0,905.3 448.0,905.3 448.0,905.3 448.0,905.3 448.0,905.3 448.0,905.3 448.0,905.3 448.0,905.3 448.0,905.3 448.0,905.3 448.0,905.3 448.0,905.3 448.0,905.3 370.9,905.3 370.9,905.3 370.9,905.3 370.9,905.3 370.9,905.3 370.9,905.3 370.9,905.3 370.9,905.3 370.9,905.3 370.9,905.3 370.9,905.3 370.9,905.3 370.9,905.3 370.9,905.3 370.9,905.3 357.9,847.3 117.7,847.3 117.7,634.2 403.6,634.2 403.6,686.4 357.9,686.4 357.9,700.9 403.6,700.9 403.6,750.9 415.3,750.9 415.3,700.9 461.0,700.9 461.0,686.4 415.3,686.4 415.3,634.2 568.1,634.2 581.1,576.3 581.1,576.3 581.1,576.3 581.1,576.3 581.1,576.3 581.1,576.3 581.1,576.3 581.1,576.3 581.1,576.3 581.1,576.3 581.1,576.3 581.1,576.3 581.1,576.3 581.1,576.3 581.1,576.3 659.4,576.3 659.4,576.3 659.4,576.3 659.4,576.3 659.4,576.3 659.4,576.3 659.4,576.3 659.4,576.3 659.4,576.3 659.4,576.3 659.4,576.3 659.4,576.3 659.4,576.3 659.4,576.3 659.4,576.3 672.5,634.2 841.5,634.2 841.5,847.3 626.8,847.3 626.8,731.3 613.8,731.3 613.8,847.3 461.0,847.3 448.0,905.3 448.0,905.3"/></g>
<rect class="frm" x="75.7" y="561.0" width="807.3" height="362.3"/>
<path class="frm" d="M117.7 923.3v-7M117.7 561.0v7M248.2 923.3v-7M248.2 561.0v7M378.8 923.3v-7M378.8 561.0v7M509.3 923.3v-7M509.3 561.0v7M639.9 923.3v-7M639.9 561.0v7M770.4 923.3v-7M770.4 561.0v7M75.7 905.3h7M883.0 905.3h-7M75.7 876.3h7M883.0 876.3h-7M75.7 847.3h7M883.0 847.3h-7M75.7 818.3h7M883.0 818.3h-7M75.7 789.3h7M883.0 789.3h-7M75.7 760.3h7M883.0 760.3h-7M75.7 731.3h7M883.0 731.3h-7M75.7 702.4h7M883.0 702.4h-7M75.7 673.4h7M883.0 673.4h-7M75.7 644.4h7M883.0 644.4h-7M75.7 615.4h7M883.0 615.4h-7M75.7 586.4h7M883.0 586.4h-7"/>
<g class="tl" font-size="20.5"><text x="117.7" y="947.1" text-anchor="middle">0</text><text x="248.2" y="947.1" text-anchor="middle">100</text><text x="378.8" y="947.1" text-anchor="middle">200</text><text x="509.3" y="947.1" text-anchor="middle">300</text><text x="639.9" y="947.1" text-anchor="middle">400</text><text x="770.4" y="947.1" text-anchor="middle">500</text><text x="69.7" y="911.6" text-anchor="end">-40</text><text x="69.7" y="882.6" text-anchor="end">-20</text><text x="69.7" y="853.7" text-anchor="end">0</text><text x="69.7" y="824.7" text-anchor="end">20</text><text x="69.7" y="795.7" text-anchor="end">40</text><text x="69.7" y="766.7" text-anchor="end">60</text><text x="69.7" y="737.7" text-anchor="end">80</text><text x="69.7" y="708.7" text-anchor="end">100</text><text x="69.7" y="679.7" text-anchor="end">120</text><text x="69.7" y="650.7" text-anchor="end">140</text><text x="69.7" y="621.8" text-anchor="end">160</text><text x="69.7" y="592.8" text-anchor="end">180</text></g>
<text class="tt" x="26.3" y="547.0" font-size="20.5">Re =3000</text>
<text class="tt" x="323.6" y="547.0" font-size="20.5">Contour: Velocity magnitude (m/s)</text>
<text class="tt" x="10.3" y="568.0" font-size="16.5">mm</text>
<text class="tt" x="857.4" y="946.8" font-size="16.5">mm</text>
<text class="pl" x="8.7" y="998.7">(c)</text>
<rect x="907.8" y="634.3" width="18.6" height="251.7" fill="url(#cb)"/>
<path d="M908.9 637.3V883.0M925.3 637.3V883.0" stroke="#1a1a1a" stroke-width="2.2" stroke-dasharray="1.6 2.5" opacity="0.75" fill="none"/>
<g class="tl" font-size="20.5"><text x="939.0" y="888.2">0.02</text><text x="939.0" y="863.3">0.14</text><text x="939.0" y="838.4">0.26</text><text x="939.0" y="813.5">0.38</text><text x="939.0" y="788.6">0.5</text><text x="939.0" y="763.7">0.62</text><text x="939.0" y="738.8">0.74</text><text x="939.0" y="713.9">0.87</text><text x="939.0" y="689.0">0.99</text><text x="939.0" y="664.1">1.11</text></g>
<polygon points="893.5,592.8 910.2,592.8 901.9,576.0" fill="#000"/>
<text class="tl" font-size="20.5" x="918.8" y="594.7">1.2</text>
<polygon points="894.3,904.2 909.4,904.2 901.8,920.0" fill="#000"/>
<text class="tl" font-size="20.5" x="917.4" y="919.3">0.0152</text>
</g>
<g id="pd">
<g class="ct" stroke-width="2">
<path d="M1409.8 724.2l-1.6 -5.9 0.7 -8 -0.6 -2.9 -3.1 -3.6 -6.2 -2.9M1389 700.9l-8.9 3.3 -7.6 4.7 -3.5 -2.8 -3.5 -3.8 -0.7 -1.4M1426 700.9l-0.3 2.2 -2.8 -1.2M1532.1 681.6l-1 -1.1 1.6 -1.2 2.1 0.3 0.9 0.9 -1.6 1.2 -2 -0.1M1409.8 643l-10.4 1.7 -9.7 -0.8 -9.6 -2.9 -13.4 -5.5 -2.2 -1.5M1427 634l-2.2 9.5 2.2 6.4 6.3 34 0.7 0.8 2.7 0.6 11.5 0.3" stroke="#4b4bab"/>
<path d="M1438.1 878.8l-3.1 -1.5 0 -1.4 1 -1 2.1 -0.8 2.1 0 2 0.7 1 1.1 -0.2 1.4 -0.9 0.8 -4 0.7M1622.9 846.8l2.1 -6.5 0.7 -8.7 -0.5 -5.8 -2 -9.5 -0.1 -5 3.8 -18.2 3.6 -45.8 0.6 -2.1 1.1 -1M1602.5 816.4l-0.7 -0.5 -0.2 -1 0.9 -1.3 0.9 1.3 -0.9 1.5M1778.7 772.8l-6.9 -1.3 -4.1 -2.3 -1.4 -3 0.3 -2.2 0.8 -1.4 3 -2.1 4.2 -1.2 5.5 -0.8 7.6 -0.1 4.1 0.4 3.5 1 2.3 1.3 1.6 2.2 0.4 2.9 -0.5 2.2 -1 1.6 -2.1 1.4 -6.2 1.5 -11.1 -0.1M1418.5 751l-0.1 0.7 -2.4 0.3 -4.7 -1M1409.9 750.3l-6.4 -5.1 -11 -11.5 -29.3 -32.8M1390 724.1l3.2 0.7 2.8 -1.1 2.3 -6.9 5 -5.8 0.6 -2.2 -0.2 -1.4 -2.8 -2.9 -4.9 -1.5 -5.6 0.1 -4.8 1.6 -2.9 2.7 -0.6 2.9 2.4 9.4 1.8 2.4 3.7 2M1679.2 720.5l-19.2 -0.8 16.4 -2.1 15.9 -0.1 47.7 0.2 6.2 0.7 22.1 0.3 4.9 0.9 10.8 0.1 -104.8 0.8M1439.9 700.9l-0.5 5.8 -1.3 2.9 -2.1 2.9 -6.9 5.8 -2.7 1.2 -3.5 0.3M1361.4 698.7l-0.8 -0.7 -0.6 -2.4 -0.7 -8.5 0.3 -1.5 1.1 -1.1 1.4 0.1 0.8 1M1530 684.9l-2.8 -0.9 -1.6 -2 0.6 -2.2 2.4 -1.8 3.5 -1 4.8 -0.1 3.4 1.1 1.7 1.8 0.1 2.2 -2.4 2.2 -4.2 1 -5.5 -0.3M1409.8 677.6l-5.6 4.3 -4.8 1.5 -6.2 -0.6 -5.5 -2.6 -4.9 -4.7 -8.5 -13.1 -5.9 -7.3 -5.9 -5.8 -15.1 -13.1 -1.5 -2.2M1466.5 634l-7.7 7.2 -9.6 5.4 -2.8 2.1 -2.6 4.2 -0.8 5.1 1 4.4 2.4 3.3 2.8 1.6 6.9 1.9 3.4 1.6 6.9 5.8 4.9 5.3 1.8 5.2 0.3 8.7 -0.4 3.6 -1.1 1.1 -0.8 -0.2M1691 626.7l-1.4 1.3 -0.7 -0.7 -7.6 -12.1 -4.8 -4.3 -4.2 -2.4 -10.4 -1.8 -5.5 0.1 -10.3 1.7 -13.9 6.2 -11 6.3 -1.4 0.2 -1 -1 -0.6 -2.9 0.9 -2.9 2.6 -2.9 4.7 -2.9 5.8 -2.4 9.7 -2.7 24.9 -4.7 3.7 -1.8 4.6 -3.9M1597.8 605.6l0.8 5.2 -1.3 6.5 -2.4 2.7 -1.4 -0.1 -1.7 -1.4M1671.6 586l-7.6 -2.2 -7.6 -1.3 -35.9 -3.1 -10 -0.2" stroke="#4a4ab5"/>
<path d="M1454.4 881.2l-5.2 -1 -12.5 0.3 -4 -1 -8.4 -3.2 -22.8 -2.4 -14.5 0.3 -6.2 1.1 -4.6 1.6M1363.3 849.6l2.2 0.1 20.1 5.9 26.2 9.6 4.2 1 22.8 4.3 14.5 0.1 6.7 -1M1477.6 846.8l10.7 -3.6 7.8 -1.2 1.7 0.5 1.5 4.3M1614.6 846.8l3.4 -6.5 1 -8.7 -1.2 -5.8 -4.8 -10.2 -0.5 -4.3 1.4 -5.1 2.4 -5.4 1.4 -1.7 4.2 -2.8 1.6 -3.9 0.6 -5.1 -0.1 -11.6 1.3 -10.2 3.5 -19.5 3.4 -12.7M1601.8 820.2l-1.3 -1.1 -1.1 -2 -0.2 -4.4 1.9 -3.5 2.8 -0.8 2.9 2.1 1 2.2 0.1 2.2 -0.8 2.2 -1.5 2.1 -1.7 1.1 -2.1 -0.1M1775.9 780.1l-15.2 -2 -5.5 -1.7 -4.2 -2.2 -3 -2.9 -1.3 -2.9 0 -5.1 1.6 -3.6 4.8 -3.8 8.3 -2.9 10.4 -1.6 13.8 -0.5 9.7 0.4 7.6 1.6 5.5 2.8 3.6 4 1.3 4.3 -0.5 5.9 -1.9 3.6 -3.6 2.9 -5.3 2.2 -6.7 1.2 -19.4 0.3M1635.5 730.6l0.6 -2.1 4.8 -5.1 6.3 -2.9 7.1 -2.5 21.5 -2.7 63.5 -0.2 7.6 0.6 22.1 0.1 6.3 0.6 98.1 0.7M1873.4 729l-4.2 -2.7 -6.9 -0.8 -75.3 1.3 -123 -1.2 -8.3 0.3 -4.8 0.7 -2.8 1.3 -2.1 2.7M1390.1 713.2l3.8 0.3 4.6 -1.7 2.1 -2.2 0.2 -1.5 -0.6 -1.4 -2.2 -1.6 -3.4 -0.8 -4.2 0.4 -2.9 1.2 -1.3 1.5 -0.3 2.2 1.6 2.2 2.6 1.4M1456.3 700.9l1.7 3.6 -0.7 2.2 -2.3 2.1 -13.5 9.5 -3.6 3.6 -2.8 4.4 -1.1 3.6 0 3.6 3.7 10.9 0.1 5.1 -1.2 4.4 -1 0.7 -5.8 0.8 -14.5 -2.4 -4.1 -1.2 -2.8 -1.6 -6.5 -5.8 -13.5 -14.3 -25.8 -29.2M1361.4 699.5l-1.2 -0.8 -0.9 -2.2 -1.6 -8.7 0.2 -3.6 2.2 -5.9 0.6 -3.6 -0.4 -4.3 -1.9 -5.1 -3 -5.1 -4.8 -5.8 -19.7 -18.2 -1.6 -2.2M1531.4 688.5l-6.3 -0.9 -4.1 -2 -1.1 -1.4 -0.3 -1.5 0.2 -1.4 1.4 -2.2 2.6 -1.9 3.4 -1.4 9.7 -1.5 4.1 0.3 3.4 0.8 2.6 1.5 1.3 1.4 0.8 2.2 -0.2 2.2 -1 1.5 -2 1.7 -6.2 2.2 -8.3 0.4M1484.7 634l-10.2 12.4 -2.3 4.3 -1.4 5.1 0.3 7.3 3.3 12.3 1 5.9 0.6 16.7 -0.5 4.3 -2.2 3.4 -2 1 -2.1 0.1 -2.5 -0.9 -1.5 -1.4 0.4 -3.6M1691.8 628.4l-1.5 2.4 -0.7 -0.3 -2.4 -4.4 -5.2 -7.5 -6.2 -5.1 -6.3 -2.5 -8.9 -1.2 -6.9 0.3 -7 1.4 -13.1 5.6 -11.7 7.7 -9.7 8.4 -5.5 5.7 -1.4 -0.5 -5.5 -5.7 -6.3 -3.2 -4.8 -4.2M1622.6 597l9.6 0.3 13.9 -1.7 12.4 -3.6 2.1 -1.4 0 -0.9 -4.9 -2 -9.6 -1.4 -13.9 -0.5 -8.9 0.9 -5.6 1.8 -1.6 1.2 -0.7 1.5 0.6 2.2 1.2 1.4 2.6 1.5 2.8 0.7" stroke="#4848be"/>
<path d="M1452 886l-8.4 -2.3 -20 -2.8 -15.2 -0.1 -10.1 1.6 -3.2 1.5 -1.9 1.6 -2 3.5 -0.6 2.9 1.2 5 5.1 8M1362.9 849.1l2 0 20.5 5.7 25.8 9.1 4.8 1.3 22.8 4.2 13.8 0.2 7.6 -0.7M1476.7 846.8l11.7 -4.3 25.7 -6.4 4.1 -0.6 1.2 0.4 0.3 2.9 1.7 3 7.3 5M1605.7 846.8l4 -4.3 1.6 -2.9 1 -5.1 -0.4 -4.4 -1.4 -2.9 -1.8 -1.8 -6.9 -1.6 -3 -2.4 -2.5 -5.1 -0.1 -5 1 -3 2 -2.9 6.8 -4.7 2.3 -2.5 9.1 -17.5 4.5 -16.5 4.4 -12.5 5.9 -19.6M1872.6 846.8l0.8 -0.9M1646.7 845.9l1.1 0.9M1774.6 787.3l-13.9 -0.9 -11 -1.8 -9 -2.5 -7 -3.5 -4.6 -4.4 -2 -4.3 -0.1 -7.3 1.9 -5.1 2.4 -2.9 3.9 -2.9 4.3 -2.2 6 -2.1 13.9 -2.7 17.2 -1.2 18.7 0.2 12.4 1.7 5.6 1.7 4.8 2.4 3.9 2.9 2.4 2.9 1.5 2.9 0.9 3.7 -0.2 8.7 -2.5 5.8 -5.3 4.8 -6.9 3.2 -9.7 2.2 -10.4 0.8 -17.2 -0.1M1873.4 734.6l-2.1 -3.7 -2.1 -1.7 -3.4 -1 -4.9 -0.3 -45.6 2.4 -27.6 0.6 -34.6 -0.3 -91.8 -2.5 -5.6 0.5 -4.1 0.9 -2.7 1.9 -2.2 3M1634.7 730.6l0.9 -2.1 5.5 -5.9 6.7 -2.9 6.5 -2.2 22 -2.8 61.6 -0.4 38 1.3 97.5 0.7M1392.2 711l2.4 0 2 -0.7 1.5 -1.5 -0.1 -1.4 -1.4 -1.2 -2 -0.6 -2.8 0.1 -2.1 0.9 -1 1.5 0.3 1.2 1.4 1.2 1.8 0.5M1361.4 700l-1.8 -1.3 -1.4 -2.9 -2.2 -7.3 -2.3 -11.6 -2 -4.5 -2.6 -4.2 -8.4 -9.2 -22.7 -19.9 -2.9 -2.9 -1.1 -2.2M1525.1 691.5l-7.7 -2.3 -3 -2.1 -1.3 -2.2 -0.2 -2.2 1.4 -2.9 2.3 -2.2 3.7 -2 12.4 -3.3 10.4 -0.6 4.8 0.8 3.9 1.5 2.8 2.2 1.4 2.1 0.4 3.7 -1.2 2.9 -2.1 2.2 -3.9 2.1 -4.7 1.5 -5.5 0.9 -13.9 -0.1M1496.8 634l-2.9 6.6 -6.9 7.2 -2.7 3.7 -2 4.3 -1.1 4.4 -0.6 11.6 -2.4 13.1 -0.4 8 1.7 9.8 4.7 10.5 -0.5 3.8 -2.1 2 -2.7 0.7 -15.9 -2.6 -4.9 0 -4.1 0.7 -4.2 1.5 -3.4 2.1 -2.7 2.7 -1.5 2.9 -0.2 4.4 2.3 4.3 3.5 3.2 8.2 5.5 1.7 2.2 0.1 2.2 -0.8 2.2 -1.4 2.2 -2.1 1.4 -3.8 0.7 -20.6 0.8 -15.2 -2.9 -4.8 -2 -6.3 -5.3 -11 -11.5 -29.6 -33.5M1692.3 629.2l-1.3 2 -1.4 0.3 -3.5 -5.9 -4.8 -6 -4.2 -2.8 -4.8 -2.3 -4.8 -1.2 -6.9 -0.7 -5.6 0.1 -7.6 1.4 -12.4 5.1 -11.7 7.9 -12.5 10.5 -9.7 13.5 -4.1 3.8 -4.1 -3.7 -4.9 -6.3 -0.8 -2.9 0.7 -7.2 -2 -3.7M1637.8 591.9l3.5 0 4.3 -1.4 -1.8 -0.8 -3.3 -0.1 -4.8 0.9 0.1 0.7 2 0.7" stroke="#4848c9"/>
<path d="M1450.3 889.9l-10.4 -3.1 -12.2 -2.1 -11 -0.2 -7.6 1.4 -4.9 3.1 -1.7 2.1 -0.7 2.2 0.7 5.1 3.6 6.5M1362.8 848.8l3.2 0.2 18.8 5.1 26.4 8.9 5.5 1.4 22.1 3.9 21.6 0.1M1476.2 846.8l11.6 -4.5 18.7 -5 33.4 -10.1 5.3 -0.9 0.3 0.2 -6.7 3.6 -2.5 2.2 -1.5 2.9 -0.2 2.9 1 2.2 2.4 2.2 9.6 4.3M1594.8 846.8l6 -3.6 2.9 -2.9 1.5 -4.4 -0.4 -4.3 -1.7 -2.2 -10.2 -8.3 -11.6 -6.2 -1.2 -0.7 -0.2 -0.8 21.9 -17.6 3.3 -3.4 13.1 -22.5 7.4 -18.2 6.6 -20M1870.6 846.8l2.8 -3.4M1646.7 843.3l3.8 3.5M1873.4 775.9l-1.3 -38 -0.7 -2.9 -1.2 -2.2 -1.7 -1.4 -2.7 -1 -7.6 -0.2 -23.2 2.6 -13.5 2 -5.5 1.6 -0.6 0.8 1.4 1.4 8.9 3.7 5.9 3.6 3.8 3.5 2.4 3.8 1.8 5 0.6 6.6 -0.5 7.2 -1.8 5.8 -2.5 3.8 -3.9 3.5 -5.1 3.1 -6.2 2.5 -6.9 1.8 -7.6 1.2 -18.7 0.9 -28.3 -0.8 -11.1 -1.2 -10.3 -1.8 -9 -2.4 -7.6 -3.1 -5.6 -3.3 -4.4 -4.2 -3 -5.8 -0.7 -6.5 0.8 -6.5 3.1 -5.8 3.7 -3.7 5.6 -3.6 8.1 -3.4 13.2 -3.9 2 -1.4 -1 -0.8 -12.1 -2.1 -25.6 -2.2 -33.2 -1.7 -14.5 0.4 -3.4 0.8 -2.8 1.6 -1.4 1.8 -0.9 2.9 0.5 40.7 -1 18.1 -1.4 13.9M1455.6 735.7l6 0.3 2.7 -0.6 2.8 -1.5 2.3 -3.3 0 -2.1 -1.1 -2.2 -3.3 -2.7 -4.8 -1.5 -5.5 0.2 -4.2 1.8 -2.4 2.9 -0.3 1.5 0.4 2.1 2.4 2.9 5 2.2M1634.1 730.6l1.6 -2.7 5 -5.3 8.1 -3.6 5.5 -1.9 22.2 -2.9 60.1 -0.5 40 1.2 96.8 0.8M1392 708.8l1.9 0.4 1.6 -1.1 -0.3 -0.7 -2 -0.5 -1.3 0.5 -0.4 0.7 0.5 0.7M1523.1 695.1l-10.4 -2.3 -4.4 -2.1 -2.7 -2.2 -1.3 -2.2 -0.2 -2.9 0.8 -2.1 2.2 -3 3.5 -2.5 4.9 -1.9 17.2 -4.2 9.7 -1.1 7.6 0.5 6.9 1.8 5.2 3.1 2.7 3.6 0.6 4.4 -1.3 3.6 -2.9 2.9 -5.2 2.9 -6.7 2.2 -7.6 1.2 -10.3 0.6 -8.3 -0.3M1505 634l0.1 3 1.8 5 -0.2 1.5 -2.1 2.2 -8.1 5.8 -4.5 5.5 -2 5.4 -1.7 10.1 -7 10.2 -1.4 4.4 -0.3 5 1.4 6.6 1.3 2.2 2.1 1.9 2.1 0.7 2 -0.1 7.6 -3.4 2.1 0.7 3 3.1 6 8.7 2.7 5.8 0.5 5.1 -1.7 5.1 -2.6 3.6 -4.5 4.3 -14.6 12.4 -3.7 2.2 -8.9 2.2 -10.7 1.7 -11.8 1.3 -19.3 0.5 -6.9 -0.7 -13.3 -2.8 -4 -2.1 -5.3 -4.5 -16.8 -17.8 -20.1 -23.3 -4.8 -5 -2.5 -1.8 -7.2 -15.1 -6.2 -8.1 -8.3 -7.3 -28.2 -21.1 -10.3 -9.4 -2.6 -3.7M1692.5 629.8l-1.5 2 -1.4 0.3 -4.2 -6.4 -4.8 -5.1 -7.6 -3.6 -4.8 -1.4 -9 -0.8 -8.3 0.8 -5.5 1.5 -8.3 3.5 -11.1 7.2 -9.5 8.4 -2.9 1.3 -2.1 1.6 -20.7 29.1 -9.7 12.3 -2.8 2.7 -0.6 -0.5 1.2 -12.3 -0.8 -7.3 -2.4 -6.5 -5.4 -8 -0.7 -2.2 1.2 -2.2 8 -6.5 1.6 -3.7" stroke="#4848d3"/>
<path d="M1448.5 893.9l-7.6 -2.7 -10.4 -2.2 -9.7 -1.3 -4.1 0.5 -2.8 2.9 -1.5 5.1 0.5 4.4 2.2 4.3M1362.8 848.5l2.1 0 19.3 5 32.5 10 22.1 3.8 20 0.2 2 0.5M1475.8 846.8l2.6 -1.4 9.9 -3.6 17.5 -4.9 54.6 -17.3 17.3 -8 6.2 -3.6 18.6 -15 6.5 -9.3 9.7 -16.8 6.2 -14.5 6.6 -20.1 0.9 -1.1M1868.1 846.8l3.3 -2.9 2 -6.1M1563.6 845.4l14.7 0.2 7 -0.9 5.5 -1.5 4.1 -2 2.4 -2.4 1 -2.9 -0.3 -3.6 -2.9 -3.6 -5 -2.8 -6.9 -1.8 -7.6 -0.5 -9.7 0.9 -9.7 2.3 -6.9 2.8 -4.3 3.4 -0.9 2.2 -0.1 2.2 1.1 2.2 1.6 1.4 6.8 2.7 10.1 1.7M1873.4 828.9l-2.7 -89.5 -1.5 -4.4 -2.7 -2.1 -4.9 -0.7 -6.2 0.7 -10.8 2.8 -3.8 2.2 0.1 1.5 3.8 4.3 2.2 4.4 1.3 5.8 0.3 6.5 -0.5 11.6 -1.3 8 -2.4 6.3 -3.7 4.6 -3.2 2.3 -4.8 2.3 -13.1 3.8 -14.5 1.9 -18.7 0.6 -28.3 -0.6 -22.8 -2.3 -18.7 -4 -7.6 -2.6 -6.9 -3.3 -7.6 -5.3 -4.7 -5.9 -2.2 -6.5 -0.3 -9.4 1.3 -5.8 3.3 -5.9 5.4 -5.2 8.9 -5.6 0.6 -0.8 -0.3 -0.7 -6.5 -2.1 -10.8 -1.5 -17.5 -1.4 -11 0.1 -4.2 0.7 -2.7 1.2 -2 2.3 -0.5 2.2 0.9 11.6 -0.5 12.3 0.7 14.5 -5.4 57.4 0.7 5.1 1.3 2.9 2 1.9 3.9 1.7M1454.6 729.9l1.5 0.5 2 -0.3 1.3 -0.9 0 -1.5 -2 -1.3 -2.7 0.3 -1.2 1.8 1.1 1.4M1633.5 730.6l2 -2.9 5 -5.2 7.6 -3.5 6.2 -2.2 22.2 -3.1 22.1 -0.6 36.6 0 42.1 1.2 96.1 0.7M1484.3 698.7l2.2 0.4 2 -0.9 2 -2.4 1 -2.9 0.3 -3.7 -0.6 -2.9 -1.3 -2.2 -2.1 -1.4 -2 0.1 -2.1 1.4 -2.2 4.3 -0.3 2.9 0.4 3.3 1.2 2.5 1.5 1.5M1511.8 634l0.9 3 2.1 2 4.1 2.4 8.2 3.5 1.5 1.5 -2.7 1.4 -15.3 4.5 -4.1 2 -3.5 2.5 -3.2 4.1 -1.1 4.4 0.9 3.6 2.7 1.8 19.4 -0.8 6.9 -2.2 7.6 -1.6 7.6 -0.9 12.4 -0.4 3.5 -1 1 -1.4 0.1 -1.5 -2.2 -4.3 -3.7 -3.5 -7.7 -4.5 -1.1 -1.5 2.7 -1.4 12.3 -3.5 6.9 -2.6 4.1 -2.6 1.6 -3M1692.8 630.2l-1.8 1.9 -1.4 0.5 -1 -0.7 -3.2 -5.2 -5.5 -5.3 -8.3 -3.6 -4.1 -1 -8.3 -0.8 -8.3 0.9 -5.5 1.6 -8.3 3.5 -11.1 7.3 -9 8 -5 3.3 -23.3 32.7 -19.3 24.6 -16.5 18.2 -15.2 12.4 -13.1 7.9 -9 4.4 -11.6 5.1 -19.8 6.5 -20.5 3.3 -11.8 1.1 -15.2 0.3 -7.6 -0.1 -11 -2.1 -6.6 -1.7 -3.8 -2.2 -6.6 -5.8 -11.4 -12.2 -23.9 -27.8 -4.4 -4.3 -3.3 -2.2 -2.1 -2.9 -3.6 -6.7 -2.7 -3.2 -9.7 -6.6 -25.6 -13.6 -14.5 -9 -16.8 -13.2 -7 -6.5 -1.9 -3" stroke="#4848dd"/>
<path d="M1446.2 898.6l-4.6 -1.9 -4.9 -1 -4.8 -0.3 -3.5 0.6 -3.1 1.7 -1.6 2.2 -0.3 2.1 0.9 2.9M1362.7 848.2l2.7 0.1 20.1 5.1 25 7.7 6.9 1.7 20.7 3.4 20 0.6 2.8 0.6M1475.4 846.8l2.5 -1.4 9.4 -3.6 19.2 -5.6 53.2 -17.4 18.6 -8.6 7 -4.4 16.5 -13.4 8.2 -11.7 8.4 -14.5 6.6 -15.2 6.5 -18.9 1.4 -1.5M1863.4 846.8l4.4 -1.5 2.6 -2.1 1.3 -3.6 0.4 -5.8 -1.7 -62.5 -1.8 -31.9 -0.7 -2.2 -1.4 -1.5 -4.2 -1.1 -6.3 1.1 -2.7 1.5 -1.1 1.4 1.5 10.9 -0.4 13.1 -1.7 18.9 -1.4 6.5 -1.8 5.1 -2.7 4.3 -3.4 3.2 -5.6 2.6 -7.6 2.1 -17.9 2.7 -22.8 0.9 -35.9 -0.7 -27.7 -2.7 -17.9 -3.6 -14.6 -4.8 -12.2 -6.2 -14 -10.3 -2.1 -0.8 -1.4 0.2 -2 1.9 -2.8 5 -2.8 7.7 -2 7.8 -3.5 20.9 -0.7 9.7 0.2 5.8 1.9 4.2 3.4 2 8.3 1.4 10.7 0.4M1565.4 842.5l12.3 -0.1 8.2 -1.6 2.8 -1.4 2 -2 0.6 -2.2 -0.3 -2.2 -2 -2.1 -3.7 -1.7 -5.6 -1.1 -6.2 -0.3 -7.6 0.6 -6.2 1.2 -5.1 2 -2.3 2.2 -0.7 2.1 0.2 1.5 1.8 2.2 4.7 1.8 7.1 1.1M1660.1 774.9l1.8 0.3 1.4 -0.9 1.9 -3 1.2 -3.6 0.5 -5.8 -1 -8.7 0.5 -2.2 13.1 -10.9 0.4 -1.5 -1.1 -0.7 -6.6 -1.5 -8.2 -0.4 -4.8 0.7 -2.7 1.9 -0.1 1.6 2.7 8.6 -4.3 8.7 -0.8 3.6 0 3.7 0.8 3.6 1.4 2.9 1.6 2.1 2.3 1.5M1632.9 730.6l8.1 -8.7 8.3 -3.6 5 -1.7 22.8 -3.4 21.5 -0.7 35.2 0 44.2 1.2 95.4 0.7M1484.1 695.1l1 0.5 1.4 -0.2 1.7 -2.5 -0.1 -3.7 -1.6 -2 -2.1 0.4 -1.4 2.2 -0.1 3.1 1.2 2.2M1513.2 664.5l5.7 0.5 11.2 -1.9 7.7 -2.2 1.2 -0.7 0.4 -1.5 -2.5 -1.5 -4.8 -0.9 -5.6 0.2 -6.2 1 -4.8 1.5 -3.2 1.9 -0.9 2.2 1.8 1.4M1518.2 634l0.4 1.5 1.4 1.5 5.1 2.5 7.6 1.7 9 0.6 9 -0.6 8.3 -1.7 6 -2.5 1.7 -1.5 0.7 -1.5M1693 630.5l-2.2 2.1 -1.9 0 -4.1 -5.8 -4.9 -4.4 -5.5 -2.7 -6.9 -2 -8.3 -0.8 -7.6 0.8 -5.5 1.5 -8.3 3.5 -11.1 7.1 -13.7 11.5 -29.4 40.7 -17 21 -12.8 13.8 -15.4 12.4 -14.5 8.7 -12.6 5.8 -10.8 4.4 -16.1 4.9 -20.1 3.2 -12.4 1 -13.1 0.3 -8.3 -0.1 -4.8 -0.6 -11.8 -2.6 -5.5 -2.4 -6.2 -5.2 -6.9 -7.2 -29.7 -34.2 -4.2 -4 -5.1 -3.2 -4.7 -7.3 -1.9 -1.9 -33.5 -9.7 -12.1 -4.6 -10.4 -4.8 -16.6 -10.2 -20.3 -15.3 -12.7 -8.7 -1 -1.5" stroke="#484fe2"/>
<path d="M1442.1 904.9l-1.2 -1.7 -3.5 -0.8 -2.8 0.9 -0.7 1.6M1362.5 848l2.4 -0.1 19.6 4.7 33.6 9.5 19.3 3.1 20 0.8 3.7 0.9M1475.2 846.8l2.3 -1.4 10.3 -4.1 18.7 -5.6 53.9 -18 17.3 -8.1 7.6 -4.8 16.1 -13.2 8.8 -12.3 6.1 -10.2 4.8 -10.1 3.8 -8.8 6.8 -18.8 9 -9.5 11.7 -5.1 23.4 -3.9 24.8 -1 35.3 0 42.1 1.1 95.4 0.8M1834.5 846.8l29.2 -1.5 4.8 -1.9 2 -3.8 0.5 -7.3 -2.5 -65.2 -3.6 -26.3 -0.5 -1.5 -1.4 -0.9 -2.1 0.3 -1 1.4 -4.8 42.8 -2.8 13.8 -2 5.1 -2.5 3.9 -3.5 3 -4.1 1.9 -13.8 2.7 -19.4 1.5 -42.1 0.1 -27.6 -0.8 -16.9 -1.4 -15.6 -2.4 -13.8 -3.1 -19.4 -5.8 -4.8 -0.8 -3.5 0.4 -2.7 1.4 -2.1 2.1 -2.1 3.3 -3.4 9.8 -2.4 14.7 0.6 7.3 1.2 2.2 1.9 1.4 4.2 1.2 6.9 0.7 65.2 1.7M1564.6 839.6l8.2 0.2 6.2 -0.7 3.6 -1.7 0.9 -1.5 0 -1.4 -2.5 -2.2 -6.8 -1.1 -9 0.5 -3.4 1 -2 1.1 -0.9 1.4 0.4 2.2 2.3 1.4 3 0.8M1658.7 768.4l1.2 0.1 1.4 -0.8 1.6 -3.7 -0.5 -4.3 -1.1 -1.7 -1.4 -0.7 -2.4 0.9 -1.5 3.7 0.4 3.9 1.2 1.9 1.1 0.7M1524.6 634l1.8 2.2 3.6 1.5 5.5 1.1 6.9 0.5 6.9 -0.5 5.8 -1.1 3.8 -1.5 2.1 -2.2M1693 630.9l-2 1.9 -2.1 0.2 -4.8 -6.2 -4.9 -4.1 -6.9 -2.9 -6.2 -1.5 -7.6 -0.6 -6.9 0.8 -5.5 1.5 -8.3 3.5 -11.1 7.1 -12.1 10.7 -23.6 32.7 -20.3 25.7 -15.6 17.1 -15.4 12.5 -14.4 8.6 -9.1 4.4 -13.8 5.8 -16.4 5.1 -21.7 3.5 -12.4 1 -11.7 0.2 -9.7 -0.1 -5.5 -0.8 -12.5 -2.9 -4.7 -2.4 -6 -5.1 -7.2 -7.5 -26.3 -29.9 -2.7 -3.8 -4.2 -3.9 -4.1 -1.7 -2.1 -1.5 -5.7 -7.6 -1.2 -0.2 -2.4 0.9 -3.1 0.3 -24.9 -0.4 -29 -5.8 -22.8 -10.7 -14.2 -12.4 -14.7 -11.7 -8.3 -4.3 -16 -6.9 -25.6 -3 -6.9 -1.2 -2.3 -1.3" stroke="#4855e7"/>
<path d="M1362.3 847.8l1.9 -0.3 13.1 3 40.8 10.7 17.9 2.9 21.4 1.2 4.2 1.1M1112.1 846.8l6.8 -1.4 17.3 -2.4 20.7 -1.3 11.1 0.4 54.6 4.7M1475 846.8l2 -1.4 10.8 -4.4 18.7 -5.7 53.9 -18.5 17.3 -8.1 7.6 -4.8 15.7 -13 9.1 -12.7 6.2 -10.3 7.3 -15.5 7.9 -21.1 9 -9.4 12.5 -5.5 23.5 -4 24.8 -1.1 33.9 0 43.5 1.1 94.7 0.7M1802.6 846.8l56.9 -2.1 5.6 -1 2.9 -1.9 1.3 -3 0.5 -5 -2.4 -48.7 -1.6 -16.1 -0.7 -2.7 -1.4 -2.2 -1.4 0.8 -1.4 3.9 -4 25.7 -3 11.7 -2 4.1 -2 2.9 -2.8 2.3 -3.4 1.6 -9 1.5 -16.6 0.9 -91.9 0 -23.5 -1.6 -29 -5 -6.9 -0.4 -4.9 1.5 -3.4 3 -3.5 6.6 -1.8 7.3 -0.3 5 1.1 3.7 2.4 2.2 4.9 1.4 99.7 3.6M1567.8 836.7l5 0.1 1.9 -0.9 0.1 -0.7 -2 -0.9 -4.1 0.1 -1.9 0.8 -0.1 0.7 1.1 0.8M1531.4 634l1.8 1.5 2.3 0.7 6.9 0.8 7.6 -0.8 2.3 -0.7 1.9 -1.5M1693.1 631.2l-2.1 1.8 -2.1 0.4 -4.8 -6 -4.9 -3.9 -7.6 -3.2 -6.9 -1.4 -6.9 -0.3 -6.9 0.9 -5.5 1.6 -7.6 3.3 -11.1 7.1 -10.2 9.1 -21.8 30.5 -23.5 29.8 -15.5 16.7 -15.4 12.1 -19.4 11.1 -15.8 6.9 -15.2 4.9 -9.7 2.3 -15.2 2.2 -23.4 1.2 -10.4 -0.2 -5.5 -0.7 -12.5 -2.8 -5.5 -2.7 -6.3 -5.3 -6.1 -6.3 -27 -30.9 -2.7 -3.8 -4.2 -3.9 -6.7 -2.3 -5.7 -5.7 -4.2 0.2 -32.4 12.5 -29.1 8.7 -3.4 0.7 -21.4 2.3 -7.6 0.5 -21.5 -2.7 -29.7 -8.7 -2.4 -1.3 -11.8 -9.4 -4.9 -5.1 -7.8 -15.2 -1.1 -4.4 -1.7 -14.8 -4.8 -8.1 -22.4 -8.3 -7.5 -1.5 -22.6 -2.9 -4.9 -1.9" stroke="#485bec"/>
<path d="M1362.1 847.6l2.1 -0.3 12.4 2.6 42.2 10.6 19.3 2.9 19.3 1.1 4.2 1.2M1474.7 846.8l2.1 -1.5 11 -4.6 18.7 -5.9 53.9 -18.9 16.6 -7.7 8.9 -5.8 14.6 -12 9.6 -13.3 5.8 -9.4 7 -14.5 8.6 -22.1 9 -9.4 12.5 -5.5 23.5 -4.2 24.8 -1.2 33.2 -0.1 44.9 1.1 94 0.7M1749.8 845.4l26.8 0.6 25.6 -0.2 53.9 -2.1 7.7 -1.2 2 -1.2 1.4 -1.7 1 -5.8 -3.1 -30.2 -1.4 -8 -0.7 -0.7 -0.7 0.8 -4.5 14.8 -3.1 6.3 -4.1 4 -5.6 1.9 -13.8 0.7 -59.4 -0.7 -64.3 1.8 -13.1 -0.3 -24.9 -1.9 -4.8 0.9 -3.4 1.9 -2.9 3.6 -1.7 5.1 0.2 2.9 1.6 2.5 2.8 1.5 4.8 1 83.7 3.7M1540.4 634l4.8 0M1693.3 631.4l-2.3 1.9 -2.1 0.4 -1.4 -1.1 -4.1 -5.2 -5.6 -3.9 -7.6 -2.8 -7.6 -1.2 -6.2 -0.1 -6.9 1.2 -7.6 2.7 -6.2 3.1 -9 5.9 -8.7 7.6 -13.2 19.6 -23.8 31.2 -14.2 16.7 -13.9 13.8 -13.2 9.9 -17.5 9.7 -19.9 8.4 -13.1 4.1 -8.3 1.9 -17.2 2.5 -13.2 0.8 -15.9 0.1 -9.6 -1 -14.4 -3.7 -4.5 -2.9 -8.1 -7.3 -29.7 -34.1 -2.5 -3.7 -3.7 -3.4 -2.1 -1.1 -5.5 -0.6 -4.8 -4.4 -2.1 -0.4 -20.7 18 -30.4 22.9 -29.4 25 -16.9 19.9 -6.8 9.1 -9.4 26.9 1 6.1 1.8 5.5 1.5 1.5 12.6 6.3 21.1 6 1 0.7 0.1 0.8 -0.7 2.1" stroke="#4961f0"/>
<path d="M1361.8 847.3l1.7 -0.4 12.4 2.5 42.9 10.3 18.6 2.7 19.3 1.2 5.4 1.5M1474.6 846.8l2.2 -1.6 11 -4.7 18.7 -6.2 53.9 -19.2 16.6 -7.8 8.9 -5.8 8.9 -7 5.5 -5 9.8 -13.5 5.6 -9.1 6.9 -14 8.9 -22 9 -9.3 12.5 -5.7 23.5 -4.4 24.8 -1.3 32.5 -0.1 45.6 1.1 94 0.6M1753.6 844.7l24.4 0.5 23.5 -0.3 56 -3 4.3 -0.9 2.6 -1.7 1.3 -2.6 0.1 -4.4 -2.1 -7.7 -1.4 -2 -1.4 -0.6 -9 4.2 -6.2 1.2 -53.9 -2.1 -33.1 0.4 -24.9 1.6 -39.4 3.7 -20 1 -4.6 1 -1.3 0.8 -0.8 1.4 1.8 1.8 5.6 1.2 52.5 5 26 1.5M1693.5 631.6l-2.5 1.9 -2.1 0.4 -1.4 -0.8 -4.8 -5.7 -4.9 -3.2 -7.6 -2.7 -8.3 -1.3 -6.2 0.1 -6.2 1 -8.3 3.1 -6.2 3.2 -7.6 5 -8.6 7.3 -5.2 9.1 -5.1 7.6 -24.3 31.9 -15.3 18.2 -14.5 14.5 -13.7 10.2 -17.1 9.4 -19.9 8.5 -20 5.9 -20 2.9 -12.5 0.8 -13.1 0.1 -11.1 -0.7 -15.8 -3.9 -4.7 -2.7 -8.5 -7.6 -29.9 -34.5 -2.5 -3.7 -3.5 -3.2 -2.1 -1 -6.2 0.5 -1.4 -0.6 -2.7 -3 -1.4 0 -25.6 33.7 -13.3 15.8 -9.7 12.3 -14.9 24.7 -7.2 24.7 -0.1 5.1 1.7 10.7 6.6 7.4 3.3 2.2 11.5 4.4 15.7 4.3 3.4 1.5 0.9 1.4" stroke="#4967f5"/>
<path d="M1361.5 847l2 -0.5 55.3 12.3 18.6 2.6 19.3 1.3 5.6 1.6M1474.4 846.8l3.1 -2.1 10.3 -4.5 72.6 -25.9 15.9 -7.5 9.6 -6.2 8.6 -6.8 5.3 -4.9 10.3 -14 5.6 -9 6.9 -13.8 8.9 -21.4 9 -9.3 12.5 -5.7 23.5 -4.6 24.8 -1.5 32.5 -0.1 46.3 1.1 93.3 0.6M1758.3 843.9l36.3 0.3 33.7 -1.7 28.9 -3.7 3.1 -1.4 0.9 -1.5 0.2 -1.4 -1.1 -2.2 -2.1 -0.9 -11.1 0.7 -37.3 -3.8 -33.9 -0.9 -22.1 1 -20.7 2.1 -16.1 3.3 -3.6 1.4 -1.4 1.5 1.2 1.4 1.6 0.7 9.7 2.2 14.1 1.7 19.7 1.2M1693.6 631.8l-3.3 2.3 -2 -0.1 -5.6 -5.9 -5.6 -3.5 -7.6 -2.5 -8.2 -1.2 -6.3 0.2 -6.2 1.2 -9 3.5 -6.2 3.5 -6.9 4.6 -7.6 6.5 -3 6.7 -4 6.6 -23 30.5 -18.1 21.7 -15.2 15.3 -14.1 10.4 -17.2 9.5 -20.1 8.5 -20 5.9 -20.1 3 -24.1 0.9 -12.5 -0.6 -15.9 -3.8 -5.5 -3.2 -8.3 -7.4 -30.1 -34.8 -2.3 -3.5 -3.5 -3.3 -2.1 -0.8 -6.2 2.5 -5.5 0.3 -4.2 7.3 -11.8 25.8 -16.1 29.8 -9 28.3 -2.2 16.7 -0.2 6.5 2.7 8.6 2.1 4 9.6 7 8.4 2.7 4.8 2.3 0.6 0.9 -0.1 2.1" stroke="#496dfa"/>
<path d="M1360.8 846.8l2 -1 2.8 1 22.8 4.4 31 6.9 18 2.4 19.3 1.3 6.1 1.9M1474.2 846.8l2.6 -2 11 -4.9 73.3 -26.7 15.2 -7.3 9.6 -6.2 8.3 -6.6 5.4 -5.1 10.5 -14.1 4.9 -7.9 6.9 -13.3 9.5 -22.1 9.1 -9.4 12.5 -5.7 9.6 -2.4 13.9 -2.5 24.8 -1.6 31.8 -0.1 47 1 93.3 0.7M1765.6 843.2l26.2 0.2 23.5 -1.3 16.8 -2.5 3.5 -1.5 0.7 -1.4 -2 -1.5 -4.4 -1.4 -12.2 -2.2 -17.6 -1.7 -18.6 -0.5 -18.7 0.6 -16.2 1.6 -11.4 2.2 -4.2 1.4 -1.9 1.5 0.5 1.4 1.2 0.7 8.7 2.2 13.1 1.5 13 0.7M1693.7 631.9l-3.4 2.5 -2.1 -0.1 -6.1 -6.1 -5 -2.9 -8.2 -2.6 -7.6 -1 -6.3 0.1 -6.2 1.3 -9.2 3.7 -6.5 3.6 -6.4 4.3 -7 5.9 -2 6.1 -3.1 5.5 -18.4 24.7 -22.5 27.6 -9.5 10.2 -7.8 7.2 -14 10.2 -17.5 9.4 -20.5 8.7 -20 5.8 -20.1 2.9 -24.8 0.9 -12.5 -0.8 -15.8 -4 -4.9 -2.8 -7.6 -6.6 -31 -36 -2.1 -3.3 -4.2 -3.8 -2.1 0 -7.3 8.5 -4 8.7 -16.1 47.2 -3.1 11.7 -2 11.6 -0.7 13.8 1.7 11.6 3.4 9.4 8.3 14.6 1.2 3.6 0.2 3.6" stroke="#4973fe"/>
<path d="M1358 846.8l0.9 -1.4 2.5 -0.8 4.2 1.9 22.8 4.2 29 6.3 19.3 2.6 20 1.3 6.3 1.9M1474.1 846.8l2.7 -2.1 11 -5 74 -27.7 14.5 -7 9.6 -6.2 7.6 -6 5.6 -5.2 10.3 -13.7 5.6 -8.9 6.9 -13.1 9.4 -21.3 9.2 -9.5 12.5 -5.9 9.6 -2.4 13.9 -2.6 24.8 -1.8 31.1 -0.1 48.4 1 92.6 0.6M1762.3 841.8l19.2 0.6 19.8 -0.6 14.7 -1.9 3.6 -1.1 1.7 -1.4 -1.1 -1.3 -1.9 -0.9 -9.9 -2.1 -13.1 -1.3 -13.8 -0.4 -13.8 0.5 -12.5 1.2 -9.4 2.1 -2.3 1.3 -0.6 0.9 1.6 1.4 3.8 1.2 14 1.8M1693.7 632.2l-3.4 2.4 -2.1 0.1 -1.4 -0.8 -4.8 -5 -4.9 -2.8 -8.2 -2.6 -8.3 -1 -5.6 0.2 -6.1 1.2 -9 3.6 -6.5 3.6 -6.5 4.4 -6.4 5.3 -0.7 1.2 -0.5 4.4 -2.2 4.3 -13.7 18.9 -26.9 33.4 -10.1 10.9 -8.8 8.2 -14.9 10.7 -17.6 9.3 -20.7 8.7 -20 5.7 -20.7 2.9 -24.2 0.8 -12.5 -0.9 -15.8 -4 -5 -2.9 -7.6 -6.5 -31.1 -36.3 -1.9 -3.1 -4.2 -3.8 -2.1 0.2 -0.8 1.6 -3.8 13.1 -3.8 15.2 -7.2 37.1 -2.3 20.3 -0.1 13.8 1.2 12.3 2.7 10.9 5.5 16 0.5 3.6" stroke="#4a7dff"/>
<path d="M1469.5 849.4l0.4 -0.9M1473.9 846.8l2.9 -2.3 11.7 -5.4 74 -28.2 13.8 -6.7 9.6 -6.3 12.5 -10.6 4.8 -5.7 6.2 -8.8 4.9 -7.6 6.9 -12.7 10 -21.9 9.3 -9.7 12.5 -5.9 10.3 -2.8 13.2 -2.5 24.8 -1.8 30.4 -0.2 49.1 1 92.6 0.6M1768.4 840.3l13.1 0.5 13.6 -0.5 8.9 -1.5 2 -1.4 -2.4 -1.5 -5.5 -1.1 -16.6 -1 -16.6 1.1 -4.9 1 -2.3 1.5 1.9 1.4 8.8 1.5M1693.7 632.4l-2.7 2.2 -2.8 0.4 -1.9 -1 -5 -4.6 -5 -2.6 -8.1 -2.4 -9 -0.8 -9 1.1 -10.7 4.3 -6.3 3.6 -5.3 3.6 -6.1 5.1 -1 5.1 -2.1 4.3 -13.8 18.9 -27.6 34.2 -9.4 10.1 -9.4 8.7 -14.2 10.2 -18.1 9.5 -21.8 9 -19.3 5.6 -20.8 2.9 -24.1 0.8 -13.2 -0.9 -15.8 -4.1 -5.4 -3.2 -7.8 -6.7 -30.7 -36.1 -1.7 -2.9 -4.2 -3.8 -1.7 0.1 -0.4 1.5 0.9 2.2 0.1 2.1 -3.2 24 -2.7 43.6 -0.1 31.2 -0.5 7.3 2.3 16.7 4.3 8 3.9 5.8 1.3 0.7 53.2 10.3 17.9 2.3 20 1.3 4.2 0.9 2.8 1.2" stroke="#4a88ff"/>
<path d="M1469.3 849.6l0.6 -1.4M1473.8 846.8l0.9 -1.2 2.1 -1.2 11.7 -5.6 74.6 -29 13.2 -6.5 9.6 -6.3 7 -5.5 5.5 -5.2 11 -14.5 11.8 -20.1 9.8 -21.1 9.5 -9.8 12.5 -6.1 10.3 -2.8 13.2 -2.6 11.7 -1.3 13.1 -0.7 29.7 -0.2 49.8 1 92.6 0.6M1693.8 632.6l-2.8 2.2 -2.8 0.5 -2.1 -0.7 -5.5 -4.2 -5.5 -2.5 -6.9 -1.7 -8.3 -0.7 -4.2 0.3 -6.2 1.4 -7.6 3 -6.9 3.8 -5.5 3.8 -4.2 3.8 -4.9 9.1 -4.5 6.6 -26.1 33.4 -16.3 18.9 -14.4 13.8 -14.4 10.1 -18.2 9.3 -22.1 9.1 -19.3 5.5 -20.8 2.9 -24.8 0.7 -13.1 -1.1 -9.7 -2.3 -6.2 -2.1 -5.2 -3.1 -8 -7 -30.3 -35.8 -1.6 -2.9 -4 -3.5 -1 -0.2 -0.6 0.8 1.3 2.9 0.4 6.5 -0.8 20.3 0.5 49.4 1.7 32.7 2.6 21.8 -0.5 7.3 0.4 0.7 53.4 10.2 17.9 2.2 20 1.3 4.2 0.8 3 1.2" stroke="#4b93ff"/>
<path d="M1469.2 849.8l0 -1.2 0.9 -0.5M1473.6 846.8l1.8 -1.8 13.1 -6.5 75.3 -29.8 12.5 -6.2 9.6 -6.4 11.9 -10.3 10.9 -14 5.6 -8.5 6.9 -12.3 9.7 -20.4 9.6 -10 13.2 -6.4 11 -3 11.8 -2.4 12.4 -1.4 13.1 -0.7 28.3 -0.2 51.2 1 91.9 0.5M1693.9 632.7l-2.9 2.4 -2.8 0.6 -2.9 -0.9 -6.1 -3.6 -4.8 -1.8 -6.9 -1.4 -7.6 -0.3 -5.6 0.7 -5.5 1.5 -6.2 2.5 -5.7 3.1 -6 4.2 -4 3.8 -11.5 16.7 -28.9 36.3 -14.2 16 -12.6 11.7 -14.5 10 -17.6 8.8 -22.5 9.2 -19.3 5.5 -21.5 3 -24.1 0.7 -13.8 -1.2 -9.7 -2.2 -6.2 -2.2 -5.6 -3.4 -8.2 -7.2 -29.3 -34.9 -2.2 -3.6 -4.5 -3.2 -0.3 0.3 1 1.4 1.6 10.9 0.8 16.7 3.6 45 4.9 49.4 0 5.8 -0.6 5.1 -1 2.9 -2.3 3.7 3.4 1.5 47 8.6 17.9 2.1 20.7 1.3 6.9 1.9" stroke="#4b9eff"/>
<path d="M1469.2 850.3l-0.4 -1.3 0.4 -0.8 1 -0.3M1473.4 846.8l2 -2 13.1 -6.6 76 -30.6 11.4 -5.8 9.4 -6.1 6.9 -5.4 5.4 -5.2 10.5 -13.3 12.4 -20.3 10.4 -21 9.6 -10 6.2 -3.5 7 -3 11 -3.2 11.8 -2.4 12.4 -1.6 13.1 -0.7 27.7 -0.2 51.8 0.9 91.9 0.6M1694 632.8l-3 2.6 -3.5 0.6 -13.8 -5.2 -6.9 -1 -6.9 0 -5.6 0.8 -5.5 1.6 -11 5.3 -5.6 3.9 -4.1 3.9 -13.8 18.5 -29.4 36.3 -12.5 13.8 -12 11 -13.7 9.4 -16 8 -24.9 10.3 -19.3 5.5 -21.5 3 -23.4 0.7 -14.6 -1.1 -15.8 -4.3 -5.8 -3.2 -8.4 -7.3 -30.1 -35.8 -1.9 -3.4 -2.2 -1.6 -0.7 0.1 0.5 4.4 2.2 8 15.6 104.5 0.6 12.4 -0.8 5.8 -1.7 5.1 0.4 0.7 6.7 1.9 33.8 6.1 17.3 2 20.7 1.1 4.2 0.7 3.4 1.3" stroke="#4ca9ff"/>
<path d="M1469 850.7l-0.4 -1 0.3 -1.4 1.5 -0.5M1473.3 846.8l1.4 -1.8 13.8 -7.1 76.7 -31.4 11.1 -5.7 9 -6 11.7 -10 11.1 -13.9 11.7 -18.9 11.5 -22.1 9.2 -9.6 6.9 -3.9 6.9 -2.9 11.1 -3.2 11.7 -2.5 12.5 -1.6 12.4 -0.7 171.4 1.3M1694.1 632.9l-3.1 2.8 -3.5 0.8 -14.5 -4.2 -6.2 -0.7 -6.9 0.2 -10.4 2.4 -10.4 4.9 -5.5 3.8 -4.8 4.6 -44.9 55.5 -12.2 13.1 -11.3 10.1 -12.5 8.3 -15.5 7.8 -25.9 10.6 -19.4 5.6 -21.4 3 -23.5 0.7 -15.2 -1.1 -15.8 -4.4 -6.2 -3.5 -8.4 -7.2 -26.9 -32.7 -3.1 -3 -1.7 -3.5 -2.1 -1.2 -0.4 1.1 0.7 2.9 2.2 3.6 1.2 3.6 23.8 109 1.6 10.9 -0.7 10.1 0.4 0.8 7.7 2.1 20.1 3.7 17.3 1.8 21.4 1 4.2 0.7 3.1 1.1" stroke="#4bb3ff"/>
<path d="M1468.7 851l-0.5 -1.3 0.4 -1.4 1.9 -0.7M1473 846.8l1.7 -1.9 13.8 -7.3 76.7 -31.9 11.1 -5.8 9 -5.9 11.7 -10.2 10.4 -12.9 12.4 -19.6 11.3 -21.4 9.4 -9.7 7.6 -4.3 6.9 -3 11.1 -3.2 11 -2.4 12.5 -1.6 12.4 -0.8 171.4 1.2M1694.2 633.1l-3.2 3 -3.5 0.8 -15.9 -3.3 -6.2 -0.3 -6.2 0.5 -9.7 2.5 -9.7 4.7 -6.2 4.5 -5.5 5.5 -35.9 44.1 -11.9 13.7 -10 10.2 -9.2 7.9 -12.2 8.1 -14.8 7.3 -26.9 11 -19.4 5.5 -8.9 1.7 -13.2 1.5 -23.5 0.6 -15.2 -1.2 -15.8 -4.4 -6.3 -3.5 -8.3 -7.1 -26.9 -32.7 -3.4 -2.7 -1.4 -3.8 -1.4 -1 -0.7 0.4 1.4 3.8 2 1.4 3.5 10.3 17.3 57.6 10.4 38.1 7.8 16.7 4.7 5.1 -4.3 8 -0.1 1.4 6.9 2.2 7.7 1.4 16.6 1.7 22.8 1 6.5 1.5" stroke="#49bcff"/>
<path d="M1468.5 851.6l-0.6 -1.9 0.5 -1.4 0.8 -0.8 1.5 0M1472.8 846.8l0.9 -1.4 1.7 -1.1 16.6 -8.6 73.9 -31.1 9.7 -5.1 9 -5.9 11.6 -9.9 10.5 -12.8 13.1 -20.3 11.2 -20.7 9.5 -9.9 7.6 -4.3 6.9 -3 11.1 -3.4 11 -2.5 12.5 -1.7 12.4 -0.8 171.4 1.2M1364.5 709.6l0.8 0 -0.3 -1.5 -1.5 -1.3 1 2.8M1694.3 633.2l-3.3 3.2 -3.5 1 -16.6 -2.4 -11.7 0.7 -9.7 2.7 -9 4.5 -5.5 3.9 -5.5 5.2 -45.7 54.7 -11 11.4 -10.2 8.9 -11.2 7.6 -13.1 6.6 -29.7 12.1 -17.3 5.2 -9.7 2 -12.4 1.6 -23.5 1 -17.3 -1.1 -15.9 -4.1 -6.4 -3.3 -9 -7.3 -27.4 -33.2 -1.4 -1.2 -0.6 0.3 9.6 27.6 8.6 28.3 14.2 42.5 3.5 7.7 5.2 8.7 13 13.8 0.8 2.1 -0.1 2.2 -2.1 4.4 1 0.7 13.2 2 25.6 1.1 6.5 0.9" stroke="#48c6ff"/>
<path d="M1472.6 846.8l2.1 -2.3 12.4 -6.8 42.9 -18.8 33.1 -13.8 11.8 -6 9.7 -6.3 11 -9.5 9.7 -11.5 13.8 -20.7 11.2 -20.5 5.4 -6.2 3.4 -3.4 3.5 -2.5 7.6 -4.1 6.2 -2.5 10.4 -3.2 11 -2.5 11.8 -1.6 12.4 -0.9 171.4 1.2M1694.4 633.3l-3.4 3.5 -3.5 1.2 -17.3 -1.5 -11.7 1.1 -9 2.8 -8.3 4.3 -6.2 4.4 -6.2 6 -44.8 53 -10.5 10.9 -10.2 8.7 -11.2 7.5 -12.7 6.3 -30.8 12.4 -16.6 5 -9.7 2 -12.4 1.6 -24.2 1 -17.3 -1.2 -15.9 -4.1 -6.9 -3.6 -8.9 -7.3 -27.7 -33.1 0 1.2 10.1 26.1 8.4 27.6 9.1 25.1 7.6 17.3 7.6 12.1 11.9 13.1 7.5 10.9 3.7 3.6 2.5 0.7 11.8 1.3 15.1 0 2.2 -0.6 2 -4.8 1.4 -0.7 1 0.2" stroke="#49cffe"/>
<path d="M1472.2 846.8l2.5 -2.6 13.1 -7.2 42.2 -18.8 33.8 -14.2 11.1 -5.7 9.7 -6.4 10.5 -9 10.2 -12.1 13.8 -20.4 11.1 -19.8 5.5 -6.3 3.9 -3.8 3.7 -2.6 6.9 -3.7 6.9 -2.9 10.4 -3.2 11 -2.5 12.5 -1.7 11.7 -0.8 170.7 1.1M1370.9 717.6l0.2 0.5 0.1 -0.5 -0.3 0M1694.5 633.4l-2.8 3.3 -3.5 1.7 -4.1 0.3 -13.2 -0.8 -9.6 0.9 -10.4 3 -9.7 5 -6.3 4.7 -6.8 6.5 -43.5 51.3 -10.3 10.4 -9.8 8.4 -10.3 7 -11.8 5.9 -32.5 13 -14.5 4.6 -10.3 2.4 -11.1 1.5 -11 1 -13.8 0.4 -19.4 -1 -15.2 -3.7 -7.6 -3.3 -10 -7.8 -23.2 -28.1 -2 -2 -0.6 0.3 9.8 24 7.6 25.4 6.7 17.2 8.9 18.9 9 14.1 6.2 7.2 15.9 16.3 5.6 4.5 8.1 5.3 5 0.8 10.3 -0.2 2.1 -1.2 2.1 -3.1 2.5 -0.4" stroke="#4cd6fa"/>
<path d="M1471.5 846.8l2.5 -2.5 13.1 -7.3 42.9 -19.5 33.8 -14.3 11.1 -5.7 9 -5.9 10.3 -8.7 10.4 -12.1 14.5 -21 11 -19.2 6.2 -7.2 3.5 -3.3 5.6 -3.6 6.2 -3.2 6.9 -2.8 10.4 -3.2 11 -2.4 11.8 -1.7 11 -0.7 170.7 1.1M1694.6 633.5l-2.9 3.7 -3.5 1.7 -4.1 0.5 -13.9 0 -8.9 1.1 -9.8 3 -9.6 4.9 -6.9 5.2 -6.9 6.6 -12.4 13.9 -30.5 36.2 -10 10.2 -9.4 8 -10.3 6.9 -10.5 5.4 -34.4 13.6 -12.4 4 -17.3 3.8 -22.1 1.9 -13.8 0.2 -11.7 -0.6 -6.9 -1 -9.7 -2.5 -9 -3.6 -10.4 -7.8 -23.5 -27.6 9.4 22.5 6.3 21.8 5.1 13.1 9 17.8 9.6 14.7 8.3 9.5 13.1 12.3 8.3 6.7 13.6 9.4 3 1.3 4.8 0.2 1.4 -0.5 2.8 -2.9 1.4 -0.5 1.3 0.3" stroke="#50dcf7"/>
<path d="M1694.7 633.6l-3 4.1 -3.5 1.8 -4.1 0.7 -14.6 0.6 -8.2 1.4 -9.7 3.1 -9.7 5.2 -6.9 5.2 -7.6 7.3 -11.7 13 -29.6 35 -9.3 9.5 -9.5 8.1 -9.7 6.7 -10.6 5.5 -44.7 17 -17.9 4.3 -20.7 2.3 -22.8 0.2 -10.4 -0.9 -6.9 -1.3 -13.1 -4.1 -7.6 -4.7 -6.9 -5.7 -15.2 -18.1 -2.1 -2.2 -0.6 0.1 7.3 17.5 5.4 19.6 5.2 12.6 5.5 10.4 6.2 9.9 6.2 8.3 6.9 7.7 7.6 7.2 9.7 8 20 14.2 6.3 5.2 1.3 0.2 3.5 -2.2 2.1 -0.1 3.4 -2.7 18 -9.6 38 -17.3 35.2 -15.2 9 -4.7 7.7 -5.1 10.9 -8.9 9.7 -11 14.5 -20.4 12.3 -20.7 6.4 -7.4 4.1 -3.8 4.9 -3.1 6.9 -3.6 6.9 -2.8 10.3 -3.2 10.4 -2.3 11.8 -1.8 11 -0.7 170.7 1" stroke="#53e3f3"/>
<path d="M1694.8 633.7l-2.5 3.8 -4.1 2.6 -4.8 1 -14.5 1.2 -7.6 1.5 -9.7 3.3 -9 4.9 -7.6 5.7 -8.3 8 -11.7 13 -28 33.1 -9.3 9.4 -9.4 8 -9.5 6.5 -9.7 5.1 -43.3 16.5 -19.3 5 -18.7 2.3 -22.8 0.5 -17.3 -1.4 -14.5 -4 -7.6 -3.7 -9.6 -7.6 -13.2 -14.6 5.1 13.5 3.7 15.3 3.7 9.6 4.8 9.1 6.9 10.6 6.9 8.8 6.9 7.4 14.5 12.4 26.3 17.7 4.4 3.6 2.5 3.1 0.7 0 3.4 -0.9 20.1 -10.5 31.8 -14.8 40 -17.4 9.7 -5 7.6 -4.9 11.1 -8.9 9.6 -10.9 15.2 -21 12.2 -20 6.5 -7.6 4.1 -3.8 5.6 -3.5 6.9 -3.6 7.6 -3 10.3 -3.2 10.4 -2.3 11 -1.6 10.4 -0.7 170.7 1" stroke="#56eaf0"/>
<path d="M1694.9 633.8l-2.6 4.3 -4.1 2.7 -4.8 1.2 -15.2 1.8 -9 2.2 -10.4 4.3 -9.7 6 -7.6 6.5 -8.9 9.2 -30.4 35.8 -12 12.7 -14.3 11.8 -7.5 4.9 -7.1 3.6 -42.7 16.2 -15.2 4.3 -9.7 2 -12.4 1.5 -23.5 0.8 -19.4 -1.4 -9 -2.2 -8.9 -3 -4.9 -2.7 -9 -6.8 -9.2 -9.4 2.7 8.7 2.8 13.1 3 8 4.9 9 7.6 10.7 8.3 9.4 9 8.3 10.3 8 12.5 8 24.8 14.5 3.6 1.8 2 0 51.1 -24.1 34.5 -14.9 9.7 -5.1 8.3 -5.4 10.4 -8.5 9.6 -10.9 15.9 -21.7 11.4 -18.4 6.7 -8 4 -3.5 6.2 -4.1 7 -3.5 8.2 -3.3 10.4 -3.1 10.4 -2.3 10.3 -1.5 10.4 -0.6 170 1" stroke="#5af1ed"/>
<path d="M1694.9 633.9l-2.6 4.8 -4.1 2.8 -4.8 1.4 -15.9 2.5 -9 2.5 -10.4 4.5 -9 5.8 -7.6 6.5 -8.9 9.2 -29.7 34.9 -11.8 12.4 -7.4 6.5 -7.1 5.4 -7.5 4.8 -7.2 3.6 -42 15.6 -8.9 2.8 -17.3 3.9 -21.4 2.1 -25.6 -0.4 -8.3 -1 -7.6 -1.8 -8.3 -2.6 -4.8 -2.1 -15.9 -11.9 1.6 12.1 3 9.5 5.1 9 8.3 10.7 9 9.2 10.3 8.5 13.1 8.8 15.2 8.3 20.8 10 6.2 2.5 2.1 0 16.4 -6.7 27.1 -13.1 33.8 -14.8 10.4 -5.4 8.3 -5.4 10.3 -8.6 9.7 -10.9 15.9 -21.4 11.8 -18.5 6.2 -7.3 4.1 -3.7 6.9 -4.5 6.9 -3.5 8.3 -3.3 9.7 -3 10.4 -2.3 10.3 -1.6 10.4 -0.6 170 0.9" stroke="#60f6e5"/>
<path d="M1695 634l-2.4 5.1 -4.4 3.2 -5.5 1.6 -15.9 3.1 -8.3 2.5 -10.4 4.7 -9 5.9 -7.6 6.5 -8.9 9.1 -28.9 33.9 -11.7 12.3 -7.4 6.6 -7.3 5.5 -6.9 4.4 -6.9 3.5 -51.8 18.4 -17.3 3.9 -20.7 2.1 -20.8 0 -11 -0.9 -6.2 -1.1 -9.7 -2.7 -6.9 -2.6 -11.8 -8 -2.7 -1.2 -0.6 1.9 0.5 5.1 2.8 9.4 4.9 8.5 8.3 10 10.3 9.6 11.1 8.1 13.1 7.7 16.6 8 29 11.4 4.1 0.7 8.4 -3 26.9 -13 34.5 -15.2 9.7 -5 9 -6.1 9.5 -7.9 9.8 -11.1 16.6 -22.1 11 -16.9 6.8 -8 5 -4.2 6.9 -4.3 6.9 -3.4 8.3 -3.3 10.4 -3.1 9.7 -2.1 9.6 -1.4 9.7 -0.6 170 0.9" stroke="#6cf7d5"/>
<path d="M1695.2 634l-2.2 5.4 -2 2 -2.8 1.7 -5.5 1.8 -16.5 3.7 -7.7 2.5 -9.7 4.5 -9.7 6.3 -7.6 6.6 -8.9 9.1 -27.9 32.7 -11.7 12.3 -14.2 11.7 -7 4.5 -6.9 3.5 -53.2 18.5 -17.3 3.9 -20.1 2 -20.7 0 -16.6 -1.7 -17.2 -5.3 -11.1 -7.2 -2.7 -1.1 -0.6 1.8 0.5 4.3 2.5 8 5.2 8.3 8.9 9.7 10.4 8.6 11.7 7.6 12.5 6.4 14.5 6.1 39.8 13.6 1.6 0 62.9 -28.2 9 -4.8 9 -6.2 9 -7.6 9.6 -11 16.6 -21.7 10.8 -16.4 6.8 -8 5.2 -4.4 6.9 -4.4 8.3 -4.1 8.3 -3.2 9.7 -2.8 9.6 -2.2 9 -1.3 9.7 -0.6 170 0.9" stroke="#77f9c6"/>
<path d="M1695.3 634l-0.8 3.7 -1.2 2.2 -4.4 3.7 -5.5 2.1 -15.9 4 -9.7 3.2 -9.7 4.8 -9 6 -7.6 6.6 -8.9 9.1 -26.9 31.6 -11.8 12.4 -6.9 6.1 -7.3 5.5 -7.2 4.6 -6.7 3.4 -9.7 3.6 -18.9 5.7 -20.7 7.8 -13.1 3.4 -10.4 2 -21.4 1.8 -18 -0.2 -13.8 -1.2 -9 -2.1 -10.3 -3.5 -3.5 -1.7 -8.3 -5.5 -1.4 -0.4 -0.5 1.2 0.2 2.9 2.1 7.2 5.1 8.2 9.7 9.6 12.5 9 13.8 7.5 14.5 6 16.6 5.4 17.9 4.3 25.6 4.8 10.3 -3.9 40.1 -17.7 9 -4.8 10.4 -7.1 8.3 -7.1 10.3 -11.9 15.9 -20.5 10.7 -15.9 6.8 -8 5.3 -4.5 7.6 -4.9 8.3 -4.1 9 -3.5 9.7 -2.8 9.6 -2.1 8.3 -1.2 9 -0.5 170 0.8" stroke="#82fbb7"/>
<path d="M1695.5 634l-0.6 3.7 -1.2 2.6 -2 2.3 -2.8 1.8 -5.5 2.3 -16.6 4.6 -9.7 3.5 -9.7 5 -8.9 6.2 -7.6 6.7 -8.3 8.4 -26 30.7 -11.7 12.3 -6.6 5.8 -7.6 5.7 -7.6 4.9 -6.2 3.1 -10.3 3.7 -18.7 5.4 -21.4 8 -13.1 3.3 -10.4 2 -20.7 1.8 -18.7 -0.2 -13.8 -1.3 -9 -2.2 -10.3 -3.5 -11.8 -6.6 -0.6 0.6 0.1 2.2 1.9 6.5 2.1 3.9 3.4 4.3 11.1 9.5 13.8 8.5 15.9 7.1 15.9 5.2 16.6 3.7 13.8 2.1 35.2 4 4.3 -1.1 11.1 -4.3 22.6 -10.1 8.4 -4.5 11.6 -8.1 7.6 -6.9 12.5 -14.5 13.8 -17.8 9.9 -14.4 7.4 -8.6 6.2 -5.1 7.6 -4.7 8.3 -4.1 9 -3.3 18.6 -4.8 8.3 -1.2 8.3 -0.4 170 0.8" stroke="#8efda8"/>
<path d="M1695.6 634l-0.4 4.4 -1 2.2 -1.9 2.3 -3.4 2.5 -5.5 2.4 -16.6 4.9 -9.7 3.7 -9.7 5 -8.9 6.4 -7.6 6.6 -8.1 8.3 -25.2 29.8 -11.7 12.3 -13.8 11.2 -7.6 4.9 -6.2 3.2 -10.4 3.7 -20 5.5 -21.4 8 -15.9 3.9 -8.3 1.4 -20 1.6 -18.7 -0.2 -13.8 -1.3 -9 -2.2 -9.6 -3.3 -11.1 -5.9 -0.7 0.6 0 0.9 1.6 5.8 2.5 4.3 3.5 3.8 11.8 9 14.5 7.7 17.2 6.3 14.5 3.7 15.2 2.6 13.9 1.3 27.8 1.2 17.1 2.6 2.7 0 13.3 -4.7 16.4 -7.9 15.9 -10.9 6.3 -5.9 13.1 -15.2 13.1 -16.6 9.8 -14 7.4 -8.7 6.3 -5.2 8.3 -5.2 8.3 -4.1 9.6 -3.5 18.7 -4.7 15.2 -1.4 170 0.8" stroke="#99ff99"/>
<path d="M1695.8 634l-0.1 4.4 -0.8 2.2 -1.9 2.6 -3.4 2.8 -6.2 2.9 -17.3 5.4 -9.7 3.9 -9.7 5.3 -8.9 6.5 -6.9 6.1 -7.9 8.1 -24.4 29 -12 12.6 -6.3 5.6 -7.5 5.6 -7.6 4.8 -6.2 3.2 -10.4 3.6 -20.7 5.3 -20.7 7.8 -16.6 4 -8.3 1.4 -20 1.6 -18.7 -0.3 -13.8 -1.3 -8.3 -2.1 -10.3 -3.4 -9.7 -5 -0.7 0.2 -0.1 0.7 1.1 4.4 2.4 4 3.5 3.5 6.2 4.7 6.9 4.1 14.5 6.6 18 5.4 12.4 2.5 13.2 1.7 13.8 0.7 33.1 0.1 11.1 1.1 14.5 2.7 3.5 -0.1 9.3 -3.6 8.6 -4.3 11.8 -8.1 5.5 -4.5 18.6 -21.2 11.1 -13.8 11.1 -15.2 4.8 -5.9 4.1 -3.9 6.3 -4.6 8.9 -5.1 6.9 -3.2 9.7 -3.5 18 -4.3 14.5 -1.3 169.3 0.8" stroke="#a6ff8a"/>
<path d="M1696 634l0.2 4.4 -0.6 2.2 -1.9 3 -3.4 3 -6.2 3.1 -18.2 6.1 -9.5 4 -9.7 5.3 -8.9 6.6 -6.9 6.1 -7.6 7.9 -23.5 28 -11.9 12.6 -13 10.6 -8.3 5.4 -6.2 3.3 -10.4 3.5 -22.1 5.4 -20.7 7.8 -24.2 5.3 -20 1.6 -20.1 -0.4 -16.5 -2 -15.9 -5.1 -7.6 -3.8 -0.7 0.1 -0.2 1 0.9 2.9 2 3.2 3.5 3.1 6.2 4.1 6.9 3.8 14.5 5.6 17.3 4.4 14.5 2.2 14.5 1 12.4 -0.2 25.6 -1.6 11.8 0.2 13.8 2 15.2 4.3 2 0.1 9.6 -3.9 11.9 -8.1 6.2 -5.2 19.3 -22 24.2 -31.2 5.5 -5.4 6.3 -4.7 9.6 -5.6 7.6 -3.5 9.7 -3.4 17.3 -4.1 13.8 -1.2 169.3 0.8" stroke="#b3ff7b"/>
<path d="M1696.2 634l0.6 4.4 -0.7 2.9 -2.4 3.5 -3.4 2.9 -6.9 3.4 -17.6 6.2 -9.4 4 -9.7 5.4 -8.9 6.6 -14.2 13.8 -23.1 27.7 -12.3 12.9 -12.6 10.2 -14.5 8.7 -10.4 3.3 -22.8 5.3 -20.7 7.8 -24.2 5.2 -20 1.6 -20.1 -0.5 -15.9 -1.9 -14.5 -4.5 -8.9 -3.7 0.3 2.7 1.7 2.4 4.2 3.2 13.1 6.7 13.8 4.6 15.2 3.1 15.9 1.9 15.9 0.3 13.1 -1 24.9 -3.4 11.7 -0.3 8.3 1 9.7 2.2 19.3 6.7 3.5 -1.3 6.9 -4.3 6.2 -4.4 4.2 -3.9 26.9 -31.2 15.9 -20.7 5.5 -5.4 6.9 -5.2 9.7 -5.6 7.6 -3.5 10.4 -3.6 16.6 -4 12.4 -1 170 0.8" stroke="#c1ff6c"/>
<path d="M1696.4 634l1 4.4 -0.2 2.2 -1.9 3.6 -3 3.1 -7.6 4.4 -19.3 7.1 -9 4 -8.3 4.6 -7.6 5.3 -7.6 6.5 -8.3 8.4 -23.1 27.8 -12.8 13.6 -12.1 9.6 -14.8 8.9 -11.1 3.3 -20.8 4.5 -22.7 8.4 -24.2 5.1 -20 1.5 -20.8 -0.6 -14.5 -1.6 -12.4 -3.8 -9.7 -3.7 -0.7 -0.1 0 1.4 1.4 1.7 3.5 2.3 14.5 6.5 12.4 3.3 13.8 2.2 16.6 1.5 18.7 -0.5 14.5 -2.3 23.5 -5.8 8.9 -0.6 7.6 0.9 9.7 2.3 12.5 3.9 14.5 5.4 2 0.3 7 -3.7 5.5 -4.9 26.9 -30.6 16.6 -21.3 4.8 -4.6 6.9 -5.2 10.4 -6.2 8.3 -3.7 10.4 -3.6 15.9 -3.7 11.7 -0.9 170 0.7" stroke="#cdff5b"/>
<path d="M1459.4 774.9l17.4 -0.1 9 -0.7 6.2 -1.2 17.9 -5.6 8.3 -4 5.8 -3.6 -4.3 0.7 -11.8 4.2 -19.4 4.1 -25.5 2.4 -5.6 -0.6 -15.2 0 -13.8 -1.5 -20 -6.4 -1.4 0 10.4 5.1 10.3 3.4 13.9 2.4 17.8 1.4M1696.7 634l1.5 4.4 -0.2 2.2 -1.6 3.6 -3.2 3.6 -3.6 2.6 -4.9 2.5 -19.3 7.4 -9 4 -9 5.1 -7.6 5.4 -7.6 6.7 -8.1 8.5 -19.5 23.7 -8.6 9.7 -7.3 7.3 -6.2 5.2 -11.8 7.9 -8.9 5.1 -24.9 6 -4.2 1.2 -1.6 0.7 -0.4 0.7 5.1 2.2 48.8 16.3 2.7 0.2 3.5 -2.4 13.1 -13.9 20 -23.2 11.1 -14.4 8.3 -7.4 11 -7.2 9 -4.5 13.2 -4.7 14.5 -3.5 6.9 -0.8 12.4 -0.3 163.1 0.8" stroke="#daff49"/>
<path d="M1697 634l1.9 3.7 -0.1 3.6 -2.3 4.4 -3.5 3.6 -8.3 4.9 -26.9 10.9 -7.6 4.1 -6.9 4.6 -8.3 6.7 -8.3 8.3 -24.2 29.2 -15 15.5 -9.8 7.3 -13.9 8.6 -10.2 3 -4.1 1.5 -0.4 0.7 30.6 10.9 11.1 2.9 2.1 0.3 1.3 -0.4 9.7 -9.3 13.8 -15.3 17.5 -21.8 8.8 -7.8 11 -7.1 9 -4.5 13.1 -4.7 14.6 -3.6 6.2 -0.7 12.4 -0.2 163.1 0.8" stroke="#e3fa3e"/>
<path d="M1697.6 634l2.5 3.7 0 2.9 -1.9 4.3 -3.8 4.6 -4.1 3 -4.9 2.6 -20 8 -9.7 4.5 -8.3 4.8 -6.9 5 -6.9 6 -7.8 8 -20.6 25.4 -13.7 14.9 -7.6 6.3 -16.4 10.8 -2.7 2.9 5.9 2.7 15.2 4.6 9 1.9 4.9 -0.2 3.4 -2.2 4.9 -4.8 16.5 -18.4 10.4 -13.4 9.7 -8.6 11.7 -7.5 8.3 -4 11.8 -4.3 15.2 -3.9 5.5 -0.7 11.7 -0.2 164.5 0.7" stroke="#e9f135"/>
<path d="M1700.8 634l1 1.5 0.1 1.5 -1.1 5 -2.2 4.4 -3.5 3.9 -4.1 3.1 -4.9 2.6 -20.7 8.5 -9.7 4.6 -8.3 4.8 -6.9 5 -6.9 6.1 -7.6 7.9 -19.3 24.2 -12.5 13.6 -6 5.7 -13.3 9.5 -0.7 1.6 16.6 5.2 11.7 2.6 2.1 -0.1 2.8 -1.8 10.3 -10.7 7.6 -8.5 9.7 -12.5 9.7 -8.6 11.7 -7.7 8.3 -4.1 11.8 -4.4 15.8 -4.1 16.6 -0.7 164.5 0.7" stroke="#f0e72d"/>
<path d="M1764.1 634l-51 1 -4.9 0.6 -2.7 1 -1.8 1.8 -2.5 5.8 -2.3 3.6 -3.1 3.4 -3.5 2.7 -7.6 4.1 -18.6 7.6 -9.7 4.5 -9.7 5.7 -8.2 6.3 -13.5 13.7 -15.6 19.9 -6.6 7.7 -11.3 12 -7.3 6.1 -0.8 1.5 21.9 6.8 3.4 0.3 2.1 -1.3 6.2 -5.8 6.9 -7.5 11.4 -14.3 7.3 -6.7 4.8 -3.6 10.4 -6.7 9 -4.2 10.3 -3.8 15.9 -4.2 15.2 -0.5 165.2 0.6" stroke="#f7dd24"/>
<path d="M1853.7 634l-137.9 1.9 -7.6 0.9 -3.1 2.3 -3.3 6.6 -2.5 3.6 -6.3 5.5 -7.6 4.2 -19.3 8 -10.4 4.9 -9.6 5.8 -7.6 5.9 -13.3 13.6 -16.2 21.1 -16.2 18.1 -0.7 2.2 16.6 6.4 2.8 0.6 1.4 -0.4 4.1 -2.9 7.6 -7.9 10.5 -13.2 8.2 -7.6 6.9 -4.9 8.3 -5.3 9 -4.1 9.6 -3.7 15.9 -4.3 14.5 -0.4 165.9 0.6" stroke="#fed31b"/>
<path d="M1873.4 635.3l-156.2 1.3 -7.6 0.7 -3.4 2.6 -3.5 6.7 -2.8 3.8 -6.2 5.4 -8.3 4.5 -19.3 8 -9.7 4.6 -9 5.3 -7.6 5.7 -7.1 6.8 -7.3 8 -14.6 19.4 -10.4 11.8 -2 3.6 15.6 8.8 1.7 0 8.9 -8.2 10.4 -13.1 9 -8.2 9 -6.3 6.2 -3.9 13.8 -6.1 20 -5.9 180.4 0.3" stroke="#ffc416"/>
<path d="M1873.4 636.2l-155.5 1.1 -7.6 0.6 -2.8 2 -3.6 7.2 -2.5 3.6 -6.6 5.9 -8.7 4.7 -19.3 8.1 -10.4 4.9 -9 5.3 -6.9 5.2 -7 6.6 -7.3 8 -14 19.1 -6 7.1 -1.7 2.9 0.8 1.3 10.3 8.8 2.1 0.8 6.9 -5.7 10 -12.5 6.6 -6.3 14.5 -10.7 8.3 -4.4 10.4 -4.4 18.6 -5.6 180.4 0.4" stroke="#ffb412"/>
<path d="M1873.4 637l-155.5 0.9 -7.6 0.7 -2.1 2 -2.3 5.8 -2.7 4.3 -3.4 3.7 -4 3.1 -9 4.9 -29.7 13 -9 5.1 -6.8 5.1 -7.7 7.3 -7.1 8 -14.5 20.3 -1.5 2.9 1.7 3.6 4.1 5.8 2.7 2.9 1.5 0.1 4.1 -3.2 9.7 -12.1 7.6 -7.2 14.5 -10.7 8.3 -4.3 9.7 -4.1 18.6 -5.9 180.4 0.6" stroke="#ffa30e"/>
<path d="M1873.4 637.7l-154.8 0.9 -7.6 0.4 -1.9 1.6 -1.6 5.8 -2.4 4.3 -3.2 3.7 -4.5 3.6 -9.2 5.1 -31.1 13.6 -9 5.1 -6 4.5 -8.5 8.2 -6.9 7.8 -9.1 13.1 -1.5 2.9 -0.4 2.2 1.3 5.1 2.1 5 2.1 3.3 1.4 0.3 2 -1.4 2.8 -3.1 6.9 -8.9 7.6 -7.2 15.9 -11.6 16.6 -7.7 18.6 -6.1 51.9 0.6 128.5 0.2" stroke="#ff9109"/>
<path d="M1873.4 638.4l-154.1 0.9 -8.3 0.4 -1 0.9 -0.5 5.1 -2 4.3 -3.5 4.4 -4.7 4 -9.7 5.5 -22.8 9.6 -12.5 6 -8.2 5 -7.6 6.6 -9.9 10.5 -7.3 10.9 -0.8 2.9 1.3 11.6 1.5 5 1.3 0 4.2 -4.3 5.5 -7.2 8.3 -7.9 14.5 -10.8 16.6 -7.9 13.8 -4.3 5.5 -2.3 50.5 0.9 129.9 0.1" stroke="#ff7f05"/>
<path d="M1873.4 639.1l-147.9 0.9 -13.8 0.4 -0.9 0.9 0.6 4.4 -1.8 4.3 -3.3 4.4 -5 4.3 -10.3 6 -24.2 10.1 -15.2 7.5 -7.1 4.8 -9.1 8.7 -6 6.5 -3.9 6.5 1.2 8.8 -1.5 11.6 0.8 0.5 1.4 -1.1 6.3 -8.1 8.9 -8.5 14.5 -10.9 16.6 -7.9 13.8 -4.4 4.8 -2.4 51.2 1.1 129.9 0.1" stroke="#fd6d03"/>
<path d="M1873.4 639.9l-142.4 1 -15.2 0.7 -1 0.4 -1.5 5.1 -2.8 5.1 -3.2 3.6 -3.9 3.3 -10.6 6.2 -26.7 11.1 -17.3 8.8 -4.8 3.6 -8.5 8.4 -3.8 4.4 -1.1 2.9 7.9 8.7 19.3 -13.6 15.2 -7.2 13.8 -4.4 4.2 -2.4 2.7 -0.5 49.1 1.6 130.6 0.1" stroke="#f85902"/>
<path d="M1873.4 641l-137.5 1.3 -13.8 0.9 -4.2 2.1 -7.2 9.8 -7 5.8 -10.7 5.7 -24.8 10.2 -18.7 9.1 -3.7 2.6 -5.3 5.1 -3.7 4.4 -0.6 1.4 0.9 1 3.4 0.9 3.5 0 3.4 -0.7 24.2 -9.6 13.1 -4.1 5.6 -2.4 3.4 -0.7 49.8 1.8 129.9 0.1" stroke="#f44500"/>
<path d="M1873.4 642.6l-136.8 1.8 -12.5 0.8 -4.1 2 -7.7 9.4 -6.8 5.2 -11.1 5.7 -24.2 9.7 -19.3 9.1 -5.1 3.7 -3.2 3.6 -0.6 1.5 3.4 0.6 6.2 -1 38 -11.5 5.5 -0.9 11.8 0.1 13.1 1.3 22.8 0.5 130.6 0.2" stroke="#ef3300"/>
<path d="M1873.4 644.7l-136.1 1.7 -12.5 0.8 -3.4 1.6 -6.5 8.5 -7.4 5.4 -12.8 6.2 -21.7 8.5 -11.9 5.3 -11.6 5.8 -1.6 2.2 2.3 0.2 6.9 -1.1 33.2 -8.2 8.3 -0.9 9.6 0.1 10.4 1.6 18.7 0.3 136.1 0.4" stroke="#ea2000"/>
<path d="M1873.4 646.7l-136.1 1.8 -12.5 0.6 -2.7 1.4 -1.4 3.9 -2.7 3.6 -7 5.1 -16.2 7.3 -22.8 8.7 -9.2 4.3 -3.4 2.2 1.2 0.4 3.4 -0.4 28.3 -5.9 11.1 -0.8 6.2 0.2 6.9 1.8 4.9 0.2 152 0.7" stroke="#e50d00"/>
<path d="M1873.4 648.7l-124.4 1.9 -22.1 0.9 -1.2 0.7 -1.4 3.6 -2.4 2.9 -7.2 5.1 -41.8 16.7 0.1 0.7 0.7 0 20.7 -3.4 11.1 -0.8 5.5 0.4 5.5 1.8 4.2 0.3 152.7 0.8" stroke="#d20b00"/>
<path d="M1873.4 651.3l-93.3 2.4 -25.6 1.2 -14.5 1.3 -8.3 1.9 -15.2 7.9 -13.8 4.3 -14.2 5.9 1.8 0.4 17.2 -1.5 11.1 1.6 9 0.3 59.4 0.9 86.4 -0.1" stroke="#bf0800"/>
<path d="M1873.4 659.8l-40.1 -1.3 -26.3 -0.3 -22.8 0.1 -20 1.2 -15.9 1.4 -10.4 1.6 -22.8 6.9 -8.9 1.7 -3.6 1.4 1.5 0.6 22.1 1 58.7 1.4 42.9 -0.4 45.6 -1.3" stroke="#ac0600"/>
<path d="M1769 672.5l18 0.6 40.8 -0.8 33.7 -1.9 5.1 -0.8 0.6 -0.7 -13.2 -2.2 -22.8 -2.3 -44.2 -1.4 -14.5 0.8 -23.5 2.4 -14.5 2.7 -4.8 1.5 10.3 1 29 1.1" stroke="#990400"/>
<path d="M1778.6 670.4l17.7 0 12.6 -0.8 0.4 -0.7 -23.7 -1.4 -13.3 1.4 0 0.7 6.3 0.8" stroke="#860200"/>
</g>
<g class="geo"><polygon points="1443.3,905.3 1443.3,905.3 1443.3,905.3 1443.3,905.3 1443.3,905.3 1443.3,905.3 1443.3,905.3 1443.3,905.3 1443.3,905.3 1443.3,905.3 1443.3,905.3 1389.4,905.3 1389.4,905.3 1389.4,905.3 1389.4,905.3 1389.4,905.3 1389.4,905.3 1389.4,905.3 1389.4,905.3 1389.4,905.3 1389.4,905.3 1389.4,905.3 1389.4,905.3 1361.8,847.2 1107.5,847.2 1107.5,633.7 1410.1,633.7 1410.1,686.0 1361.8,686.0 1361.8,700.5 1410.1,700.5 1410.1,750.6 1422.6,750.6 1422.6,700.5 1470.9,700.5 1470.9,686.0 1422.6,686.0 1422.6,633.7 1584.2,633.7 1611.9,575.6 1611.9,575.6 1611.9,575.6 1611.9,575.6 1611.9,575.6 1611.9,575.6 1611.9,575.6 1611.9,575.6 1611.9,575.6 1611.9,575.6 1611.9,575.6 1611.9,575.6 1667.1,575.6 1667.1,575.6 1667.1,575.6 1667.1,575.6 1667.1,575.6 1667.1,575.6 1667.1,575.6 1667.1,575.6 1667.1,575.6 1667.1,575.6 1667.1,575.6 1667.1,575.6 1694.8,633.7 1873.7,633.7 1873.7,847.2 1646.4,847.2 1646.4,731.0 1632.6,731.0 1632.6,847.2 1470.9,847.2 1443.3,905.3 1443.3,905.3"/></g>
<rect class="frm" x="1085.3" y="558.0" width="809.2" height="367.0"/>
<path class="frm" d="M1107.5 925.0v-7M1107.5 558.0v7M1245.7 925.0v-7M1245.7 558.0v7M1383.9 925.0v-7M1383.9 558.0v7M1522.0 925.0v-7M1522.0 558.0v7M1660.2 925.0v-7M1660.2 558.0v7M1798.4 925.0v-7M1798.4 558.0v7M1085.3 905.3h7M1894.5 905.3h-7M1085.3 876.2h7M1894.5 876.2h-7M1085.3 847.2h7M1894.5 847.2h-7M1085.3 818.2h7M1894.5 818.2h-7M1085.3 789.1h7M1894.5 789.1h-7M1085.3 760.1h7M1894.5 760.1h-7M1085.3 731.0h7M1894.5 731.0h-7M1085.3 702.0h7M1894.5 702.0h-7M1085.3 672.9h7M1894.5 672.9h-7M1085.3 643.9h7M1894.5 643.9h-7M1085.3 614.8h7M1894.5 614.8h-7M1085.3 585.8h7M1894.5 585.8h-7"/>
<g class="tl" font-size="20.5"><text x="1107.5" y="948.8" text-anchor="middle">0</text><text x="1245.7" y="948.8" text-anchor="middle">100</text><text x="1383.9" y="948.8" text-anchor="middle">200</text><text x="1522.0" y="948.8" text-anchor="middle">300</text><text x="1660.2" y="948.8" text-anchor="middle">400</text><text x="1798.4" y="948.8" text-anchor="middle">500</text><text x="1079.3" y="911.7" text-anchor="end">-40</text><text x="1079.3" y="882.6" text-anchor="end">-20</text><text x="1079.3" y="853.6" text-anchor="end">0</text><text x="1079.3" y="824.5" text-anchor="end">20</text><text x="1079.3" y="795.5" text-anchor="end">40</text><text x="1079.3" y="766.4" text-anchor="end">60</text><text x="1079.3" y="737.4" text-anchor="end">80</text><text x="1079.3" y="708.3" text-anchor="end">100</text><text x="1079.3" y="679.3" text-anchor="end">120</text><text x="1079.3" y="650.2" text-anchor="end">140</text><text x="1079.3" y="621.2" text-anchor="end">160</text><text x="1079.3" y="592.1" text-anchor="end">180</text></g>
<text class="tt" x="1035.5" y="545.5" font-size="20.5">Re =3000</text>
<text class="tt" x="1334.0" y="545.5" font-size="20.5">Contour: Velocity magnitude (m/s)</text>
<text class="tt" x="1019.7" y="565.3" font-size="16.5">mm</text>
<text class="tt" x="1869.0" y="947.4" font-size="16.5">mm</text>
<text class="pl" x="1017.8" y="997.5">(d)</text>
<rect x="1920.0" y="627.7" width="18.7" height="262.1" fill="url(#cb)"/>
<path d="M1921.1 630.7V886.8M1937.6 630.7V886.8" stroke="#1a1a1a" stroke-width="2.2" stroke-dasharray="1.6 2.5" opacity="0.75" fill="none"/>
<g class="tl" font-size="20.5"><text x="1951.0" y="892.7">0.02</text><text x="1951.0" y="866.7">0.14</text><text x="1951.0" y="840.8">0.26</text><text x="1951.0" y="814.8">0.38</text><text x="1951.0" y="788.9">0.5</text><text x="1951.0" y="762.9">0.62</text><text x="1951.0" y="737.0">0.74</text><text x="1951.0" y="711.0">0.86</text><text x="1951.0" y="685.1">0.98</text><text x="1951.0" y="659.1">1.1</text></g>
<polygon points="1905.0,588.2 1922.0,588.2 1913.5,573.7" fill="#000"/>
<text class="tl" font-size="20.5" x="1931.0" y="590.0">1.19</text>
<polygon points="1905.8,906.0 1921.7,906.0 1913.8,922.0" fill="#000"/>
<text class="tl" font-size="20.5" x="1929.7" y="922.0">0.0151</text>
</g>
<g id="pe">
<g class="ct" stroke-width="2">
<path d="M400.2 1229.9l-1.6 -5.9 0.7 -8 -0.6 -2.9 -3.1 -3.6 -6.2 -2.9M379.4 1206.6l-8.9 3.4 -7.6 4.6 -3.5 -2.7 -3.5 -3.8 -0.7 -1.5M416.5 1206.6l-0.4 2.3 -2.8 -1.3M522.5 1187.4l-0.9 -1.1 1.6 -1.2 2.1 0.3 0.9 0.9 -1.6 1.2 -2.1 -0.1M400.2 1148.9l-10.4 1.7 -9.6 -0.9 -9.7 -2.8 -13.4 -5.5 -2.2 -1.5M417.5 1139.9l-2.3 9.4 2.3 6.5 6.2 33.9 0.7 0.7 2.8 0.6 11.5 0.4" stroke="#4b4bab"/>
<path d="M427.2 1384.4l-1.8 -0.9 -0.7 -1.4 0.9 -1.5 1.6 -0.9 4.1 -0.4 2.1 0.9 1.1 1.1 -0.1 1.5 -2 1.4 -2.5 0.5 -2.7 -0.3M613.5 1352.3l2.1 -6.5 0.6 -8.7 -0.5 -5.8 -2 -9.4 -0.1 -5.1 3.9 -18.1 3.5 -45.7 0.6 -2.2 1.2 -0.9M593 1321.9l-0.6 -0.4 -0.3 -1.1 0.9 -1.2 0.9 1.2 -0.9 1.5M769.3 1278.4l-6.9 -1.3 -4.2 -2.2 -1.3 -3 0.3 -2.2 0.8 -1.5 3 -2 4.2 -1.3 5.5 -0.7 7.6 -0.1 4.1 0.3 3.5 1 2.3 1.4 1.6 2.2 0.4 2.9 -0.5 2.1 -1 1.6 -2.1 1.4 -6.2 1.5 -11.1 -0.1M409 1256.6l-0.1 0.8 -2.5 0.2 -4.7 -1M400.3 1256l-6.4 -5.2 -11 -11.4 -29.3 -32.8M380.4 1229.8l3.2 0.7 2.8 -1.1 2.4 -6.8 4.9 -5.8 0.7 -2.2 -0.3 -1.5 -2.8 -2.9 -4.9 -1.5 -5.6 0.2 -4.8 1.6 -2.9 2.6 -0.6 2.9 2.4 9.5 1.8 2.3 3.7 2M669.8 1226.2l-19.3 -0.7 16.4 -2.2 16 0 47.7 0.2 6.2 0.6 22.1 0.3 4.9 0.9 10.8 0.2 -104.8 0.7M430.3 1206.6l-0.5 5.8 -1.2 2.9 -2.2 2.9 -6.8 5.9 -2.8 1.2 -3.5 0.3M351.8 1204.5l-0.7 -0.8 -0.7 -2.3 -0.7 -8.6 0.4 -1.4 1 -1.1 1.4 0.1 0.8 1M520.5 1190.7l-2.8 -0.9 -1.7 -2 0.7 -2.2 2.4 -1.8 3.4 -1 4.9 -0.1 3.4 1.1 1.7 1.8 0.1 2.2 -2.5 2.2 -4.1 0.9 -5.5 -0.2M400.2 1183.4l-5.5 4.3 -4.9 1.4 -6.2 -0.5 -5.5 -2.6 -4.9 -4.7 -8.5 -13.1 -5.9 -7.3 -5.8 -5.8 -15.2 -13 -1.5 -2.2M456.9 1139.9l-7.6 7.1 -9.7 5.4 -2.8 2.2 -2.6 4.2 -0.8 5 1 4.4 2.4 3.3 2.8 1.6 6.9 1.9 3.5 1.6 6.9 5.8 4.8 5.3 1.9 5.1 0.2 8.7 -0.4 3.7 -1 1 -0.8 -0.2M676.3 1127.2l-1 0.6 -1.4 -0.7 -12.4 -12.3 -4.9 -1.4 -6.9 -0.8 -7.6 0.7 -6.2 1.3 -13.1 6 -11.1 6.2 -1.4 0.3 -1 -1 -0.5 -3.6 1.2 -2.9 2.9 -2.9 5.1 -2.9 14.4 -4.5 21.5 -4 4.8 -2.3M648.4 1088.5l-35 -2.6" stroke="#4a4ab5"/>
<path d="M390.6 1406.1l33.1 -1.2M436 1388l-10.2 -1.5 -10.4 -4.1 -11.1 -1.7 -18.6 -1.4 -8.3 0.4 -4.8 1M354.6 1355.2l21.4 5.8 27 9.9 24.8 4.9 12.5 0.7 3.3 0.7M468.1 1352.3l10.7 -3.6 7.8 -1.2 1.7 0.5 1.5 4.3M605.1 1352.3l3.5 -6.5 1 -8.7 -1.3 -5.8 -4.8 -10.1 -0.5 -4.4 1.4 -5.1 2.5 -5.3 1.4 -1.7 4.1 -2.8 1.6 -3.9 0.6 -5.1 0 -11.6 1.3 -10.2 3.4 -19.5 3.5 -12.6M592.4 1325.8l-1.4 -1.2 -1.1 -2 -0.2 -4.3 2 -3.5 2.7 -0.8 2.9 2.1 1 2.2 0.1 2.1 -0.7 2.2 -1.6 2.2 -1.7 1.1 -2 -0.1M766.5 1285.7l-15.2 -2 -5.6 -1.7 -4.1 -2.2 -3 -2.9 -1.3 -2.9 0 -5 1.6 -3.7 4.8 -3.8 8.3 -2.9 10.4 -1.5 13.8 -0.5 9.7 0.4 7.6 1.6 5.5 2.7 3.6 4 1.3 4.4 -0.5 5.8 -1.9 3.6 -3.6 2.9 -5.3 2.2 -6.7 1.3 -19.4 0.2M626 1236.3l0.7 -2.1 4.7 -5.1 6.4 -2.9 7.1 -2.5 21.4 -2.7 63.6 -0.2 7.6 0.6 22.1 0.1 6.2 0.6 98.2 0.8M864 1234.7l-4.2 -2.7 -6.9 -0.8 -75.3 1.3 -123 -1.2 -8.3 0.3 -4.9 0.7 -2.7 1.3 -2.2 2.7M380.6 1218.9l3.7 0.3 4.1 -1.4 2.6 -2.5 0.1 -2.2 -2 -1.9 -3.4 -1.1 -3.5 0 -3.4 1.1 -2.2 1.9 -0.2 2.2 1.6 2.2 2.6 1.4M446.7 1206.6l1.8 3.6 -0.8 2.2 -2.3 2.2 -13.4 9.4 -3.6 3.6 -2.8 4.4 -1.1 3.6 0 3.6 3.7 10.9 0 5.1 -1.2 4.3 -0.9 0.8 -5.9 0.7 -14.5 -2.3 -4.1 -1.2 -2.7 -1.6 -6.6 -5.8 -13.5 -14.3 -25.8 -29.2M351.8 1205.2l-1.1 -0.8 -1 -2.1 -1.6 -8.7 0.2 -3.7 2.2 -5.8 0.6 -3.6 -0.4 -4.3 -1.9 -5.1 -3 -5.1 -4.8 -5.8 -19.7 -18.1 -1.6 -2.2M521.9 1194.3l-6.3 -0.9 -4.1 -2 -1.1 -1.5 -0.4 -1.4 0.3 -1.5 1.4 -2.1 2.5 -1.9 3.5 -1.4 9.7 -1.5 4.1 0.3 3.3 0.8 2.7 1.5 1.3 1.4 0.8 2.2 -0.3 2.2 -0.9 1.5 -2 1.7 -6.3 2.1 -8.2 0.5M475.2 1139.9l-10.3 12.3 -2.3 4.4 -1.3 5.1 0.2 7.2 3.3 12.3 1.1 5.9 0.6 16.6 -0.6 4.4 -2.1 3.4 -2.1 0.9 -2.1 0.1 -2.5 -0.8 -1.5 -1.5 0.5 -3.6M680.1 1135.8l-0.6 -1 0.6 -1.4 0.5 0.7 -0.5 1.7M677.5 1129.1l-1.5 0.4 -1.4 -0.6 -10.4 -9.1 -4.8 -2.6 -9 -1.5 -9.7 0.9 -10.3 3.4 -10.4 5.4 -7.6 5.3 -9.9 8.5 -4.6 5.1 -1.4 0.4 -7.6 -9.1 -7 -5.7M617.7 1102.9l8.5 -0.2 11.8 -1.6 10.8 -3.2 2 -1.5 -0.1 -0.7 -2.8 -1.5 -5.8 -1.2 -16.6 -1 -10.3 0.8 -4.7 1.4 -2.4 1.5 -0.5 2.2 2 2.9 3.2 1.4 4.9 0.7" stroke="#4848be"/>
<path d="M396.5 1398.7l9.2 0.5 11.8 -1.1 2.9 -0.8 2.4 -1.5 0.8 -1.4 0 -1.5 -1.6 -2.1 -3.1 -1.5 -10.4 -1.7 -13.1 0 -4.4 1 -2.7 1.4 -1 1.5 -0.1 1.4 1.5 2.9 3.2 1.8 4.6 1.1M354.2 1354.9l3.5 0.3 18.2 5.1 27.8 9.7 24.1 4.7 12.5 0.9 3.8 1M467.2 1352.3l11.7 -4.3 25.7 -6.4 4.1 -0.6 1.2 0.5 0.3 2.9 1.7 2.9 7.3 5M596.2 1352.3l4 -4.3 1.6 -2.9 1 -5.1 -0.4 -4.3 -1.3 -2.9 -1.8 -1.8 -6.9 -1.6 -3.1 -2.4 -2.5 -5.1 -0.1 -5.1 1 -2.9 2 -2.9 6.8 -4.7 2.3 -2.5 9.1 -17.4 4.5 -16.6 4.4 -12.4 6 -19.6M863.2 1352.3l0.8 -0.9M637.3 1351.4l1 0.9M765.2 1292.9l-13.9 -0.9 -11 -1.8 -9 -2.5 -7 -3.5 -4.7 -4.4 -1.9 -4.3 -0.2 -7.3 1.9 -5 2.5 -2.9 3.9 -2.9 4.3 -2.2 6 -2.1 13.8 -2.7 17.3 -1.2 18.7 0.2 12.4 1.7 5.6 1.7 4.8 2.3 3.9 3 2.4 2.9 1.5 2.9 0.9 3.6 -0.2 8.7 -2.5 5.8 -5.3 4.8 -6.9 3.2 -9.7 2.2 -10.4 0.8 -17.2 -0.1M864 1240.3l-2.1 -3.7 -2.1 -1.7 -3.4 -1 -4.8 -0.3 -45.7 2.4 -27.6 0.6 -34.6 -0.3 -91.9 -2.5 -5.5 0.5 -4.2 0.9 -2.7 1.9 -2.1 3M625.2 1236.3l0.9 -2.1 5.6 -5.8 6.7 -2.9 6.5 -2.3 22 -2.8 61.6 -0.4 38 1.3 97.5 0.8M382.6 1216.8l2.4 -0.1 2.1 -0.7 1.4 -1.4 -0.1 -1.5 -1.3 -1.1 -2.1 -0.7 -2.8 0.2 -2 0.9 -1.1 1.5 0.4 1.1 1.3 1.2 1.8 0.6M351.8 1205.8l-1.8 -1.4 -1.4 -2.9 -2.2 -7.2 -2.3 -11.6 -2 -4.5 -2.6 -4.2 -8.4 -9.2 -22.7 -19.8 -2.9 -3 -1.1 -2.1M515.6 1197.2l-7.7 -2.2 -3.1 -2.2 -1.3 -2.1 -0.1 -2.2 1.4 -2.9 2.3 -2.2 3.7 -2 12.4 -3.3 10.4 -0.6 4.8 0.8 3.9 1.5 2.8 2.2 1.3 2.1 0.5 3.7 -1.2 2.9 -2.2 2.1 -3.9 2.2 -4.6 1.5 -5.5 0.8 -13.9 -0.1M487.2 1139.9l-2.8 6.5 -6.9 7.3 -2.7 3.6 -2.1 4.4 -1 4.3 -0.6 11.6 -2.4 13.1 -0.4 7.9 1.7 9.9 4.7 10.4 -0.5 3.8 -2.1 2 -2.8 0.7 -15.9 -2.6 -4.8 0 -4.2 0.7 -4.1 1.5 -3.5 2.1 -2.7 2.7 -1.5 2.9 -0.1 4.4 2.3 4.3 3.4 3.2 8.2 5.5 1.7 2.2 0.2 2.2 -0.8 2.1 -1.4 2.2 -2.1 1.5 -3.9 0.7 -20.5 0.8 -15.3 -3 -4.8 -2 -6.3 -5.2 -11 -11.5 -29.6 -33.5M681.7 1135l-0.9 1.8 -1 0.2 -3.1 -6.1 -8.3 -6.5 -7.6 -4.2 -6.2 -1.4 -4.9 -0.3 -4.8 0.2 -6.9 1.3 -13.2 5.4 -11 7.6 -12.5 10.4 -9.6 13.6 -2.1 2.3 -2.1 1.4 -5.5 -5.6 -3.4 -5 -0.4 -2.2 0.9 -7.3 -0.8 -2.1 -1.2 -1.5M629.3 1097.9l3.1 -0.3 3.5 -1.2 -4.1 -0.8 -5 0.8 0.1 0.7 2.4 0.8" stroke="#4848c9"/>
<path d="M353.9 1354.5l2.4 0 18.9 5.1 29.1 9.7 23.5 4.4 13.2 1.2 3.4 1.2M466.6 1352.3l11.7 -4.5 18.7 -5 33.4 -10 5.3 -1 0.3 0.2 -6.7 3.7 -2.6 2.1 -1.4 2.9 -0.2 2.9 1 2.2 2.4 2.2 9.6 4.3M585.3 1352.3l6 -3.6 2.9 -2.9 1.5 -4.3 -0.4 -4.4 -1.7 -2.2 -10.2 -8.3 -11.6 -6.2 -1.2 -0.7 -0.2 -0.7 22 -17.6 3.2 -3.4 13.2 -22.5 7.4 -18.1 6.6 -20M861.3 1352.3l2.7 -3.4M637.3 1348.8l3.7 3.5M864 1281.5l-1.3 -37.9 -0.7 -2.9 -1.2 -2.2 -1.6 -1.4 -2.8 -1 -7.6 -0.2 -23.1 2.6 -13.5 2 -5.6 1.6 -0.6 0.8 1.4 1.4 8.9 3.7 5.9 3.6 3.8 3.5 2.4 3.7 1.8 5.1 0.6 6.5 -0.5 7.3 -1.8 5.8 -2.5 3.7 -3.8 3.5 -5.2 3.1 -6.2 2.5 -6.9 1.8 -7.6 1.2 -18.7 0.9 -28.3 -0.8 -11.1 -1.2 -10.4 -1.8 -9 -2.4 -7.6 -3.1 -5.5 -3.3 -4.4 -4.1 -3 -5.8 -0.7 -6.6 0.8 -6.5 3.1 -5.8 3.6 -3.6 5.6 -3.6 8.1 -3.5 13.3 -3.8 2 -1.4 -1 -0.8 -12.1 -2.1 -25.6 -2.2 -33.2 -1.7 -14.6 0.4 -3.4 0.8 -2.8 1.6 -1.4 1.8 -0.8 2.9 0.4 40.6 -0.9 18.1 -1.4 13.9M446 1241.4l6 0.3 2.8 -0.6 2.8 -1.5 2.3 -3.3 0 -2.1 -1.1 -2.2 -3.3 -2.7 -4.8 -1.5 -5.6 0.2 -4.1 1.8 -2.4 2.9 -0.4 1.5 0.4 2.1 2.5 2.9 4.9 2.2M624.6 1236.3l1.6 -2.7 5.1 -5.2 8.1 -3.7 5.5 -1.8 22.1 -3 60.1 -0.5 40.1 1.3 96.8 0.7M382.4 1214.6l1.9 0.4 1.6 -1.1 -0.3 -0.8 -2 -0.5 -1.3 0.5 -0.3 0.8 0.4 0.7M513.6 1200.8l-10.4 -2.2 -4.5 -2.1 -2.6 -2.2 -1.3 -2.2 -0.3 -2.9 0.8 -2.2 2.2 -2.9 3.6 -2.5 4.9 -1.9 17.2 -4.2 9.7 -1.1 7.6 0.5 6.9 1.8 5.2 3.1 2.7 3.6 0.6 4.4 -1.3 3.6 -2.9 2.9 -5.2 2.9 -6.7 2.1 -7.6 1.3 -10.3 0.5 -8.3 -0.3M495.4 1139.9l0.1 2.9 1.9 5.1 -0.3 1.4 -2.1 2.2 -8.1 5.8 -4.4 5.5 -2.1 5.4 -1.7 10.1 -6.9 10.2 -1.4 4.3 -0.4 5.1 1.5 6.5 1.3 2.3 2 1.8 2.1 0.7 2.1 -0.1 7.6 -3.4 2.1 0.7 3 3.1 6 8.7 2.7 5.8 0.5 5.1 -1.7 5.1 -2.6 3.6 -4.5 4.3 -14.6 12.4 -3.7 2.1 -8.9 2.2 -10.8 1.8 -11.7 1.2 -19.4 0.5 -6.9 -0.6 -13.2 -2.9 -4.1 -2 -5.3 -4.5 -16.8 -17.8 -20 -23.3 -4.9 -5 -2.5 -1.8 -7.2 -15 -6.2 -8.1 -8.3 -7.3 -28.3 -21 -10.3 -9.5 -2.5 -3.6M682.2 1135.5l-1.4 2.1 -1 0.1 -3.8 -6.2 -4.8 -4.3 -7.7 -4.2 -4.8 -1.4 -8.3 -0.9 -9 0.8 -4.8 1.3 -9 3.7 -10.4 6.7 -10.1 8.9 -3 1.3 -2.1 1.6 -20.7 29 -7.6 9.8 -4.8 5.2 -0.7 -0.5 1.2 -12.3 -0.7 -7.3 -2.4 -6.5 -5.4 -8 -0.6 -2.2 1.1 -2.1 8.1 -6.6 1.6 -3.6" stroke="#4848d3"/>
<path d="M353.7 1354.3l3.6 0.2 17.3 4.5 30.4 9.5 21.5 4 13.8 1.6 4.2 1.4M466.2 1352.3l2.6 -1.4 9.9 -3.6 17.6 -4.9 54.6 -17.3 17.3 -8 6.2 -3.5 18.6 -15 6.6 -9.3 9.6 -16.7 6.2 -14.5 6.7 -20.1 0.8 -1.1M858.8 1352.3l3.2 -2.9 2 -6.1M554.1 1350.9l14.8 0.2 6.9 -0.9 5.5 -1.5 4.1 -2 2.4 -2.3 1 -2.9 -0.3 -3.7 -2.9 -3.6 -5 -2.7 -6.9 -1.8 -7.6 -0.6 -9.7 0.9 -9.7 2.4 -6.9 2.7 -4.3 3.5 -0.9 2.1 -0.1 2.2 1 2.2 1.7 1.4 6.8 2.7 10.1 1.7M864 1334.5l-2.7 -89.5 -1.4 -4.3 -2.8 -2.1 -4.9 -0.7 -6.2 0.7 -10.8 2.8 -3.8 2.2 0.1 1.4 3.9 4.4 2.1 4.3 1.3 5.8 0.4 6.6 -0.5 11.6 -1.3 7.9 -2.4 6.3 -3.8 4.6 -3.1 2.2 -4.9 2.4 -13.1 3.8 -14.5 1.9 -18.7 0.6 -28.3 -0.6 -22.8 -2.3 -18.7 -4 -7.6 -2.7 -6.9 -3.2 -7.6 -5.3 -4.7 -5.8 -2.3 -6.6 -0.2 -9.4 1.3 -5.8 3.3 -5.8 5.3 -5.2 9 -5.7 0.5 -0.7 -0.2 -0.7 -6.5 -2.1 -10.8 -1.5 -17.5 -1.4 -11.1 0.1 -4.1 0.7 -2.8 1.2 -2 2.3 -0.4 2.1 0.8 11.6 -0.4 12.4 0.6 14.5 -5.4 57.2 0.8 5.1 1.2 2.9 2 1.9 4 1.7M445 1235.6l1.5 0.5 2.1 -0.3 1.2 -0.9 0 -1.5 -1.9 -1.3 -2.8 0.3 -1.2 1.8 1.1 1.4M624.1 1236.3l2 -2.9 5 -5.2 7.5 -3.5 6.3 -2.2 22.1 -3.1 22.1 -0.6 36.7 0 42.1 1.2 96.1 0.8M474.8 1204.4l2.1 0.5 2.1 -0.9 1.9 -2.5 1.1 -2.9 0.3 -3.6 -0.6 -2.9 -1.3 -2.3 -2.1 -1.3 -2.1 0.1 -2 1.4 -2.2 4.3 -0.4 2.9 0.5 3.3 1.2 2.5 1.5 1.4M502.2 1139.9l0.9 2.9 2.2 2 4.1 2.5 8.1 3.5 1.4 1.4 -2.6 1.5 -15.2 4.4 -4.1 2 -3.5 2.5 -3.2 4.1 -1.2 4.4 1 3.6 2.7 1.8 19.4 -0.8 6.9 -2.2 7.6 -1.6 7.6 -0.8 12.4 -0.5 3.5 -0.9 1.1 -1.5 0.1 -1.5 -2.2 -4.3 -3.2 -3 -8.2 -5 -1.1 -1.4 2.7 -1.5 12.2 -3.4 6.9 -2.6 4.1 -2.7 1.7 -2.9M682.5 1135.9l-1.7 2.1 -1.4 0.1 -3.9 -6.2 -5 -4.4 -8.3 -3.8 -4.2 -1 -8.3 -0.8 -8.3 0.9 -5.5 1.6 -8.3 3.5 -11.1 7.2 -8.9 8.1 -5.1 3.2 -27.1 37.7 -15.5 19.5 -16.5 18.2 -15.2 12.4 -13.1 7.9 -9 4.4 -11.6 5.1 -19.8 6.5 -20.6 3.3 -11.7 1 -14.6 0.3 -8.2 -0.1 -7.6 -1.4 -9.7 -2.3 -4.2 -2.3 -6.6 -5.8 -11.3 -12.1 -24 -27.7 -4.4 -4.3 -3.3 -2.3 -2.1 -2.9 -3.6 -6.6 -2.7 -3.2 -9.7 -6.6 -25.6 -13.6 -14.5 -9 -16.9 -13.2 -6.9 -6.5 -1.9 -2.9" stroke="#4848dd"/>
<path d="M353.5 1354.1l2.5 -0.2 19.3 4.8 29.7 9 20.8 3.7 13.8 1.8 5.3 1.9M465.9 1352.3l2.4 -1.4 9.5 -3.6 19.2 -5.6 53.2 -17.3 18.7 -8.7 6.9 -4.3 16.6 -13.4 8.1 -11.6 8.4 -14.5 6.6 -15.3 6.5 -18.8 1.5 -1.5M854 1352.3l4.5 -1.5 2.6 -2.1 1.3 -3.6 0.4 -5.8 -1.7 -62.4 -1.8 -31.9 -0.8 -2.1 -1.4 -1.5 -4.2 -1.1 -6.3 1.1 -2.6 1.5 -1.2 1.4 1.5 10.9 -0.3 13 -1.8 18.9 -1.4 6.5 -1.8 5.1 -2.7 4.3 -3.4 3.1 -5.5 2.7 -7.6 2.1 -18 2.7 -22.8 0.8 -36 -0.7 -27.6 -2.6 -18 -3.7 -14.5 -4.7 -12.2 -6.2 -14.1 -10.3 -2 -0.8 -1.4 0.2 -2.1 1.9 -2.8 5 -2.7 7.6 -2.1 7.9 -3.5 20.9 -0.7 9.7 0.3 5.8 1.8 4.1 3.5 2 8.3 1.4 10.7 0.4M555.9 1348l12.3 -0.1 8.3 -1.6 2.7 -1.4 2 -2 0.6 -2.2 -0.3 -2.1 -2 -2.2 -3.7 -1.7 -5.6 -1.1 -6.2 -0.3 -7.6 0.6 -6.2 1.2 -5.1 2 -2.3 2.2 -0.7 2.2 0.2 1.4 1.8 2.2 4.7 1.8 7.1 1.1M650.6 1280.6l1.9 0.3 1.4 -1 1.8 -3 1.2 -3.6 0.6 -5.8 -1.1 -8.7 0.6 -2.2 13.1 -10.8 0.3 -1.5 -1.1 -0.7 -6.5 -1.5 -8.2 -0.4 -4.9 0.7 -2.7 1.9 0 1.6 2.7 8.6 -4.4 8.7 -0.8 3.6 0.1 3.6 0.8 3.6 1.3 2.9 1.6 2.1 2.3 1.6M623.5 1236.3l8.1 -8.7 8.2 -3.6 5.1 -1.7 22.8 -3.3 21.4 -0.7 35.3 -0.1 44.2 1.2 95.4 0.7M474.5 1200.8l1 0.6 1.4 -0.2 1.7 -2.6 -0.1 -3.6 -1.6 -2 -2.1 0.4 -1.3 2.2 -0.2 3 1.2 2.2M503.7 1170.4l5.7 0.4 11.3 -1.9 7.6 -2.2 1.2 -0.7 0.4 -1.4 -2.5 -1.6 -4.9 -0.9 -5.5 0.2 -6.2 1.1 -4.8 1.4 -3.3 1.9 -0.9 2.2 1.9 1.5M508.6 1139.9l0.5 1.5 1.4 1.4 5.1 2.5 7.6 1.8 9 0.6 9 -0.6 8.3 -1.8 6 -2.5 1.7 -1.4 0.7 -1.5M682.8 1136.2l-2 2.2 -1.4 0.1 -4.1 -5.9 -4.8 -4.3 -5.6 -2.7 -6.9 -2 -8.3 -0.8 -7.6 0.8 -5.5 1.5 -8.3 3.4 -11.1 7.1 -13.6 11.6 -27.3 37.7 -19.2 23.8 -12.8 13.9 -15.4 12.3 -14.5 8.7 -12.6 5.8 -10.8 4.3 -16.2 5 -20 3.2 -12.4 1 -13.2 0.3 -8.3 -0.1 -4.8 -0.7 -11.8 -2.5 -5.5 -2.4 -6.2 -5.2 -6.9 -7.2 -29.7 -34.1 -4.2 -4.1 -5.1 -3.2 -4.7 -7.2 -1.9 -1.9 -33.5 -9.7 -12.2 -4.6 -10.3 -4.8 -16.6 -10.2 -20.3 -15.2 -12.7 -8.7 -1.1 -1.5" stroke="#484fe2"/>
<path d="M353.3 1353.9l2.7 -0.3 11.7 2.7 37.3 10.5 18.7 3.4 15.9 2.1 3.5 1 2.2 1.3M465.7 1352.3l2.2 -1.4 10.4 -4.1 18.7 -5.6 53.9 -18 17.3 -8 7.6 -4.8 16.1 -13.2 8.8 -12.3 6.1 -10.1 4.8 -10.2 3.8 -8.7 6.8 -18.8 9.1 -9.5 11.7 -5 23.3 -4 24.9 -0.9 35.2 -0.1 42.2 1.2 95.4 0.7M825.1 1352.3l29.2 -1.5 4.9 -1.9 2 -3.8 0.4 -7.3 -2.4 -65.1 -3.7 -26.2 -0.5 -1.5 -1.4 -0.9 -2 0.3 -1.1 1.4 -4.8 42.7 -2.8 13.8 -2 5.1 -2.5 3.9 -3.4 3 -4.2 1.9 -13.8 2.7 -19.4 1.4 -42.1 0.2 -27.7 -0.8 -16.8 -1.4 -15.7 -2.4 -13.8 -3.1 -19.3 -5.8 -4.9 -0.8 -3.4 0.4 -2.8 1.4 -2.1 2.1 -2 3.3 -3.5 9.7 -2.4 14.7 0.6 7.3 1.2 2.2 2 1.4 4.1 1.2 6.9 0.7 65.3 1.7M555.1 1345.1l8.2 0.3 6.2 -0.8 3.6 -1.7 0.9 -1.4 0 -1.5 -2.5 -2.2 -6.8 -1.1 -9 0.5 -3.4 1 -2 1.1 -0.9 1.4 0.4 2.2 2.3 1.5 3 0.7M649.3 1274l1.1 0.1 1.4 -0.7 1.7 -3.7 -0.6 -4.4 -1.1 -1.6 -1.4 -0.8 -2.4 1 -1.5 3.6 0.5 3.9 1.1 1.9 1.2 0.7M515.1 1139.9l1.8 2.2 3.6 1.5 5.5 1.1 6.9 0.4 6.9 -0.4 5.8 -1.2 3.8 -1.4 2.1 -2.2M682.9 1136.6l-2.1 2.1 -1.4 0.1 -4.8 -6.1 -4.8 -4 -6.9 -3 -6.3 -1.5 -7.6 -0.6 -6.9 0.8 -5.5 1.5 -8.3 3.5 -11.1 7.1 -12.1 10.7 -24.1 33.3 -19.8 25 -15.8 17.3 -15.3 12.2 -14.3 8.6 -9.2 4.3 -13.8 5.8 -16.3 5.1 -21.7 3.6 -12.4 0.9 -11.8 0.2 -9.7 -0.1 -5.5 -0.8 -12.4 -2.9 -4.8 -2.3 -6 -5.1 -7.2 -7.5 -26.3 -29.9 -2.7 -3.8 -4.2 -3.9 -4.1 -1.7 -2.1 -1.5 -5.7 -7.5 -1.2 -0.3 -2.4 1 -3.1 0.3 -24.9 -0.4 -29.1 -5.8 -22.8 -10.7 -14.1 -12.4 -14.7 -11.6 -8.4 -4.4 -16 -6.9 -25.6 -2.9 -6.9 -1.3 -2.3 -1.2" stroke="#4855e7"/>
<path d="M353.1 1353.6l2.2 -0.3 11.7 2.5 39.4 10.5 33.2 5.2 3.5 1 2.6 1.7M102.4 1352.3l6.8 -1.4 17.3 -2.4 20.7 -1.3 11.1 0.4 54.6 4.7M465.4 1352.3l2.1 -1.4 10.8 -4.4 18.7 -5.7 53.9 -18.4 17.3 -8.1 7.6 -4.9 15.7 -12.9 9.1 -12.7 6.3 -10.3 7.2 -15.4 8 -21.1 9 -9.4 12.4 -5.5 23.5 -4 24.9 -1 33.9 -0.1 43.5 1.1 94.7 0.7M793.2 1352.3l57 -2.1 5.5 -1 2.9 -1.9 1.3 -2.9 0.5 -5.1 -2.4 -48.6 -1.6 -16 -0.7 -2.7 -1.4 -2.2 -1.4 0.8 -1.3 3.9 -4.1 25.6 -3 11.6 -1.9 4.2 -2.1 2.9 -2.8 2.3 -3.4 1.5 -9 1.6 -16.6 0.8 -91.9 0.1 -23.5 -1.6 -29.1 -5 -6.9 -0.4 -4.8 1.4 -3.5 3.1 -3.4 6.5 -1.9 7.3 -0.2 5.1 1 3.6 2.5 2.2 4.8 1.5 99.8 3.5M558.3 1342.2l5 0.1 1.9 -0.8 0.1 -0.8 -2 -0.9 -4.1 0.1 -1.9 0.8 -0.1 0.8 1.1 0.7M521.8 1139.9l1.9 1.5 2.2 0.7 7 0.7 7.6 -0.7 2.3 -0.7 1.9 -1.5M682.9 1137l-2.1 2 -1.4 0.2 -4.8 -5.9 -4.8 -3.9 -7.6 -3.2 -6.9 -1.4 -7 -0.3 -6.9 0.8 -5.5 1.7 -7.6 3.3 -11.1 7.1 -10.2 9 -22.3 31.2 -12.8 16.7 -10.2 12.3 -15.5 16.7 -15.4 12.1 -19.5 11.1 -15.7 6.8 -15.2 4.9 -9.7 2.3 -15.2 2.2 -23.5 1.2 -10.4 -0.1 -5.5 -0.7 -12.4 -2.9 -5.6 -2.6 -6.3 -5.3 -6.1 -6.4 -27 -30.8 -2.7 -3.8 -4.2 -3.8 -6.6 -2.3 -5.8 -5.8 -4.2 0.3 -32.5 12.5 -29 8.6 -3.4 0.8 -21.5 2.2 -7.6 0.5 -21.4 -2.7 -29.7 -8.7 -2.4 -1.2 -11.9 -9.4 -4.9 -5.1 -7.7 -15.2 -1.2 -4.4 -1.6 -14.8 -4.9 -8.1 -22.4 -8.3 -7.5 -1.4 -22.6 -2.9 -4.9 -1.9" stroke="#485bec"/>
<path d="M352.8 1353.4l2.5 -0.4 11 2.3 40.8 10.3 31.8 4.9 4.2 1.2 3.2 1.9M465.2 1352.3l2 -1.5 11.1 -4.5 18.7 -6 53.9 -18.8 16.6 -7.8 9 -5.7 14.5 -12 9.6 -13.3 5.8 -9.4 7 -14.5 8.7 -22 9 -9.4 12.4 -5.5 23.5 -4.2 24.9 -1.2 33.2 -0.1 44.9 1.1 94 0.7M740.3 1350.9l26.9 0.6 25.6 -0.2 53.9 -2.1 7.7 -1.2 2 -1.1 1.4 -1.8 1 -5.8 -3.1 -30.1 -1.4 -8 -0.7 -0.7 -0.7 0.8 -4.5 14.8 -3.1 6.2 -4.1 4 -5.5 2 -13.9 0.7 -59.4 -0.7 -64.3 1.8 -13.1 -0.4 -24.9 -1.9 -4.8 0.9 -3.5 1.9 -2.9 3.6 -1.6 5.1 0.2 2.9 1.5 2.5 2.8 1.5 4.8 1 83.7 3.7M530.9 1139.9l4.8 0M683.1 1137.2l-2.3 2.1 -1.4 0.2 -1.4 -1 -4.1 -5.2 -4.8 -3.5 -7.6 -3 -8.3 -1.4 -6.2 -0.1 -7 1.2 -7.6 2.7 -6.2 3.1 -9 5.9 -8.6 7.5 -13.3 19.6 -23.1 30.4 -14.4 16.9 -14.4 14.3 -13.3 9.9 -17.4 9.7 -19.9 8.4 -13.1 4 -8.3 2 -17.3 2.4 -13.1 0.9 -15.9 0.1 -9.7 -1 -14.4 -3.8 -4.5 -2.9 -8.1 -7.3 -29.7 -34 -2.5 -3.6 -3.7 -3.5 -2.1 -1 -5.5 -0.7 -4.8 -4.4 -2.1 -0.3 -20.7 17.9 -30.5 22.8 -29.4 25 -16.9 19.9 -6.7 9.1 -9.4 26.8 0.9 6.2 1.9 5.4 1.4 1.5 12.6 6.3 21.2 6 1 0.7 0.1 0.8 -0.8 2.1" stroke="#4961f0"/>
<path d="M352.6 1353.1l2 -0.5 11.7 2.3 41.5 10 31.1 4.7 4.2 1.2 3.4 1.9M465 1352.3l2.2 -1.6 11.1 -4.7 18.7 -6.1 53.9 -19.2 16.6 -7.9 9 -5.7 8.8 -7 5.5 -5 9.8 -13.5 5.6 -9 6.9 -14 9 -22 9 -9.3 12.4 -5.6 23.5 -4.4 24.9 -1.4 32.5 -0.1 45.6 1.1 94 0.7M744.2 1350.2l24.4 0.5 23.5 -0.3 56 -3 4.3 -0.9 2.6 -1.7 1.3 -2.6 0.2 -4.4 -2.2 -7.6 -1.4 -2 -1.3 -0.6 -9 4.2 -6.3 1.1 -53.9 -2.1 -33.1 0.4 -24.9 1.6 -39.4 3.7 -20.1 1.1 -4.6 1 -1.2 0.7 -0.9 1.4 1.9 1.8 5.5 1.2 52.6 5 26 1.5M683.2 1137.3l-2.4 2.2 -1.4 0.2 -1.3 -0.8 -4.9 -5.6 -4.8 -3.2 -7.6 -2.7 -8.3 -1.3 -6.2 0.1 -6.3 1 -8.2 3.1 -6.3 3.2 -7.6 5 -8.6 7.2 -5.2 9.1 -5.1 7.6 -24.3 31.9 -15.3 18.1 -14.6 14.5 -13.7 10.2 -17 9.4 -19.9 8.5 -20 5.9 -20.1 2.8 -12.4 0.9 -13.2 0.1 -11 -0.7 -15.9 -3.9 -4.6 -2.7 -8.6 -7.6 -29.9 -34.5 -2.5 -3.6 -3.5 -3.3 -2.1 -0.9 -6.2 0.5 -1.4 -0.7 -2.7 -3 -1.4 0.1 -25.6 33.6 -13.4 15.7 -9.6 12.4 -14.9 24.6 -7.3 24.7 -0.1 5 1.8 10.8 6.6 7.4 3.3 2.1 11.5 4.4 15.7 4.3 3.4 1.5 0.9 1.4" stroke="#4967f5"/>
<path d="M352.2 1352.8l1.7 -0.6 12.4 2.4 41.5 9.5 31.1 4.5 4.8 1.6 3.3 1.9M464.9 1352.3l3 -2.1 10.4 -4.5 72.6 -25.9 15.9 -7.5 9.7 -6.1 8.5 -6.8 5.3 -4.9 10.3 -14 5.6 -9 6.9 -13.7 9 -21.4 9 -9.3 12.4 -5.7 23.5 -4.6 24.9 -1.5 32.5 0 46.3 1 93.3 0.6M748.9 1349.4l36.3 0.4 33.7 -1.8 28.9 -3.6 3.1 -1.5 1 -1.4 0.1 -1.5 -1.1 -2.2 -2.1 -0.8 -11.1 0.7 -37.3 -3.8 -33.9 -1 -22.1 1 -20.7 2.2 -16.1 3.2 -3.6 1.4 -1.4 1.5 1.2 1.4 1.6 0.8 9.6 2.1 14.2 1.7 19.7 1.2M683.4 1137.5l-2.6 2.3 -1.7 0.1 -1.3 -0.7 -4.6 -5.3 -5.5 -3.4 -7.6 -2.5 -8.3 -1.2 -6.2 0.2 -6.2 1.2 -9 3.5 -6.3 3.4 -6.9 4.7 -7.6 6.4 -3 6.8 -4.5 7.2 -23 30.5 -17.6 21 -15.5 15.4 -13.8 10.2 -17.3 9.4 -20 8.6 -20.1 5.9 -20 2.9 -24.2 1 -12.4 -0.7 -15.9 -3.8 -5.6 -3.1 -8.3 -7.4 -30.1 -34.8 -2.3 -3.5 -3.5 -3.2 -2.1 -0.9 -6.2 2.6 -5.5 0.2 -4.2 7.4 -11.8 25.7 -16.1 29.7 -9 28.3 -2.2 16.7 -0.3 6.5 2.8 8.6 2.1 4 9.6 7 8.3 2.7 4.9 2.2 0.6 0.9 -0.1 2.1" stroke="#496dfa"/>
<path d="M351.8 1352.4l2.1 -0.6 12.4 2.4 42.2 9.2 30.4 4.3 4.8 1.5 3.9 2.3M464.7 1352.3l2.5 -1.9 11.1 -5 73.3 -26.7 15.2 -7.2 9.7 -6.3 8.3 -6.5 5.3 -5.1 10.5 -14.1 4.9 -7.8 6.9 -13.3 9.6 -22.1 9.1 -9.4 12.4 -5.7 9.7 -2.4 13.8 -2.4 24.9 -1.6 31.8 -0.1 47 1 93.3 0.6M756.2 1348.7l26.2 0.2 23.5 -1.3 16.8 -2.5 3.5 -1.5 0.7 -1.4 -2 -1.5 -4.4 -1.4 -12.2 -2.2 -17.6 -1.6 -18.6 -0.6 -18.7 0.6 -16.3 1.6 -11.3 2.2 -4.2 1.4 -1.9 1.5 0.4 1.4 1.2 0.8 8.8 2.1 13.1 1.5 13 0.7M683.5 1137.6l-2.7 2.4 -2 0.1 -6.2 -6 -4.9 -2.9 -8.3 -2.6 -8.3 -1 -5.5 0.1 -6.2 1.3 -9.3 3.7 -6.5 3.6 -6.4 4.3 -7 5.8 -1.9 6.1 -3.2 5.5 -20 26.9 -21.5 26.1 -8.9 9.4 -7.8 7.2 -14 10.2 -17.6 9.4 -20.4 8.7 -20.1 5.8 -20 2.9 -24.9 0.9 -12.4 -0.8 -15.9 -4.1 -4.9 -2.8 -7.6 -6.5 -31 -36 -2.1 -3.3 -4.2 -3.7 -2.1 -0.1 -7.3 8.6 -4 8.7 -16.1 47.1 -3.1 11.6 -1.9 10.9 -0.8 13.7 1.5 11.6 3.6 10.2 8.5 15.2 0.9 2.9 0.2 3.6" stroke="#4973fe"/>
<path d="M349.9 1352.3l1.2 -1.4 1.4 -0.3 3.5 1.4 22.8 4.2 27.6 6 31.8 4.4 5.5 1.6 4.5 2.6M464.5 1352.3l2.7 -2.1 11.1 -5 74 -27.6 14.5 -7 9.7 -6.3 7.6 -5.9 5.5 -5.2 10.4 -13.7 5.5 -8.8 6.9 -13.1 9.4 -21.3 9.3 -9.5 12.4 -5.9 9.7 -2.4 13.8 -2.6 24.9 -1.7 31.1 -0.1 48.4 1 92.6 0.6M752.9 1347.3l19.2 0.6 19.8 -0.6 14.7 -1.9 3.6 -1 1.7 -1.5 -1.1 -1.3 -1.9 -0.9 -9.9 -2.1 -13.1 -1.2 -13.8 -0.4 -13.9 0.4 -12.4 1.3 -9.4 2 -2.4 1.3 -0.5 0.9 1.5 1.5 3.9 1.1 14 1.8M683.7 1137.8l-2.9 2.5 -2 0.1 -2 -1.2 -4.3 -4.4 -4.8 -2.9 -8.3 -2.5 -8.3 -1 -5.5 0.1 -6.1 1.3 -9.1 3.6 -6.5 3.6 -6.4 4.4 -6.5 5.2 -0.7 1.3 -0.5 4.3 -2.2 4.4 -14.2 19.6 -26.4 32.6 -9.4 10.1 -9.5 8.9 -14.9 10.7 -17.6 9.2 -20.7 8.7 -20.1 5.8 -20.7 2.9 -24.2 0.8 -12.4 -0.9 -15.9 -4.1 -5 -2.8 -7.6 -6.5 -31.1 -36.3 -1.9 -3.1 -4.2 -3.7 -2.1 0.2 -0.8 1.5 -3.8 13.1 -3.8 15.2 -7.2 37 -2.3 19.6 -0.2 13.7 1.1 11.6 2.2 10.2 5.2 16.7 0.6 5" stroke="#4a7dff"/>
<path d="M464.4 1352.3l2.8 -2.3 11.8 -5.4 74 -28.1 13.8 -6.8 9.7 -6.3 12.4 -10.5 4.8 -5.7 6.3 -8.7 4.8 -7.7 6.9 -12.6 10 -21.9 9.4 -9.7 12.4 -5.9 10.4 -2.7 13.1 -2.5 24.9 -1.9 30.4 -0.1 49.1 0.9 92.6 0.6M759 1345.8l13.1 0.5 13.6 -0.5 8.9 -1.4 2 -1.5 -2.4 -1.4 -5.5 -1.2 -16.6 -1 -16.6 1.1 -4.9 1.1 -2.4 1.4 2 1.5 8.8 1.4M683.8 1137.9l-3 2.7 -2 0.2 -1.9 -0.9 -5.1 -4.6 -4.9 -2.6 -8.2 -2.4 -9 -0.8 -9 1.1 -10.6 4.2 -6.3 3.7 -5.4 3.6 -6.1 5.1 -1 5 -2.1 4.4 -14.3 19.6 -27.1 33.3 -9.5 10.2 -9.3 8.7 -14.2 10.1 -18.1 9.4 -21.8 9.1 -19.4 5.5 -20.7 3 -24.2 0.7 -13.1 -0.9 -15.9 -4.1 -5.4 -3.1 -7.8 -6.7 -30.7 -36.1 -1.7 -2.9 -4.2 -3.7 -1.7 0.1 -0.4 1.4 0.9 2.2 0.1 2.2 -3.2 23.9 -2.7 43.5 -0.1 31.2 -0.5 6.5 0.2 4.4 2.1 13 2.9 5.8 4.6 7.3 1.8 1.4 52.7 10.2 30.4 4 5.5 1.6 4.2 2.4" stroke="#4a88ff"/>
<path d="M464.2 1352.3l1 -1.2 2 -1.2 11.8 -5.6 74.6 -28.9 13.2 -6.5 9.7 -6.3 6.9 -5.5 5.5 -5.2 11.1 -14.4 11.7 -20.1 9.9 -21.1 9.5 -9.8 12.4 -6 10.4 -2.9 13.1 -2.6 11.8 -1.3 13.1 -0.7 29.7 -0.1 49.8 0.9 92.6 0.6M683.9 1138.1l-2.4 2.3 -2.7 0.7 -2.1 -0.7 -5.5 -4.1 -5.6 -2.5 -7.6 -1.9 -8.3 -0.5 -6.2 0.8 -4.1 1.1 -7.6 3.1 -6.3 3.5 -5.5 3.8 -4.1 3.7 -5 9.2 -4.4 6.5 -26.2 33.4 -16.3 18.8 -14.4 13.8 -14.5 10.1 -17.4 8.9 -22.1 9.2 -20.1 5.7 -20.7 2.9 -24.9 0.7 -13.1 -1 -9.7 -2.3 -6.2 -2.1 -5.1 -3.1 -8 -7 -30.3 -35.8 -1.7 -2.9 -4 -3.5 -1 -0.1 -0.5 0.7 1.2 2.9 0.4 6.5 -0.8 20.3 0.6 49.3 1.5 31.9 2.6 22.5 -0.5 7.3 0.4 0.7 53.5 10.2 30.4 3.8 5.5 1.6 4.1 2.5" stroke="#4b93ff"/>
<path d="M464.1 1352.3l1.8 -1.8 13.1 -6.5 75.3 -29.7 12.5 -6.3 9.7 -6.3 11.9 -10.3 10.9 -13.9 5.5 -8.6 6.9 -12.3 9.7 -20.3 9.7 -10 13.1 -6.3 11.1 -3.1 11.7 -2.3 12.4 -1.5 13.2 -0.7 28.3 -0.1 51.2 0.9 91.9 0.6M684 1138.2l-3.2 2.9 -2.7 0.3 -7.6 -4 -5.6 -2.1 -6.9 -1.4 -7.6 -0.3 -5.5 0.7 -5.5 1.5 -6.3 2.5 -5.7 3.1 -6 4.1 -4 3.8 -11.4 16.7 -29 36.3 -14.2 15.9 -12.6 11.7 -14.5 10 -17.6 8.8 -22.5 9.2 -19.4 5.5 -21.4 3 -24.2 0.6 -13.8 -1.1 -9.7 -2.3 -6.2 -2.1 -5.6 -3.4 -8.2 -7.3 -29.3 -34.8 -2.2 -3.6 -4.5 -3.2 -0.3 0.3 1.1 1.5 1.5 10.8 0.8 16.7 3.6 45 4.9 49.3 0 5.8 -0.7 5 -0.9 2.9 -2.3 3.7 3.4 1.5 47 8.6 31.8 3.9 4.8 1.5 4.2 2.6" stroke="#4b9eff"/>
<path d="M463.9 1352.3l2 -2 13.1 -6.6 76 -30.5 11.4 -5.8 9.4 -6.1 6.9 -5.5 5.4 -5.1 10.5 -13.2 12.4 -20.3 10.4 -21 9.7 -10 6.2 -3.5 6.9 -3 11.1 -3.2 11.7 -2.4 12.4 -1.5 13.2 -0.8 27.6 -0.1 51.9 0.9 91.9 0.5M684.2 1138.4l-2.7 2.6 -3.4 0.8 -9 -3.7 -5.6 -1.6 -6.9 -0.9 -6.9 0.1 -10.3 2.4 -11.1 5.3 -5.5 3.8 -4.5 4.3 -15.8 21 -31.5 38.5 -10.4 11 -10.4 9.1 -13.8 9.3 -16.8 8.3 -23.3 9.5 -19.4 5.6 -21.4 3 -23.5 0.7 -14.5 -1.1 -15.9 -4.3 -5.8 -3.3 -8.4 -7.2 -30.1 -35.7 -1.9 -3.5 -2.2 -1.6 -0.7 0.1 0.5 4.4 2.2 8 15.6 104.4 0.6 12.3 -0.8 5.8 -1.7 5.1 0.4 0.7 6.7 1.9 33.6 6.1 32.1 3.7 4.8 1.4 4.2 2.4" stroke="#4ca9ff"/>
<path d="M463.7 1352.3l1.5 -1.8 13.8 -7.1 76.7 -31.4 11.1 -5.6 9 -6 11.7 -10 11.1 -13.9 11.7 -18.8 11.5 -22.1 9.3 -9.6 6.9 -3.8 6.9 -3 11 -3.2 11.8 -2.5 12.4 -1.5 12.5 -0.8 171.4 1.3M684.3 1138.5l-2.8 2.8 -3.4 0.9 -15.2 -4.2 -7 -0.6 -6.2 0.3 -10.3 2.6 -9.8 4.7 -5.5 3.8 -4.8 4.5 -44.8 55.5 -12.3 13 -11.3 10.1 -12.5 8.3 -15.5 7.7 -25.9 10.7 -19.4 5.5 -21.4 3.1 -23.5 0.7 -15.2 -1.2 -15.9 -4.3 -6.2 -3.6 -8.3 -7.1 -27 -32.7 -3.1 -3 -1.7 -3.5 -2.1 -1.2 -0.4 1.1 0.7 2.9 2.2 3.6 1.2 3.7 24 109.4 1.5 10.9 -0.8 9.4 0.5 0.8 1.7 0.7 5.9 1.4 20.2 3.7 33.2 3.6 4.8 1.5 3.4 2.1" stroke="#4bb3ff"/>
<path d="M459.6 1354.5l0.1 -0.7 1 -0.4M463.5 1352.3l1.7 -1.9 13.8 -7.3 76.7 -31.8 11.1 -5.8 9 -5.9 11.7 -10.2 10.4 -12.9 12.4 -19.5 11.4 -21.4 9.4 -9.7 7.6 -4.3 6.9 -2.9 11 -3.3 11.1 -2.4 12.4 -1.6 12.5 -0.8 171.4 1.3M684.4 1138.6l-2.9 3.1 -3.4 1 -15.9 -3.3 -6.3 -0.3 -6.2 0.6 -9.7 2.5 -9.6 4.7 -6.3 4.4 -5.5 5.5 -35.9 44 -11.9 13.8 -10 10.1 -9.2 7.9 -12.2 8.1 -14.8 7.2 -26.9 11 -19.4 5.6 -9 1.6 -13.1 1.5 -23.5 0.7 -15.2 -1.3 -15.9 -4.3 -6.2 -3.6 -8.3 -7 -27 -32.7 -3.3 -2.6 -1.5 -3.9 -1.4 -1 -0.7 0.5 1.4 3.7 2.1 1.4 3.4 10.3 17.3 57.5 10.4 38 7.9 16.7 4.7 5.1 -4.4 8 -0.1 1.4 6.9 2.2 7.8 1.4 33.8 3.5 4.2 1.2 3.7 2.3" stroke="#49bcff"/>
<path d="M459.4 1354.8l0.2 -1.3 1.3 -0.4M463.3 1352.3l0.9 -1.4 1.7 -1.1 16.6 -8.5 73.9 -31.2 9.7 -5 9 -5.9 11.6 -9.9 10.5 -12.8 13.1 -20.2 11.2 -20.7 9.6 -9.9 7.6 -4.3 6.9 -3 11 -3.4 11.1 -2.4 12.4 -1.7 12.5 -0.8 171.4 1.1M354.9 1215.3l0.8 0 -0.3 -1.4 -1.5 -1.4 1 2.8M684.5 1138.7l-3 3.3 -3.4 1.2 -16.6 -2.4 -6.2 0.1 -6.3 0.7 -9 2.7 -8.9 4.4 -5.6 3.9 -5.5 5.2 -45.7 54.6 -11 11.4 -10.2 8.9 -11.2 7.6 -13.1 6.6 -29.8 12.1 -17.2 5.2 -9.7 2 -12.5 1.6 -23.5 0.9 -17.2 -1.1 -15.9 -4.1 -6.5 -3.2 -8.9 -7.3 -27.5 -33.2 -1.4 -1.2 -0.5 0.3 9.5 27.6 8.6 28.3 14.2 42.4 3.5 7.7 5.2 8.6 13 13.8 0.8 2.1 0 2.2 -2.1 4.4 1 0.7 12.5 2 21.4 1.9 4.1 1.2 3.1 1.8" stroke="#48c6ff"/>
<path d="M459.1 1355l0 -1.2 0.5 -0.7 1.6 -0.2M463.1 1352.3l2.1 -2.3 12.4 -6.8 42.9 -18.8 33.1 -13.8 11.8 -5.9 9.7 -6.3 11 -9.4 9.7 -11.6 13.8 -20.6 11.3 -20.5 5.3 -6.2 3.5 -3.4 3.4 -2.5 7.6 -4.1 6.3 -2.5 10.3 -3.2 11.1 -2.4 11.7 -1.7 12.5 -0.8 171.4 1.1M684.7 1138.9l-3.2 3.5 -2.7 1.2 -3.5 0.1 -13.1 -1.4 -9.7 0.6 -10.4 2.6 -10.3 5 -6.3 4.4 -6.2 6 -44.8 53 -10.5 10.8 -10.2 8.7 -11.2 7.5 -12.7 6.3 -30.9 12.4 -16.5 5 -9.7 2 -12.5 1.6 -24.2 0.9 -17.2 -1.1 -15.9 -4.1 -6.9 -3.6 -9 -7.3 -27.7 -33.1 0 1.3 10.1 26 8.2 26.8 7.3 20.4 7.6 18.4 6.9 12.5 5.1 6.7 10.1 10.9 6.9 10.2 3.5 3.4 2.7 0.9 5.4 0.7 14.7 1.4 3.4 1.1 2.9 1.8" stroke="#49cffe"/>
<path d="M459 1355.5l-0.4 -1 0.6 -1.4 2.2 -0.5M462.7 1352.3l2.5 -2.6 13.1 -7.2 42.2 -18.8 33.8 -14.1 11.1 -5.7 9.7 -6.4 10.5 -9 10.2 -12 13.8 -20.4 11.2 -19.8 5.4 -6.3 3.9 -3.8 3.7 -2.6 6.9 -3.7 6.9 -2.8 10.4 -3.2 11.1 -2.5 12.4 -1.8 11.8 -0.8 170.7 1.2M361.4 1223.3l0.1 0.5 0.2 -0.5 -0.3 0M684.8 1139l-2.6 3.3 -3.4 1.8 -4.2 0.3 -13.8 -0.7 -9 1 -10.4 3 -9.6 4.9 -6.3 4.6 -6.2 5.9 -43.9 51.5 -10.6 10.9 -9.8 8.3 -10.3 7 -11.8 5.9 -32.5 13 -14.5 4.5 -10.4 2.4 -11 1.6 -11.1 1 -13.8 0.3 -19.4 -0.9 -15.2 -3.7 -7.6 -3.4 -10 -7.8 -23.1 -28 -2.1 -2 -0.6 0.3 9.8 23.9 7.4 24.7 5.5 14.6 8.3 18.3 8.3 14.1 9 11 14.5 15 5.5 4.8 9.5 6.3 11.9 1.9 4 1.9" stroke="#4cd6fa"/>
<path d="M458.1 1356.9l-0.1 -2.4 0.8 -1.4 1.5 -0.9 1.4 0.2M462.1 1352.3l2.4 -2.5 13.1 -7.3 42.9 -19.4 33.8 -14.3 11.1 -5.7 9 -5.9 10.4 -8.7 10.3 -12.1 14.5 -21 11 -19.1 6.3 -7.2 3.5 -3.3 5.5 -3.6 6.2 -3.2 6.9 -2.8 10.4 -3.1 11.1 -2.5 11.7 -1.6 11.1 -0.7 170.7 1M684.9 1139.1l-2.7 3.6 -3.4 1.9 -4.2 0.6 -13.8 0 -9 1.1 -9.8 3 -9.6 5 -6.9 5.1 -6.9 6.6 -12.4 13.9 -30.4 36.1 -10.1 10.2 -9.4 8 -10.3 6.9 -10.6 5.4 -34.3 13.5 -12.4 4 -17.3 3.8 -22.1 2 -13.8 0.1 -11.8 -0.6 -6.9 -1 -9.7 -2.5 -9 -3.5 -10.4 -7.8 -23.5 -27.6 9.7 23.2 6 21 4.1 10.9 7.9 16.3 9 14.6 5.5 7.2 5.6 6 17.9 16.4 18.2 12.7 9.1 2.6" stroke="#50dcf7"/>
<path d="M685 1139.2l-2.8 4 -3.4 2 -4.2 0.7 -14.5 0.7 -8.3 1.4 -9.7 3.1 -9.7 5.2 -6.9 5.2 -7.6 7.3 -11.7 13 -29.6 35 -9.3 9.4 -9.5 8.1 -9.7 6.7 -10.6 5.5 -44.7 16.9 -18 4.4 -20.7 2.3 -22.8 0.1 -10.4 -0.8 -6.9 -1.4 -13.1 -4 -7.6 -4.7 -6.9 -5.7 -15.2 -18.1 -2.1 -2.2 -0.6 0.1 7.3 17.4 5.4 19.6 5.2 12.6 5.5 10.4 6.2 9.9 6.2 8.3 6.3 7 7.6 7.2 9 7.5 29 21.2 3.4 -2.6 2.1 -0.2 3.5 -2.6 17.3 -9.3 38.7 -17.7 33.1 -14.1 10.4 -5.3 9 -5.9 10.9 -9 9.8 -11.4 15.2 -21.6 10.9 -18.5 6.4 -7.4 4.2 -3.8 4.8 -3.1 6.9 -3.6 6.9 -2.7 10.4 -3.2 10.4 -2.4 11.7 -1.7 11.1 -0.7 170.7 1" stroke="#53e3f3"/>
<path d="M685.1 1139.4l-2.9 4.4 -3.4 2 -4.9 1 -14.5 1.3 -7.6 1.5 -9.7 3.3 -9 4.9 -7.6 5.7 -8.3 8 -11 12.2 -28.7 33.8 -9.3 9.4 -9.4 8 -9.5 6.5 -9.7 5.1 -43.3 16.4 -19.4 5 -18.6 2.3 -22.8 0.5 -17.3 -1.4 -14.5 -3.9 -7.6 -3.8 -9.7 -7.5 -13.2 -14.6 5.1 13.5 3.8 15.2 3.6 9.6 4.8 9.1 6.9 10.6 6.9 8.8 7 7.4 14.5 12.3 26.2 17.7 4.4 3.6 2.6 3.2 0.6 -0.1 3.5 -0.9 20 -10.5 31.1 -14.4 40.8 -17.7 9.7 -5 7.6 -4.9 11.1 -8.9 9.6 -10.9 15.3 -20.9 12.1 -20 6.5 -7.6 4.2 -3.7 5.5 -3.6 6.9 -3.6 7.6 -3 10.4 -3.2 10.3 -2.3 11.1 -1.6 10.4 -0.6 170.7 1" stroke="#56eaf0"/>
<path d="M685.2 1139.5l-2.3 4.1 -4.1 2.9 -4.9 1.2 -15.9 2.1 -8.3 2 -10.3 4.3 -9.7 6 -7.6 6.5 -9 9.2 -30.4 35.7 -12 12.7 -14.3 11.8 -7.5 4.9 -7.1 3.6 -42.8 16.1 -15.2 4.3 -9.6 2 -12.5 1.5 -23.5 0.8 -19.3 -1.4 -9 -2.2 -9 -3 -4.8 -2.6 -9 -6.8 -9.3 -9.4 2.7 8.7 2.8 13 3 8 4.9 9 7.6 10.7 8.3 9.4 9 8.3 10.4 7.9 12.4 8.1 24.9 14.4 3.6 1.8 1.9 0 51.2 -24 34.5 -15 9.7 -5 8.3 -5.4 10.4 -8.5 9.6 -10.9 15.9 -21.7 11.4 -18.3 6.8 -7.9 4 -3.6 6.2 -4 6.9 -3.6 8.3 -3.2 10.4 -3.2 10.3 -2.2 10.4 -1.5 10.4 -0.7 170 1" stroke="#5af1ed"/>
<path d="M685.4 1139.6l-2.5 4.6 -4.1 3 -4.9 1.4 -16.6 2.7 -8.3 2.4 -10.3 4.5 -9 5.9 -7.6 6.4 -9 9.2 -29.7 34.8 -11.8 12.4 -7.4 6.5 -7.1 5.4 -7.5 4.8 -7.2 3.6 -42 15.5 -9 2.8 -17.2 3.9 -21.5 2.1 -25.5 -0.4 -8.3 -0.9 -7.6 -1.8 -8.3 -2.6 -4.9 -2.2 -15.9 -11.8 1.6 12.1 3.1 9.4 5 9 8.3 10.7 9 9.2 10.4 8.5 13.1 8.7 15.2 8.4 20.7 10 6.2 2.4 2.1 0 16.5 -6.7 27.1 -13.1 33.8 -14.7 10.4 -5.4 8.3 -5.4 10.4 -8.5 9.6 -11 15.9 -21.4 11.8 -18.4 6.2 -7.2 4.2 -3.8 6.9 -4.5 6.9 -3.5 8.3 -3.3 9.7 -2.9 10.3 -2.4 10.4 -1.5 10.4 -0.7 170 1" stroke="#60f6e5"/>
<path d="M685.5 1139.7l-2.6 5.3 -4.1 2.9 -5.6 1.8 -15.9 3.1 -8.3 2.5 -10.3 4.7 -9 5.9 -7.6 6.5 -9 9.1 -28.8 33.8 -11.8 12.3 -7.4 6.6 -7.3 5.5 -6.9 4.4 -6.9 3.5 -51.9 18.3 -17.3 3.9 -20.7 2.1 -20.7 0 -11.1 -0.9 -6.2 -1 -9.7 -2.7 -6.9 -2.6 -11.7 -8 -2.8 -1.2 -0.6 1.9 0.5 5 2.8 9.5 4.9 8.4 8.3 10 10.4 9.6 11 8.1 13.2 7.7 16.5 7.9 29.1 11.5 4.1 0.6 8.3 -2.9 27 -13.1 34.5 -15.1 9.7 -5 9 -6.1 9.5 -7.9 9.8 -11.1 16.6 -22 11 -16.9 6.9 -8 4.9 -4.2 7 -4.3 6.9 -3.4 8.3 -3.2 10.3 -3.1 9.7 -2.1 9.7 -1.5 9.7 -0.6 170 1" stroke="#6cf7d5"/>
<path d="M685.6 1139.8l-2.1 5.2 -2 2 -2.7 1.7 -5.6 1.9 -16.6 3.8 -8.3 2.7 -9.6 4.6 -9 6 -7.6 6.6 -9 9 -27.9 32.7 -11.7 12.4 -14.2 11.6 -7 4.5 -6.9 3.5 -53.3 18.5 -17.3 3.9 -20 2 -20.7 0 -16.6 -1.8 -17.3 -5.3 -11.1 -7.2 -2.7 -1 -0.5 1.7 0.4 4.4 2.5 7.9 5.2 8.4 9 9.6 10.3 8.6 11.8 7.6 12.4 6.4 14.5 6.1 39.9 13.5 1.6 0 62.9 -28.1 9 -4.8 9 -6.2 9 -7.6 9.6 -10.9 16.6 -21.7 10.9 -16.4 6.8 -8 5.1 -4.3 7 -4.4 8.2 -4.1 8.3 -3.2 9.7 -2.9 9.7 -2.1 9 -1.4 9.7 -0.6 170 0.9" stroke="#77f9c6"/>
<path d="M685.7 1139.9l-0.9 3.6 -1.2 2.2 -2.1 2.1 -2.7 1.8 -4.9 1.8 -16.6 4.2 -9 3.1 -9.6 4.8 -9 6 -7.6 6.6 -9 9 -26.9 31.7 -11.8 12.3 -14.2 11.6 -7.2 4.6 -6.7 3.4 -9.7 3.6 -18.9 5.7 -20.7 7.7 -13.2 3.4 -10.3 2 -21.5 1.8 -17.9 -0.1 -13.9 -1.3 -8.9 -2.1 -10.4 -3.5 -3.5 -1.6 -8.3 -5.6 -1.3 -0.3 -0.6 1.1 0.3 2.9 2 7.3 5.2 8.1 9.6 9.6 12.5 9 13.8 7.5 14.5 6 16.6 5.3 18 4.3 25.6 4.9 10.3 -4 40.1 -17.6 9 -4.8 10.4 -7.1 8.3 -7.1 10.3 -11.9 15.9 -20.5 10.8 -15.8 6.7 -8 5.3 -4.5 7.6 -4.9 8.3 -4.1 9 -3.4 9.7 -2.8 9.7 -2.1 8.3 -1.2 9 -0.6 170 0.9" stroke="#82fbb7"/>
<path d="M685.9 1139.9l-1.6 5.8 -2.1 2.4 -2.8 2 -5.5 2.4 -16.6 4.5 -9.7 3.6 -9.6 5 -9 6.2 -7.6 6.7 -8.3 8.4 -26 30.6 -11.7 12.3 -6.6 5.8 -7.6 5.7 -7.6 4.9 -6.2 3.1 -10.3 3.7 -18.7 5.4 -21.4 7.9 -13.2 3.3 -10.3 2 -20.8 1.8 -18.6 -0.2 -13.9 -1.3 -8.9 -2.2 -10.4 -3.4 -11.8 -6.7 -0.6 0.7 0.2 2.1 1.8 6.6 2.1 3.8 3.5 4.3 11 9.6 13.8 8.4 15.9 7.1 15.9 5.1 16.6 3.8 13.8 2.1 35.3 3.9 4.3 -1 11.1 -4.4 22.6 -10 8.4 -4.5 11.7 -8.1 7.6 -6.9 12.4 -14.4 13.8 -17.8 9.9 -14.4 7.4 -8.6 6.2 -5.1 7.6 -4.7 8.3 -4 9 -3.4 18.7 -4.7 8.3 -1.2 8.3 -0.5 170 0.9" stroke="#8efda8"/>
<path d="M686.1 1139.9l-0.6 4.4 -1 2.1 -2.3 2.7 -2.8 1.9 -5.5 2.5 -17.3 5.2 -9 3.4 -9.6 5.1 -9 6.4 -7.6 6.6 -8.1 8.3 -25.2 29.7 -11.7 12.3 -13.8 11.2 -7.6 4.9 -6.2 3.2 -10.4 3.7 -20 5.5 -21.4 7.9 -15.9 3.9 -8.3 1.4 -20.1 1.7 -18.6 -0.3 -13.9 -1.3 -8.9 -2.2 -9.7 -3.2 -11.1 -6 -0.7 0.6 0 0.9 1.6 5.8 2.6 4.4 3.4 3.8 11.8 8.9 14.5 7.7 17.3 6.3 14.5 3.7 15.2 2.6 13.8 1.2 27.9 1.3 17.1 2.6 2.7 -0.1 13.3 -4.7 16.4 -7.8 15.9 -10.9 6.3 -5.9 13.1 -15.2 13.1 -16.6 9.8 -13.9 7.4 -8.7 6.3 -5.2 8.3 -5.2 8.3 -4 9.7 -3.6 18.7 -4.6 15.2 -1.5 170 0.8" stroke="#99ff99"/>
<path d="M686.2 1139.9l-0.2 4.4 -0.8 2.1 -2.2 2.9 -2.9 2.3 -6.2 3 -17.3 5.5 -9.6 3.9 -9.7 5.3 -9 6.5 -6.9 6.1 -7.8 8 -24.5 29 -12 12.6 -6.3 5.6 -7.5 5.6 -7.6 4.8 -6.2 3.2 -10.4 3.5 -20.7 5.4 -20.7 7.8 -16.6 4 -8.3 1.4 -20.1 1.6 -18.6 -0.4 -13.9 -1.3 -8.2 -2 -10.4 -3.5 -9.7 -4.9 -0.7 0.1 -0.1 0.8 1.1 4.3 2.5 4.1 3.4 3.4 6.2 4.7 7 4.2 14.5 6.5 17.9 5.4 12.5 2.5 13.1 1.7 13.8 0.7 33.2 0.1 11.1 1.1 14.5 2.7 3.4 -0.1 9.4 -3.6 8.6 -4.3 11.8 -8.1 5.5 -4.5 18.7 -21.1 11 -13.8 11.1 -15.2 4.8 -5.9 4.2 -3.8 6.2 -4.6 9 -5.2 6.9 -3.2 9.7 -3.4 17.9 -4.4 14.6 -1.2 169.3 0.8" stroke="#a6ff8a"/>
<path d="M686.4 1139.9l0.2 4.4 -0.9 2.8 -2.1 2.8 -3.5 2.8 -6.2 3 -17.6 6 -9.3 3.9 -9.7 5.3 -9 6.6 -6.9 6.1 -7.6 7.8 -23.5 28 -11.9 12.6 -13 10.6 -8.3 5.4 -6.2 3.3 -10.4 3.5 -22.1 5.4 -20.7 7.8 -24.2 5.2 -20.1 1.7 -20 -0.5 -16.6 -2 -15.9 -5.1 -7.6 -3.7 -0.7 0.1 -0.2 0.9 0.9 2.9 2.1 3.2 3.4 3.1 6.2 4.1 7 3.8 14.5 5.6 17.2 4.4 14.6 2.2 14.5 1 12.4 -0.2 25.6 -1.6 11.7 0.2 13.9 2 15.2 4.3 2 0.1 9.6 -3.9 11.9 -8.1 6.2 -5.2 19.3 -22 24.2 -31.1 5.6 -5.4 6.2 -4.7 9.7 -5.6 7.6 -3.4 9.6 -3.4 17.3 -4.2 13.9 -1.1 169.3 0.8" stroke="#b3ff7b"/>
<path d="M686.6 1139.9l0.5 4.4 -0.7 2.9 -2.1 3.2 -3.5 2.9 -6.9 3.6 -17.7 6.2 -9.2 4 -9.7 5.4 -9 6.6 -14.2 13.7 -23 27.6 -11.9 12.6 -12.4 10.1 -8.6 5.6 -6.6 3.5 -10.4 3.3 -22.8 5.3 -20.7 7.8 -24.2 5.2 -20.1 1.6 -20 -0.5 -15.9 -1.9 -14.5 -4.5 -9 -3.6 0.3 2.6 1.8 2.5 4.1 3.1 13.1 6.8 13.9 4.5 15.2 3.1 15.9 1.9 15.9 0.3 13.1 -1 24.9 -3.4 11.7 -0.2 8.3 1 9.7 2.1 19.3 6.7 3.5 -1.3 6.9 -4.3 6.2 -4.4 4.2 -3.9 26.9 -31.1 15.9 -20.7 5.6 -5.4 6.9 -5.2 9.7 -5.6 7.6 -3.4 10.3 -3.7 16.6 -3.9 12.5 -1 170 0.7" stroke="#c1ff6c"/>
<path d="M686.9 1139.9l0.9 4.4 -0.3 2.1 -1.8 3.6 -2.8 2.9 -8.3 4.9 -18.7 6.8 -8.9 4 -8.3 4.6 -7.6 5.3 -7.6 6.5 -8.3 8.4 -23.1 27.7 -12.9 13.6 -12.1 9.6 -14.8 8.9 -11.1 3.3 -20.9 4.5 -22.6 8.4 -24.2 5 -20.1 1.6 -20.7 -0.6 -14.5 -1.7 -12.5 -3.8 -9.6 -3.7 -0.7 0 0 1.3 1.3 1.8 3.5 2.2 14.5 6.5 12.5 3.3 13.8 2.2 16.6 1.5 18.6 -0.4 14.5 -2.4 23.5 -5.7 9 -0.7 7.6 1 9.7 2.3 12.5 3.8 14.5 5.4 2 0.3 7 -3.7 5.5 -4.9 26.9 -30.5 16.6 -21.3 4.9 -4.6 6.9 -5.2 10.3 -6.1 8.3 -3.7 10.4 -3.6 15.9 -3.7 11.8 -0.9 170 0.7" stroke="#cdff5b"/>
<path d="M449.8 1280.6l17.4 -0.2 9 -0.7 6.3 -1.2 17.9 -5.6 8.3 -3.9 5.8 -3.7 -4.4 0.8 -11.7 4.2 -19.4 4.1 -25.6 2.3 -5.5 -0.5 -15.2 -0.1 -13.8 -1.5 -20.1 -6.4 -1.4 0 10.4 5.1 10.4 3.5 13.8 2.3 17.8 1.5M687.1 1139.9l1.4 4.4 -0.1 2.1 -1.7 3.7 -3.1 3.5 -3.5 2.5 -4.8 2.5 -19.4 7.4 -9.6 4.4 -8.3 4.8 -7.6 5.4 -7.6 6.7 -8.2 8.4 -19.5 23.7 -8.6 9.7 -7.3 7.3 -6.2 5.2 -11.8 7.9 -8.9 5.1 -24.9 6 -4.2 1.1 -1.6 0.7 -0.4 0.8 5 2.1 48.9 16.3 2.7 0.2 3.5 -2.4 13.1 -13.9 20.1 -23.1 11 -14.4 8.3 -7.4 11.1 -7.2 9 -4.4 13.1 -4.7 14.5 -3.5 6.9 -0.9 12.5 -0.2 163.1 0.7" stroke="#daff49"/>
<path d="M687.5 1139.9l1.8 3.6 0.1 2.9 -2 4.4 -3.8 4.1 -8.3 5 -27 11 -7.6 4.1 -6.9 4.6 -8.3 6.7 -8 8 -24.5 29.5 -15 15.4 -9.8 7.3 -13.9 8.5 -10.3 3.1 -4 1.4 -0.4 0.8 30.6 10.9 11.1 2.9 2.1 0.2 1.4 -0.4 9.6 -9.2 13.9 -15.3 17.4 -21.8 8.8 -7.8 11.1 -7.1 9 -4.4 13.1 -4.8 14.5 -3.5 6.2 -0.7 12.5 -0.2 163.1 0.7" stroke="#e3fa3e"/>
<path d="M688.1 1139.9l2.2 2.9 0.2 3.6 -1.9 4.4 -3.7 4.3 -4.1 3.1 -4.8 2.6 -20.2 8.1 -9.5 4.5 -8.3 4.8 -6.9 5 -7 6 -7.7 8 -20.7 25.4 -13.7 14.8 -7.6 6.3 -16.4 10.8 -2.7 2.9 5.9 2.6 15.3 4.7 8.9 1.8 4.9 -0.1 3.4 -2.2 4.9 -4.8 16.6 -18.4 10.3 -13.4 9.7 -8.5 11.8 -7.6 8.3 -4 11.7 -4.3 15.2 -3.8 5.5 -0.7 11.8 -0.2 164.5 0.7" stroke="#e9f135"/>
<path d="M691.2 1139.9l1.2 2.2 -0.9 5.1 -2.4 4.8 -3.4 3.9 -4.2 3.2 -5.5 3 -20.1 8.2 -9.6 4.5 -8.3 4.9 -6.9 5 -7 6.1 -7.6 7.9 -19.3 24.1 -12.4 13.6 -6.1 5.7 -13.3 9.5 -0.7 1.6 16.6 5.2 11.7 2.5 2.1 -0.1 2.8 -1.8 10.4 -10.6 7.6 -8.5 9.6 -12.5 9.7 -8.6 11.8 -7.7 8.3 -4 11.7 -4.4 15.9 -4.1 16.6 -0.7 164.5 0.6" stroke="#f0e72d"/>
<path d="M754.7 1139.9l-51.1 1 -4.8 0.6 -2.8 0.9 -1.9 1.9 -2.5 5.8 -2.3 3.6 -6.4 5.8 -7.6 4.2 -19.4 8 -9.6 4.6 -9 5.3 -8.3 6.3 -13.5 13.6 -15.5 19.9 -6.7 7.7 -11.3 12 -7.3 6.1 -0.8 1.5 21.9 6.8 3.5 0.3 2 -1.3 6.3 -5.9 6.9 -7.4 11.3 -14.3 7.3 -6.7 4.9 -3.6 10.3 -6.7 9 -4.1 10.4 -3.9 15.9 -4.1 15.2 -0.5 165.2 0.6" stroke="#f7dd24"/>
<path d="M844.3 1139.9l-137.9 1.9 -4.8 0.2 -3.2 0.8 -2.8 2.2 -3.4 6.5 -2.6 3.6 -6 5.4 -8.3 4.5 -19.4 8 -9.6 4.7 -9.7 5.8 -7.6 5.9 -13.3 13.6 -16.2 21 -16.2 18.1 -0.7 2.2 16.7 6.4 2.7 0.6 1.4 -0.4 4.2 -2.9 7.6 -7.9 10.4 -13.2 8.2 -7.5 6.9 -5 8.3 -5.3 9 -4.1 9.7 -3.6 15.9 -4.3 14.5 -0.4 165.9 0.6" stroke="#fed31b"/>
<path d="M864 1141.2l-156.2 1.3 -7.6 0.7 -3.5 2.5 -3.5 6.5 -2.7 3.9 -6.5 5.6 -8 4.3 -19.4 8.1 -9.6 4.6 -9 5.3 -7.6 5.7 -7.2 6.8 -7.2 7.9 -14.7 19.4 -10.4 11.8 -2 3.6 15.7 8.7 1.6 0.1 9 -8.2 10.3 -13.1 9 -8.2 9 -6.3 6.2 -3.9 13.8 -6 20.1 -6 180.4 0.3" stroke="#ffc416"/>
<path d="M864 1142.1l-155.5 1 -7.6 0.6 -2.8 2 -3.7 7.3 -2.6 3.6 -6.8 5.9 -8.3 4.6 -19.4 8.1 -10.3 4.9 -9 5.3 -6.9 5.2 -7 6.6 -7.3 8 -14.1 19 -6 7.1 -1.7 2.9 0.8 1.3 10.3 8.8 2.2 0.8 6.9 -5.7 9.9 -12.5 6.7 -6.2 14.5 -10.7 8.3 -4.4 10.3 -4.4 18.7 -5.6 180.4 0.4" stroke="#ffb412"/>
<path d="M864 1142.8l-155.5 1 -7.6 0.7 -2.2 1.9 -2.3 5.8 -2.8 4.4 -3.1 3.3 -4.1 3.3 -9 4.9 -29.8 13 -8.9 5.2 -6.9 5.1 -7.7 7.3 -7.1 7.9 -14.5 20.3 -1.5 2.9 1.7 3.6 4.1 5.8 2.7 2.9 1.5 0.1 4.2 -3.2 9.7 -12.1 7.5 -7.2 14.6 -10.6 8.3 -4.3 9.6 -4.2 18.7 -5.8 180.4 0.6" stroke="#ffa30e"/>
<path d="M864 1143.5l-154.8 0.9 -7.6 0.5 -2 1.5 -1.6 5.8 -2.5 4.4 -3.2 3.6 -4.6 3.6 -9.6 5.4 -30.5 13.3 -8.9 5.1 -6.1 4.5 -8.5 8.1 -6.9 7.9 -9.1 13 -1.5 2.9 -0.4 2.2 1.3 5.1 2.1 5 2.1 3.3 1.4 0.3 2.1 -1.4 2.7 -3.1 6.9 -8.8 7.6 -7.2 15.9 -11.7 16.6 -7.6 18.7 -6.1 51.8 0.6 128.6 0.1" stroke="#ff9109"/>
<path d="M864 1144.3l-154.1 0.8 -8.3 0.5 -1.1 0.8 -0.5 5.1 -2 4.4 -3.6 4.3 -4.6 3.9 -9.7 5.5 -22.8 9.6 -12.4 6.1 -8.3 5 -7.2 6.2 -10.3 10.8 -7.3 10.9 -0.8 2.9 1.2 10.9 1.2 5.1 1.1 0.9 4.1 -3.8 6.2 -8 8.3 -7.9 14.5 -10.7 16.6 -7.9 13.9 -4.3 5.5 -2.4 50.4 1 130 0.1" stroke="#ff7f05"/>
<path d="M864 1145l-147.9 0.8 -13.8 0.5 -0.9 0.9 0.5 4.3 -1.8 4.4 -3.4 4.3 -5 4.4 -10.2 5.8 -24.9 10.5 -14.5 7.2 -7.1 4.7 -9.1 8.7 -6 6.6 -3.8 6.5 1.1 8.7 -1.5 11.6 0.8 0.5 1.4 -1.1 6.3 -8.1 8.9 -8.5 14.5 -10.8 16.6 -7.9 13.9 -4.4 4.8 -2.5 51.1 1.2 130 0.1" stroke="#fd6d03"/>
<path d="M864 1145.8l-142.4 0.9 -15.2 0.7 -1.1 0.5 -1.5 5.1 -2.3 4.3 -3 3.6 -4.1 3.7 -11.2 6.5 -26.6 11.1 -17.2 8.7 -4.9 3.7 -8.5 8.4 -3.8 4.3 -1 2.9 7.8 8.8 19.3 -13.7 15.2 -7.1 13.9 -4.5 4.1 -2.3 2.8 -0.6 49.1 1.7 130.6 0.1" stroke="#f85902"/>
<path d="M864 1146.8l-137.6 1.4 -13.8 0.9 -4.1 2 -7.3 9.8 -7.1 5.8 -10.5 5.7 -24.9 10.2 -18.7 9.1 -3.6 2.6 -5.3 5.1 -3.8 4.3 -0.5 1.5 0.8 0.9 3.5 1 3.4 0 3.5 -0.7 24.2 -9.6 13.1 -4.1 5.5 -2.4 3.5 -0.7 49.7 1.8 130 0.1" stroke="#f44500"/>
<path d="M864 1148.5l-136.9 1.7 -12.4 0.9 -2.8 1 -2 1.5 -7.1 8.8 -6.8 5.2 -11 5.7 -24.2 9.7 -19.4 9.1 -5.1 3.6 -3.2 3.7 -0.6 1.4 3.4 0.6 6.2 -0.9 38 -11.5 5.6 -0.9 11.7 0.1 13.1 1.3 22.9 0.5 130.6 0.2" stroke="#ef3300"/>
<path d="M864 1150.5l-136.2 1.8 -12.4 0.8 -3.5 1.5 -6.5 8.5 -7.3 5.4 -13 6.2 -21.6 8.4 -13.4 6.1 -10.1 5.1 -1.6 2.2 2.3 0.2 6.9 -1.1 33.2 -8.3 8.3 -0.8 9.7 0.1 10.4 1.5 18.6 0.4 136.2 0.4" stroke="#ea2000"/>
<path d="M864 1152.6l-136.2 1.7 -12.4 0.6 -2.8 1.5 -1.8 4.5 -2.3 2.9 -7 5.1 -16.2 7.3 -22.8 8.7 -9.2 4.3 -3.3 2.2 1.1 0.4 3.5 -0.4 28.3 -5.9 11.1 -0.9 6.2 0.3 6.9 1.8 4.8 0.2 152.1 0.7" stroke="#e50d00"/>
<path d="M864 1154.6l-123.7 1.8 -22.8 0.9 -1.2 0.7 -1.5 3.7 -2.4 2.9 -7.2 5 -41.8 16.7 0.1 0.7 0.7 0 20.8 -3.4 11 -0.8 5.6 0.4 5.5 1.8 4.1 0.3 152.8 0.8" stroke="#d20b00"/>
<path d="M864 1157.2l-93.3 2.3 -40.1 2.5 -8.3 1.9 -15.3 7.9 -13.7 4.3 -14.2 5.9 1.7 0.4 17.3 -1.5 11.1 1.6 9 0.3 59.4 0.9 86.4 -0.1" stroke="#bf0800"/>
<path d="M864 1165.6l-40.1 -1.3 -26.3 -0.3 -22.8 0.2 -20 1.1 -15.9 1.4 -10.4 1.7 -22.8 6.8 -9.7 1.9 -2.9 1.2 1.6 0.6 22.1 1 58.7 1.4 42.9 -0.4 45.6 -1.3" stroke="#ac0600"/>
<path d="M759.6 1178.3l18 0.6 40.8 -0.8 33.7 -1.9 5.1 -0.8 0.6 -0.7 -13.2 -2.2 -22.8 -2.3 -44.2 -1.4 -14.5 0.8 -23.5 2.4 -14.6 2.7 -4.7 1.5 10.3 1 29 1.1" stroke="#990400"/>
<path d="M769.1 1176.2l17.8 0 12.6 -0.8 0.4 -0.7 -23.7 -1.4 -13.3 1.4 0 0.7 6.2 0.8" stroke="#860200"/>
</g>
<g class="geo"><polygon points="419.9,1410.7 419.9,1410.7 419.9,1410.7 419.9,1410.7 419.9,1410.7 419.9,1410.7 419.9,1410.7 419.9,1410.7 419.9,1410.7 393.6,1410.7 393.6,1410.7 393.6,1410.7 393.6,1410.7 393.6,1410.7 393.6,1410.7 393.6,1410.7 393.6,1410.7 393.6,1410.7 393.6,1410.7 352.2,1352.7 97.8,1352.7 97.8,1139.5 400.5,1139.5 400.5,1191.8 352.2,1191.8 352.2,1206.2 400.5,1206.2 400.5,1256.3 413.0,1256.3 413.0,1206.2 461.4,1206.2 461.4,1191.8 413.0,1191.8 413.0,1139.5 574.7,1139.5 616.2,1081.5 616.2,1081.5 616.2,1081.5 616.2,1081.5 616.2,1081.5 616.2,1081.5 616.2,1081.5 616.2,1081.5 616.2,1081.5 616.2,1081.5 643.8,1081.5 643.8,1081.5 643.8,1081.5 643.8,1081.5 643.8,1081.5 643.8,1081.5 643.8,1081.5 643.8,1081.5 643.8,1081.5 643.8,1081.5 685.3,1139.5 864.3,1139.5 864.3,1352.7 636.9,1352.7 636.9,1236.7 623.1,1236.7 623.1,1352.7 461.4,1352.7 419.9,1410.7 419.9,1410.7"/></g>
<rect class="frm" x="75.7" y="1064.0" width="809.6" height="366.8"/>
<path class="frm" d="M97.8 1430.8v-7M97.8 1064.0v7M236.0 1430.8v-7M236.0 1064.0v7M374.3 1430.8v-7M374.3 1064.0v7M512.5 1430.8v-7M512.5 1064.0v7M650.8 1430.8v-7M650.8 1064.0v7M789.0 1430.8v-7M789.0 1064.0v7M75.7 1410.7h7M885.3 1410.7h-7M75.7 1381.7h7M885.3 1381.7h-7M75.7 1352.7h7M885.3 1352.7h-7M75.7 1323.7h7M885.3 1323.7h-7M75.7 1294.7h7M885.3 1294.7h-7M75.7 1265.7h7M885.3 1265.7h-7M75.7 1236.7h7M885.3 1236.7h-7M75.7 1207.7h7M885.3 1207.7h-7M75.7 1178.7h7M885.3 1178.7h-7M75.7 1149.7h7M885.3 1149.7h-7M75.7 1120.7h7M885.3 1120.7h-7M75.7 1091.7h7M885.3 1091.7h-7"/>
<g class="tl" font-size="20.5"><text x="97.8" y="1454.6" text-anchor="middle">0</text><text x="236.0" y="1454.6" text-anchor="middle">100</text><text x="374.3" y="1454.6" text-anchor="middle">200</text><text x="512.5" y="1454.6" text-anchor="middle">300</text><text x="650.8" y="1454.6" text-anchor="middle">400</text><text x="789.0" y="1454.6" text-anchor="middle">500</text><text x="69.7" y="1417.1" text-anchor="end">-40</text><text x="69.7" y="1388.1" text-anchor="end">-20</text><text x="69.7" y="1359.1" text-anchor="end">0</text><text x="69.7" y="1330.1" text-anchor="end">20</text><text x="69.7" y="1301.1" text-anchor="end">40</text><text x="69.7" y="1272.1" text-anchor="end">60</text><text x="69.7" y="1243.1" text-anchor="end">80</text><text x="69.7" y="1214.1" text-anchor="end">100</text><text x="69.7" y="1185.1" text-anchor="end">120</text><text x="69.7" y="1156.1" text-anchor="end">140</text><text x="69.7" y="1127.1" text-anchor="end">160</text><text x="69.7" y="1098.1" text-anchor="end">180</text></g>
<text class="tt" x="26.3" y="1050.9" font-size="20.5">Re =3000</text>
<text class="tt" x="323.6" y="1050.9" font-size="20.5">Contour: Velocity magnitude (m/s)</text>
<text class="tt" x="10.3" y="1070.0" font-size="16.5">mm</text>
<text class="tt" x="859.3" y="1453.2" font-size="16.5">mm</text>
<text class="pl" x="8.7" y="1504.0">(e)</text>
<rect x="910.3" y="1133.6" width="18.7" height="261.8" fill="url(#cb)"/>
<path d="M911.4 1136.6V1392.4M927.9 1136.6V1392.4" stroke="#1a1a1a" stroke-width="2.2" stroke-dasharray="1.6 2.5" opacity="0.75" fill="none"/>
<g class="tl" font-size="20.5"><text x="942.0" y="1398.2">0.01</text><text x="942.0" y="1372.2">0.14</text><text x="942.0" y="1346.2">0.26</text><text x="942.0" y="1320.2">0.38</text><text x="942.0" y="1294.2">0.5</text><text x="942.0" y="1268.2">0.62</text><text x="942.0" y="1242.2">0.74</text><text x="942.0" y="1216.2">0.86</text><text x="942.0" y="1190.2">0.98</text><text x="942.0" y="1164.2">1.1</text></g>
<polygon points="895.7,1094.0 912.3,1094.0 904.0,1079.0" fill="#000"/>
<text class="tl" font-size="20.5" x="922.5" y="1095.6">1.19</text>
<polygon points="895.7,1412.7 911.9,1412.7 903.8,1427.2" fill="#000"/>
<text class="tl" font-size="20.5" x="919.6" y="1427.2">0.015</text>
</g>
<g id="pf">
<g class="ct" stroke-width="2">
<path d="M1409.8 1230l-1.6 -5.7 0.7 -8 -0.6 -2.9 -3.1 -3.6 -6.2 -2.9M1388.9 1206.9l-8.8 3.3 -7.6 4.7 -3.5 -2.8 -3.5 -3.8 -0.7 -1.4M1426 1206.9l-0.3 2.2 -2.8 -1.2M1532.1 1187.6l-1 -1.1 1.6 -1.2 2.1 0.3 0.9 0.9 -1.6 1.2 -2 -0.1M1409.8 1149l-10.4 1.7 -9.7 -0.8 -9.6 -2.9 -13.4 -5.5 -2.2 -1.5M1427 1140l-2.2 9.5 2.2 6.4 6.3 34 0.7 0.8 2.7 0.6 11.5 0.3" stroke="#4b4bab"/>
<path d="M1440 1385.7l-5.1 -1.6 -0.7 -1.5 0.4 -0.9 2.1 -1.5 2.8 -0.5 2.7 0.5 1.9 1.2M1622.9 1352.8l2.1 -6.5 0.7 -8.7 -0.5 -5.8 -2 -9.5 -0.1 -5 3.8 -18.2 3.6 -45.8 0.6 -2.1 1.1 -1M1602.5 1322.4l-0.7 -0.5 -0.2 -1 0.9 -1.3 0.9 1.3 -0.9 1.5M1778.7 1278.8l-6.9 -1.3 -4.1 -2.3 -1.4 -3 0.3 -2.2 0.8 -1.4 3 -2.1 4.2 -1.2 5.5 -0.8 7.6 -0.1 4.1 0.4 3.5 1 2.3 1.3 1.6 2.2 0.4 2.9 -0.5 2.2 -1 1.6 -2.1 1.4 -6.2 1.5 -11.1 -0.1M1418.5 1257l-0.1 0.7 -2.4 0.3 -4.7 -1M1409.8 1256.3l-6.3 -5.1 -11 -11.5 -29.3 -32.8M1393.1 1230.8l2.2 -0.5 1 -0.9 2.1 -6.6 4.4 -5 1 -2.2 -0.1 -2.2 -1.7 -2.2 -2.6 -1.4 -3.4 -0.8 -4.2 -0.1 -4.8 1.2 -3.2 1.8 -1.7 2.9 0.1 2.2 2.7 9.6 3.5 2.8 4.7 1.4M1679.2 1226.5l-19.2 -0.8 16.4 -2.1 15.9 -0.1 47.7 0.2 6.2 0.7 22.1 0.3 4.9 0.9 10.8 0.1 -104.8 0.8M1439.9 1206.9l-0.5 5.8 -1.3 2.9 -2.1 2.9 -6.9 5.8 -2.7 1.2 -3.5 0.3M1361.4 1204.7l-0.8 -0.7 -0.6 -2.4 -0.7 -8.5 0.3 -1.5 1.1 -1.1 1.4 0.1 0.8 1M1530 1190.9l-2.8 -0.9 -1.6 -2 0.6 -2.2 2.4 -1.8 3.5 -1 4.8 -0.1 3.4 1.2 1.7 1.7 0.1 2.2 -2.4 2.2 -4.2 1 -5.5 -0.3M1409.8 1183.6l-5.6 4.3 -4.8 1.5 -6.2 -0.6 -5.5 -2.6 -4.9 -4.7 -8.5 -13.1 -5.9 -7.3 -5.9 -5.8 -15.1 -13.1 -1.5 -2.2M1466.4 1140l-7.6 7.1 -9.6 5.5 -2.8 2.1 -2.8 4.6 -0.6 5.4 1 3.7 2.4 3.3 2.8 1.6 6.9 1.9 3.4 1.6 6.9 5.8 4.9 5.3 1.8 5.2 0.3 8.7 -0.4 3.6 -1.1 1.1 -0.8 -0.2M1678.1 1122.9l-1 0.5 -0.6 -0.3 -11.8 -8.8 -4.8 -1.3 -3.5 -0.2 -11 1.9 -13.2 6 -11 6.2 -1.4 0.2 -0.9 -0.9 -0.5 -3.6 1.1 -2.9 2.8 -2.9 3.7 -2.3 4.8 -2.1 8.3 -2.4 18.7 -3.8 3.4 -1.1M1643.6 1085.9l-3.1 0.2 -4.8 -0.5" stroke="#4a4ab5"/>
<path d="M1412.6 1406.7l4.1 -0.5 3.4 0.4M1437.9 1388l-5.5 -1.8 -6.7 -3 -4.9 -1.1 -20.7 -2.1 -9 -0.1 -3.4 0.6M1364.2 1355.8l21.4 5.8 26.9 9.8 24.9 5.1 8.3 0.7 1.8 0.6M1477.6 1352.8l10.7 -3.6 7.8 -1.2 1.7 0.5 1.5 4.3M1614.6 1352.8l3.4 -6.5 1 -8.7 -1.2 -5.8 -4.8 -10.2 -0.5 -4.3 1.4 -5.1 2.4 -5.4 1.4 -1.7 4.2 -2.8 1.6 -3.9 0.6 -5.1 -0.1 -11.6 1.3 -10.2 3.5 -19.5 3.4 -12.7M1601.8 1326.2l-1.3 -1.1 -1.1 -2 -0.2 -4.4 1.9 -3.5 2.8 -0.8 2.9 2.1 1 2.2 0.1 2.2 -0.8 2.2 -1.5 2.1 -1.7 1.1 -2.1 -0.1M1775.9 1286.1l-15.2 -2 -5.5 -1.7 -4.2 -2.2 -3 -2.9 -1.3 -2.9 0 -5.1 1.6 -3.6 4.8 -3.8 8.3 -2.9 10.4 -1.6 13.8 -0.5 9.7 0.4 7.6 1.6 5.5 2.8 3.6 4 1.3 4.3 -0.5 5.9 -1.9 3.6 -3.6 2.9 -5.3 2.2 -6.7 1.2 -19.4 0.3M1635.5 1236.6l0.6 -2.1 4.8 -5.1 6.3 -2.9 7.1 -2.5 21.5 -2.7 63.5 -0.2 7.6 0.6 22.1 0.1 6.3 0.6 98.1 0.7M1873.4 1235l-4.2 -2.7 -6.9 -0.8 -75.3 1.3 -123 -1.2 -8.3 0.3 -4.8 0.7 -2.8 1.3 -2.1 2.7M1390.1 1219.2l3.8 0.3 4.1 -1.5 2.6 -2.4 0 -2.2 -1.9 -1.9 -3.4 -1.1 -3.5 0 -3.4 1 -2.2 2 -0.3 2.2 1.6 2.2 2.6 1.4M1456.3 1206.9l1.7 3.6 -0.7 2.2 -2.3 2.1 -13.5 9.5 -3.6 3.6 -2.7 4.4 -1.2 3.6 0 3.6 3.7 10.9 0.1 5.1 -1.2 4.4 -1 0.7 -5.8 0.8 -14.5 -2.4 -4.1 -1.2 -2.8 -1.6 -6.5 -5.8 -13.5 -14.3 -25.8 -29.2M1361.4 1205.5l-1.2 -0.8 -0.9 -2.2 -1.6 -8.7 0.2 -3.6 2.2 -5.9 0.6 -3.6 -0.4 -4.3 -1.9 -5.1 -3 -5.1 -4.8 -5.8 -19.7 -18.2 -1.6 -2.2M1531.4 1194.5l-6.3 -0.9 -4.1 -2 -1.1 -1.4 -0.3 -1.5 0.2 -1.4 1.4 -2.2 2.6 -1.9 3.4 -1.4 9.7 -1.5 4.1 0.3 3.3 0.8 2.7 1.5 1.3 1.4 0.8 2.2 -0.3 2.2 -0.9 1.5 -2 1.7 -6.2 2.2 -8.3 0.4M1484.7 1140l-10.3 12.4 -2.2 4.3 -1.4 5.1 0.3 7.3 3.3 12.3 1 5.9 0.6 16.7 -0.5 4.3 -2.2 3.4 -2 1 -2.1 0.1 -2.5 -0.9 -1.5 -1.4 0.4 -3.6M1679.3 1124.2l-0.8 0.6 -1.4 -0.1 -8.2 -5.5 -7 -2.8 -6.2 -0.4 -9 1.5 -11.7 4.8 -8.9 5.4 -13.9 11.5 -5.5 5.6 -1.2 -0.4 -5.9 -8 -6.1 -5.7M1621.6 1101.1l5.1 1.5 9 0 11 -1.4 8.3 -2.6M1649 1092.3l-18.8 -0.2" stroke="#4848be"/>
<path d="M1405.8 1399.5l21.4 -0.3M1433.1 1393l-1.7 -1.7 -3.7 -1.6 -12.4 -1.6 -11.1 0.3 -4.1 1.2 -2.2 1.5M1363.8 1355.4l3.5 0.3 18.1 5.1 27.8 9.7 24.2 4.9 8.3 1 2.3 0.9M1476.7 1352.8l11.7 -4.3 25.7 -6.4 4.1 -0.6 1.2 0.4 0.3 2.9 1.7 3 7.3 5M1605.7 1352.8l4 -4.3 1.6 -2.9 1 -5.1 -0.4 -4.4 -1.4 -2.9 -1.8 -1.8 -6.9 -1.6 -3 -2.4 -2.5 -5.1 -0.1 -5 1 -3 2 -2.9 6.8 -4.7 2.3 -2.5 9.1 -17.5 4.5 -16.5 4.4 -12.5 5.9 -19.6M1872.6 1352.8l0.8 -0.9M1646.7 1351.9l1.1 0.9M1774.6 1293.3l-13.9 -0.9 -11 -1.8 -9 -2.5 -7 -3.5 -4.6 -4.4 -2 -4.3 -0.1 -7.3 1.9 -5.1 2.4 -2.9 3.9 -2.9 4.3 -2.2 6 -2.1 13.9 -2.7 17.2 -1.2 18.7 0.2 12.4 1.7 5.6 1.7 4.8 2.4 3.9 2.9 2.4 2.9 1.5 2.9 0.9 3.7 -0.2 8.7 -2.5 5.8 -5.3 4.8 -6.9 3.2 -9.7 2.2 -10.4 0.8 -17.2 -0.1M1873.4 1240.6l-2.1 -3.7 -2.1 -1.7 -3.4 -1 -4.9 -0.3 -45.6 2.4 -27.6 0.6 -34.6 -0.3 -91.8 -2.5 -5.6 0.5 -4.1 0.9 -2.7 1.9 -2.2 3M1634.7 1236.6l0.9 -2.1 5.5 -5.9 6.7 -2.9 6.5 -2.2 22 -2.8 61.6 -0.4 38 1.3 97.5 0.7M1392.2 1217l2.4 0 2 -0.7 1.5 -1.5 -0.1 -1.4 -1.4 -1.2 -2 -0.6 -2.8 0.1 -2.1 0.9 -1 1.5 0.3 1.2 1.4 1.2 1.8 0.5M1361.4 1206l-1.8 -1.3 -1.4 -2.9 -2.2 -7.3 -2.3 -11.6 -2 -4.5 -2.6 -4.2 -8.4 -9.2 -22.7 -19.9 -2.9 -2.9 -1.1 -2.2M1525.1 1197.5l-7.7 -2.3 -3 -2.1 -1.3 -2.2 -0.1 -2.2 1.3 -2.9 2.3 -2.2 3.7 -2 12.4 -3.3 10.4 -0.6 4.8 0.8 3.8 1.5 2.9 2.2 1.3 2.1 0.5 3.7 -1.2 2.9 -2.2 2.2 -3.9 2.1 -4.6 1.5 -5.5 0.9 -13.9 -0.1M1496.8 1140l-2.9 6.6 -6.9 7.2 -2.7 3.7 -2.1 4.3 -1 4.4 -0.6 11.6 -2.4 13.1 -0.4 8 1.7 9.8 4.7 10.5 -0.5 3.8 -2.1 2 -2.7 0.7 -15.9 -2.6 -4.9 0 -4.1 0.7 -4.2 1.5 -3.4 2.1 -2.7 2.7 -1.5 2.9 -0.2 4.4 2.3 4.3 3.5 3.2 8.2 5.5 1.7 2.2 0.1 2.2 -0.8 2.2 -1.3 2.2 -2.2 1.4 -3.8 0.7 -20.6 0.8 -15.2 -2.9 -4.8 -2 -6.3 -5.3 -11 -11.5 -29.6 -33.5M1690.3 1135.7l-0.7 1.3 -0.7 0.2 -0.7 -0.5 -0.8 -1.7 0.6 -1.7M1680.2 1125.1l-2.4 0.6 -5.5 -3.5 -3.4 -1.4 -5.6 -1.6 -3.4 -0.5 -4.9 0.1 -5.5 0.8 -9.7 3.3 -6.2 3 -5 3.3 -16.4 13 -2.8 3 -8.9 12.7 -3.5 3 -5.5 -5.9 -3.1 -4.8 -0.4 -2.9 0.9 -6.5 -1.6 -3.6M1636.9 1097.2l3.6 0.6 4.6 -1.3 -2.5 -0.7 -2.8 0 -2.9 0.7 0 0.7" stroke="#4848c9"/>
<path d="M1363.5 1355l2.4 0 18.9 5.1 28.4 9.5 31.8 5.9 3.4 1.4M1476.2 1352.8l11.6 -4.5 18.7 -5 33.4 -10.1 5.3 -0.9 0.3 0.2 -6.7 3.6 -2.5 2.2 -1.5 2.9 -0.2 2.9 1 2.2 2.4 2.2 9.6 4.3M1594.8 1352.8l6 -3.6 2.9 -2.9 1.5 -4.4 -0.4 -4.3 -1.7 -2.2 -10.2 -8.3 -11.6 -6.2 -1.2 -0.7 -0.2 -0.8 21.9 -17.6 3.3 -3.4 13.1 -22.5 7.4 -18.2 6.6 -20M1870.6 1352.8l2.8 -3.4M1646.7 1349.3l3.8 3.5M1873.4 1281.9l-1.3 -38 -0.7 -2.9 -1.2 -2.2 -1.7 -1.4 -2.7 -1 -7.6 -0.2 -23.2 2.6 -13.5 2 -5.5 1.6 -0.6 0.8 1.4 1.4 8.9 3.7 5.9 3.6 3.8 3.5 2.4 3.8 1.8 5 0.6 6.6 -0.5 7.2 -1.8 5.8 -2.5 3.8 -3.9 3.5 -5.1 3.1 -6.2 2.5 -6.9 1.8 -7.6 1.2 -18.7 0.9 -28.3 -0.8 -11.1 -1.2 -10.3 -1.8 -9 -2.4 -7.6 -3.1 -5.6 -3.3 -4.4 -4.2 -3 -5.8 -0.7 -6.5 0.8 -6.5 3.1 -5.8 3.7 -3.7 5.6 -3.6 8.1 -3.4 13.2 -3.9 2 -1.4 -1 -0.8 -12.1 -2.1 -25.6 -2.2 -33.2 -1.7 -14.5 0.4 -3.4 0.8 -2.8 1.6 -1.4 1.8 -0.9 2.9 0.5 40.7 -1 18.1 -1.4 13.9M1455.6 1241.7l6 0.3 2.7 -0.6 2.8 -1.5 2.3 -3.3 0 -2.1 -1.1 -2.2 -3.3 -2.7 -4.8 -1.5 -5.5 0.2 -4.2 1.8 -2.4 2.9 -0.3 1.5 0.4 2.1 2.4 2.9 5 2.2M1634.1 1236.6l1.6 -2.7 5 -5.3 8.1 -3.6 5.5 -1.9 22.2 -2.9 60.1 -0.5 40 1.2 96.8 0.8M1392 1214.8l1.9 0.4 1.6 -1.1 -0.3 -0.7 -2 -0.5 -1.4 0.5 -0.3 0.7 0.5 0.7M1523.1 1201.1l-10.4 -2.3 -4.4 -2.1 -2.7 -2.2 -1.3 -2.2 -0.2 -2.9 0.8 -2.1 2.2 -3 3.5 -2.5 4.9 -1.9 17.2 -4.2 9.7 -1.1 7.6 0.5 6.9 1.8 5.2 3.1 2.7 3.6 0.6 4.4 -1.4 3.6 -2.8 2.9 -5.2 2.9 -6.7 2.2 -7.6 1.2 -10.3 0.6 -8.3 -0.3M1504.9 1140l0.1 3 1.9 5 -0.3 1.5 -2.1 2.2 -8.1 5.8 -4.4 5.5 -2.1 5.4 -1.7 10.1 -6.9 10.2 -1.4 4.4 -0.3 5 1.4 6.6 1.3 2.2 2.1 1.9 2.1 0.7 2 -0.1 7.6 -3.4 2.1 0.7 3 3.1 6 8.7 2.7 5.8 0.5 5.1 -1.7 5.1 -2.7 3.6 -4.4 4.3 -14.6 12.4 -3.7 2.2 -8.9 2.2 -10.7 1.7 -11.8 1.3 -19.3 0.5 -6.9 -0.7 -13.3 -2.8 -4 -2.1 -5.3 -4.5 -16.8 -17.8 -20.1 -23.3 -4.8 -5 -2.5 -1.8 -7.2 -15.1 -6.2 -8.1 -8.3 -7.3 -28.2 -21.1 -10.3 -9.4 -2.6 -3.7M1690.7 1136.1l-1.1 1.6 -1.6 -0.6 -3.3 -6.9 -1.3 -1.5 -6.3 -2.7 -4.8 -2.8 -4.8 -1.5 -8.3 -0.9 -8.3 0.8 -5.5 1.5 -8.3 3.5 -11.1 7.2 -9.5 8.4 -2.9 1.3 -2.1 1.6 -20.7 29.1 -9.7 12.3 -2.8 2.6 -0.5 -0.4 1.1 -12.3 -0.7 -7.3 -2.3 -6.5 -5.3 -8 -0.7 -2.2 1.2 -2.2 8 -6.5 1.6 -3.7" stroke="#4848d3"/>
<path d="M1363.3 1354.8l3.6 0.2 17.3 4.5 29 9.2 31.1 5.9 4.4 1.9M1475.8 1352.8l2.6 -1.4 9.9 -3.6 17.5 -4.9 54.6 -17.3 17.3 -8 6.2 -3.6 18.6 -15 6.5 -9.3 9.7 -16.8 6.2 -14.5 6.6 -20.1 0.9 -1.1M1868.1 1352.8l3.3 -2.9 2 -6.1M1563.6 1351.4l14.7 0.2 7 -0.9 5.5 -1.5 4.1 -2 2.4 -2.4 1 -2.9 -0.3 -3.6 -2.9 -3.6 -5 -2.8 -6.9 -1.8 -7.6 -0.5 -9.7 0.9 -9.7 2.3 -6.9 2.8 -4.3 3.4 -0.9 2.2 -0.1 2.2 1.1 2.2 1.6 1.4 6.8 2.7 10.1 1.7M1873.4 1334.9l-2.7 -89.5 -1.5 -4.4 -2.7 -2.1 -4.9 -0.7 -6.2 0.7 -10.8 2.8 -3.8 2.2 0.1 1.5 3.8 4.3 2.2 4.4 1.3 5.8 0.3 6.5 -0.5 11.6 -1.3 8 -2.4 6.3 -3.7 4.6 -3.2 2.3 -4.8 2.3 -13.1 3.8 -14.5 1.9 -18.7 0.6 -28.3 -0.6 -22.8 -2.3 -18.7 -4 -7.6 -2.6 -6.9 -3.3 -7.6 -5.3 -4.7 -5.9 -2.2 -6.5 -0.3 -9.4 1.3 -5.8 3.3 -5.9 5.4 -5.2 8.9 -5.6 0.6 -0.8 -0.3 -0.7 -6.5 -2.1 -10.8 -1.5 -17.5 -1.4 -11 0.1 -4.2 0.7 -2.7 1.2 -2 2.3 -0.5 2.2 0.9 11.6 -0.5 12.3 0.7 14.5 -5.4 57.4 0.7 5.1 1.3 2.9 2 1.9 3.9 1.7M1454.6 1235.9l1.5 0.5 2 -0.3 1.3 -0.9 0 -1.5 -2 -1.3 -2.7 0.3 -1.2 1.8 1.1 1.4M1633.5 1236.6l2 -2.9 5 -5.2 7.6 -3.5 6.2 -2.2 22.2 -3.1 22.1 -0.6 36.6 0 42.1 1.2 96.1 0.7M1484.3 1204.7l2.2 0.4 2 -0.9 2 -2.4 1 -2.9 0.3 -3.7 -0.6 -2.9 -1.3 -2.3 -2.1 -1.3 -2 0.1 -2.1 1.4 -2.2 4.3 -0.3 2.9 0.4 3.3 1.2 2.5 1.5 1.5M1511.7 1140l1 3 2.1 2 12.1 5.9 1.4 1.5 -2.6 1.4 -15.8 4.8 -4.1 2.1 -3.3 2.6 -2.7 3.6 -1.2 4.4 1 3.6 2.7 1.8 18.7 -0.7 15.2 -3.9 8.3 -0.9 11.7 -0.4 3.5 -0.9 1.2 -1.5 0 -1.5 -2.1 -4.3 -3.3 -3.1 -8 -4.9 -1.1 -1.5 2.7 -1.4 12 -3.4 6.9 -2.7 4.2 -2.6 1.7 -3M1691 1136.5l-1.4 1.7 -1.4 -0.3 -4.3 -5.8 -4.7 -4.3 -6.9 -3.7 -4.8 -1.3 -8.3 -0.8 -8.3 0.9 -5.5 1.6 -8.3 3.5 -11.1 7.3 -9 8 -5 3.3 -23.4 32.7 -19.2 24.6 -16.5 18.2 -15.2 12.4 -13.1 7.9 -9 4.4 -11.6 5.1 -19.8 6.5 -20.5 3.3 -11.8 1.1 -15.2 0.3 -7.6 -0.1 -11 -2.1 -6.6 -1.7 -3.8 -2.2 -6.6 -5.8 -11.4 -12.2 -23.9 -27.8 -4.4 -4.3 -3.3 -2.2 -2.1 -2.9 -3.6 -6.7 -2.7 -3.2 -9.7 -6.6 -25.6 -13.6 -14.5 -9 -16.8 -13.2 -7 -6.5 -1.9 -3" stroke="#4848dd"/>
<path d="M1363 1354.5l2.6 -0.1 19.3 4.8 29 8.8 30.4 5.8 2.8 1 2 1.3M1475.4 1352.8l2.5 -1.4 9.4 -3.6 19.2 -5.6 53.2 -17.4 18.6 -8.6 7 -4.4 16.5 -13.4 8.2 -11.7 8.4 -14.5 6.6 -15.2 6.5 -18.9 1.4 -1.5M1863.4 1352.8l4.4 -1.5 2.6 -2.1 1.3 -3.6 0.4 -5.8 -1.7 -62.5 -1.8 -31.9 -0.7 -2.2 -1.4 -1.5 -4.2 -1.1 -6.3 1.1 -2.7 1.5 -1.1 1.4 1.5 10.9 -0.4 13.1 -1.7 18.9 -1.4 6.5 -1.8 5.1 -2.7 4.3 -3.4 3.2 -5.6 2.6 -7.6 2.1 -17.9 2.7 -22.8 0.9 -35.9 -0.7 -27.7 -2.7 -17.9 -3.6 -14.6 -4.8 -12.2 -6.2 -14 -10.3 -2.1 -0.8 -1.4 0.2 -2 1.9 -2.8 5 -2.8 7.7 -2 7.8 -3.5 20.9 -0.7 9.7 0.2 5.8 1.9 4.2 3.4 2 8.3 1.4 10.7 0.4M1565.4 1348.5l12.3 -0.1 8.2 -1.6 2.8 -1.4 2 -2 0.6 -2.2 -0.3 -2.2 -2 -2.1 -3.7 -1.7 -5.6 -1.1 -6.2 -0.3 -7.6 0.6 -6.2 1.2 -5.1 2 -2.3 2.2 -0.7 2.1 0.2 1.5 1.8 2.2 4.7 1.8 7.1 1.1M1660.1 1280.9l1.8 0.3 1.4 -0.9 1.9 -3 1.2 -3.6 0.5 -5.8 -1 -8.7 0.5 -2.2 13.1 -10.9 0.4 -1.5 -1.1 -0.7 -6.6 -1.5 -8.2 -0.4 -4.8 0.7 -2.7 1.9 -0.1 1.6 2.7 8.6 -4.3 8.7 -0.8 3.6 0 3.7 0.8 3.6 1.4 2.9 1.6 2.1 2.3 1.5M1632.9 1236.6l8.1 -8.7 8.3 -3.6 5 -1.7 22.8 -3.4 21.5 -0.7 35.2 0 44.2 1.2 95.4 0.7M1484.1 1201.1l1 0.6 1.4 -0.3 1.7 -2.5 -0.1 -3.7 -1.6 -2 -2.1 0.4 -1.4 2.2 -0.1 3.1 1.2 2.2M1513.1 1170.5l5.8 0.5 11.3 -1.9 7.7 -2.2 1.2 -0.7 0.4 -1.5 -2.6 -1.6 -4.8 -0.8 -5.6 0.2 -6.2 1 -4.8 1.4 -3.3 2 -0.9 2.2 1.8 1.4M1518.2 1140l0.4 1.5 1.4 1.5 5.1 2.5 7.6 1.7 9 0.6 9.7 -0.7 8.3 -1.8 5.4 -2.3 1.7 -1.5 0.7 -1.5M1691.2 1136.7l-1.5 1.9 -1 0 -5.3 -6.2 -4.9 -4.2 -6.2 -3.2 -4.8 -1.3 -8.3 -0.8 -7.6 0.8 -5.5 1.5 -8.3 3.5 -11.1 7.1 -13.7 11.5 -29.4 40.7 -17 21 -12.8 13.8 -15.4 12.4 -14.5 8.7 -12.6 5.8 -10.8 4.4 -16.1 4.9 -20.1 3.2 -12.4 1 -13.8 0.3 -8.3 -0.1 -4.8 -0.8 -11.8 -2.6 -4.8 -2.2 -6.2 -5.2 -6.9 -7.2 -29.7 -34.2 -4.2 -4 -5.1 -3.2 -4.7 -7.3 -1.9 -1.9 -33.5 -9.7 -12.1 -4.6 -10.4 -4.8 -16.6 -10.2 -20.3 -15.3 -12.7 -8.7 -1 -1.5" stroke="#484fe2"/>
<path d="M1362.8 1354.3l3.4 -0.1 18.3 4.4 30.1 8.7 29 5.5 3.5 1.2 2.4 1.7M1475.2 1352.8l2.3 -1.4 10.3 -4.1 18.7 -5.6 53.9 -18 17.3 -8.1 7.6 -4.8 16.1 -13.2 8.8 -12.3 6.1 -10.2 4.8 -10.1 3.8 -8.8 6.8 -18.8 9 -9.5 11.7 -5.1 23.4 -3.9 24.8 -1 35.3 0 42.1 1.1 95.4 0.8M1834.5 1352.8l29.2 -1.5 4.8 -1.9 2 -3.8 0.5 -7.3 -2.5 -65.2 -3.6 -26.3 -0.5 -1.5 -1.4 -0.9 -2.1 0.3 -1 1.4 -4.8 42.8 -2.8 13.8 -2 5.1 -2.5 3.9 -3.5 3 -4.1 1.9 -13.8 2.7 -19.4 1.5 -42.1 0.1 -27.6 -0.8 -16.9 -1.4 -15.6 -2.4 -13.8 -3.1 -19.4 -5.8 -4.8 -0.8 -3.5 0.4 -2.7 1.4 -2.1 2.1 -2.1 3.3 -3.4 9.8 -2.4 14.7 0.6 7.3 1.2 2.2 1.9 1.4 4.2 1.2 6.9 0.7 65.2 1.7M1564.6 1345.6l8.2 0.2 6.2 -0.7 3.6 -1.7 0.9 -1.5 0 -1.4 -2.5 -2.2 -6.8 -1.1 -9 0.5 -3.4 1 -2 1.1 -0.9 1.4 0.4 2.2 2.3 1.4 3 0.8M1658.7 1274.4l1.2 0.1 1.4 -0.8 1.6 -3.7 -0.5 -4.3 -1.1 -1.7 -1.4 -0.7 -2.4 0.9 -1.5 3.7 0.4 3.9 1.2 1.9 1.1 0.7M1524.6 1140l1.8 2.2 3.6 1.5 5.5 1.1 6.9 0.5 6.9 -0.5 5.9 -1.1 3.7 -1.5 2.2 -2.2M1691.4 1136.9l-1.8 2.1 -1.4 -0.3 -5.5 -6.3 -4.2 -3.5 -6.2 -3 -5.5 -1.5 -7.6 -0.7 -7.6 0.8 -5.5 1.5 -8.3 3.5 -11.1 7.1 -12.2 10.7 -23.5 32.7 -20.3 25.7 -15.8 17.4 -15.2 12.2 -14.4 8.6 -9.1 4.4 -13.8 5.8 -16.4 5.1 -21.7 3.5 -12.4 1 -11.7 0.2 -9.7 -0.1 -5.5 -0.8 -12.5 -2.9 -4.7 -2.4 -6 -5.1 -7.2 -7.5 -26.3 -29.9 -2.7 -3.8 -4.2 -3.9 -4.1 -1.7 -2.1 -1.5 -5.7 -7.6 -1.2 -0.2 -2.4 0.9 -3.1 0.3 -24.9 -0.4 -29 -5.8 -22.8 -10.7 -14.2 -12.4 -14.7 -11.7 -8.3 -4.3 -16 -6.9 -25.6 -3 -6.9 -1.2 -2.3 -1.3" stroke="#4855e7"/>
<path d="M1362.8 1354l4.1 0.1 17.3 4 30.4 8.4 28.3 5.3 4.2 1.4 2.8 2.1M1112.1 1352.8l6.8 -1.4 17.3 -2.4 20.7 -1.3 11.1 0.4 54.6 4.7M1475 1352.8l2 -1.4 10.8 -4.4 18.7 -5.7 53.9 -18.5 17.3 -8.1 7.6 -4.8 15.7 -13 9.1 -12.7 6.2 -10.3 7.3 -15.5 7.9 -21.1 9 -9.4 12.5 -5.5 23.5 -4 24.8 -1.1 33.9 0 43.5 1.1 94.7 0.7M1802.6 1352.8l56.9 -2.1 5.6 -1 2.9 -1.9 1.3 -3 0.5 -5 -2.4 -48.7 -1.6 -16.1 -0.7 -2.7 -1.4 -2.2 -1.4 0.8 -1.4 3.9 -4 25.7 -3 11.7 -2 4.1 -2 2.9 -2.8 2.3 -3.4 1.6 -9 1.5 -16.6 0.9 -91.9 0 -23.5 -1.6 -29 -5 -6.9 -0.4 -4.9 1.5 -3.4 3 -3.5 6.6 -1.8 7.3 -0.3 5 1.1 3.7 2.4 2.2 4.9 1.4 99.7 3.6M1567.8 1342.7l5 0.1 1.9 -0.9 0.1 -0.7 -2 -0.9 -4.1 0.1 -1.9 0.8 -0.1 0.7 1.1 0.8M1531.4 1140l1.8 1.5 2.3 0.7 6.9 0.8 7.6 -0.8 2.3 -0.7 2 -1.5M1691.7 1137.1l-2.1 2.2 -1.4 -0.3 -5.5 -6.1 -4.9 -3.7 -6.2 -2.8 -6.9 -1.5 -6.9 -0.3 -6.9 0.9 -5.5 1.6 -7.6 3.3 -11.1 7.1 -10.2 9.1 -21.8 30.5 -23.5 29.8 -15.7 16.8 -15.4 12.2 -19.2 10.9 -15.8 6.9 -15.2 4.9 -9.7 2.3 -15.2 2.2 -23.4 1.2 -10.4 -0.2 -5.5 -0.7 -12.5 -2.8 -5.5 -2.7 -6.3 -5.3 -6.1 -6.3 -27 -30.9 -2.7 -3.8 -4.2 -3.9 -6.7 -2.3 -5.7 -5.7 -4.2 0.2 -32.4 12.5 -29.1 8.7 -3.4 0.7 -21.4 2.3 -7.6 0.5 -21.5 -2.7 -29.7 -8.7 -2.4 -1.3 -11.8 -9.4 -4.9 -5.1 -7.8 -15.2 -1.1 -4.4 -1.7 -14.8 -4.8 -8.1 -22.4 -8.3 -7.5 -1.5 -22.6 -2.9 -4.9 -1.9" stroke="#485bec"/>
<path d="M1362.8 1353.6l4.1 0.3 15.1 3.3 32.6 8.5 27.6 5 4.9 1.6 3.3 2.5M1474.7 1352.8l2.1 -1.5 11 -4.6 18.7 -5.9 53.9 -18.9 16.6 -7.7 8.9 -5.8 14.6 -12 9.6 -13.3 5.8 -9.4 7 -14.5 8.6 -22.1 9 -9.4 12.5 -5.5 23.5 -4.2 24.8 -1.2 33.2 -0.1 44.9 1.1 94 0.7M1749.8 1351.4l26.8 0.6 25.6 -0.2 53.9 -2.1 7.7 -1.2 2 -1.2 1.4 -1.7 1 -5.8 -3.1 -30.2 -1.4 -8 -0.7 -0.7 -0.7 0.8 -4.5 14.8 -3.1 6.3 -4.1 4 -5.6 1.9 -13.8 0.7 -59.4 -0.7 -64.3 1.8 -13.1 -0.3 -24.9 -1.9 -4.8 0.9 -3.4 1.9 -2.9 3.6 -1.7 5.1 0.2 2.9 1.6 2.5 2.8 1.5 4.8 1 83.7 3.7M1540.4 1140l4.8 0M1691.8 1137.3l-1.8 2 -1.8 0.1 -5.5 -5.9 -5.6 -4 -6.9 -2.7 -7.6 -1.3 -6.2 -0.1 -6.9 1.2 -7.6 2.7 -6.2 3.1 -9 5.9 -8.7 7.6 -13.7 20.3 -22.1 29 -14.7 17.5 -14.6 14.5 -13.6 10.2 -17.1 9.4 -19.9 8.4 -13.1 4.1 -8.3 1.9 -17.2 2.5 -13.2 0.8 -15.9 0.1 -9.6 -1 -14.4 -3.7 -4.5 -2.9 -8.1 -7.3 -29.7 -34.1 -2.5 -3.7 -3.7 -3.4 -2.1 -1.1 -5.5 -0.6 -4.8 -4.4 -2.1 -0.4 -20.7 18 -30.4 22.9 -29.4 25 -16.9 19.9 -6.8 9.1 -9.4 26.9 1 6.1 1.8 5.5 1.5 1.5 12.6 6.3 21.1 6 1 0.7 0.1 0.8 -0.7 2.1" stroke="#4961f0"/>
<path d="M1362.6 1353.3l2.3 -0.1 16.5 3.4 33.9 8.4 26.9 4.8 4.9 1.6 3.8 2.8M1474.6 1352.8l2.2 -1.6 11 -4.7 18.7 -6.2 53.9 -19.2 16.6 -7.8 8.9 -5.8 8.9 -7 5.5 -5 9.8 -13.5 5.6 -9.1 6.9 -14 8.9 -22 9 -9.3 12.5 -5.7 23.5 -4.4 24.8 -1.3 32.5 -0.1 45.6 1.1 94 0.6M1753.6 1350.7l24.4 0.5 23.5 -0.3 56 -3 4.3 -0.9 2.6 -1.7 1.3 -2.6 0.1 -4.4 -2.1 -7.7 -1.4 -2 -1.4 -0.6 -9 4.2 -6.2 1.2 -53.9 -2.1 -33.1 0.4 -24.9 1.6 -39.4 3.7 -20 1 -4.6 1 -1.3 0.8 -0.8 1.4 1.8 1.8 5.6 1.2 52.5 5 26 1.5M1692 1137.5l-1.7 1.9 -2.1 0.3 -6.2 -6.3 -4.9 -3.3 -7.6 -2.8 -7.6 -1.1 -6.9 0.1 -6.2 1.2 -8.3 3.2 -6.2 3.3 -7.6 5.1 -7.9 6.8 -10.4 16.7 -23.6 31.2 -15.9 18.9 -14.6 14.5 -13.6 10.2 -17.1 9.4 -19.9 8.5 -20 5.9 -20 2.9 -12.5 0.8 -13.1 0.1 -11.1 -0.7 -15.8 -3.9 -4.7 -2.7 -8.5 -7.6 -29.9 -34.5 -2.5 -3.7 -3.5 -3.2 -2.1 -1 -6.2 0.5 -1.4 -0.6 -2.7 -3 -1.4 0 -25.6 33.7 -13.3 15.8 -9.7 12.3 -14.9 24.7 -7.2 24.7 -0.1 5.1 1.7 10.7 6.6 7.4 3.3 2.2 11.5 4.4 15.7 4.3 3.4 1.5 0.9 1.4" stroke="#4967f5"/>
<path d="M1362.3 1353l1.9 -0.2 17.2 3.4 34.6 8.1 25.6 4.4 6.2 2.1 3.7 2.8M1474.4 1352.8l3.1 -2.1 10.3 -4.5 72.6 -25.9 15.9 -7.5 9.6 -6.2 8.6 -6.8 5.3 -4.9 10.3 -14 5.6 -9 6.9 -13.8 8.9 -21.4 9 -9.3 12.5 -5.7 23.5 -4.6 24.8 -1.5 32.5 -0.1 46.3 1.1 93.3 0.6M1758.3 1349.9l36.3 0.3 33.7 -1.7 28.9 -3.7 3.1 -1.4 0.9 -1.5 0.2 -1.4 -1.1 -2.2 -2.1 -0.9 -11.1 0.7 -37.3 -3.8 -33.9 -0.9 -22.1 1 -20.7 2.1 -16.1 3.3 -3.6 1.4 -1.4 1.5 1.2 1.4 1.6 0.7 9.7 2.2 14.1 1.7 19.7 1.2M1692.2 1137.7l-1.9 2 -2.1 0.3 -6.2 -6.1 -5.5 -3.4 -7.6 -2.6 -7.6 -1 -6.3 0.2 -6.2 1.2 -9 3.5 -6.2 3.5 -6.9 4.6 -7.6 6.5 -3 6.7 -4.1 6.6 -22.9 30.5 -18.1 21.7 -15.5 15.5 -14.5 10.6 -16.5 9.1 -20.1 8.5 -20 5.9 -20.1 3 -24.1 0.9 -12.5 -0.6 -15.9 -3.8 -5.5 -3.2 -8.3 -7.4 -30.1 -34.8 -2.3 -3.5 -3.5 -3.3 -2.1 -0.8 -6.2 2.5 -5.5 0.3 -4.2 7.3 -11.8 25.8 -16.1 29.8 -9 28.3 -2.2 16.7 -0.2 6.5 2.7 8.6 2.1 4 9.6 7 8.4 2.7 4.8 2.3 0.6 0.9 -0.1 2.1" stroke="#496dfa"/>
<path d="M1361.8 1352.8l1.7 -0.5 24.9 4.9 26.9 6.2 26.3 4.3 6.2 2.1 4.3 3.2M1474.2 1352.8l2.6 -1.9 11 -5 73.3 -26.7 15.2 -7.3 9.6 -6.2 8.3 -6.6 5.4 -5.1 10.5 -14.1 4.9 -7.9 6.9 -13.3 9.5 -22.1 9.1 -9.4 12.5 -5.7 9.6 -2.4 13.9 -2.5 24.8 -1.6 31.8 -0.1 47 1 93.3 0.7M1765.6 1349.2l26.2 0.2 23.5 -1.3 16.8 -2.5 3.5 -1.5 0.7 -1.4 -2 -1.5 -4.4 -1.4 -12.2 -2.2 -17.6 -1.7 -18.6 -0.5 -18.7 0.6 -16.2 1.6 -11.4 2.2 -4.2 1.4 -1.9 1.5 0.5 1.4 1.2 0.7 8.7 2.2 13.1 1.5 13 0.7M1692.3 1137.8l-2 2.2 -2.1 0.3 -1.6 -1 -4.6 -4.8 -5.5 -3.4 -7.6 -2.4 -7.6 -1 -6.3 0.1 -6.2 1.3 -9.2 3.7 -6.5 3.6 -6.4 4.3 -7 5.9 -2 6 -3.1 5.6 -18.4 24.7 -22.5 27.6 -8.8 9.4 -8.5 8 -14 10.2 -17.5 9.4 -20.5 8.7 -20 5.8 -20.1 2.9 -24.8 0.9 -12.5 -0.8 -15.8 -4 -4.9 -2.8 -7.6 -6.6 -31 -36 -2.1 -3.3 -4.2 -3.8 -2.1 0 -7.3 8.5 -4 8.7 -16.1 47.2 -3.1 11.7 -1.9 10.9 -0.8 13.8 1.4 11.6 3.7 10.1 8.5 15.3 0.8 2.9 0.2 3.6" stroke="#4973fe"/>
<path d="M1360.3 1352.8l1.1 -1.2 1.4 -0.1 2.8 1 23.4 4.4 25.6 5.5 27 4.4 6.9 2.3 4.2 3.2M1474.1 1352.8l2.7 -2.1 11 -5 74 -27.7 14.5 -7 9.6 -6.2 7.6 -6 5.6 -5.2 10.3 -13.7 5.6 -8.9 6.9 -13.1 9.4 -21.3 9.2 -9.5 12.5 -5.9 9.6 -2.4 13.9 -2.6 24.8 -1.8 31.1 -0.1 48.4 1 92.6 0.6M1762.3 1347.8l19.2 0.6 19.8 -0.6 14.7 -1.9 3.6 -1.1 1.7 -1.4 -1.1 -1.3 -1.9 -0.9 -9.9 -2.1 -13.1 -1.3 -13.8 -0.4 -13.8 0.5 -12.5 1.2 -9.4 2.1 -2.3 1.3 -0.6 0.9 1.6 1.4 3.8 1.2 14 1.8M1692.5 1138l-2.2 2.3 -2.1 0.3 -2.1 -1.3 -4.3 -4.3 -5.3 -3.1 -7.6 -2.4 -8.3 -1 -5.6 0.2 -6.1 1.2 -9 3.6 -6.5 3.6 -6.5 4.4 -6.4 5.3 -0.7 1.2 -0.6 4.4 -2.1 4.3 -15.4 21.1 -25.9 32 -9.5 10.1 -9.3 8.7 -14.2 10.2 -18.1 9.5 -20.3 8.5 -20 5.7 -20.7 2.9 -24.2 0.8 -12.5 -0.9 -15.8 -4 -5 -2.9 -7.6 -6.5 -31.1 -36.3 -1.9 -3.1 -4.2 -3.8 -2.1 0.2 -0.8 1.6 -3.8 13.1 -3.8 15.2 -7.1 36.3 -2.3 19.6 -0.3 13.8 0.9 11.7 2.2 10.1 5 16.7 0.6 5.8" stroke="#4a7dff"/>
<path d="M1473.9 1352.8l2.9 -2.3 11.7 -5.4 74 -28.2 13.8 -6.7 9.6 -6.3 12.5 -10.6 4.8 -5.7 6.2 -8.8 4.9 -7.6 6.9 -12.7 10 -21.9 9.3 -9.7 12.5 -5.9 10.3 -2.8 13.2 -2.5 24.8 -1.8 30.4 -0.2 49.1 1 92.6 0.6M1768.4 1346.3l13.1 0.5 13.6 -0.5 8.9 -1.5 2 -1.4 -2.4 -1.5 -5.5 -1.1 -16.6 -1 -16.6 1.1 -4.9 1 -2.3 1.5 1.9 1.4 8.8 1.5M1692.6 1138.2l-2.3 2.3 -2.5 0.3 -1.7 -0.9 -4.8 -4.4 -5 -2.7 -8.1 -2.4 -9 -0.8 -9 1.1 -10.7 4.3 -6.3 3.6 -5.3 3.6 -6.1 5.1 -1 5.1 -2.1 4.3 -14.3 19.7 -27.1 33.4 -9.5 10.1 -9.3 8.7 -14.2 10.2 -18.1 9.5 -21.8 9 -19.3 5.6 -20.8 2.9 -24.1 0.8 -13.2 -0.9 -15.8 -4.1 -5.4 -3.2 -7.8 -6.7 -30.7 -36.1 -1.7 -2.9 -4.2 -3.8 -1.7 0.1 -0.4 1.5 0.9 2.2 0.1 2.1 -3.2 24 -2.8 45.8 -0.5 38.5 2.3 14.5 1.6 3.6 5.9 9.5 1.7 1.4 51.4 9.9 25.5 4 6.6 2.1 4.6 3.5" stroke="#4a88ff"/>
<path d="M1473.8 1352.8l0.9 -1.2 2.1 -1.2 11.7 -5.6 74.6 -29 13.2 -6.5 9.6 -6.3 7 -5.5 5.5 -5.2 11 -14.5 11.8 -20.1 9.8 -21.1 9.5 -9.8 12.5 -6.1 10.3 -2.8 13.2 -2.6 11.7 -1.3 13.1 -0.7 29.7 -0.2 49.8 1 92.6 0.6M1692.8 1138.3l-2.5 2.5 -2.8 0.3 -6.9 -4.7 -5.5 -2.5 -7.6 -1.8 -8.3 -0.6 -6.2 0.8 -4.2 1.2 -7.6 3 -6.2 3.5 -5.5 3.8 -4.2 3.8 -5 9.1 -4.4 6.6 -25.6 32.7 -16.8 19.6 -14.5 13.9 -14.3 10 -17.5 9 -22.1 9.2 -20 5.7 -20.8 2.9 -24.8 0.7 -13.1 -1.1 -9.7 -2.3 -6.2 -2.1 -5.2 -3.1 -8 -7 -30.3 -35.8 -1.6 -2.9 -4 -3.5 -1 -0.2 -0.6 0.8 1.3 2.9 0.4 6.5 -0.8 20.3 0.5 48.7 1.6 32.7 2.6 22.5 -0.5 7.3 0.7 0.8 5.8 1.3 41.8 7.8 30.4 4.7 6.2 2.1 4.4 3.4" stroke="#4b93ff"/>
<path d="M1473.6 1352.8l1.8 -1.8 13.1 -6.5 75.3 -29.8 12.5 -6.2 9.6 -6.4 11.9 -10.3 10.9 -14 5.6 -8.5 6.9 -12.3 9.7 -20.4 9.6 -10 13.2 -6.4 11 -3 11.8 -2.4 12.4 -1.4 13.1 -0.7 28.3 -0.2 51.2 1 91.9 0.5M1692.9 1138.5l-2.6 2.6 -2.8 0.4 -8.3 -4.4 -5.5 -1.9 -6.9 -1.3 -7.6 -0.2 -5.5 0.8 -5.6 1.6 -6.2 2.6 -5.5 3.1 -5.5 3.9 -4.2 3.9 -12.9 18.8 -32.9 40.6 -11.5 12.4 -10.4 9.3 -13.9 9.6 -17.5 8.7 -22.5 9.2 -19.3 5.5 -21.5 3 -24.1 0.7 -13.8 -1.2 -9.7 -2.2 -6.2 -2.2 -5.6 -3.4 -8.2 -7.2 -29.3 -34.9 -2.2 -3.6 -4.5 -3.2 -0.3 0.3 1 1.4 1.6 10.9 0.8 16.7 3.6 45 4.8 49.4 0.1 5.8 -0.7 5.1 -1 2.9 -2.2 3.7 3.4 1.5 40.7 7.5 31.8 4.7 6.2 2.1 4.5 3.4" stroke="#4b9eff"/>
<path d="M1473.4 1352.8l2 -2 13.1 -6.6 76 -30.6 11.4 -5.8 9.4 -6.1 6.9 -5.4 5.4 -5.2 10.5 -13.3 12.4 -20.3 10.4 -21 9.6 -10 6.2 -3.5 7 -3 11 -3.2 11.8 -2.4 12.4 -1.6 13.1 -0.7 27.7 -0.2 51.8 0.9 91.9 0.6M1693.1 1138.6l-2.8 2.8 -2.8 0.5 -13.8 -5.1 -6.9 -1 -6.9 0 -5.6 0.8 -5.5 1.6 -11 5.3 -5.6 3.9 -4.4 4.3 -16.4 21.8 -30.9 37.7 -10.4 11 -10.4 9.2 -13.8 9.4 -16.8 8.2 -23.3 9.6 -19.3 5.5 -21.5 3 -23.4 0.7 -14.6 -1.1 -15.8 -4.3 -5.8 -3.2 -8.4 -7.3 -30.1 -35.8 -1.9 -3.4 -2.2 -1.6 -0.7 0.1 0.5 4.4 2.2 8 15.6 104.5 0.6 12.4 -0.8 5.8 -1.7 5.1 0.4 0.7 6.7 1.9 26.9 5 32.5 4.5 6.2 2 4.7 3.5" stroke="#4ca9ff"/>
<path d="M1473.3 1352.8l1.4 -1.8 13.8 -7.1 76.7 -31.4 11.1 -5.7 9 -6 11.7 -10 11.1 -13.9 11.7 -18.9 11.5 -22.1 9.2 -9.6 6.9 -3.9 6.9 -2.9 11.1 -3.2 11.7 -2.5 12.5 -1.6 12.4 -0.7 171.4 1.3M1693.2 1138.8l-2.9 2.9 -2.8 0.6 -15.2 -4.2 -6.2 -0.6 -6.2 0.3 -10.4 2.4 -10.4 4.9 -5.5 3.8 -4.8 4.6 -44.9 55.5 -12.2 13.1 -11.3 10 -12.5 8.4 -15.5 7.8 -25.9 10.6 -19.4 5.6 -21.4 3 -23.5 0.7 -15.2 -1.1 -15.8 -4.4 -6.2 -3.5 -8.4 -7.2 -26.9 -32.7 -3.1 -3 -1.7 -3.5 -2.1 -1.2 -0.4 1.1 0.7 2.9 2.2 3.6 1.2 3.6 24 109.7 1.4 10.9 -0.7 9.4 0.4 0.8 1.8 0.7 19.1 3.9 34.6 4.7 5.5 1.9 4.2 3.2" stroke="#4bb3ff"/>
<path d="M1469.1 1355.1l0.8 -1.3M1473.1 1352.8l1.6 -1.9 13.8 -7.3 76.7 -31.9 11.1 -5.8 9 -5.9 11.7 -10.2 10.4 -12.9 12.4 -19.6 11.3 -21.4 9.4 -9.7 7.6 -4.3 6.9 -3 11.1 -3.2 11 -2.4 12.5 -1.6 12.4 -0.8 171.4 1.2M1693.3 1138.9l-3 3.1 -2.8 0.7 -15.9 -3.2 -6.2 -0.3 -6.2 0.6 -9.7 2.5 -9.7 4.7 -6.2 4.4 -5.5 5.5 -35.9 44.2 -11.9 13.7 -10 10.2 -9.2 7.9 -12.2 8.1 -14.8 7.3 -26.9 11 -19.4 5.5 -8.9 1.7 -13.2 1.5 -23.5 0.6 -15.2 -1.2 -15.8 -4.4 -6.3 -3.5 -8.3 -7.1 -26.9 -32.7 -3.4 -2.7 -1.4 -3.8 -1.4 -1 -0.7 0.4 1.4 3.8 2 1.4 3.5 10.3 17.3 57.6 10.4 38.1 7.8 16.7 4.7 5.1 -4.3 8 -0.1 1.4 6.9 2.2 7.7 1.4 28.4 3.4 5.5 1.9 3.9 3" stroke="#49bcff"/>
<path d="M1468.9 1355.3l0 -1 1 -0.7M1472.9 1352.8l0.8 -1.4 1.7 -1.1 16.6 -8.6 73.9 -31.1 9.7 -5.1 9 -5.9 11.6 -9.9 10.5 -12.8 13.1 -20.3 11.2 -20.7 9.5 -9.9 7.6 -4.3 6.9 -3 11.1 -3.4 11 -2.5 12.5 -1.7 12.4 -0.8 171.4 1.2M1364.5 1215.6l0.8 0 -0.3 -1.5 -1.5 -1.3 1 2.8M1693.5 1139l-2.5 2.9 -3.5 1.3 -16.6 -2.3 -6.2 0.1 -6.2 0.8 -9 2.6 -9 4.5 -5.5 3.9 -5.5 5.1 -45.7 54.8 -11 11.4 -10.3 8.9 -11.1 7.6 -13.1 6.6 -29.7 12.1 -17.3 5.2 -9.7 2 -12.4 1.6 -23.5 1 -17.3 -1.1 -15.9 -4.1 -6.4 -3.3 -9 -7.3 -27.4 -33.2 -1.4 -1.2 -0.6 0.3 9.6 27.6 8.6 28.3 14.2 42.5 3.5 7.7 5.2 8.7 13 13.8 0.8 2.1 -0.1 2.2 -2.1 4.4 1 0.7 4.4 0.7 26.1 3.6 4.2 1.6 3 2.5" stroke="#48c6ff"/>
<path d="M1468.6 1355.6l0 -1.3 1.5 -1M1472.7 1352.8l2 -2.3 12.4 -6.8 42.9 -18.8 33.1 -13.8 11.8 -6 9.7 -6.3 11 -9.5 9.7 -11.5 13.8 -20.7 11.2 -20.5 5.4 -6.2 3.4 -3.4 3.5 -2.5 7.6 -4.1 6.2 -2.5 10.4 -3.2 11 -2.5 11.8 -1.6 12.4 -0.9 171.4 1.2M1693.6 1139.2l-2.6 3.1 -3.5 1.4 -17.3 -1.3 -11.7 1.2 -9 2.8 -8.3 4.2 -6.2 4.5 -6.2 5.9 -44.8 53.1 -10.6 10.9 -10.1 8.7 -11.2 7.5 -12.7 6.3 -30.8 12.4 -16.6 5 -9.7 2 -12.4 1.6 -24.2 1 -17.3 -1.2 -15.9 -4.1 -6.9 -3.6 -8.9 -7.3 -27.7 -33.1 0 1.2 10.1 26.1 7.9 26.2 6.9 19.3 7.6 18.7 6.8 12.8 5.6 7.7 10.4 11.2 6.2 9.2 3.4 3.9 3.4 1.4 17.4 2.7 3.4 1.5 2.4 2" stroke="#49cffe"/>
<path d="M1468.3 1356l0.2 -2.1 1.8 -0.8M1472.3 1352.8l0.9 -1.4 1.5 -1.2 13.1 -7.2 42.2 -18.8 33.8 -14.2 11.1 -5.7 9.7 -6.4 10.5 -9 10.2 -12.1 13.8 -20.4 11.1 -19.8 5.5 -6.3 3.9 -3.8 3.7 -2.6 6.9 -3.7 6.9 -2.9 10.4 -3.2 11 -2.5 12.5 -1.7 11.7 -0.8 170.7 1.1M1370.9 1223.6l0.2 0.5 0.1 -0.5 -0.3 0M1693.7 1139.3l-2.7 3.4 -2.8 1.4 -4.1 0.4 -13.9 -0.7 -8.9 1 -10.4 3 -9.7 5 -6.4 4.7 -6.7 6.5 -43.5 51.2 -10.3 10.5 -9.8 8.4 -10.3 7 -11.8 5.9 -32.5 13 -14.5 4.6 -10.3 2.4 -11.1 1.5 -11 1 -13.8 0.4 -19.4 -1 -15.2 -3.7 -7.6 -3.3 -10 -7.8 -23.2 -28.1 -2 -2 -0.6 0.3 9.8 24 7.2 23.9 5 13.7 8.3 18.6 7.6 13.5 9 11.6 19.3 19.7 11.5 7.9 9.2 2.3 4.1 2.8" stroke="#4cd6fa"/>
<path d="M1467.8 1356.5l-0.2 -1.5 0.7 -1.4 0.9 -0.7 1.3 0M1472 1352.8l2 -2.5 13.1 -7.3 42.9 -19.5 33.8 -14.3 11.1 -5.7 9 -5.9 10.3 -8.7 10.4 -12.1 14.5 -21 11 -19.2 6.2 -7.2 3.5 -3.3 5.6 -3.6 6.2 -3.2 6.9 -2.8 10.4 -3.2 11 -2.4 11.8 -1.7 11 -0.7 170.7 1.1M1693.8 1139.4l-2.1 3.2 -3.5 2 -4.1 0.6 -14.6 0.1 -8.2 1.2 -9.9 3 -9.5 4.9 -6.9 5.1 -6.9 6.7 -12.4 13.9 -30.5 36.2 -10 10.2 -9.4 8 -10.3 6.9 -10.5 5.4 -34.4 13.6 -12.4 4 -17.3 3.8 -22.1 1.9 -13.8 0.2 -11.7 -0.6 -6.9 -1 -9.7 -2.5 -9 -3.6 -10.4 -7.8 -23.5 -27.6 9.7 23.2 5.8 20.4 3.9 10.6 8.3 17.3 8.3 13.7 10.3 12.8 15.2 14.3 11.1 8.6 11 7.6 4.9 2.3 2.3 1.8" stroke="#50dcf7"/>
<path d="M1694 1139.6l-2.3 3.4 -4.2 2.4 -4.1 0.6 -13.9 0.7 -8.2 1.4 -9.7 3.2 -9.7 5.1 -6.9 5.2 -7.6 7.3 -11.7 13.1 -29.6 35 -9.3 9.5 -9.5 8.1 -9.7 6.7 -10.6 5.5 -44.7 17 -17.9 4.3 -20.7 2.3 -22.8 0.2 -10.4 -0.9 -6.9 -1.3 -13.1 -4.1 -7.6 -4.7 -6.9 -5.7 -15.2 -18.1 -2.1 -2.2 -0.6 0.1 7.3 17.5 5.4 19.6 5.2 12.6 5.5 10.4 6.2 9.9 6.2 8.3 6.2 7 7.6 7.3 9 7.5 29 21.3 2.8 -2.3 1.4 -0.4 1.4 0.2 2 -2.2 18.7 -10.1 38.7 -17.7 33.1 -14.2 10.4 -5.3 9 -5.9 10.8 -9 9.9 -11.4 15.2 -21.7 10.9 -18.5 6.4 -7.4 4.1 -3.8 4.9 -3.1 6.9 -3.6 6.9 -2.8 10.3 -3.2 10.4 -2.3 11.8 -1.8 11 -0.7 170.7 1" stroke="#53e3f3"/>
<path d="M1694.1 1139.7l-2.4 3.9 -4.2 2.4 -4.1 0.9 -14.5 1.3 -7.6 1.5 -9.7 3.4 -9 4.8 -7.6 5.8 -8.3 8 -11 12.2 -28.7 33.9 -9.3 9.4 -9.4 8 -9.5 6.5 -9.7 5.1 -43.3 16.5 -19.3 5 -18.7 2.3 -22.8 0.5 -17.3 -1.4 -14.5 -4 -7.6 -3.7 -9.6 -7.6 -13.2 -14.6 5.1 13.5 3.7 15.3 3.7 9.6 4.8 9.1 6.9 10.6 6.9 8.8 6.9 7.4 7.6 6.9 8.3 6.5 26.5 18.1 3.1 2.9 1.6 2.9 2.7 0 22.1 -11.9 38 -17.6 35.2 -15.2 9 -4.8 7.6 -5 10.6 -8.7 10.1 -11.5 15.2 -21.1 11.5 -19 6.5 -7.6 4.1 -3.8 5.6 -3.5 6.9 -3.6 7.6 -3 10.3 -3.2 10.4 -2.3 11 -1.6 10.4 -0.7 170.7 1" stroke="#56eaf0"/>
<path d="M1694.2 1139.8l-2.5 4.4 -3.5 2.2 -4.8 1.3 -15.9 2.2 -9 2.3 -10.4 4.4 -9 5.7 -7.6 6.5 -8.9 9.2 -30.4 35.7 -12.1 12.8 -14.2 11.8 -7.5 4.9 -7.1 3.6 -42.7 16.2 -15.2 4.3 -9.7 2 -12.4 1.5 -23.5 0.8 -19.4 -1.4 -9 -2.2 -8.9 -3 -4.9 -2.7 -9 -6.8 -9.2 -9.4 2.7 8.7 2.8 13.1 3 8 4.9 9 7.6 10.7 7.6 8.7 9 8.4 9.6 7.6 11.8 7.8 24.9 14.7 5.5 2.8 1.4 0.1 51.8 -24.2 34.5 -14.9 9.7 -5.1 8.3 -5.4 10.4 -8.5 9.6 -10.9 15.9 -21.7 11.4 -18.4 6.7 -8 4 -3.5 6.2 -4.1 7 -3.5 8.2 -3.3 10.4 -3.1 10.4 -2.3 10.3 -1.5 10.4 -0.6 170 1" stroke="#5af1ed"/>
<path d="M1694.3 1139.9l-2 4.1 -4.1 3.1 -4.8 1.5 -16.6 2.8 -8.3 2.4 -10.1 4.4 -9.3 6 -7.6 6.5 -8.9 9.2 -29.7 34.9 -11.8 12.4 -7.4 6.5 -7.1 5.4 -7.5 4.8 -7.1 3.6 -42.1 15.6 -8.9 2.8 -17.3 3.9 -21.4 2.1 -25.6 -0.4 -8.3 -1 -7.6 -1.8 -8.3 -2.6 -4.8 -2.1 -15.9 -11.9 1.6 12.1 3 9.5 5.1 9 7.6 9.9 9 9.4 10.3 8.6 12.5 8.4 14.5 8.2 20 9.9 8.3 3.4 2.1 0.3 3.7 -1 13.4 -5.8 27.1 -13.1 33.1 -14.5 10.4 -5.3 9 -5.8 10.3 -8.6 9.7 -10.9 15.9 -21.4 11.8 -18.5 6.2 -7.3 4.1 -3.7 6.9 -4.5 6.9 -3.5 8.3 -3.3 9.7 -3 10.4 -2.3 10.3 -1.6 10.4 -0.6 170 0.9" stroke="#60f6e5"/>
<path d="M1694.5 1140l-2.2 4.8 -4.1 3.1 -4.8 1.6 -15.2 3 -9.7 2.9 -10.4 4.7 -9 6 -7.6 6.5 -8.9 9.1 -28.9 33.9 -11.7 12.3 -7.4 6.6 -7.3 5.5 -6.9 4.4 -6.9 3.5 -51.8 18.4 -17.3 3.9 -20.7 2.1 -20.8 0 -11 -0.9 -6.2 -1.1 -9.7 -2.7 -6.9 -2.6 -11.8 -8 -2.7 -1.2 -0.6 1.9 0.5 5.1 2.8 9.4 4.9 8.5 8.3 10 10.3 9.6 11.1 8.1 13.1 7.8 16.6 7.9 29 11.4 4.1 0.7 8.4 -3 26.9 -13 34.5 -15.2 9.7 -5 9 -6.1 9.5 -7.9 9.8 -11.1 16.6 -22.1 11 -16.9 6.8 -8 5 -4.2 6.9 -4.3 6.9 -3.4 8.3 -3.3 10.4 -3.1 9.7 -2.1 9.6 -1.4 9.7 -0.6 170 0.9" stroke="#6cf7d5"/>
<path d="M1694.6 1140l-1.9 5.1 -4.5 3.6 -4.8 1.8 -15.9 3.6 -9.7 3.2 -9.7 4.6 -9 6 -7.6 6.5 -8.9 9.1 -27.9 32.8 -11.8 12.3 -14.1 11.7 -7 4.5 -6.9 3.5 -53.2 18.5 -17.3 3.9 -20.1 2 -20.7 0 -16.6 -1.7 -17.2 -5.3 -11.1 -7.2 -2.7 -1.1 -0.6 1.8 0.5 4.3 2.5 8 5.2 8.3 8.9 9.7 10.4 8.6 11.7 7.6 12.5 6.4 14.5 6.2 39.8 13.5 1.6 0 62.9 -28.2 9 -4.8 9 -6.2 9 -7.6 9.6 -11 16.6 -21.7 10.8 -16.4 6.8 -8 5.2 -4.4 6.9 -4.4 8.3 -4.1 8.3 -3.2 9.7 -2.8 9.6 -2.2 9 -1.3 9.7 -0.6 170 0.9" stroke="#77f9c6"/>
<path d="M1694.8 1140l-1.8 5.5 -2 2.2 -2.8 1.8 -4.8 2 -16.6 4.2 -9 3.2 -9.7 4.7 -9 6.1 -7.6 6.5 -8.9 9.1 -27 31.7 -11.7 12.4 -14.2 11.6 -7.2 4.6 -6.7 3.4 -9.7 3.6 -18.9 5.7 -20.7 7.8 -13.1 3.4 -10.4 2 -21.4 1.8 -18 -0.2 -13.8 -1.2 -9 -2.1 -10.3 -3.5 -3.5 -1.7 -8.3 -5.5 -1.4 -0.4 -0.5 1.2 0.2 2.9 2.1 7.2 5.1 8.2 9.7 9.6 12.5 9 13.8 7.5 14.5 6.1 16.6 5.3 17.9 4.3 25.6 4.8 10.3 -3.9 40.1 -17.7 9 -4.8 10.4 -7.1 8.3 -7.1 10.3 -11.9 15.9 -20.5 10.7 -15.9 6.8 -8 5.3 -4.5 7.6 -4.9 8.3 -4.1 9 -3.5 9.7 -2.8 9.6 -2.1 8.3 -1.2 9 -0.5 170 0.8" stroke="#82fbb7"/>
<path d="M1695 1140l-0.6 3.7 -0.9 2.2 -2.5 2.7 -2.8 1.9 -5.5 2.2 -15.9 4.5 -9.7 3.5 -9.7 5 -8.9 6.3 -7.6 6.7 -8.3 8.4 -26 30.7 -11.7 12.3 -6.6 5.8 -7.6 5.7 -7.6 4.9 -6.2 3.1 -10.3 3.7 -18.7 5.4 -21.4 8 -13.1 3.3 -10.4 2 -20.7 1.8 -18.7 -0.2 -13.8 -1.3 -9 -2.2 -10.3 -3.5 -11.8 -6.6 -0.6 0.6 0.1 2.2 1.9 6.5 2.1 3.9 3.4 4.3 11.1 9.6 13.8 8.4 15.9 7.1 15.9 5.2 16.6 3.8 13.8 2 35.2 4 4.3 -1.1 11.1 -4.3 22.6 -10.1 8.4 -4.5 11.6 -8.1 7.6 -6.9 12.5 -14.5 13.8 -17.8 9.9 -14.4 7.4 -8.6 6.2 -5.1 7.6 -4.7 8.3 -4.1 9 -3.3 18.6 -4.8 8.3 -1.2 8.3 -0.4 170 0.8" stroke="#8efda8"/>
<path d="M1695.2 1140l-0.3 3.7 -1.2 2.8 -2 2.5 -2.8 2 -5.5 2.5 -17.3 5.3 -9 3.5 -9.7 5.1 -8.9 6.3 -7.6 6.7 -8.2 8.3 -25.1 29.8 -11.7 12.3 -13.8 11.2 -7.6 4.9 -6.2 3.2 -10.4 3.7 -20 5.5 -21.4 8 -15.9 3.9 -8.3 1.4 -20 1.6 -18.7 -0.2 -13.8 -1.3 -9 -2.2 -9.6 -3.3 -11.1 -5.9 -0.7 0.6 0 0.9 1.6 5.8 2.5 4.3 3.5 3.8 11.8 9 14.5 7.7 17.2 6.3 14.5 3.8 15.2 2.5 13.9 1.3 27.8 1.2 17.1 2.6 2.7 0 13.3 -4.7 16.4 -7.9 15.9 -10.9 6.3 -5.9 13.1 -15.2 13.1 -16.6 9.8 -14 7.4 -8.7 6.3 -5.2 8.3 -5.2 8.3 -4.1 9.6 -3.5 18.7 -4.7 15.2 -1.4 170 0.8" stroke="#99ff99"/>
<path d="M1695.4 1140l-0.1 3.7 -0.9 2.9 -2.1 2.8 -3.4 2.6 -6.2 2.9 -16.6 5.3 -9.7 4 -9.7 5.3 -8.9 6.5 -6.9 6.1 -7.9 8.1 -24.4 29 -12 12.6 -6.3 5.6 -7.5 5.6 -7.6 4.8 -6.2 3.2 -10.4 3.6 -20.7 5.3 -20.7 7.8 -16.6 4 -8.3 1.4 -20 1.6 -18.7 -0.3 -13.8 -1.3 -8.3 -2.1 -10.3 -3.4 -9.7 -5 -0.7 0.2 -0.1 0.7 1.1 4.4 2.4 4 3.5 3.5 6.2 4.7 6.9 4.2 14.5 6.5 18 5.4 12.4 2.5 13.2 1.7 13.8 0.7 33.1 0.1 11.1 1.1 14.5 2.7 3.5 -0.1 9.3 -3.6 8.6 -4.3 11.8 -8.1 5.5 -4.5 18.6 -21.2 11.1 -13.8 11.1 -15.2 4.8 -5.9 4.1 -3.9 6.3 -4.6 8.9 -5.1 6.9 -3.2 9.7 -3.5 18 -4.3 14.5 -1.3 169.3 0.8" stroke="#a6ff8a"/>
<path d="M1695.6 1140l0.2 4.4 -0.7 2.3 -2.1 3.1 -3.4 2.8 -6.2 3.2 -17.8 6 -9.2 3.9 -9.7 5.4 -8.9 6.6 -6.9 6.1 -7.6 7.9 -23.5 28 -11.9 12.6 -13 10.6 -8.3 5.4 -6.2 3.3 -10.4 3.5 -22.1 5.4 -20.7 7.8 -24.2 5.3 -20 1.6 -20.1 -0.4 -16.5 -2 -15.9 -5.1 -7.6 -3.8 -0.7 0.1 -0.2 1 0.9 2.9 2 3.2 3.5 3.1 6.2 4.1 6.9 3.8 14.5 5.6 17.3 4.4 14.5 2.2 14.5 1 12.4 -0.2 25.6 -1.6 11.8 0.2 13.8 2 15.2 4.3 2 0.1 9.6 -3.9 11.9 -8.1 6.2 -5.2 19.3 -22 24.2 -31.2 5.5 -5.4 6.3 -4.7 9.6 -5.6 7.6 -3.5 9.7 -3.4 17.3 -4.1 13.8 -1.2 169.3 0.8" stroke="#b3ff7b"/>
<path d="M1695.8 1140l0.6 4.4 -0.8 2.9 -1.9 2.9 -3.4 3.1 -6.9 3.6 -18 6.4 -9.7 4.3 -9.6 5.5 -9 6.8 -13.8 13.5 -22.8 27.3 -11.8 12.5 -12.4 10.2 -8.6 5.6 -6.6 3.6 -10.4 3.3 -22.8 5.3 -20.7 7.8 -24.2 5.2 -20 1.6 -20.1 -0.5 -15.9 -1.9 -14.5 -4.5 -8.9 -3.7 0.3 2.7 1.7 2.4 4.2 3.2 13.1 6.7 13.8 4.6 15.2 3.1 15.9 1.9 15.9 0.3 13.1 -1 24.9 -3.4 11.7 -0.3 8.3 1 9.7 2.2 19.3 6.7 3.5 -1.3 6.9 -4.3 6.2 -4.4 4.2 -3.9 26.9 -31.2 15.9 -20.7 5.5 -5.4 6.9 -5.2 9.7 -5.6 7.6 -3.5 10.4 -3.6 16.6 -4 12.4 -1 170 0.8" stroke="#c1ff6c"/>
<path d="M1696.1 1140l0.9 4.4 -0.2 2.2 -1.7 3.3 -2.8 3 -3.4 2.4 -4.8 2.5 -18.7 7 -9 3.9 -8.3 4.7 -7.6 5.3 -7.6 6.5 -8.3 8.4 -23.1 27.8 -12.8 13.6 -12.1 9.6 -14.8 8.9 -11.1 3.3 -20.8 4.5 -22.7 8.4 -24.2 5.1 -20 1.5 -20.8 -0.6 -14.5 -1.6 -12.4 -3.8 -9.7 -3.7 -0.7 -0.1 0 1.4 1.4 1.7 3.5 2.3 14.5 6.5 12.4 3.3 13.8 2.2 16.6 1.5 18.7 -0.5 14.5 -2.3 23.5 -5.7 8.9 -0.7 7.6 0.9 9.7 2.3 12.5 3.9 14.5 5.4 2 0.3 7 -3.7 5.5 -4.9 26.9 -30.6 16.6 -21.3 4.8 -4.6 6.9 -5.2 10.4 -6.2 8.3 -3.7 10.4 -3.6 15.9 -3.7 11.7 -0.9 170 0.7" stroke="#cdff5b"/>
<path d="M1459.4 1280.9l17.4 -0.1 9 -0.7 6.2 -1.2 17.9 -5.6 8.3 -4 5.8 -3.6 -4.3 0.7 -11.8 4.2 -19.4 4.1 -25.5 2.4 -5.6 -0.6 -15.2 0 -13.8 -1.5 -20 -6.4 -1.4 0 10.4 5.1 10.3 3.4 13.9 2.4 17.8 1.4M1696.4 1140l1.3 3.7 -0.1 2.9 -1.6 3.6 -3 3.3 -3.4 2.6 -4.9 2.6 -20 7.8 -9 4.1 -8.3 4.8 -7.6 5.4 -7.6 6.7 -8.1 8.5 -19.5 23.7 -8.6 9.7 -7.3 7.3 -6.2 5.2 -11.8 7.9 -8.9 5.1 -24.9 6 -4.2 1.2 -1.6 0.7 -0.4 0.7 5.1 2.2 48.8 16.3 2.7 0.2 3.5 -2.4 13.1 -13.9 20 -23.2 11.1 -14.4 8.3 -7.4 11 -7.2 9 -4.5 13.2 -4.7 14.5 -3.5 6.9 -0.8 12.4 -0.3 163.1 0.8" stroke="#daff49"/>
<path d="M1696.8 1140l1.9 4.4 -0.3 2.9 -2.3 4.4 -3.6 3.6 -8.4 5 -27 11.1 -7.6 4.2 -6.9 4.7 -7.6 6.2 -8.3 8.3 -24.2 29.2 -15 15.5 -9.8 7.3 -13.9 8.6 -10.2 3 -4.1 1.5 -0.4 0.7 30.6 10.9 11.1 2.9 2.1 0.3 1.3 -0.4 9.7 -9.3 13.8 -15.3 17.5 -21.8 8.8 -7.8 11 -7.1 9 -4.5 13.1 -4.7 14.6 -3.6 6.2 -0.7 12.4 -0.2 163.1 0.8" stroke="#e3fa3e"/>
<path d="M1697.4 1140l2.4 3.7 -0.1 2.9 -1.9 4.3 -3.7 4.4 -3.8 2.9 -4.9 2.7 -20.7 8.4 -9 4.3 -8.3 4.8 -6.9 5 -6.9 6 -7.8 8 -20.6 25.4 -13.7 14.9 -7.6 6.3 -16.4 10.8 -2.7 2.9 5.9 2.7 15.2 4.6 9 1.9 4.9 -0.2 3.4 -2.2 4.9 -4.8 16.5 -18.4 10.4 -13.4 9.7 -8.6 11.7 -7.5 8.3 -4 11.8 -4.3 15.2 -3.9 5.5 -0.7 11.7 -0.2 164.5 0.7" stroke="#e9f135"/>
<path d="M1700.5 1140l1.1 2.2 -0.8 5.1 -2.2 4.5 -3.6 4.2 -4 3.1 -5.6 3.1 -20 8.2 -9.7 4.6 -8.3 4.9 -6.9 5 -6.9 6.1 -7.6 7.9 -19.3 24.2 -12.5 13.6 -6 5.7 -13.3 9.5 -0.7 1.6 16.6 5.2 11.7 2.6 2.1 -0.1 2.8 -1.8 10.3 -10.7 7.6 -8.5 9.7 -12.5 9.7 -8.6 11.7 -7.7 8.3 -4.1 11.8 -4.4 15.8 -4.1 16.6 -0.7 164.5 0.7" stroke="#f0e72d"/>
<path d="M1764.1 1140l-51.7 1.1 -4.9 0.7 -2.7 1.1 -1.4 1.6 -2.6 5.7 -2.2 3.6 -6.3 5.8 -7.6 4.2 -19.3 8 -9.7 4.7 -9 5.3 -8.2 6.3 -13.5 13.7 -15.6 19.9 -6.6 7.7 -11.3 12 -7.3 6.1 -0.8 1.5 21.9 6.8 3.4 0.3 2.1 -1.3 6.2 -5.8 6.9 -7.5 11.4 -14.3 7.3 -6.7 4.8 -3.6 10.4 -6.7 9 -4.2 10.3 -3.8 15.9 -4.2 15.2 -0.5 165.2 0.6" stroke="#f7dd24"/>
<path d="M1853.7 1140l-137.9 1.9 -4.8 0.3 -3.2 0.8 -3 2.3 -3.3 6.4 -2.6 3.6 -6.6 5.7 -7.6 4.1 -19.3 8.1 -9.7 4.7 -9.6 5.8 -7.6 5.9 -13.3 13.6 -16.2 21.1 -16.2 18.1 -0.7 2.2 16.6 6.4 2.8 0.6 1.4 -0.4 4.1 -2.9 7.6 -7.9 10.5 -13.2 8.2 -7.6 6.9 -4.9 8.3 -5.3 9 -4.1 9.6 -3.7 15.9 -4.3 14.5 -0.4 165.9 0.6" stroke="#fed31b"/>
<path d="M1873.4 1141.3l-156.2 1.3 -7.6 0.7 -3.5 2.6 -4 7.2 -2.8 3.6 -6 5.1 -7.9 4.3 -19.3 8.2 -9.7 4.6 -9 5.3 -7.6 5.7 -7.1 6.8 -7.3 8 -14.6 19.4 -10.4 11.8 -2 3.6 15.6 8.8 1.7 0 8.9 -8.2 10.4 -13.1 9 -8.2 9 -6.3 6.2 -3.9 13.8 -6.1 20 -5.9 180.4 0.3" stroke="#ffc416"/>
<path d="M1873.4 1142.2l-155.5 1.1 -7.6 0.6 -2.8 2 -3.8 7.2 -2.6 3.6 -6.7 5.9 -8.3 4.6 -20 8.5 -9.7 4.6 -9 5.3 -6.9 5.2 -7 6.6 -7.3 8 -14 19.1 -6 7.1 -1.7 2.9 0.8 1.3 10.3 8.8 2.1 0.8 6.9 -5.7 10 -12.5 6.6 -6.3 14.5 -10.7 8.3 -4.4 10.4 -4.4 18.6 -5.6 180.4 0.4" stroke="#ffb412"/>
<path d="M1873.4 1143l-155.5 0.9 -7.6 0.7 -2.2 2 -2.4 5.8 -2.8 4.3 -3.5 3.7 -3.7 2.9 -8.9 4.9 -29.7 13.1 -9 5.2 -6.8 5.1 -7.7 7.3 -7.1 8 -14.5 20.3 -1.5 2.9 1.7 3.6 4.1 5.8 2.7 2.9 1.5 0.1 4.1 -3.2 9.7 -12.1 7.6 -7.2 14.5 -10.7 8.3 -4.3 9.7 -4.1 18.6 -5.9 180.4 0.6" stroke="#ffa30e"/>
<path d="M1873.4 1143.7l-154.8 0.9 -7.6 0.4 -1.9 1.6 -1.7 5.8 -2.6 4.3 -3.2 3.7 -4.6 3.6 -9.5 5.3 -30.4 13.4 -9 5.1 -6 4.5 -8.5 8.2 -6.9 7.8 -9.1 13.1 -1.5 2.9 -0.4 2.2 1.3 5.1 2.1 5 2.1 3.3 1.4 0.3 2 -1.4 2.8 -3.1 6.9 -8.9 7.6 -7.2 15.9 -11.6 16.6 -7.7 18.6 -6.1 51.9 0.6 128.5 0.2" stroke="#ff9109"/>
<path d="M1873.4 1144.4l-154.1 0.9 -8.3 0.4 -1.1 0.9 -0.6 5.1 -2 4.3 -3.6 4.4 -4.4 3.8 -9.9 5.6 -22.6 9.6 -13.1 6.5 -8.1 5 -7.1 6.2 -9.9 10.5 -7.3 10.9 -0.8 2.9 1.3 11.6 1.5 5 1.3 0 4.2 -4.3 5.5 -7.2 8.3 -7.9 14.5 -10.8 16.6 -7.9 13.8 -4.3 5.5 -2.3 50.5 0.9 129.9 0.1" stroke="#ff7f05"/>
<path d="M1873.4 1145.1l-147.9 0.9 -13.8 0.4 -0.9 0.9 0.5 4.4 -1.9 4.3 -3.4 4.4 -5 4.3 -10.7 6.2 -24.2 10.2 -14.5 7.2 -7.1 4.8 -9.1 8.7 -6 6.5 -3.9 6.5 1.2 8.8 -1.5 11.6 0.8 0.5 1.4 -1.1 6.3 -8.1 8.9 -8.5 14.5 -10.9 16.6 -7.9 13.8 -4.4 4.8 -2.4 51.2 1.1 129.9 0.1" stroke="#fd6d03"/>
<path d="M1873.4 1145.9l-142.4 1 -15.2 0.6 -1.1 0.5 -1.5 5.1 -2.4 4.4 -3 3.6 -4.1 3.6 -11.2 6.6 -26.4 11.1 -17.3 8.7 -4.8 3.7 -8.5 8.4 -3.8 4.4 -1.1 2.9 7.9 8.7 19.3 -13.6 15.2 -7.2 13.8 -4.4 4.2 -2.4 2.7 -0.5 49.1 1.6 130.6 0.1" stroke="#f85902"/>
<path d="M1873.4 1147l-137.5 1.3 -13.8 0.9 -4.2 2.1 -7.4 9.8 -7 5.8 -10.5 5.6 -24.8 10.3 -18.7 9.1 -3.7 2.6 -5.3 5.1 -3.7 4.4 -0.6 1.4 0.9 1 3.4 0.9 3.5 0 3.4 -0.7 24.2 -9.6 13.1 -4.1 5.6 -2.4 3.4 -0.7 49.8 1.8 129.9 0.1" stroke="#f44500"/>
<path d="M1873.4 1148.6l-136.8 1.8 -12.5 0.8 -2.7 1 -2.1 1.5 -7.2 8.9 -7.3 5.5 -11.1 5.6 -23.5 9.5 -19.3 9.1 -5.1 3.7 -3.2 3.6 -0.6 1.5 3.4 0.6 6.2 -1 38 -11.5 5.5 -0.9 11.8 0.1 13.1 1.3 22.8 0.5 130.6 0.2" stroke="#ef3300"/>
<path d="M1873.4 1150.7l-136.1 1.7 -12.5 0.8 -3.4 1.6 -6.6 8.5 -7.9 5.7 -12.4 5.9 -21.5 8.4 -11.9 5.4 -11.6 5.8 -1.6 2.2 2.3 0.2 6.9 -1.1 33.2 -8.2 8.3 -0.9 9.6 0.1 10.4 1.6 18.7 0.3 136.1 0.4" stroke="#ea2000"/>
<path d="M1873.4 1152.7l-136.1 1.8 -12.5 0.6 -2.7 1.4 -1.5 3.9 -2.7 3.6 -7 5.1 -16.2 7.3 -22.7 8.7 -9.2 4.3 -3.4 2.2 1.2 0.4 3.4 -0.4 28.3 -5.9 11.1 -0.8 6.2 0.2 6.9 1.8 4.9 0.2 152 0.7" stroke="#e50d00"/>
<path d="M1873.4 1154.7l-123.7 1.9 -22.8 0.9 -1.2 0.7 -1.5 3.6 -2.4 2.9 -7.2 5.1 -41.7 16.7 0.1 0.7 0.7 0 20.7 -3.4 11.1 -0.8 5.5 0.4 5.5 1.8 4.2 0.3 152.7 0.8" stroke="#d20b00"/>
<path d="M1873.4 1157.3l-93.3 2.4 -40.1 2.5 -8.3 1.9 -15.3 7.9 -13.7 4.3 -14.2 5.9 1.8 0.4 17.2 -1.5 11.1 1.6 9 0.3 59.4 0.9 86.4 -0.1" stroke="#bf0800"/>
<path d="M1873.4 1165.8l-40.1 -1.3 -26.3 -0.3 -22.8 0.1 -20 1.2 -15.9 1.4 -10.4 1.6 -22.8 6.9 -9.6 1.9 -2.9 1.2 1.5 0.6 22.1 1 58.7 1.4 42.9 -0.4 45.6 -1.3" stroke="#ac0600"/>
<path d="M1769 1178.5l18 0.6 40.8 -0.8 33.7 -1.9 5.1 -0.8 0.6 -0.7 -13.2 -2.2 -22.8 -2.3 -44.2 -1.4 -14.5 0.8 -23.5 2.4 -14.6 2.7 -4.7 1.5 10.3 1 29 1.1" stroke="#990400"/>
<path d="M1778.6 1176.4l17.7 0 12.6 -0.8 0.4 -0.7 -23.7 -1.4 -13.3 1.4 0 0.7 6.3 0.8" stroke="#860200"/>
</g>
<g class="geo"><polygon points="1416.3,1411.3 1416.3,1411.3 1416.3,1411.3 1416.3,1411.3 1416.3,1411.3 1416.3,1411.3 1416.3,1411.3 1416.3,1411.3 1416.3,1411.3 1416.3,1411.3 1416.3,1411.3 1416.3,1411.3 1416.3,1411.3 1416.3,1411.3 1416.3,1411.3 1416.3,1411.3 1361.8,1353.2 1107.5,1353.2 1107.5,1139.7 1410.1,1139.7 1410.1,1192.0 1361.8,1192.0 1361.8,1206.5 1410.1,1206.5 1410.1,1256.6 1422.6,1256.6 1422.6,1206.5 1470.9,1206.5 1470.9,1192.0 1422.6,1192.0 1422.6,1139.7 1584.2,1139.7 1639.5,1081.6 1639.5,1081.6 1639.5,1081.6 1639.5,1081.6 1639.5,1081.6 1639.5,1081.6 1639.5,1081.6 1639.5,1081.6 1639.5,1081.6 1639.5,1081.6 1639.5,1081.6 1639.5,1081.6 1639.5,1081.6 1639.5,1081.6 1639.5,1081.6 1639.5,1081.6 1639.5,1081.6 1694.8,1139.7 1873.7,1139.7 1873.7,1353.2 1646.4,1353.2 1646.4,1237.0 1632.6,1237.0 1632.6,1353.2 1470.9,1353.2 1416.3,1411.3 1416.3,1411.3"/></g>
<rect class="frm" x="1085.3" y="1064.0" width="809.2" height="367.0"/>
<path class="frm" d="M1107.5 1431.0v-7M1107.5 1064.0v7M1245.7 1431.0v-7M1245.7 1064.0v7M1383.9 1431.0v-7M1383.9 1064.0v7M1522.0 1431.0v-7M1522.0 1064.0v7M1660.2 1431.0v-7M1660.2 1064.0v7M1798.4 1431.0v-7M1798.4 1064.0v7M1085.3 1411.3h7M1894.5 1411.3h-7M1085.3 1382.2h7M1894.5 1382.2h-7M1085.3 1353.2h7M1894.5 1353.2h-7M1085.3 1324.2h7M1894.5 1324.2h-7M1085.3 1295.1h7M1894.5 1295.1h-7M1085.3 1266.0h7M1894.5 1266.0h-7M1085.3 1237.0h7M1894.5 1237.0h-7M1085.3 1208.0h7M1894.5 1208.0h-7M1085.3 1178.9h7M1894.5 1178.9h-7M1085.3 1149.9h7M1894.5 1149.9h-7M1085.3 1120.8h7M1894.5 1120.8h-7M1085.3 1091.8h7M1894.5 1091.8h-7"/>
<g class="tl" font-size="20.5"><text x="1107.5" y="1454.8" text-anchor="middle">0</text><text x="1245.7" y="1454.8" text-anchor="middle">100</text><text x="1383.9" y="1454.8" text-anchor="middle">200</text><text x="1522.0" y="1454.8" text-anchor="middle">300</text><text x="1660.2" y="1454.8" text-anchor="middle">400</text><text x="1798.4" y="1454.8" text-anchor="middle">500</text><text x="1079.3" y="1417.7" text-anchor="end">-40</text><text x="1079.3" y="1388.6" text-anchor="end">-20</text><text x="1079.3" y="1359.6" text-anchor="end">0</text><text x="1079.3" y="1330.5" text-anchor="end">20</text><text x="1079.3" y="1301.5" text-anchor="end">40</text><text x="1079.3" y="1272.4" text-anchor="end">60</text><text x="1079.3" y="1243.4" text-anchor="end">80</text><text x="1079.3" y="1214.3" text-anchor="end">100</text><text x="1079.3" y="1185.3" text-anchor="end">120</text><text x="1079.3" y="1156.2" text-anchor="end">140</text><text x="1079.3" y="1127.2" text-anchor="end">160</text><text x="1079.3" y="1098.1" text-anchor="end">180</text></g>
<text class="tt" x="1035.5" y="1051.5" font-size="20.5">Re =3000</text>
<text class="tt" x="1334.0" y="1051.5" font-size="20.5">Contour: Velocity magnitude (m/s)</text>
<text class="tt" x="1019.7" y="1071.3" font-size="16.5">mm</text>
<text class="tt" x="1869.0" y="1453.4" font-size="16.5">mm</text>
<text class="pl" x="1017.8" y="1503.5">(f)</text>
<rect x="1920.0" y="1133.7" width="18.7" height="262.1" fill="url(#cb)"/>
<path d="M1921.1 1136.7V1392.8M1937.6 1136.7V1392.8" stroke="#1a1a1a" stroke-width="2.2" stroke-dasharray="1.6 2.5" opacity="0.75" fill="none"/>
<g class="tl" font-size="20.5"><text x="1951.0" y="1398.7">0.01</text><text x="1951.0" y="1372.7">0.13</text><text x="1951.0" y="1346.8">0.25</text><text x="1951.0" y="1320.8">0.37</text><text x="1951.0" y="1294.9">0.49</text><text x="1951.0" y="1268.9">0.61</text><text x="1951.0" y="1243.0">0.73</text><text x="1951.0" y="1217.0">0.85</text><text x="1951.0" y="1191.1">0.97</text><text x="1951.0" y="1165.1">1.09</text></g>
<polygon points="1905.0,1094.2 1922.0,1094.2 1913.5,1079.7" fill="#000"/>
<text class="tl" font-size="20.5" x="1931.0" y="1096.0">1.18</text>
<polygon points="1905.8,1412.0 1921.7,1412.0 1913.8,1428.0" fill="#000"/>
<text class="tl" font-size="20.5" x="1929.7" y="1428.0">0.015</text>
</g>
</svg></body></html>
